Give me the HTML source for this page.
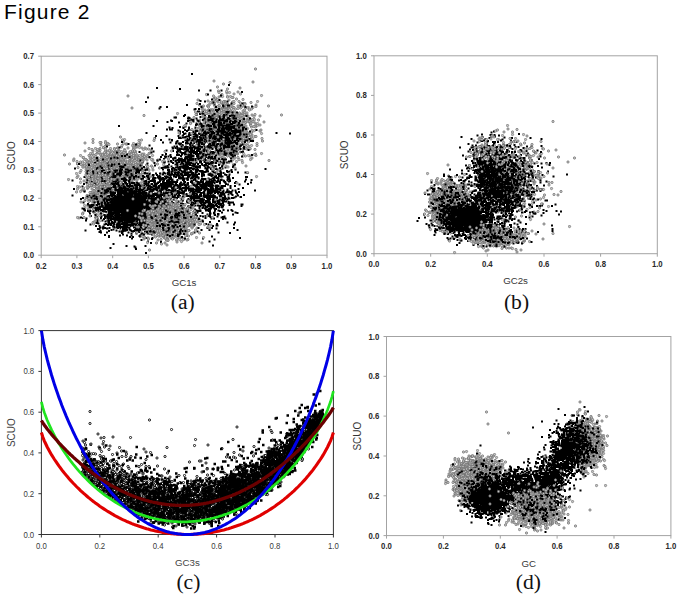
<!DOCTYPE html>
<html><head><meta charset="utf-8"><style>
html,body{margin:0;padding:0;background:#fff;width:685px;height:602px;overflow:hidden}
svg{display:block;font-family:"Liberation Sans",sans-serif}
</style></head><body>
<svg width="685" height="602" viewBox="0 0 685 602">
<defs><marker id="gc" markerWidth="8" markerHeight="8" refX="4" refY="4" markerUnits="userSpaceOnUse"><circle cx="4" cy="4" r="2.3" fill="#c4c4c4" stroke="#6e6e6e" stroke-width="1.4"/></marker><marker id="oc" markerWidth="8" markerHeight="8" refX="4" refY="4" markerUnits="userSpaceOnUse"><circle cx="4" cy="4" r="2.2" fill="#fff" stroke="#000" stroke-width="1.8"/></marker><clipPath id="clc"><rect x="39.4" y="330.6" width="296" height="205.9"/></clipPath></defs>
<text x="4" y="18.6" font-size="21" letter-spacing="1.2" fill="#000">Figure 2</text>
<rect x="41.2" y="56.2" width="285.8" height="199" fill="none" stroke="#a3a3a3" stroke-width="1"/>
<path d="M41.2 255.2v3M76.9 255.2v3M112.7 255.2v3M148.4 255.2v3M184.1 255.2v3M219.8 255.2v3M255.6 255.2v3M291.3 255.2v3M327 255.2v3M41.2 255.2h-3M41.2 226.8h-3M41.2 198.3h-3M41.2 169.9h-3M41.2 141.5h-3M41.2 113.1h-3M41.2 84.6h-3M41.2 56.2h-3" stroke="#a3a3a3" stroke-width="1" fill="none"/>
<text x="41.2" y="268.8" text-anchor="middle" font-size="8.3" font-weight="bold" fill="#2a2a2a" textLength="10.8" lengthAdjust="spacingAndGlyphs">0.2</text>
<text x="76.9" y="268.8" text-anchor="middle" font-size="8.3" font-weight="bold" fill="#2a2a2a" textLength="10.8" lengthAdjust="spacingAndGlyphs">0.3</text>
<text x="112.7" y="268.8" text-anchor="middle" font-size="8.3" font-weight="bold" fill="#2a2a2a" textLength="10.8" lengthAdjust="spacingAndGlyphs">0.4</text>
<text x="148.4" y="268.8" text-anchor="middle" font-size="8.3" font-weight="bold" fill="#2a2a2a" textLength="10.8" lengthAdjust="spacingAndGlyphs">0.5</text>
<text x="184.1" y="268.8" text-anchor="middle" font-size="8.3" font-weight="bold" fill="#2a2a2a" textLength="10.8" lengthAdjust="spacingAndGlyphs">0.6</text>
<text x="219.8" y="268.8" text-anchor="middle" font-size="8.3" font-weight="bold" fill="#2a2a2a" textLength="10.8" lengthAdjust="spacingAndGlyphs">0.7</text>
<text x="255.6" y="268.8" text-anchor="middle" font-size="8.3" font-weight="bold" fill="#2a2a2a" textLength="10.8" lengthAdjust="spacingAndGlyphs">0.8</text>
<text x="291.3" y="268.8" text-anchor="middle" font-size="8.3" font-weight="bold" fill="#2a2a2a" textLength="10.8" lengthAdjust="spacingAndGlyphs">0.9</text>
<text x="327" y="268.8" text-anchor="middle" font-size="8.3" font-weight="bold" fill="#2a2a2a" textLength="10.8" lengthAdjust="spacingAndGlyphs">1.0</text>
<text x="34" y="258.2" text-anchor="end" font-size="8.3" font-weight="bold" fill="#2a2a2a" textLength="10.8" lengthAdjust="spacingAndGlyphs">0.0</text>
<text x="34" y="229.8" text-anchor="end" font-size="8.3" font-weight="bold" fill="#2a2a2a" textLength="10.8" lengthAdjust="spacingAndGlyphs">0.1</text>
<text x="34" y="201.3" text-anchor="end" font-size="8.3" font-weight="bold" fill="#2a2a2a" textLength="10.8" lengthAdjust="spacingAndGlyphs">0.2</text>
<text x="34" y="172.9" text-anchor="end" font-size="8.3" font-weight="bold" fill="#2a2a2a" textLength="10.8" lengthAdjust="spacingAndGlyphs">0.3</text>
<text x="34" y="144.5" text-anchor="end" font-size="8.3" font-weight="bold" fill="#2a2a2a" textLength="10.8" lengthAdjust="spacingAndGlyphs">0.4</text>
<text x="34" y="116.1" text-anchor="end" font-size="8.3" font-weight="bold" fill="#2a2a2a" textLength="10.8" lengthAdjust="spacingAndGlyphs">0.5</text>
<text x="34" y="87.6" text-anchor="end" font-size="8.3" font-weight="bold" fill="#2a2a2a" textLength="10.8" lengthAdjust="spacingAndGlyphs">0.6</text>
<text x="34" y="59.2" text-anchor="end" font-size="8.3" font-weight="bold" fill="#2a2a2a" textLength="10.8" lengthAdjust="spacingAndGlyphs">0.7</text>
<text x="184.1" y="286.2" text-anchor="middle" font-size="9.7" fill="#363636">GC1s</text>
<text transform="translate(15.2 155.7) rotate(-90)" text-anchor="middle" font-size="10" fill="#363636">SCUO</text>
<rect x="374" y="55.8" width="283.3" height="197.9" fill="none" stroke="#a3a3a3" stroke-width="1"/>
<path d="M374 253.7v3M430.7 253.7v3M487.3 253.7v3M544 253.7v3M600.6 253.7v3M657.3 253.7v3M374 253.7h-3M374 214.1h-3M374 174.5h-3M374 135h-3M374 95.4h-3M374 55.8h-3" stroke="#a3a3a3" stroke-width="1" fill="none"/>
<text x="374" y="266.9" text-anchor="middle" font-size="8.3" font-weight="bold" fill="#2a2a2a" textLength="10.8" lengthAdjust="spacingAndGlyphs">0.0</text>
<text x="430.7" y="266.9" text-anchor="middle" font-size="8.3" font-weight="bold" fill="#2a2a2a" textLength="10.8" lengthAdjust="spacingAndGlyphs">0.2</text>
<text x="487.3" y="266.9" text-anchor="middle" font-size="8.3" font-weight="bold" fill="#2a2a2a" textLength="10.8" lengthAdjust="spacingAndGlyphs">0.4</text>
<text x="544" y="266.9" text-anchor="middle" font-size="8.3" font-weight="bold" fill="#2a2a2a" textLength="10.8" lengthAdjust="spacingAndGlyphs">0.6</text>
<text x="600.6" y="266.9" text-anchor="middle" font-size="8.3" font-weight="bold" fill="#2a2a2a" textLength="10.8" lengthAdjust="spacingAndGlyphs">0.8</text>
<text x="657.3" y="266.9" text-anchor="middle" font-size="8.3" font-weight="bold" fill="#2a2a2a" textLength="10.8" lengthAdjust="spacingAndGlyphs">1.0</text>
<text x="366.8" y="256.7" text-anchor="end" font-size="8.3" font-weight="bold" fill="#2a2a2a" textLength="10.8" lengthAdjust="spacingAndGlyphs">0.0</text>
<text x="366.8" y="217.1" text-anchor="end" font-size="8.3" font-weight="bold" fill="#2a2a2a" textLength="10.8" lengthAdjust="spacingAndGlyphs">0.2</text>
<text x="366.8" y="177.5" text-anchor="end" font-size="8.3" font-weight="bold" fill="#2a2a2a" textLength="10.8" lengthAdjust="spacingAndGlyphs">0.4</text>
<text x="366.8" y="138" text-anchor="end" font-size="8.3" font-weight="bold" fill="#2a2a2a" textLength="10.8" lengthAdjust="spacingAndGlyphs">0.6</text>
<text x="366.8" y="98.4" text-anchor="end" font-size="8.3" font-weight="bold" fill="#2a2a2a" textLength="10.8" lengthAdjust="spacingAndGlyphs">0.8</text>
<text x="366.8" y="58.8" text-anchor="end" font-size="8.3" font-weight="bold" fill="#2a2a2a" textLength="10.8" lengthAdjust="spacingAndGlyphs">1.0</text>
<text x="515.6" y="283.7" text-anchor="middle" font-size="9.7" fill="#363636">GC2s</text>
<text transform="translate(348 154.8) rotate(-90)" text-anchor="middle" font-size="10" fill="#363636">SCUO</text>
<rect x="41.4" y="330.6" width="292" height="203.9" fill="none" stroke="#333" stroke-width="1"/>
<path d="M41.4 534.5v3M99.8 534.5v3M158.2 534.5v3M216.6 534.5v3M275 534.5v3M333.4 534.5v3M41.4 534.5h-3M41.4 493.7h-3M41.4 452.9h-3M41.4 412.2h-3M41.4 371.4h-3M41.4 330.6h-3" stroke="#333" stroke-width="1" fill="none"/>
<text x="41.4" y="549.1" text-anchor="middle" font-size="8.3" font-weight="normal" fill="#3a3a3a" textLength="10.8" lengthAdjust="spacingAndGlyphs">0.0</text>
<text x="99.8" y="549.1" text-anchor="middle" font-size="8.3" font-weight="normal" fill="#3a3a3a" textLength="10.8" lengthAdjust="spacingAndGlyphs">0.2</text>
<text x="158.2" y="549.1" text-anchor="middle" font-size="8.3" font-weight="normal" fill="#3a3a3a" textLength="10.8" lengthAdjust="spacingAndGlyphs">0.4</text>
<text x="216.6" y="549.1" text-anchor="middle" font-size="8.3" font-weight="normal" fill="#3a3a3a" textLength="10.8" lengthAdjust="spacingAndGlyphs">0.6</text>
<text x="275" y="549.1" text-anchor="middle" font-size="8.3" font-weight="normal" fill="#3a3a3a" textLength="10.8" lengthAdjust="spacingAndGlyphs">0.8</text>
<text x="333.4" y="549.1" text-anchor="middle" font-size="8.3" font-weight="normal" fill="#3a3a3a" textLength="10.8" lengthAdjust="spacingAndGlyphs">1.0</text>
<text x="34.2" y="537.5" text-anchor="end" font-size="8.3" font-weight="normal" fill="#3a3a3a" textLength="10.8" lengthAdjust="spacingAndGlyphs">0.0</text>
<text x="34.2" y="496.7" text-anchor="end" font-size="8.3" font-weight="normal" fill="#3a3a3a" textLength="10.8" lengthAdjust="spacingAndGlyphs">0.2</text>
<text x="34.2" y="455.9" text-anchor="end" font-size="8.3" font-weight="normal" fill="#3a3a3a" textLength="10.8" lengthAdjust="spacingAndGlyphs">0.4</text>
<text x="34.2" y="415.2" text-anchor="end" font-size="8.3" font-weight="normal" fill="#3a3a3a" textLength="10.8" lengthAdjust="spacingAndGlyphs">0.6</text>
<text x="34.2" y="374.4" text-anchor="end" font-size="8.3" font-weight="normal" fill="#3a3a3a" textLength="10.8" lengthAdjust="spacingAndGlyphs">0.8</text>
<text x="34.2" y="333.6" text-anchor="end" font-size="8.3" font-weight="normal" fill="#3a3a3a" textLength="10.8" lengthAdjust="spacingAndGlyphs">1.0</text>
<text x="187.4" y="565.5" text-anchor="middle" font-size="9.7" fill="#444">GC3s</text>
<text transform="translate(15.4 432.6) rotate(-90)" text-anchor="middle" font-size="10" fill="#444">SCUO</text>
<rect x="386.5" y="336.5" width="284.4" height="199.1" fill="none" stroke="#a3a3a3" stroke-width="1"/>
<path d="M386.5 535.6v3M443.4 535.6v3M500.3 535.6v3M557.1 535.6v3M614 535.6v3M670.9 535.6v3M386.5 535.6h-3M386.5 495.8h-3M386.5 456h-3M386.5 416.1h-3M386.5 376.3h-3M386.5 336.5h-3" stroke="#a3a3a3" stroke-width="1" fill="none"/>
<text x="386.5" y="549.3" text-anchor="middle" font-size="8.3" font-weight="bold" fill="#2a2a2a" textLength="10.8" lengthAdjust="spacingAndGlyphs">0.0</text>
<text x="443.4" y="549.3" text-anchor="middle" font-size="8.3" font-weight="bold" fill="#2a2a2a" textLength="10.8" lengthAdjust="spacingAndGlyphs">0.2</text>
<text x="500.3" y="549.3" text-anchor="middle" font-size="8.3" font-weight="bold" fill="#2a2a2a" textLength="10.8" lengthAdjust="spacingAndGlyphs">0.4</text>
<text x="557.1" y="549.3" text-anchor="middle" font-size="8.3" font-weight="bold" fill="#2a2a2a" textLength="10.8" lengthAdjust="spacingAndGlyphs">0.6</text>
<text x="614" y="549.3" text-anchor="middle" font-size="8.3" font-weight="bold" fill="#2a2a2a" textLength="10.8" lengthAdjust="spacingAndGlyphs">0.8</text>
<text x="670.9" y="549.3" text-anchor="middle" font-size="8.3" font-weight="bold" fill="#2a2a2a" textLength="10.8" lengthAdjust="spacingAndGlyphs">1.0</text>
<text x="379.3" y="538.6" text-anchor="end" font-size="8.3" font-weight="bold" fill="#2a2a2a" textLength="10.8" lengthAdjust="spacingAndGlyphs">0.0</text>
<text x="379.3" y="498.8" text-anchor="end" font-size="8.3" font-weight="bold" fill="#2a2a2a" textLength="10.8" lengthAdjust="spacingAndGlyphs">0.2</text>
<text x="379.3" y="459" text-anchor="end" font-size="8.3" font-weight="bold" fill="#2a2a2a" textLength="10.8" lengthAdjust="spacingAndGlyphs">0.4</text>
<text x="379.3" y="419.1" text-anchor="end" font-size="8.3" font-weight="bold" fill="#2a2a2a" textLength="10.8" lengthAdjust="spacingAndGlyphs">0.6</text>
<text x="379.3" y="379.3" text-anchor="end" font-size="8.3" font-weight="bold" fill="#2a2a2a" textLength="10.8" lengthAdjust="spacingAndGlyphs">0.8</text>
<text x="379.3" y="339.5" text-anchor="end" font-size="8.3" font-weight="bold" fill="#2a2a2a" textLength="10.8" lengthAdjust="spacingAndGlyphs">1.0</text>
<text x="528.7" y="566.6" text-anchor="middle" font-size="9.7" fill="#363636">GC</text>
<text transform="translate(360.5 436.1) rotate(-90)" text-anchor="middle" font-size="10" fill="#363636">SCUO</text>
<path transform="scale(0.5)" d="M207 449h4M227 409h4M255 397h4M209 433h4M271 365h4M343 441h4M231 439h4M241 414h4M286 383h4M279 452h4M306 408h4M291 374h4M252 428h4M210 414h4M320 484h4M286 438h4M223 385h4M207 430h4M285 399h4M214 423h4M269 413h4M304 414h4M256 387h4M263 451h4M260 418h4M274 423h4M277 430h4M280 395h4M269 374h4M268 383h4M255 428h4M243 419h4M199 394h4M283 386h4M281 380h4M225 388h4M258 430h4M220 411h4M316 408h4M229 426h4M250 398h4M193 437h4M237 416h4M220 450h4M285 442h4M254 428h4M290 443h4M269 414h4M245 397h4M223 425h4M249 364h4M252 444h4M248 368h4M254 436h4M265 405h4M325 465h4M254 437h4M272 436h4M310 437h4M261 399h4M229 415h4M300 424h4M260 423h4M259 430h4M218 365h4M243 386h4M316 412h4M249 376h4M268 400h4M298 438h4M230 427h4M160 398h4M303 437h4M264 415h4M207 381h4M266 462h4M180 432h4M280 441h4M227 402h4M260 389h4M214 393h4M255 426h4M257 418h4M233 397h4M298 415h4M255 440h4M303 449h4M273 415h4M268 421h4M308 424h4M281 415h4M307 363h4M272 436h4M216 472h4M253 412h4M219 439h4M266 401h4M266 434h4M302 422h4M223 402h4M175 397h4M285 428h4M254 407h4M315 423h4M291 426h4M234 456h4M213 385h4M243 397h4M238 400h4M294 417h4M271 375h4M228 444h4M215 447h4M221 424h4M228 421h4M226 409h4M318 406h4M331 404h4M216 418h4M243 462h4M289 447h4M281 480h4M287 430h4M228 392h4M265 442h4M298 391h4M277 421h4M218 429h4M176 423h4M347 389h4M259 367h4M231 436h4M220 415h4M245 406h4M265 429h4M302 438h4M238 453h4M303 375h4M282 437h4M293 430h4M211 409h4M183 412h4M331 434h4M288 403h4M221 388h4M262 395h4M235 446h4M199 382h4M240 413h4M253 380h4M265 413h4M271 388h4M267 422h4M234 410h4M238 451h4M146 378h4M197 406h4M234 405h4M284 374h4M228 410h4M215 426h4M270 398h4M194 458h4M275 427h4M261 416h4M288 416h4M235 434h4M260 396h4M225 446h4M281 467h4M239 397h4M273 452h4M279 427h4M326 397h4M213 397h4M247 426h4M295 427h4M313 394h4M327 395h4M300 392h4M270 417h4M277 436h4M250 414h4M267 382h4M232 374h4M258 474h4M285 393h4M233 441h4M241 374h4M221 389h4M221 434h4M261 377h4M239 386h4M214 377h4M321 408h4M279 439h4M244 430h4M277 422h4M336 423h4M250 433h4M322 442h4M241 394h4M224 399h4M272 438h4M176 416h4M218 434h4M291 396h4M242 391h4M272 374h4M217 398h4M302 478h4M259 384h4M261 393h4M275 387h4M245 416h4M277 414h4M304 419h4M193 440h4M248 399h4M312 390h4M261 397h4M307 407h4M266 380h4M310 388h4M291 445h4M302 463h4M216 426h4M263 427h4M298 419h4M229 413h4M313 385h4M261 390h4M298 373h4M246 413h4M262 477h4M314 389h4M336 385h4M191 377h4M265 430h4M178 427h4M248 434h4M244 439h4M278 386h4M310 422h4M284 449h4M223 414h4M228 391h4M268 425h4M306 452h4M257 394h4M373 472h4M254 392h4M243 423h4M299 441h4M274 410h4M264 408h4M261 413h4M277 367h4M246 408h4M217 412h4M220 399h4M248 409h4M237 445h4M265 424h4M266 399h4M226 438h4M245 370h4M179 422h4M231 414h4M238 405h4M252 384h4M257 442h4M283 371h4M210 381h4M249 438h4M270 370h4M260 437h4M242 466h4M235 446h4M343 383h4M246 431h4M374 369h4M278 423h4M243 394h4M239 408h4M212 457h4M218 405h4M234 405h4M261 396h4M249 461h4M296 409h4M291 396h4M266 379h4M217 393h4M303 422h4M278 420h4M271 427h4M286 420h4M225 395h4M302 453h4M278 373h4M315 424h4M255 417h4M245 462h4M319 388h4M251 424h4M304 353h4M292 459h4M246 415h4M303 426h4M210 385h4M220 379h4M257 402h4M259 434h4M322 421h4M190 452h4M253 446h4M241 424h4M253 415h4M303 399h4M263 421h4M243 358h4M270 342h4M203 404h4M273 438h4M287 431h4M244 447h4M248 445h4M177 391h4M237 416h4M171 437h4M293 436h4M239 453h4M238 439h4M255 415h4M252 415h4M298 453h4M309 439h4M282 427h4M321 404h4M235 417h4M197 409h4M255 389h4M237 434h4M249 418h4M295 400h4M216 415h4M273 368h4M281 407h4M243 393h4M251 441h4M276 437h4M244 457h4M304 415h4M163 417h4M357 414h4M221 460h4M236 429h4M285 378h4M262 447h4M246 433h4M257 443h4M325 387h4M248 426h4M235 394h4M245 409h4M234 424h4M287 435h4M282 447h4M209 413h4M265 430h4M200 465h4M226 423h4M285 444h4M233 402h4M271 431h4M291 415h4M233 381h4M321 380h4M283 423h4M286 441h4M307 415h4M272 365h4M260 392h4M253 448h4M262 444h4M251 427h4M243 350h4M232 409h4M264 416h4M254 441h4M281 406h4M290 365h4M248 412h4M305 402h4M205 421h4M319 411h4M255 411h4M260 450h4M329 429h4M255 465h4M262 418h4M246 408h4M267 409h4M274 419h4M279 406h4M251 423h4M261 419h4M301 389h4M189 435h4M250 452h4M256 386h4M338 427h4M242 397h4M279 399h4M273 447h4M209 407h4M276 460h4M292 405h4M311 407h4M253 426h4M219 496h4M302 422h4M238 386h4M272 434h4M244 411h4M278 415h4M192 434h4M267 435h4M231 361h4M213 424h4M333 477h4M269 378h4M246 428h4M274 419h4M306 393h4M180 393h4M216 474h4M251 379h4M280 442h4M260 421h4M295 430h4M233 431h4M292 425h4M290 431h4M250 412h4M280 402h4M300 448h4M185 414h4M231 400h4M263 412h4M278 424h4M271 396h4M246 454h4M169 461h4M238 447h4M165 405h4M289 420h4M295 393h4M238 399h4M276 428h4M254 409h4M248 418h4M224 415h4M253 402h4M238 454h4M236 427h4M307 435h4M259 442h4M207 384h4M244 410h4M255 465h4M319 415h4M267 392h4M270 381h4M308 403h4M278 382h4M308 432h4M329 418h4M200 396h4M213 457h4M236 396h4M279 423h4M276 403h4M186 381h4M179 449h4M291 406h4M280 434h4M281 430h4M290 418h4M178 344h4M304 432h4M168 421h4M226 402h4M164 436h4M255 437h4M297 450h4M317 424h4M266 399h4M277 410h4M216 447h4M284 346h4M191 410h4M210 448h4M265 431h4M292 451h4M248 433h4M268 437h4M279 454h4M278 404h4M263 387h4M270 456h4M237 373h4M256 403h4M259 401h4M261 390h4M315 411h4M277 436h4M253 428h4M250 405h4M251 429h4M213 393h4M230 402h4M301 416h4M248 420h4M297 397h4M296 356h4M227 455h4M315 422h4M244 438h4M244 457h4M302 437h4M229 442h4M250 411h4M244 414h4M278 439h4M290 506h4M248 448h4M236 412h4M218 449h4M270 421h4M256 442h4M242 428h4M352 414h4M238 392h4M290 420h4M234 396h4M262 392h4M337 413h4M254 416h4M195 380h4M248 417h4M216 462h4M277 452h4M303 412h4M349 421h4M193 357h4M261 441h4M264 463h4M250 433h4M288 391h4M272 428h4M301 450h4M297 398h4M287 446h4M262 438h4M289 449h4M264 430h4M268 420h4M239 409h4M220 413h4M285 434h4M288 415h4M311 406h4M288 429h4M234 399h4M287 419h4M270 498h4M281 421h4M287 402h4M254 429h4M231 417h4M254 421h4M197 464h4M258 432h4M223 384h4M262 410h4M284 394h4M225 427h4M286 442h4M260 425h4M232 452h4M302 447h4M203 441h4M234 431h4M276 450h4M254 409h4M224 387h4M281 394h4M285 408h4M240 443h4M291 392h4M254 417h4M284 398h4M245 415h4M285 441h4M241 463h4M275 397h4M204 404h4M174 422h4M280 450h4M278 373h4M250 435h4M182 396h4M282 419h4M188 404h4M261 471h4M244 394h4M269 426h4M280 455h4M257 382h4M261 418h4M295 439h4M233 437h4M296 413h4M294 422h4M266 414h4M289 492h4M268 387h4M252 402h4M272 414h4M351 437h4M327 399h4M252 471h4M200 421h4M204 457h4M209 410h4M254 374h4M349 413h4M319 399h4M207 423h4M267 493h4M222 377h4M234 425h4M280 398h4M247 431h4M299 402h4M264 345h4M225 428h4M259 412h4M317 410h4M220 422h4M267 387h4M295 461h4M238 394h4M256 449h4M239 398h4M238 423h4M267 413h4M303 476h4M239 444h4M269 495h4M228 408h4M263 380h4M252 436h4M207 420h4M324 401h4M227 351h4M256 375h4M280 460h4M280 396h4M283 405h4M219 404h4M268 407h4M278 473h4M281 437h4M235 452h4M272 443h4M231 423h4M174 408h4M229 391h4M322 377h4M254 413h4M278 443h4M201 403h4M234 435h4M293 406h4M239 390h4M272 460h4M272 398h4M229 398h4M199 462h4M261 408h4M339 422h4M312 423h4M298 418h4M245 427h4M284 445h4M266 410h4M245 424h4M241 408h4M278 432h4M277 397h4M206 423h4M263 406h4M266 438h4M251 427h4M223 411h4M228 379h4M274 342h4M256 436h4M273 376h4M267 369h4M226 453h4M264 447h4M219 362h4M231 449h4M291 444h4M253 414h4M251 492h4M261 462h4M252 452h4M219 403h4M271 401h4M244 412h4M239 457h4M299 380h4M320 415h4M258 412h4M290 435h4M240 418h4M212 465h4M228 393h4M233 420h4M286 407h4M260 408h4M305 423h4M198 455h4M271 467h4M237 404h4M253 380h4M246 450h4M284 354h4M306 426h4M289 418h4M266 418h4M261 390h4M297 423h4M273 426h4M248 415h4M211 424h4M269 411h4M197 452h4M253 416h4M248 401h4M245 388h4M238 471h4M302 469h4M237 368h4M210 348h4M298 449h4M263 427h4M273 414h4M286 391h4M243 413h4M198 391h4M275 426h4M170 441h4M272 437h4M257 432h4M213 411h4M221 403h4M302 459h4M261 405h4M287 429h4M328 433h4M175 419h4M248 396h4M264 418h4M247 456h4M273 427h4M265 449h4M219 448h4M251 456h4M311 430h4M243 424h4M272 379h4M248 399h4M309 461h4M233 403h4M212 424h4M288 463h4M213 441h4M254 398h4M247 397h4M275 417h4M302 403h4M192 391h4M271 379h4M232 431h4" stroke="#000" stroke-width="4"/>
<polyline transform="scale(0.5)" points="188,352 246,322 233,324 221,328 236,333 210,314 305,311 230,360 268,319 303,371 224,309 256,331 225,318 215,338 265,291 154,355 206,349 238,361 266,329 229,341 260,321 183,337 233,331 201,347 176,324 279,311 249,344 249,299 269,338 252,341 237,360 284,296 209,331 161,365 209,346 242,330 201,327 238,351 228,326 227,362 245,321 192,326 204,326 281,349 243,343 294,311 250,330 240,336 224,346 162,341 258,315 202,375 205,327 209,322 212,291 316,320 248,333 281,349 273,359 263,335 266,301 265,349 245,307 280,321 256,296 229,321 209,321 295,334 246,379 187,367 222,321 221,297 183,311 216,349 272,327 247,344 227,339 215,346 227,335 243,338 211,306 232,323 217,332 211,344 248,316 247,314 259,347 234,353 269,344 173,337 241,351 201,349 246,343 193,316 273,352 232,357 243,326 181,355 230,339 174,323 244,329 209,311 241,326 223,328 212,327 213,335 188,311 235,330 239,376 259,357 248,331 207,295 186,285 196,301 201,333 220,352 264,355 263,339 217,343 225,330 248,311 179,341 294,357 361,305 212,286 205,373 288,313 223,317 189,329 223,336 243,348 280,332 227,334 249,331 201,323 259,313 261,305 255,346 227,333 226,369 219,319 247,357 245,331 268,318 208,308 275,288 191,339 248,370 248,324 280,356 273,356 251,304 199,375 235,296 236,354 247,334 156,335 229,369 234,333 219,331 243,323 204,308 238,327 223,302 207,295 266,358 247,331 249,303 189,358 199,333 211,283 211,351 278,281 181,322 267,359 287,369 219,313 265,328 235,326 220,353 200,297 210,336 223,331 166,315 270,330 210,357 214,349 240,342 268,380 276,316 195,326 227,348 234,337 175,332 250,369 259,335 193,333 233,330 238,344 248,380 199,300 246,307 225,331 205,349 254,336 253,351 222,345 237,333 216,369 243,303 249,279 241,349 280,337 208,373 267,360 223,346 172,343 161,311 182,357 263,320 274,334 165,324 173,334 244,317 259,355 201,344 228,327 289,318 220,331 251,349 200,361 294,375 238,322 196,340 229,332 211,286 222,329 220,303 223,330 194,346 231,336 246,328 230,344 258,352 226,349 271,304 219,332 232,371 273,330 229,304 199,361 174,346 209,327 229,372 244,344 267,287 297,298 209,348 191,297 273,327 265,344 227,369 225,376 203,313 210,339 195,319 283,338 273,342 214,318 240,336 216,322 283,356 244,327 220,376 214,383 212,303 303,332 286,343 226,354 224,343 229,297 247,323 229,343 186,345 254,374 262,341 212,333 186,342 227,326 234,343 242,309 278,334 245,334 202,339 220,316 237,349 254,338 213,327 229,304 260,335 190,365 298,307 227,316 259,305 250,341 270,294 207,329 265,335 258,343 203,331 220,327 202,349 243,294 258,322 183,358 232,341 228,332 172,349 208,333 230,313 190,330 276,319 212,335 213,360 248,385 240,380 213,338 197,325 223,346 279,328 185,334 228,324 263,358 211,319 147,321 263,315 265,348 255,348 232,356 271,342 234,362 286,322 264,336 315,328 214,316 266,313 257,324 281,368 274,294 186,279 325,323 222,336 256,328 238,335 191,373 294,336 231,374 319,336 256,327 247,282 160,345 230,344 239,348 245,332 251,322 284,315 223,355 224,356 286,352 222,376 253,316 306,340 258,355 220,355 195,315 224,382 258,361 223,347 166,331 252,324 170,302 259,365 225,370 193,349 248,358 186,357 241,318 221,331 246,318 207,337 235,346 267,296 233,340 237,312 260,371 229,318 262,335 239,339 219,334 210,293 270,341 232,363 229,358 263,328 192,344 242,356 182,332 242,342 239,341 155,328 211,302 238,326 195,305 245,280 231,310 239,375 269,333 286,374 268,374 242,348 232,326 236,318 231,381 259,330 294,365 198,320 294,337 241,323 197,359 207,346 299,346 228,348 254,325 244,309 175,323 174,321 230,338 299,315 219,324 200,377 207,329 228,386 223,318 277,320 161,358 266,303 191,333 200,301 192,372 271,311 228,336 221,333 294,320 206,332 209,324 217,312 274,319 278,315 200,338 223,351 256,383 129,310 230,328 230,389 153,347 224,333 270,331 260,361 274,292 209,305 204,328 305,319 221,329 284,320 247,350 252,288 185,347 169,327 178,340 229,298 221,308 210,359 240,339 284,334 276,340 239,324 201,309 197,343 244,313 273,318 216,302 201,350 245,318 273,330 233,354 246,324 193,359 148,318 169,319 260,324 215,331 298,361 238,318 216,339 222,329 194,303 192,337 199,386 250,346 265,310 191,327 252,344 289,363 269,357 242,352 224,325 267,299 283,374 218,351 242,314 249,347 271,329 241,323 271,334 266,321 241,317 211,359 230,334 262,318 303,319 223,382 178,373 250,347 201,339 193,357 228,322 220,332 270,343 210,317 200,352 252,311 180,334 216,346 231,343 263,357 228,350 215,309 242,360 283,333 176,341 227,347 271,325 210,326 211,313 241,318 224,327 213,347 218,332 261,331 184,324 217,347 290,338 229,364 210,340 249,332 227,337 285,345 213,339 266,371 260,337 280,352 238,320 236,353 197,300 250,301 189,329 225,334 238,344 229,316 137,359 259,346 231,314 248,331 186,354 184,324 291,316 238,355 232,303 215,331 181,362 242,347 240,340 219,301 254,333 284,308 236,377 185,307 238,367 190,333 224,320 222,357 235,304 209,334 183,317 216,287 293,298 232,328 209,357 232,314 269,343 195,299 260,328 180,343 181,317 202,290 253,405 252,340 221,330 239,345 213,332 223,344 263,355 216,322 255,327 224,342 245,361 191,356 216,347 188,330 211,370 200,357 205,310 243,356 231,346 241,332 280,334 263,309 227,353 218,289 259,346 224,336 222,342 271,341 231,324 229,323 267,312 214,341 246,339 220,338 186,302 191,342 281,325 216,328 296,339 238,323 252,362 242,318 280,334 296,313 230,340 176,337 256,332 250,339 207,350 210,328 210,348 219,325 162,329 269,291 247,334 176,326 267,334 246,358 224,352 192,316 284,363 266,303 227,316 300,306 192,322 246,323 225,341 236,296 193,369 237,373 285,358 238,367 221,382 256,348 223,324 228,325 208,314 244,361 304,352 234,349 296,339 272,345 243,325 263,320 205,344 271,356 267,330 234,360 308,281 279,341 237,321 217,312 247,316 232,305 278,350 198,346 224,318 240,354 288,342 277,350 260,356 192,328 288,308 209,375 203,338 246,330 268,354 213,372 209,326 231,339 199,340 161,324 205,320 232,339 209,334 183,326 265,319 223,333 260,341 227,313 241,274 247,318 254,332 278,320 166,334 216,331 272,314 255,351 268,292 237,319 225,316 221,352 290,347 191,359 191,325 270,321 256,328 194,337 215,369 294,365 199,372 243,344 239,322 237,351 285,345 233,323 222,367 256,338 178,297 255,346 270,337 211,298 202,285 243,343 279,295 185,346 244,291 209,335 219,341 234,321 245,331 271,303 224,319 224,341 254,288 271,344 250,334 264,342 172,319 224,325 217,346 194,317 199,332 247,314 245,321 280,286 232,357 220,310 203,344 214,355 234,321 218,343 267,316 192,309 249,371 215,347 219,353 183,346 189,316 244,328 231,344 240,365 259,316 231,322 219,371 207,360 285,391 234,339 244,326 294,375 155,327 274,312 210,334 233,330 229,372 154,323 194,339 218,344 233,382 188,323 263,325 238,301 257,331 252,314 214,315 290,296 247,339 276,339 197,344 173,355 229,317 215,345 175,369 208,365 238,374 191,352 230,319 261,328 207,328 205,328 231,356 229,316 258,325 199,307 293,330 288,312 195,369 223,329 224,311 267,307 258,310 322,348 270,296 244,319 202,315 260,334 215,320 210,321 222,308 200,285 231,345 215,362 205,333 272,338 204,340 218,356 258,328 250,370 271,351 226,320 206,355 195,341 287,299 244,312 228,344 198,305 218,337 219,313 256,309 183,335 306,322 229,311 211,309 242,318 205,353 182,353 226,313 231,327 243,328 297,355 271,307 220,358 253,334 230,355 167,315 185,358 185,327 279,327 243,334 256,380 193,332 290,384 226,363 256,347 184,299 238,331 230,308 283,330 327,329 246,350 221,312 214,334 216,376 216,350 262,338 197,345 266,337 235,288 196,330 240,350 223,338 198,347 259,331 267,327 217,328 302,300 241,326 238,303 259,348 225,325 236,354 182,364 223,352 206,376 244,372 214,321 274,350 247,361 250,328 170,286 258,347 204,346 228,336 269,302 248,346 229,339 197,338 257,352 212,352 246,349 234,348 243,387 225,359 235,303 252,361 261,352 208,341 188,373 289,313 222,309 210,325 195,325 257,329 260,331 239,308 267,311 223,307 252,312 255,376 247,287 269,339 256,344 275,357 234,309 233,351 172,338 174,359 300,354 221,352 282,371 285,359 202,333 252,336 169,332 212,340 248,305 210,339 200,334 207,320 266,332 217,368 225,334 236,399 257,353 223,353 274,310 251,370 298,340 315,321 272,347 200,357 192,321 233,310 277,326 194,341 236,312 218,354 265,302 270,356 276,325 210,334 214,330 216,330 220,336 242,330 218,370 269,346 207,349 231,348 245,389 237,314 274,360 283,280 204,318 180,338 259,358 267,336 289,340 139,328 209,342 220,327 282,318 187,339 256,331 233,321 188,317 197,360 224,364 228,314 240,338 279,290 218,342 207,336 223,364 277,289 180,316 231,330 215,346 263,336 223,334 205,351 262,314 284,333 262,334 227,349 200,328 192,344 226,327 215,347 243,329 218,372 285,310 275,345 244,343 187,386 305,335 234,337 211,345 233,311 217,320 212,326 255,324 177,364 213,364 241,345 204,335 220,332 249,325 261,303 196,343 251,356 289,343 259,339 239,332 237,322 228,351 251,358 218,326 248,316 203,347 223,352 236,324 197,359 230,314 181,307" fill="none" stroke="none" marker-start="url(#gc)" marker-mid="url(#gc)" marker-end="url(#gc)"/>
<path transform="scale(0.5)" d="M221 376h4M203 357h4M242 284h4M190 367h4M163 373h4M233 316h4M297 348h4M287 354h4M207 373h4M294 376h4M192 363h4M192 338h4M279 321h4M318 319h4M188 365h4M225 347h4M200 365h4M240 348h4M204 319h4M232 305h4M210 362h4M256 341h4M143 361h4M263 351h4M277 371h4M174 345h4M215 382h4M270 352h4M252 368h4M208 346h4M229 341h4M221 355h4M188 326h4M259 381h4M297 314h4M245 333h4M214 345h4M246 361h4M148 337h4M270 352h4M176 330h4M204 370h4M293 327h4M249 344h4M252 345h4M193 336h4M209 379h4M205 361h4M202 336h4M239 338h4M299 376h4M192 360h4M283 325h4M217 379h4M203 362h4M228 353h4M195 348h4M216 385h4M253 351h4M230 363h4M176 329h4M199 333h4M174 360h4M215 375h4M227 341h4M246 358h4M221 361h4M274 340h4M276 345h4M261 348h4M218 355h4M192 316h4M229 344h4M192 392h4M245 334h4M249 360h4M217 344h4M167 354h4M296 372h4M267 337h4M194 367h4M241 345h4M220 368h4M253 339h4M227 315h4M190 360h4M215 331h4M240 375h4M202 342h4M222 398h4M266 354h4M182 364h4M251 345h4M205 340h4M174 341h4M215 331h4M220 317h4M270 346h4M190 364h4M250 339h4M185 347h4M247 362h4M262 366h4M180 351h4M166 368h4M244 368h4M232 349h4M212 293h4M224 401h4M274 344h4M242 358h4M211 349h4M242 339h4M246 374h4M259 355h4M225 364h4M213 336h4M275 342h4M185 366h4M256 372h4M228 372h4M227 329h4M225 354h4M194 346h4M240 341h4M235 349h4M204 356h4M252 309h4M209 366h4M248 312h4M240 378h4M262 365h4M229 352h4M194 351h4M312 350h4M202 361h4M164 396h4M255 345h4M221 332h4M238 351h4M181 371h4M222 329h4M266 366h4M215 338h4M271 343h4M241 378h4M193 321h4M206 340h4M236 371h4M220 385h4M242 312h4M234 366h4M273 337h4M232 396h4M240 333h4M184 343h4M248 330h4M282 337h4M171 365h4M237 347h4M279 340h4M260 341h4M292 352h4M237 364h4M233 361h4M228 365h4M238 341h4M256 362h4M200 346h4M179 354h4M265 401h4M246 373h4M287 367h4M173 343h4M248 358h4M241 334h4M173 360h4M276 343h4M255 342h4M232 341h4M265 334h4M241 370h4M236 328h4M250 349h4M193 349h4M227 364h4M220 354h4M257 314h4M270 353h4M203 355h4M271 339h4M218 379h4M289 392h4M238 333h4M204 346h4M203 361h4M279 331h4M286 334h4M213 325h4M261 351h4M237 295h4M216 358h4M143 391h4M247 374h4M226 371h4M280 403h4M202 394h4M201 356h4M225 350h4M173 347h4M198 349h4M247 355h4M235 381h4M250 366h4M284 352h4M242 367h4M230 379h4M217 349h4M234 347h4M238 344h4" stroke="#000" stroke-width="4"/>
<path transform="scale(0.5)" d="M343 423h4M401 410h4M382 405h4M375 432h4M410 372h4M328 313h4M398 365h4M394 368h4M441 372h4M400 361h4M380 396h4M400 372h4M421 386h4M436 408h4M374 359h4M441 372h4M431 356h4M340 314h4M392 371h4M483 409h4M434 414h4M365 387h4M410 448h4M392 339h4M416 379h4M416 393h4M418 366h4M401 460h4M395 402h4M384 331h4M441 393h4M454 421h4M423 364h4M474 391h4M481 412h4M445 410h4M432 384h4M488 363h4M373 401h4M399 422h4M413 429h4M422 366h4M409 413h4M400 364h4M413 401h4M455 404h4M444 385h4M473 460h4M399 398h4M414 401h4M409 368h4M379 374h4M418 423h4M435 377h4M398 342h4M438 393h4M436 414h4M434 387h4M409 358h4M398 403h4M484 376h4M424 491h4M420 378h4M417 381h4M359 415h4M363 370h4M402 401h4M408 371h4M388 394h4M404 363h4M373 357h4M417 335h4M416 387h4M446 362h4M383 380h4M400 300h4M447 391h4M415 357h4M422 374h4M458 405h4M453 344h4M385 370h4M392 434h4M422 349h4M403 441h4M402 402h4M360 365h4M406 375h4M411 394h4M445 327h4M413 405h4M418 419h4M407 369h4M386 412h4M373 369h4M410 402h4M402 353h4M428 346h4M389 318h4M415 386h4M358 374h4M426 360h4M360 378h4M427 322h4M435 379h4M437 348h4M437 391h4M432 383h4M439 376h4M396 348h4M363 383h4M399 378h4M401 392h4M411 362h4M432 448h4M383 367h4M426 358h4M440 360h4M374 352h4M441 318h4M414 314h4M432 395h4M431 451h4M410 421h4M430 418h4M391 421h4M404 433h4M442 389h4M433 404h4M422 473h4M391 345h4M376 381h4M415 410h4M446 397h4M421 359h4M447 433h4M414 412h4M398 389h4M420 417h4M374 392h4M444 401h4M437 310h4M391 375h4M394 314h4M448 396h4M358 372h4M416 418h4M435 355h4M395 394h4M444 372h4M395 405h4M418 430h4M429 418h4M355 343h4M368 364h4M424 377h4M428 361h4M442 412h4M361 350h4M394 411h4M436 442h4M367 391h4M411 375h4M408 317h4M420 370h4M373 429h4M390 391h4M390 333h4M397 393h4M381 399h4M463 422h4M402 358h4M439 339h4M380 440h4M424 400h4M404 477h4M508 381h4M439 377h4M428 430h4M453 379h4M427 479h4M444 434h4M433 384h4M382 356h4M364 352h4M388 411h4M364 401h4M355 472h4M397 392h4M469 381h4M418 392h4M432 371h4M469 425h4M419 427h4M412 370h4M412 403h4M368 377h4M429 351h4M425 351h4M421 385h4M425 363h4M354 302h4M529 338h4M387 332h4M457 410h4M440 349h4M445 361h4M452 383h4M343 382h4M387 465h4M373 376h4M405 358h4M391 383h4M424 371h4M405 385h4M383 377h4M414 419h4M434 401h4M441 359h4M448 372h4M408 371h4M433 363h4M430 373h4M397 397h4M386 423h4M390 368h4M449 335h4M439 386h4M414 390h4M383 437h4M428 405h4M436 415h4M421 352h4M372 339h4M397 415h4M371 371h4M429 371h4M402 347h4M415 363h4M389 369h4M421 413h4M375 398h4M376 321h4M389 383h4M408 394h4M348 427h4M435 403h4M361 397h4M395 366h4M410 330h4M443 415h4M435 428h4M359 373h4M400 342h4M435 465h4M379 401h4M413 388h4M414 405h4M392 370h4M461 384h4M411 326h4M425 403h4M419 434h4M351 412h4M362 349h4M350 409h4M406 368h4M411 314h4M391 388h4M391 379h4M361 386h4M400 388h4M456 383h4M391 393h4M375 433h4M409 381h4M423 340h4M408 373h4M473 426h4M463 381h4M412 414h4M387 350h4M455 395h4M422 324h4M395 364h4M386 390h4M380 341h4M467 395h4M377 448h4M425 391h4M327 429h4M414 421h4M461 340h4M466 409h4M414 309h4M470 393h4M430 345h4M429 401h4M456 353h4M345 363h4M381 391h4M406 389h4M449 437h4M413 332h4M410 376h4M408 377h4M409 311h4M426 398h4M420 377h4M436 327h4M406 399h4M395 378h4M439 375h4M382 365h4M419 347h4M409 367h4M410 404h4M430 382h4M415 405h4M385 385h4M374 420h4M412 340h4M394 404h4M417 328h4M461 388h4M420 371h4M385 333h4M414 380h4M402 405h4M419 349h4M397 417h4M369 449h4M393 463h4M423 331h4M423 385h4M397 384h4M412 279h4M432 373h4M411 405h4M410 343h4M435 372h4M417 360h4M406 351h4M457 349h4M439 323h4M418 373h4M440 390h4M478 476h4M395 405h4M383 352h4M409 411h4M431 377h4M445 346h4M384 381h4M357 426h4M407 373h4M425 341h4M408 330h4M407 388h4M460 384h4M452 384h4M364 408h4M414 366h4M440 350h4M400 406h4M437 363h4M421 386h4M430 377h4M349 372h4M457 357h4M406 410h4M405 349h4M411 378h4M386 379h4M370 334h4M378 378h4M412 365h4M444 403h4M413 420h4M457 407h4M395 411h4M448 398h4M409 393h4M423 326h4M460 386h4M472 387h4M389 411h4M415 413h4M400 370h4M392 363h4M425 344h4M418 419h4M384 377h4M389 372h4M416 406h4M438 363h4M432 364h4M377 353h4M354 385h4M356 390h4M490 354h4M349 395h4M380 382h4M411 391h4M480 394h4M420 381h4M390 364h4M380 412h4M408 406h4M422 456h4M410 405h4M395 422h4M407 387h4M372 403h4M464 429h4M381 414h4M393 333h4M377 426h4M405 347h4M425 397h4M405 402h4M403 426h4M437 384h4M425 415h4M411 403h4M410 375h4M356 345h4M383 387h4M492 354h4M399 343h4M400 377h4M433 339h4M427 392h4M403 344h4M380 377h4M429 380h4M389 393h4M380 409h4M500 365h4M443 353h4M415 401h4M449 385h4M453 344h4M406 384h4M415 380h4M468 372h4M443 398h4M475 378h4M435 404h4M316 398h4M445 435h4M381 379h4M451 350h4M389 405h4M435 429h4M448 393h4M383 365h4M414 399h4M416 412h4M392 373h4M375 452h4M410 419h4M453 399h4M409 371h4M407 332h4M399 412h4M424 414h4M439 410h4M419 394h4M443 376h4M374 414h4M416 422h4M395 334h4M410 366h4M386 437h4M423 349h4M366 384h4M432 396h4M450 397h4M429 326h4M454 369h4M443 337h4M388 425h4M378 393h4M403 443h4M427 429h4M414 333h4M477 369h4M417 386h4M367 410h4M403 330h4M370 314h4M391 380h4M385 385h4M403 402h4M414 380h4M389 347h4M386 397h4M399 432h4M438 341h4M427 425h4M393 425h4M391 436h4M429 378h4M362 381h4M390 397h4M386 400h4M398 404h4M438 391h4M428 421h4M384 405h4M421 437h4M408 417h4M362 426h4M426 398h4M440 345h4M406 388h4M404 368h4M442 386h4M406 387h4M453 445h4M446 401h4M373 367h4M385 355h4M449 366h4M455 389h4M409 379h4M370 372h4M439 407h4M418 407h4M418 398h4M486 390h4M361 317h4M391 392h4M443 384h4M417 405h4M384 384h4M423 373h4M388 402h4M446 388h4M342 360h4M400 399h4M399 371h4M442 425h4M415 349h4M376 405h4M389 383h4M406 389h4M422 351h4M392 390h4M413 340h4M469 339h4M443 331h4M441 326h4M439 389h4M435 359h4M419 391h4M416 365h4M452 325h4M365 336h4M454 355h4M389 360h4M402 375h4M396 334h4M424 383h4M457 397h4M409 337h4M414 403h4M462 396h4M436 403h4M461 420h4M413 337h4M461 386h4M387 337h4M358 392h4M406 393h4M448 364h4M420 366h4M385 311h4M388 419h4M396 393h4M415 449h4M456 363h4M399 421h4M419 388h4M448 403h4M417 483h4M425 341h4M423 393h4M464 396h4M394 397h4M376 373h4M423 357h4M351 351h4M388 403h4M398 381h4M383 386h4M392 402h4M418 430h4M429 372h4M385 389h4M433 433h4M394 340h4M355 350h4M404 373h4M400 380h4M420 327h4M411 376h4M404 367h4M352 396h4M394 377h4M418 382h4M421 394h4M381 344h4M433 356h4M474 345h4M414 378h4M417 350h4M418 444h4M392 309h4M428 393h4M428 354h4M421 408h4M394 382h4M424 404h4M401 386h4M468 445h4M377 450h4M397 414h4M371 374h4M389 406h4M414 394h4M420 386h4M436 384h4M405 359h4M381 362h4M419 412h4M404 443h4M445 381h4M418 379h4M353 405h4M414 326h4M434 361h4M400 324h4M406 393h4M395 379h4M351 396h4M406 377h4M427 412h4M405 408h4M462 344h4M410 327h4M417 422h4M403 342h4M391 392h4M362 333h4M421 335h4M409 344h4M359 404h4M441 353h4M476 384h4M423 385h4M375 412h4M412 396h4M412 367h4M479 394h4M401 402h4M372 392h4M490 359h4M423 342h4M409 416h4M378 350h4M444 389h4M429 397h4M370 325h4M351 396h4M366 323h4M391 375h4M416 321h4M448 349h4M413 378h4M378 393h4M419 416h4M466 449h4M437 402h4M398 332h4M422 362h4M401 365h4M422 368h4M481 409h4M394 393h4M452 342h4M416 364h4M411 365h4M415 396h4M429 333h4M431 382h4M390 380h4M459 376h4M383 405h4M404 405h4M418 427h4M392 370h4M444 438h4M417 422h4M425 383h4M360 451h4M446 309h4M435 363h4M380 364h4M433 381h4M404 377h4M399 400h4M348 339h4M405 344h4M415 370h4M422 377h4M429 382h4M433 371h4M357 383h4M412 367h4M442 401h4M459 372h4M400 401h4M458 362h4M428 384h4M404 415h4M440 408h4M393 385h4M362 403h4M374 377h4M439 378h4M418 364h4M493 346h4M396 381h4M494 368h4M416 413h4M350 416h4M426 437h4M462 405h4M450 368h4M382 382h4M423 379h4M430 410h4M470 385h4M403 405h4M425 409h4M470 364h4M441 435h4M457 343h4M409 432h4M418 405h4M415 432h4M426 381h4M421 436h4M430 338h4M354 412h4M366 393h4M394 395h4M393 310h4M457 385h4M409 436h4M435 421h4M407 389h4M427 366h4M438 399h4M404 372h4M439 380h4M425 394h4M407 282h4M423 411h4M394 364h4M440 347h4M450 403h4M455 384h4M417 395h4M367 357h4M447 364h4M385 396h4M455 384h4M405 385h4M426 335h4M424 399h4M445 420h4M433 451h4M415 383h4M463 390h4M397 369h4M414 343h4M444 396h4M453 354h4M404 366h4M430 399h4M437 409h4M382 395h4M417 386h4M429 326h4M394 377h4M389 349h4M441 414h4M464 356h4M344 406h4M402 350h4M428 381h4M360 386h4M362 400h4M374 334h4M432 412h4M403 346h4M428 386h4M417 370h4M366 367h4M453 361h4M407 380h4M438 391h4M398 442h4M415 392h4M391 334h4M424 371h4M420 312h4M460 384h4M434 348h4M413 387h4M444 407h4M350 389h4M415 372h4M417 401h4M439 347h4M386 384h4M430 352h4M411 343h4M412 377h4M426 426h4M388 396h4M364 393h4M464 334h4M396 283h4M424 452h4M384 394h4M453 359h4M418 359h4M397 384h4M438 391h4M411 378h4M444 400h4M424 325h4M406 350h4M464 405h4M455 358h4M366 359h4M431 363h4M434 428h4M403 416h4M347 345h4M394 374h4M370 373h4M444 412h4M425 356h4M455 406h4M383 416h4M403 402h4M424 404h4M458 466h4M425 390h4M413 401h4M432 345h4M417 460h4M438 422h4M413 456h4M433 377h4M393 402h4M468 366h4M385 313h4M436 352h4M392 353h4M388 411h4M391 391h4M392 374h4M433 406h4M378 386h4M385 408h4M395 355h4M438 367h4M417 408h4M397 375h4M431 457h4M431 408h4M414 384h4M458 361h4M392 432h4M389 345h4M427 417h4M466 456h4M345 379h4M403 397h4M387 386h4M421 391h4M387 393h4M387 358h4M405 411h4" stroke="#000" stroke-width="4"/>
<path transform="scale(0.5)" d="M342 381h4M417 251h4M378 326h4M415 240h4M384 338h4M367 307h4M387 263h4M402 328h4M410 310h4M321 359h4M366 333h4M348 381h4M363 320h4M380 300h4M355 349h4M382 363h4M369 320h4M370 330h4M386 294h4M382 356h4M350 287h4M317 382h4M329 335h4M369 346h4M413 258h4M411 302h4M449 230h4M393 280h4M370 348h4M414 261h4M382 331h4M371 302h4M352 387h4M390 342h4M372 330h4M403 343h4M412 251h4M391 237h4M387 274h4M373 305h4M364 264h4M398 335h4M333 391h4M308 331h4M383 284h4M377 236h4M420 304h4M357 383h4M402 279h4M426 255h4M356 324h4M411 325h4M398 317h4M393 315h4M418 294h4M415 226h4M360 347h4M390 307h4M399 259h4M386 303h4M402 255h4M446 274h4M407 324h4M397 280h4M452 234h4M391 319h4M349 315h4M410 260h4M425 237h4M392 289h4M377 287h4M352 293h4M325 360h4M373 325h4M405 320h4M396 181h4M435 253h4M378 326h4M342 376h4M398 228h4M376 327h4M401 276h4M387 329h4M417 348h4M414 254h4M359 329h4M365 328h4M372 273h4M390 296h4M389 352h4M402 287h4M361 318h4M360 287h4M373 278h4M397 310h4M368 307h4M372 334h4M361 347h4M371 247h4M373 337h4M342 338h4M373 360h4M337 387h4M379 313h4M368 336h4M356 317h4M454 214h4M347 341h4M417 302h4M391 320h4M407 309h4M357 319h4M393 297h4M405 315h4M399 279h4M371 357h4M389 265h4M361 298h4M382 298h4M346 374h4M370 314h4M413 269h4M396 267h4M398 245h4M372 262h4M370 286h4M365 367h4M396 302h4M389 305h4M380 304h4M427 321h4M336 329h4M353 334h4M415 293h4M405 257h4M433 293h4M422 290h4M381 349h4M381 260h4M398 307h4M384 346h4M412 267h4M380 305h4M414 299h4M361 357h4M375 285h4M355 351h4M354 371h4M359 304h4M370 295h4M390 343h4M323 310h4M372 282h4M393 354h4M397 315h4M336 349h4M379 344h4M335 313h4M389 270h4M398 309h4M427 220h4M391 230h4M392 301h4M319 382h4M377 338h4M365 320h4M377 336h4M380 307h4M390 320h4M368 332h4M391 307h4M411 268h4M374 366h4M433 268h4M376 255h4M397 315h4M401 270h4M370 287h4M358 267h4M399 320h4M385 360h4M437 230h4M368 317h4M375 355h4M368 346h4M374 349h4M357 354h4M390 339h4M376 315h4M391 247h4M360 349h4M395 357h4M394 299h4M324 285h4M411 252h4M325 371h4M407 315h4M399 293h4M377 281h4M372 329h4M359 355h4M358 254h4M376 309h4M419 316h4M391 375h4M444 300h4M384 321h4M392 312h4M353 330h4M393 316h4M352 351h4M377 330h4M376 257h4M358 339h4M389 356h4M433 244h4M376 273h4M372 345h4M409 242h4M419 308h4M403 227h4M403 300h4M341 364h4M379 292h4M388 280h4M326 360h4M315 376h4M400 285h4M416 298h4M350 345h4M415 316h4M386 293h4M372 285h4M350 387h4M381 326h4M341 343h4M401 278h4M390 262h4M396 309h4M400 270h4M387 293h4M378 311h4M368 275h4M363 298h4M377 303h4M380 297h4M353 299h4M385 240h4M347 384h4M390 284h4M352 310h4M387 219h4M399 202h4M354 345h4M378 330h4M355 338h4M367 381h4M360 312h4M396 315h4M375 286h4M390 304h4M384 287h4M376 269h4M370 293h4M373 298h4M389 275h4M390 250h4M389 257h4M313 392h4M404 273h4M386 283h4M372 283h4M447 253h4M382 282h4M381 336h4M375 282h4M415 284h4M403 286h4M390 294h4M368 309h4M383 241h4M403 307h4M427 210h4M437 261h4M439 283h4M370 376h4M393 309h4M370 299h4M357 378h4M359 298h4M365 296h4M372 337h4M369 253h4M395 311h4M354 349h4M409 299h4M333 332h4M363 323h4M385 305h4M357 386h4M356 372h4M402 288h4M397 295h4M353 327h4M456 236h4M427 259h4M385 384h4M379 312h4M388 268h4M368 230h4M419 261h4M381 345h4M422 266h4M399 265h4M424 273h4M422 260h4M358 375h4M342 349h4M383 312h4M382 320h4M396 287h4M389 306h4M379 270h4M368 375h4M342 280h4M424 274h4M320 368h4M347 316h4M365 332h4M356 245h4M401 314h4M334 406h4M368 305h4M420 290h4M440 283h4M329 315h4M373 329h4M415 265h4M393 343h4M395 291h4M385 318h4M394 283h4M316 392h4M419 304h4M427 270h4M431 243h4M429 262h4M372 287h4M357 373h4M356 352h4M386 269h4M404 269h4M376 345h4M391 271h4M375 273h4M393 302h4M365 345h4M404 240h4M335 335h4M349 323h4M352 370h4M375 281h4M404 309h4M397 290h4M389 269h4M439 285h4M339 310h4M353 321h4M413 305h4M430 296h4M398 284h4M353 382h4M364 322h4M411 328h4M406 267h4M350 354h4M398 320h4M408 285h4M385 348h4M419 181h4M366 343h4M412 266h4M415 312h4M327 325h4M368 370h4M399 261h4M339 352h4M410 298h4M356 320h4M353 335h4M401 280h4M393 291h4M364 284h4M367 350h4M411 299h4M366 299h4M375 310h4M392 282h4M405 289h4M406 288h4M385 353h4M436 245h4M429 242h4M387 327h4M386 301h4M407 228h4M403 250h4M367 375h4M397 297h4M416 299h4M395 281h4M399 305h4M388 323h4M349 376h4M405 304h4M367 337h4M453 306h4M408 296h4M420 338h4M384 303h4M373 279h4M365 333h4M393 338h4M421 338h4M384 281h4M407 299h4M398 303h4M372 301h4M418 319h4M380 315h4M346 353h4M389 284h4M429 265h4M377 317h4M408 279h4M349 296h4M416 249h4M379 288h4M416 243h4M356 276h4M377 319h4M407 293h4M401 319h4M381 305h4M357 287h4M373 405h4M339 364h4M386 274h4M374 242h4M398 304h4M455 233h4M385 339h4M369 281h4M392 333h4M362 306h4M349 316h4M358 368h4M411 296h4M332 353h4M394 290h4M358 301h4M352 304h4M426 253h4M384 354h4M371 350h4M378 296h4M381 239h4M369 315h4M319 360h4M389 304h4M371 349h4M404 295h4M375 314h4M384 277h4M344 326h4M414 298h4M340 373h4M424 291h4M375 286h4M439 298h4M406 295h4M396 223h4M429 284h4M411 265h4M372 309h4M354 345h4M363 344h4M374 303h4M381 317h4M374 353h4M402 299h4M378 311h4M393 296h4M375 312h4M372 317h4M360 321h4M392 350h4M373 325h4M371 339h4M401 248h4M390 294h4M404 267h4M383 302h4M367 382h4M408 231h4M406 268h4M409 241h4M421 295h4M405 281h4M380 295h4M378 285h4M434 242h4M363 290h4M435 271h4M416 289h4M410 264h4M390 308h4M408 246h4M364 356h4M394 292h4M377 280h4M370 325h4M400 304h4M410 273h4M373 294h4M357 301h4M385 328h4M385 269h4M375 235h4M401 279h4M394 308h4M420 334h4M376 313h4M364 271h4M364 292h4M408 245h4M358 289h4M396 218h4M348 347h4M323 371h4M398 325h4M390 250h4M388 328h4M397 250h4M382 311h4M386 294h4M419 233h4M420 262h4M482 184h4M362 377h4M371 388h4M347 293h4M363 334h4M418 249h4M386 277h4M353 306h4M374 314h4M370 298h4M373 307h4M378 289h4M357 318h4M365 328h4M383 354h4M409 270h4M377 266h4M362 325h4M401 304h4M375 260h4M400 317h4M385 319h4M350 368h4M344 297h4M422 288h4M393 271h4M369 304h4M403 286h4M411 251h4M398 268h4M369 331h4M352 329h4M410 283h4M352 326h4M366 306h4M391 276h4M342 347h4M425 308h4M369 274h4M367 341h4M381 313h4M404 222h4M361 342h4M386 306h4M398 275h4M406 268h4M360 276h4M358 334h4M384 275h4M350 335h4M391 228h4M388 297h4M423 258h4M391 325h4M403 253h4M330 356h4M367 294h4M405 310h4M424 317h4M360 298h4M404 306h4M364 360h4M420 245h4M394 223h4M366 268h4M324 356h4M409 268h4M397 245h4M364 376h4M344 317h4M416 285h4M370 335h4M378 276h4M372 338h4M399 234h4M410 279h4M384 295h4M379 342h4M339 285h4M377 284h4M416 328h4M355 272h4M356 310h4M347 235h4M397 283h4M384 321h4M389 218h4M374 323h4M381 300h4M397 286h4M344 302h4M425 290h4M418 261h4M385 243h4M409 274h4M406 315h4M377 304h4M335 323h4M409 335h4M415 224h4M418 309h4M359 337h4M387 371h4M368 322h4M372 295h4M461 213h4M395 200h4M401 270h4M367 345h4M443 249h4M440 353h4M399 248h4M361 326h4M379 298h4M394 333h4M380 325h4M374 320h4M417 252h4M407 267h4M415 254h4M393 241h4M424 258h4M361 327h4M346 373h4M386 286h4M374 237h4M363 296h4M394 328h4M415 314h4M370 308h4M357 297h4M369 334h4M389 255h4M340 322h4M356 356h4M392 304h4M398 324h4M348 371h4M392 275h4M390 284h4M380 320h4M371 328h4M378 269h4M420 288h4M414 236h4M377 241h4M358 357h4M346 337h4M358 340h4M354 320h4M374 300h4M390 307h4" stroke="#000" stroke-width="4"/>
<path transform="scale(0.5)" d="M341 366h4M318 362h4M302 379h4M327 391h4M335 360h4M348 364h4M326 379h4M334 355h4M344 378h4M327 366h4M334 340h4M359 321h4M304 350h4M337 370h4M336 346h4M356 387h4M278 373h4M281 358h4M340 370h4M296 357h4M352 372h4M344 336h4M339 373h4M304 397h4M326 386h4M315 377h4M340 367h4M330 375h4M325 345h4M335 367h4M333 354h4M363 387h4M360 406h4M351 364h4M298 392h4M334 386h4M359 367h4M306 378h4M318 354h4M337 365h4M340 349h4M325 365h4M327 358h4M343 342h4M338 391h4M328 371h4M310 375h4M338 373h4M336 380h4M333 335h4M302 368h4M378 391h4M327 366h4M318 381h4M321 371h4M308 362h4M305 355h4M320 392h4M336 390h4M317 375h4M314 366h4M324 339h4M329 347h4M339 358h4M292 347h4M307 397h4M299 362h4M331 366h4M326 383h4M311 403h4M358 373h4M358 372h4M318 347h4M312 380h4M335 400h4M363 386h4M330 403h4M327 324h4M321 378h4M340 381h4M345 320h4M380 380h4M329 333h4M346 350h4M282 381h4M340 367h4M306 377h4M328 376h4M336 340h4M337 345h4M337 362h4M315 400h4M331 372h4M344 410h4M261 379h4M328 391h4M328 368h4M341 369h4M307 370h4M370 381h4M274 367h4M305 388h4M301 368h4M339 386h4M313 375h4M380 357h4M328 353h4M323 379h4M329 383h4M298 373h4M320 314h4M354 372h4M314 391h4M341 324h4M339 417h4M335 387h4M289 340h4M294 391h4M350 321h4M349 329h4M295 368h4M311 369h4M333 393h4M316 357h4M311 418h4M356 394h4M342 375h4M363 369h4M292 339h4M388 350h4M312 367h4M354 348h4M323 378h4M297 372h4M354 375h4M330 380h4M326 361h4M315 387h4M288 346h4M347 394h4M330 353h4M289 381h4M332 376h4M337 348h4M308 367h4M322 336h4M296 364h4M359 416h4M332 362h4M333 370h4M305 303h4M330 356h4M324 349h4M318 371h4M294 354h4M341 384h4M284 385h4M358 378h4M338 372h4M337 360h4M358 369h4M293 380h4M349 378h4M303 382h4M258 403h4M341 333h4M277 417h4M333 355h4M335 365h4M322 375h4M334 348h4M334 373h4M303 388h4M340 349h4M370 380h4M360 355h4M316 372h4M314 365h4M293 411h4M340 396h4M369 369h4M375 323h4M318 358h4M326 346h4M348 409h4M333 381h4M275 354h4M337 356h4M334 361h4M336 341h4M340 398h4M344 412h4M325 387h4M296 389h4M340 365h4M355 347h4M322 376h4M304 350h4M352 363h4M303 360h4M314 355h4M336 349h4M292 371h4M326 394h4M296 358h4M352 376h4M314 353h4M343 368h4M307 360h4M317 388h4M266 357h4M356 335h4M320 385h4M295 358h4M305 372h4M310 347h4M328 372h4M353 360h4M322 357h4M354 392h4M307 326h4M372 331h4M284 357h4M371 390h4M320 382h4M322 390h4M315 400h4M340 357h4M285 391h4M338 349h4M304 358h4M317 364h4M325 368h4M312 409h4M319 355h4M338 350h4M336 371h4M350 349h4M280 391h4M321 402h4M343 359h4M334 345h4M302 368h4M329 335h4M344 379h4M351 340h4M340 356h4M315 389h4M328 380h4M348 391h4M305 350h4M335 380h4M310 377h4M307 364h4M325 374h4M344 364h4M332 355h4M347 382h4M317 409h4M329 367h4M321 380h4M335 361h4M343 394h4M366 385h4M326 360h4M346 399h4M386 369h4M309 356h4M342 388h4M317 352h4M289 388h4M297 385h4M328 335h4M304 392h4M331 368h4M359 371h4M333 374h4M332 393h4M318 393h4M366 362h4M341 349h4M332 396h4M352 364h4M344 382h4M333 375h4M376 321h4M316 389h4M327 378h4M337 367h4M330 357h4M330 386h4M353 382h4M324 364h4M290 368h4M307 358h4M322 373h4M333 371h4M303 362h4M345 369h4M339 372h4" stroke="#000" stroke-width="4"/>
<path transform="scale(0.5)" d="M340 461h4M370 418h4M322 398h4M320 436h4M290 457h4M305 393h4M341 428h4M323 413h4M281 401h4M272 442h4M316 391h4M301 427h4M280 432h4M279 446h4M292 429h4M205 414h4M298 410h4M291 403h4M320 401h4M288 453h4M327 422h4M261 382h4M307 427h4M288 416h4M353 441h4M296 418h4M287 430h4M289 425h4M285 439h4M303 399h4M375 429h4M284 397h4M299 410h4M343 434h4M281 386h4M319 388h4M310 426h4M222 418h4M342 404h4M236 387h4M295 429h4M319 429h4M271 414h4M290 420h4M262 437h4M326 420h4M301 396h4M303 406h4M273 440h4M301 413h4M252 424h4M342 430h4M304 450h4M356 436h4M326 429h4M312 434h4M329 415h4M308 432h4M297 412h4M322 417h4M257 441h4M260 442h4M230 426h4M350 421h4M332 417h4M279 420h4M326 454h4M340 445h4M299 382h4M279 458h4M255 436h4M312 389h4M309 417h4M305 423h4M293 405h4M244 463h4M275 419h4M288 418h4M278 437h4M299 414h4M282 436h4M274 436h4M336 448h4M315 389h4M320 431h4M338 414h4M288 458h4M278 451h4M310 372h4M288 416h4M263 384h4M302 403h4M281 405h4M293 436h4M322 437h4M290 422h4M316 453h4M297 397h4M308 439h4M287 452h4M286 425h4M310 461h4M267 437h4M322 423h4M328 411h4M267 398h4M280 401h4M314 425h4M259 460h4M306 389h4M248 427h4M338 418h4M327 461h4M320 418h4M263 411h4M337 426h4M272 416h4M294 450h4M283 467h4M306 433h4M268 434h4M307 441h4M280 430h4M256 403h4M365 415h4M277 445h4M294 483h4M301 441h4M292 450h4M300 486h4M279 435h4M320 399h4M284 407h4M251 432h4M217 395h4M266 430h4M294 447h4M332 428h4M271 440h4M277 417h4M299 457h4M374 452h4M285 446h4M335 406h4M304 410h4M282 427h4M304 408h4M300 398h4M295 428h4M286 391h4M278 434h4M327 446h4M328 464h4M287 450h4M276 464h4M327 403h4M319 447h4M276 432h4M324 466h4M284 459h4M271 407h4M337 442h4M278 459h4M314 429h4M291 368h4M300 446h4M298 441h4M296 456h4M217 436h4M273 429h4M318 451h4M322 452h4M271 428h4M237 432h4M252 448h4M304 418h4M280 429h4M282 393h4M310 405h4M312 403h4M264 474h4M315 451h4M291 423h4M298 468h4M317 426h4M297 425h4M328 425h4M300 454h4M326 442h4M354 423h4M267 389h4M297 430h4M326 393h4M261 420h4M290 393h4M293 440h4M291 476h4M318 406h4M292 392h4M358 417h4M289 440h4M288 408h4M295 446h4M326 393h4M251 433h4M288 413h4M327 433h4M282 437h4M276 412h4M350 418h4M313 417h4M288 398h4M265 451h4M360 439h4M314 412h4M296 457h4M372 440h4M310 449h4M302 407h4M273 418h4M287 371h4M247 442h4M326 442h4M292 409h4M297 431h4M284 449h4M279 372h4M318 444h4M293 447h4M332 367h4M310 397h4M318 430h4M322 418h4M281 431h4M368 434h4M269 424h4M292 453h4M302 418h4M304 409h4M312 400h4M286 429h4M260 395h4M277 457h4M323 426h4M328 444h4M282 400h4M334 410h4M318 390h4M297 397h4M318 442h4M311 443h4M284 434h4M317 406h4M317 431h4M313 420h4M298 436h4M303 438h4M261 446h4M277 449h4M258 411h4M307 434h4M286 405h4M317 448h4M274 398h4M282 422h4M249 402h4M318 407h4M276 459h4M330 462h4M299 422h4M287 392h4M239 423h4M277 439h4M327 391h4M260 430h4M340 460h4M280 427h4M341 409h4M272 456h4M280 399h4M345 416h4M289 439h4M343 444h4M308 436h4M313 433h4M252 433h4M263 410h4M305 424h4M311 426h4M315 467h4M270 451h4M353 417h4M291 424h4M314 411h4M291 426h4M303 458h4M287 445h4M324 431h4M305 408h4M281 435h4M308 421h4M334 430h4M303 423h4M332 439h4M310 399h4M349 396h4M313 400h4M257 355h4M304 432h4M289 414h4M260 423h4M290 391h4M284 416h4M266 448h4M261 467h4M330 413h4M344 449h4M333 428h4M270 377h4M306 421h4M281 470h4M312 391h4M294 436h4M263 429h4M288 391h4M310 439h4M225 434h4M282 417h4M251 402h4M348 440h4M294 426h4M275 422h4M274 430h4M267 429h4M320 417h4M304 430h4M283 393h4M329 426h4M290 452h4M275 413h4M279 402h4M294 410h4M338 410h4M333 405h4M289 425h4M274 439h4M282 410h4M318 408h4M316 448h4M321 456h4M287 452h4M284 388h4M294 467h4M271 464h4M259 444h4M312 415h4M235 439h4M317 435h4M326 407h4M355 444h4M277 472h4M299 435h4M322 405h4M274 421h4M267 420h4M337 399h4M301 412h4M322 399h4M267 420h4M354 403h4M249 402h4M317 444h4M295 429h4M258 432h4M292 409h4M325 446h4M283 428h4M243 400h4M333 398h4M270 447h4M232 407h4M317 413h4M272 399h4M302 402h4M304 419h4M296 447h4M283 402h4M296 429h4M291 386h4M315 384h4M241 444h4M339 417h4M274 454h4M260 423h4M281 436h4M306 406h4M328 440h4M298 417h4M296 396h4M291 418h4M313 419h4M286 429h4M325 436h4M294 414h4M336 424h4M264 429h4M249 412h4M316 420h4M289 440h4M331 403h4M266 408h4M266 434h4M319 422h4M268 389h4M293 407h4M310 396h4M282 415h4M326 441h4M311 428h4M317 384h4M323 418h4M339 444h4M332 409h4M379 437h4M307 412h4M309 379h4M336 436h4M298 455h4M314 435h4M285 433h4M267 401h4M304 412h4M262 421h4M248 459h4M274 406h4M343 392h4M237 425h4M292 447h4M297 389h4M302 419h4M334 431h4M273 410h4M299 416h4M305 431h4M267 430h4M322 399h4M259 442h4M315 445h4M348 423h4M270 430h4M281 434h4M320 427h4M316 426h4M307 400h4M347 410h4M288 410h4M292 416h4M244 459h4M310 419h4M299 448h4M323 432h4M324 368h4M323 420h4M277 402h4M301 386h4M307 407h4M318 385h4M309 414h4M265 451h4M328 403h4M289 456h4M300 410h4M270 406h4M313 443h4M286 400h4M274 383h4M309 422h4M326 472h4M333 413h4M286 393h4M237 463h4M302 388h4M314 375h4M288 423h4M276 409h4M316 409h4M326 381h4M282 458h4M265 398h4M294 410h4M300 443h4M309 425h4M282 425h4M319 401h4M281 395h4M293 424h4M278 396h4M272 435h4M278 439h4M277 404h4" stroke="#000" stroke-width="4"/>
<polyline transform="scale(0.5)" points="208,360 214,323 194,366 186,387 158,436 186,445 209,387 166,426 206,413 166,334 187,395 209,413 178,345 208,354 193,435 186,391 199,381 201,395 195,422 212,355 221,385 191,361 209,381 180,360 215,373 187,448 201,399 197,381 177,401 200,361 193,429 200,384 183,367 205,405 199,406 180,372 201,413 186,407 175,411 218,374 201,402 183,372 187,397 212,359 182,400 184,378 210,384 214,386 193,364 155,373 162,404 209,395 216,438 164,380 210,377 193,412 205,347 222,362 200,398 165,428 208,393 210,377 208,400 156,352 213,356 205,379 209,337 198,384 201,389 197,393 204,369 221,384 184,401 169,411 189,384 196,395 183,370 201,366 194,378 188,363 179,370 172,352 242,382 211,389 207,385 212,387 200,351 212,377 194,393 199,382 217,360 159,374 155,378 217,422 176,393 174,391 219,367 222,390 242,368 180,417 212,399 182,388 187,424 208,368 182,348 186,385 204,413 188,418 161,383 209,373 202,407 187,391 217,355 217,383 172,396 210,382 204,399 199,390 213,407 198,340 175,377 218,400 230,399 206,379 220,352 204,384 189,412 210,398 193,350 174,322 174,395 223,358 220,436 218,431 198,375 203,412 207,393 213,365 213,337 224,424 241,365 189,361 173,328 213,382 196,341 201,441 202,410 178,416 198,391 205,382 211,385 191,360 178,411 218,386 196,373 202,425 204,374 218,408 167,376 222,399 198,400 178,359 197,392 229,386 205,429 189,382 200,396 203,407 178,355 198,346 228,368 189,404 205,403 198,354 196,371 168,380 216,363 185,367 212,334 206,390 196,362 193,437 202,376 213,354 218,384 243,445 209,398 191,402 211,351 170,401 187,390 200,390 193,402 223,428 191,389 199,347 169,382 205,406 185,402 195,374 215,341 155,435 196,405 195,367 176,338 200,358 195,392 195,387 223,392 201,381 223,418 186,395 194,373 180,432 207,330 216,431 199,384 200,409 187,396 170,416 176,375 204,411 184,367 224,368 182,371 209,403 215,396 189,397 210,355 185,384 226,377 198,386 203,402 178,311 211,330 202,396 209,358 203,403 209,418 179,371 192,384 215,407 199,431 208,355 220,351 174,374 188,382 197,364 183,402 202,379 182,385 179,351 215,403 190,427 195,402 206,388 199,425 214,337 208,328 178,397 178,418 191,401 203,407 221,348 196,391 216,400 192,350 168,362 201,390 223,394 211,350 202,373 187,418 197,384 197,351 168,435 198,386 201,374 192,363 203,382 216,426 178,403 190,442 201,411 188,419 184,353 153,384 190,390 180,385 196,357 232,443 202,400 209,405 183,393 230,382 193,362 190,329 197,414 204,391 199,388" fill="none" stroke="none" marker-start="url(#gc)" marker-mid="url(#gc)" marker-end="url(#gc)"/>
<path transform="scale(0.5)" d="M225 374h4M307 422h4M193 444h4M243 432h4M252 399h4M279 405h4M185 423h4M252 411h4M246 421h4M297 432h4M264 414h4M234 448h4M200 392h4M250 415h4M263 404h4M309 437h4M202 393h4M216 441h4M243 381h4M247 386h4M256 426h4M223 417h4M264 398h4M269 399h4M274 410h4M243 441h4M283 406h4M166 418h4M241 420h4M255 406h4M245 440h4M297 438h4M222 404h4M259 372h4M284 389h4M282 400h4M265 375h4M181 395h4M213 383h4M238 415h4M274 390h4M208 407h4M219 384h4M237 431h4M257 365h4M305 381h4M254 392h4M277 416h4M283 413h4M245 433h4M195 382h4M208 405h4M235 391h4M270 419h4M236 379h4M311 415h4M234 412h4M260 396h4M272 412h4M237 433h4M239 436h4M256 405h4M286 403h4M268 438h4M242 398h4M275 431h4M190 421h4M285 399h4M282 404h4M235 404h4M274 403h4M237 411h4M276 369h4M284 440h4M223 409h4M265 413h4M306 413h4M237 402h4M262 395h4M235 400h4M301 424h4M220 421h4M177 411h4M271 418h4M269 416h4M235 407h4M247 382h4M256 392h4M273 458h4M316 466h4M244 403h4M274 394h4M274 401h4M265 404h4M301 436h4M279 387h4M291 405h4M218 419h4M286 383h4M278 408h4M251 423h4M247 399h4M287 363h4M285 387h4M291 389h4M296 378h4M308 416h4M251 407h4M286 410h4M275 417h4M226 448h4M253 420h4M265 414h4M306 422h4M250 415h4M248 391h4M289 394h4M292 416h4M281 413h4M249 461h4M246 395h4M270 442h4M221 403h4M282 433h4M273 405h4M263 400h4M270 414h4M265 409h4M277 415h4M236 442h4M264 408h4M252 444h4M259 420h4M234 406h4M240 396h4M226 406h4M219 425h4M277 394h4M266 398h4M263 420h4M207 362h4M267 421h4M252 400h4M233 359h4M291 365h4M258 405h4M260 385h4M228 418h4M219 411h4M214 412h4M264 409h4M265 386h4M235 402h4M290 397h4M250 432h4M255 426h4M220 428h4M249 418h4M268 370h4M280 399h4M281 402h4M254 377h4M216 428h4M225 412h4M246 385h4M242 404h4M265 399h4M231 435h4M288 409h4M221 416h4M235 436h4M248 395h4M240 389h4M247 382h4M255 424h4M262 389h4M260 400h4M209 406h4M272 412h4M239 394h4M247 416h4M253 430h4M270 427h4M240 416h4M249 415h4M257 456h4M218 415h4M236 416h4M257 438h4M246 395h4M259 414h4M191 446h4M225 439h4M284 436h4M256 393h4M230 434h4M238 417h4M241 398h4M277 391h4M246 404h4M255 407h4M223 401h4M242 448h4M273 408h4M256 404h4M297 406h4M225 488h4M230 398h4M225 418h4M233 394h4M278 438h4M260 389h4M265 397h4M260 416h4M219 427h4M252 409h4M222 428h4M232 412h4M224 385h4M217 377h4M240 435h4M281 392h4M229 440h4M273 410h4M241 401h4M187 397h4M308 440h4M243 425h4M267 398h4M226 398h4M256 435h4M257 409h4M244 434h4M296 414h4M244 415h4M267 432h4M278 394h4M248 401h4M269 388h4M202 411h4M237 401h4M247 391h4M253 387h4M219 419h4M242 431h4M258 395h4M235 389h4M250 419h4M250 413h4M224 433h4M266 428h4M219 405h4M230 439h4M245 452h4M262 398h4M284 442h4M246 398h4M249 386h4M222 367h4M234 384h4M254 414h4M278 414h4M244 433h4M231 367h4M213 400h4M265 428h4M223 429h4M260 421h4M223 404h4M192 410h4M240 422h4M280 391h4M274 429h4M243 445h4M229 381h4M251 442h4M265 375h4M236 433h4M231 406h4M223 447h4M297 384h4M202 420h4M263 409h4M254 404h4M276 426h4M287 427h4M237 401h4M244 412h4M233 394h4M245 401h4M248 441h4M287 400h4M254 404h4M228 420h4M198 413h4M242 384h4M262 427h4M256 416h4M225 416h4M289 386h4M308 373h4M273 396h4M254 407h4M249 427h4M241 412h4M280 405h4M190 397h4M233 390h4M266 409h4M227 396h4M209 397h4M300 374h4M300 407h4M243 397h4M215 420h4M240 394h4M247 437h4M236 404h4M285 387h4M271 455h4M248 375h4M274 401h4M285 418h4M256 390h4M281 417h4M261 417h4M262 412h4M248 377h4M234 402h4M280 429h4M224 399h4M234 415h4M258 421h4M233 403h4M308 387h4M291 425h4M277 412h4M252 425h4M248 409h4M245 418h4M250 404h4M269 414h4M217 409h4M290 418h4M294 378h4M263 372h4M269 397h4M247 418h4M229 396h4M241 424h4M288 395h4M226 410h4M219 383h4M265 399h4M293 391h4M291 433h4M242 413h4M178 414h4M253 394h4M288 363h4M270 410h4M256 380h4M268 399h4M255 427h4M228 354h4M260 414h4M245 397h4M226 412h4M268 401h4M287 406h4M270 407h4M253 430h4M272 435h4M285 413h4M275 422h4M268 428h4M258 416h4M270 394h4M278 432h4M200 427h4M236 397h4M273 395h4M261 399h4M222 446h4M234 388h4M244 446h4M210 433h4M234 416h4M252 432h4M233 448h4M244 384h4M260 427h4M273 430h4M249 440h4M278 394h4M244 398h4M247 416h4M243 409h4M275 429h4M295 351h4M238 399h4M241 395h4M230 426h4M290 391h4M275 370h4M270 445h4M281 396h4M232 406h4M290 419h4M261 422h4M226 370h4M239 402h4M263 413h4M342 403h4M239 439h4M256 450h4M307 429h4M276 382h4M292 417h4M273 432h4M260 394h4M242 393h4M282 412h4M258 404h4M253 390h4M259 392h4M263 408h4M268 434h4M268 416h4M279 402h4M255 421h4M217 400h4M313 417h4M262 425h4M252 405h4M248 434h4M301 402h4M253 422h4M226 415h4M286 436h4M323 407h4M258 431h4M266 436h4M258 381h4M235 381h4M262 439h4M273 404h4M202 413h4M238 401h4M257 459h4M244 398h4M216 431h4M229 375h4M242 418h4M220 410h4M209 436h4M221 410h4M228 401h4M263 400h4M251 435h4M325 428h4M255 416h4M220 390h4M224 420h4M251 405h4M319 411h4M277 421h4M255 421h4M212 414h4M282 444h4M248 439h4M277 404h4M210 418h4M237 435h4M265 383h4M242 419h4M290 362h4M268 386h4M248 394h4M280 418h4M303 437h4M234 368h4M247 401h4M257 397h4M236 426h4M261 398h4M265 394h4M255 430h4M240 385h4M258 403h4M303 409h4M236 387h4M191 394h4M254 392h4M267 428h4M272 398h4M231 427h4M235 398h4M238 437h4M201 433h4M278 442h4M266 455h4M274 394h4M213 411h4M266 417h4M281 433h4M185 410h4M253 422h4M231 434h4M255 437h4M235 408h4M216 392h4M244 400h4M261 419h4M253 411h4M222 402h4M246 396h4M274 421h4M230 401h4M250 412h4M293 406h4M235 417h4M269 433h4M224 404h4M257 413h4M208 417h4M291 421h4M247 389h4M223 408h4M230 394h4M205 418h4M273 407h4M267 411h4M295 407h4M250 385h4M249 401h4M236 438h4M271 429h4M259 391h4M251 429h4M227 405h4M250 429h4M251 423h4M268 404h4M257 384h4M238 420h4M263 417h4M253 426h4M270 412h4M208 470h4M316 394h4M295 406h4M286 394h4M253 402h4M274 429h4M257 366h4M256 390h4M297 401h4M194 408h4M217 420h4M219 419h4M208 434h4M252 425h4M246 451h4M247 423h4M249 434h4M212 379h4M266 395h4M224 419h4M251 360h4M254 398h4M221 424h4M267 437h4M236 390h4M323 426h4M271 391h4M238 425h4M167 383h4M258 370h4M269 404h4M201 407h4M250 406h4M265 376h4M233 417h4M256 412h4M328 399h4M232 420h4M243 426h4M243 443h4M230 403h4M274 409h4M275 424h4M275 384h4M276 410h4M260 392h4M266 426h4M262 420h4M257 406h4M266 407h4M249 420h4M280 445h4M285 413h4M231 418h4M225 391h4M200 436h4M285 389h4M257 418h4M297 440h4M229 418h4M210 409h4M255 405h4M222 404h4M313 398h4M254 430h4M277 404h4M294 440h4M260 418h4M251 423h4M262 434h4M207 430h4M251 441h4M288 409h4M254 402h4M226 407h4M276 407h4M217 411h4M224 412h4M272 429h4M285 394h4M181 410h4M246 425h4M271 405h4M254 427h4M233 367h4M262 413h4M238 435h4M248 395h4M258 445h4M221 427h4M216 424h4M238 401h4M271 460h4M202 405h4M229 433h4M254 392h4M275 423h4M248 426h4M261 429h4M221 422h4M278 392h4M351 440h4M259 399h4M245 409h4M265 383h4M220 436h4M214 450h4M248 381h4M227 444h4M258 389h4M288 420h4M234 387h4M209 411h4M266 440h4M296 430h4M211 399h4M267 405h4M256 402h4M253 431h4M267 382h4M240 387h4M207 430h4M252 460h4M272 421h4M239 396h4M275 401h4M297 431h4M281 415h4M228 436h4M238 411h4M276 404h4M242 385h4M285 446h4M231 435h4M309 448h4M285 399h4M215 399h4M270 442h4M294 411h4M270 405h4M206 401h4M287 430h4M261 415h4M324 424h4M249 386h4M240 422h4M243 424h4M244 469h4M246 432h4M236 420h4M282 418h4M209 443h4M276 395h4M243 425h4M233 425h4M219 414h4M277 403h4M258 419h4M295 436h4M260 417h4M243 403h4M240 399h4M277 405h4M228 393h4M249 419h4M235 389h4M257 429h4M222 400h4M197 458h4M221 385h4M258 402h4M272 392h4M254 413h4M266 447h4M250 392h4M263 395h4M277 415h4M254 378h4M208 397h4M249 367h4M237 413h4M233 428h4M258 441h4M231 418h4M173 393h4M277 401h4M236 384h4M298 435h4M250 416h4M250 381h4M260 398h4M228 431h4M251 388h4M266 408h4M260 406h4M259 415h4M225 452h4M258 359h4M279 379h4M261 440h4M242 407h4M284 422h4M266 406h4M252 371h4M239 406h4M268 419h4M213 393h4M187 405h4M292 412h4M227 410h4M244 383h4M223 403h4M271 395h4M229 379h4M246 385h4M298 409h4M160 435h4M255 405h4M252 394h4M221 391h4M242 414h4M302 414h4M271 427h4M225 387h4M223 438h4M209 419h4M225 459h4M210 382h4M234 385h4M270 426h4M276 450h4M223 411h4M238 393h4M259 452h4M224 453h4M259 399h4M217 426h4M255 406h4M233 406h4M240 412h4M198 414h4M278 425h4M212 411h4M259 432h4M276 430h4M246 423h4M247 403h4M207 416h4M245 377h4M288 401h4M262 416h4M245 413h4M276 393h4M213 430h4M266 394h4M281 385h4M254 416h4M252 419h4M238 377h4M235 421h4M253 409h4M242 432h4M237 415h4M260 391h4M274 419h4M268 383h4M285 402h4M251 418h4M277 399h4M260 410h4M250 409h4M224 408h4M285 389h4M206 438h4M212 402h4M233 414h4M240 418h4M237 387h4M317 411h4M265 384h4M231 399h4M278 393h4M265 403h4M232 424h4M260 389h4M270 384h4M266 408h4M314 420h4M311 421h4M241 424h4M211 385h4M249 440h4M278 383h4M194 415h4M207 387h4M233 390h4M227 405h4M278 396h4M252 418h4M264 407h4M230 407h4M209 407h4M285 421h4M167 420h4M266 402h4M270 422h4M246 404h4M218 429h4M189 416h4M240 410h4M239 408h4M226 390h4M297 402h4M288 424h4M256 415h4M250 428h4M248 401h4M269 409h4M265 397h4M249 428h4M277 387h4M248 388h4M272 390h4M201 386h4M217 456h4M234 423h4M230 416h4M284 427h4M287 427h4M244 419h4M254 399h4M309 390h4M215 399h4M281 401h4M258 395h4M284 416h4M253 437h4M228 438h4M275 386h4M247 419h4M222 393h4M290 464h4M296 422h4M255 390h4M273 400h4M253 413h4M275 421h4M192 398h4M279 436h4M274 430h4M222 409h4M255 429h4M255 400h4M279 412h4M270 378h4M256 421h4M292 412h4M209 385h4M283 430h4M247 394h4M282 400h4M251 381h4M180 414h4M302 404h4M218 436h4M224 368h4M237 416h4M228 409h4M252 411h4M293 413h4M267 436h4M243 427h4M235 411h4M249 429h4M276 396h4M224 388h4M225 397h4M250 393h4M302 434h4M309 420h4M271 406h4M285 421h4M250 418h4M305 443h4M254 372h4M174 409h4M251 410h4M264 421h4M231 399h4M297 455h4M258 415h4M278 419h4M257 412h4M295 398h4M270 390h4M271 419h4M253 419h4M208 397h4M243 414h4M254 398h4M257 419h4M324 416h4M265 419h4M247 404h4M277 407h4M242 412h4M300 390h4M245 418h4M272 446h4M311 401h4M277 451h4M288 397h4M240 415h4M280 394h4M280 401h4M274 428h4M270 434h4M257 417h4M293 402h4M240 386h4M303 398h4M282 415h4M269 405h4M253 432h4M259 393h4M251 386h4M270 429h4M261 442h4M297 409h4M284 407h4M259 407h4M257 388h4M249 387h4M297 402h4M253 381h4M235 422h4M198 418h4M242 454h4M274 430h4M264 433h4M224 446h4M278 382h4M267 414h4M298 408h4M259 423h4M252 447h4M270 401h4M264 410h4M304 393h4M208 456h4M258 437h4M259 405h4M274 416h4M241 377h4M267 442h4M291 388h4M297 388h4M245 416h4M261 399h4M250 418h4M262 429h4M285 418h4M240 430h4M259 400h4M193 419h4M278 436h4M232 413h4M211 418h4M266 398h4M273 434h4M287 397h4M260 435h4M254 408h4M252 433h4M253 378h4M278 471h4M272 443h4M269 411h4M232 426h4M260 434h4M264 429h4M204 422h4M277 422h4M297 414h4M278 377h4M280 430h4M235 371h4M231 413h4M302 391h4M269 426h4M272 400h4M275 386h4M203 411h4M232 368h4M293 428h4M273 395h4M237 382h4M256 408h4M255 442h4M242 409h4M215 444h4M291 367h4M195 447h4M311 428h4M297 387h4M259 431h4M252 394h4M253 396h4M311 406h4M237 375h4M298 410h4M273 411h4M264 414h4M240 423h4M234 419h4M267 429h4M231 461h4M262 389h4M209 414h4M253 425h4M211 411h4M267 432h4M205 399h4M232 409h4M246 413h4M228 420h4M210 410h4M314 391h4M304 438h4M240 421h4M271 391h4M194 406h4M216 422h4M205 453h4M321 396h4M195 418h4M238 409h4M208 381h4M268 384h4M195 421h4M270 404h4M222 444h4M242 424h4M214 382h4M259 442h4M223 399h4M241 439h4M252 419h4M279 425h4M301 384h4M262 418h4M218 414h4M261 403h4M234 437h4M261 410h4M261 401h4M260 421h4M229 409h4M252 415h4M242 411h4M240 393h4M239 378h4M271 418h4M228 392h4M228 386h4M221 421h4M244 429h4M268 419h4M216 447h4M248 364h4M246 403h4M269 390h4M257 403h4M288 405h4M267 431h4M230 417h4M254 444h4M271 396h4M307 400h4M252 414h4M270 397h4M247 403h4M259 395h4M241 382h4M303 422h4M290 396h4M203 378h4M217 422h4M242 400h4M217 445h4M214 406h4M245 408h4M249 419h4M330 434h4M263 390h4M298 444h4M238 423h4M187 391h4M287 376h4M273 435h4M213 409h4M298 462h4M257 444h4M232 399h4M269 428h4M262 437h4M281 442h4M281 416h4M264 413h4M264 439h4M290 444h4M287 435h4M237 409h4M247 400h4M189 430h4M228 399h4M237 447h4M271 445h4M257 431h4M281 411h4M262 379h4M227 416h4M190 418h4M262 399h4M279 423h4M289 417h4M274 420h4M217 412h4M252 415h4M257 429h4M254 398h4M271 369h4M214 437h4M213 417h4M224 425h4M264 433h4M270 436h4M228 443h4M242 429h4M249 435h4M267 416h4M272 412h4M255 441h4M272 415h4M244 437h4M233 411h4M222 400h4M251 420h4M254 431h4M203 455h4M272 423h4M232 432h4M235 412h4M262 424h4M271 396h4M220 440h4M279 425h4M270 424h4M205 415h4M285 416h4M279 423h4M246 399h4M255 435h4M214 433h4M205 454h4M254 418h4M246 434h4M239 443h4M320 416h4M236 431h4M239 409h4M265 437h4M229 429h4M274 413h4M279 417h4M249 376h4M191 416h4M278 395h4M250 446h4M282 380h4M277 409h4M272 416h4M231 455h4M185 392h4M288 410h4M263 392h4M276 396h4M220 387h4M284 409h4M272 418h4M247 386h4M260 423h4M220 398h4M227 368h4M260 422h4M250 415h4M257 434h4M275 429h4M231 420h4M252 388h4M265 377h4M221 432h4M271 373h4M263 413h4M244 387h4M244 425h4M303 427h4M228 424h4M311 406h4M217 432h4M236 412h4M262 407h4M252 424h4M274 417h4M275 417h4M235 447h4M263 421h4M283 409h4M215 377h4M242 432h4M264 423h4M240 382h4M245 373h4M227 420h4M233 380h4M264 418h4M254 372h4M269 402h4M264 429h4M262 434h4M270 399h4M234 447h4M313 404h4M260 419h4M275 380h4M276 415h4M261 405h4M295 406h4M307 445h4M242 433h4M285 408h4M196 408h4M268 460h4M295 434h4M267 434h4M235 398h4M222 392h4M254 455h4M219 420h4M259 377h4M253 371h4" stroke="#000" stroke-width="4"/>
<polyline transform="scale(0.5)" points="376,461 326,438 332,433 365,424 336,423 375,447 373,429 277,454 354,460 343,456 367,434 287,455 348,435 311,474 347,445 319,429 349,419 375,434 376,445 322,479 341,433 367,450 343,407 298,459 329,451 320,447 296,438 380,446 333,440 342,476 347,450 330,452 354,429 299,438 373,431 332,463 339,407 385,443 328,437 355,433 388,450 358,447 328,446 388,433 338,449 323,458 310,449 316,436 334,490 327,460 353,429 366,441 300,411 346,445 301,443 333,450 323,443 338,452 368,478 302,446 317,421 295,430 341,436 345,443 351,441 347,443 326,416 300,447 312,452 325,425 330,441 381,431 323,445 362,436 323,448 345,447 303,451 340,458 332,447 332,477 301,422 318,386 324,468 357,458 335,428 334,417 294,459 338,464 303,441 300,467 341,422 313,462 311,436 339,422 377,472 325,443 357,451 358,420 340,415 337,449 361,403 346,416 352,448 345,458 347,427 332,447 298,436 350,422 371,460 354,439 332,451 352,458 323,452 369,424 344,441 335,458 336,453 351,454 334,429 356,441 361,432 326,453 344,438 357,438 345,450 313,458 340,436 339,430 295,442 330,469 378,433 349,460 351,439 333,424 363,452 346,442 384,449 375,421 320,428 360,436 374,444 366,436 364,437 341,425 298,423 349,447 303,422 308,452 320,425 353,432 355,455 328,413 335,479 315,465 326,425 378,435 289,419 321,432 372,458 341,449 330,413 342,438 364,447 370,435 333,434 321,460 346,421 327,474 399,466 345,469 340,422 344,423 336,480 355,445 362,434 348,425 308,433 312,403 328,423 318,466 356,458 336,424 319,472 271,432 346,415 367,427 341,468 363,438 338,467 388,451 296,434 368,429 335,425 332,459 359,424 374,418 366,458 310,411 368,454 349,429 353,417 363,483 338,461 322,448 338,450 336,413 369,423 370,422 363,449 330,459 349,470 360,464 292,466 337,438 310,430 335,444 344,436 346,457 330,431 369,450 319,454 353,480 365,456 341,426 340,438 335,462 317,472 317,418 366,438 325,449 330,444 333,445 321,454 331,443 287,450 327,438 332,431 316,457 328,437 331,428 367,429 348,426 303,414 351,406 296,429 353,427 365,436 332,466 350,432 324,453 372,434 334,458 321,447 345,437 316,399 334,418 345,430 328,464 355,423 359,433 306,442 338,456 364,458 321,438 294,445 333,402 354,447 299,401 329,443 335,464 396,441 333,431 389,440 355,455 364,447 385,450 344,421 330,439 365,430 345,437 272,444 382,415 368,419 328,438 363,440 341,456 364,438 352,465 353,423 342,414 396,444 298,433 351,453 336,433 316,456 372,446 345,443 326,434 354,445 351,427 359,422 371,437 348,428 337,427 343,409 369,444 357,438 353,428 317,433 302,454 331,436 318,450 367,435 367,446 345,411 317,462 367,479 325,455 302,426 313,426 349,467 346,420 376,448 302,466 343,456 326,433 353,414 344,458 353,441 332,435 380,447 347,426 352,456 284,472 363,439 295,485 360,433 305,461 294,441 334,420 322,429 364,449 371,424 375,448 374,436 354,425 371,443 326,439 343,408 343,421 337,443 401,448 305,450 310,422 320,457 383,453 306,443 361,395 330,486 303,422 309,466 365,455 372,429 291,451 298,453 355,445 376,449 310,428 360,431 359,437 350,425 338,413 324,452 326,425 365,456 312,447 355,426 323,439 381,442 341,394 352,459 313,456 352,456 342,443 407,475 318,412 352,450 345,440 380,388 316,453 355,451 322,472 367,457 353,416 326,418 340,414 339,428 338,400 309,441 356,416 354,484 333,425 289,409 322,433 351,471 314,443 377,450 345,443 306,415 360,465 368,460 383,468 332,446 282,460 346,443 367,418 345,426 382,419 326,449 385,441 304,429 350,451 309,462 318,424 336,420 309,437 278,434 309,446 316,457 349,450 346,425 350,452 343,447 349,437 327,443 344,452 372,436 329,476 340,441 320,448 284,428 334,428 346,461 350,434 279,427 372,467 355,456 360,414 329,431 355,460 340,473 335,430 325,403 357,430 355,448 353,410 329,435 347,422 311,460 302,443 310,453 326,433 314,404 383,438 376,451 313,430 353,441 321,447 361,461 382,442 330,434 274,465 382,373 343,431 333,408 335,402 355,456 370,409 307,428 373,435 378,443 355,413 294,425 306,412 352,467 318,437 373,441 358,453 370,461 347,422 368,420 344,449 416,454 353,435 337,414 283,438 345,433 334,436 387,430 391,428 335,440 357,468 368,462 350,442 339,421 400,441 323,420 334,422 368,463 324,465 363,448 349,437 366,411 361,441 281,436 346,453 344,424 348,444 255,421 331,429 345,478 341,432 338,424 324,427 355,431 343,447 313,451 382,436 347,461 375,446 335,451 312,426 326,449 311,445 296,423 317,451 387,412 347,438 351,430 362,403 365,467 318,444 311,435 333,392 363,453 389,439 343,462 292,451 331,476 336,460 329,382 378,461 368,436 373,424 320,459 363,475 323,450 356,462 314,444 331,452 420,456 385,454 334,448 343,441 365,453 321,405 329,451 380,446 358,462 374,430 338,455 330,427 337,444 372,435 323,437 367,412 354,463 335,434 315,428 342,467 360,437 307,423 374,419 371,447 372,451 330,444 334,421 339,442 315,438 363,443 314,471 325,464 353,464 351,423 376,431 306,417 355,434 332,417 394,456 372,448 376,435 381,444 334,459 357,451 305,428 312,431 349,427 346,426 337,455 376,479 352,451 386,416 319,462 374,480 393,475 369,447 379,413 343,418 341,394 358,444 375,416 337,461 300,441 288,478 320,444 352,410 328,413 358,469 283,442 305,449 358,459 359,413 308,441 360,428 332,451 346,462 314,452 346,445 339,433 378,432 354,445 326,448 352,472 323,454 358,460 326,448 311,449 373,470 286,436 354,411 409,449 299,500 356,408 321,430 342,474 327,434 345,454 352,420 367,428 323,488 298,443 317,456 355,427 332,434 358,413 353,449 345,436 363,454 351,445 363,456 316,422 334,431 330,440 381,445 350,459 328,438 296,428 361,437 335,472 389,447 322,421 344,423 343,434 340,436 375,440 386,435 386,425 351,437 316,480 347,426 303,453 361,445 326,434 309,432 332,454 362,422 289,474 344,427 347,426 328,396 329,469 360,435 341,452 366,425 332,443 362,434 351,454 340,450 371,419 345,446 396,406 320,414 314,446 314,438 340,437 362,447 319,433 348,430 353,441 327,435 312,447 326,428 333,480 371,430 315,454 315,462 323,461 395,436 359,456 404,486 321,466 371,449 357,424 321,442 310,450 349,471 317,469 355,450 346,445 328,428 379,404 372,452 353,465 348,450 365,444 373,462 345,454 324,451 351,420 347,455 322,422 346,435 321,446 322,447 374,451 351,427 380,440 391,435 347,422 355,420 348,475 365,421 369,423 337,434 335,443 282,462 341,425 352,469 317,455 342,445 330,444 360,415 323,434 328,412 328,421 352,442 346,449 330,424 360,435 326,471 304,457 377,436 327,449 321,407 371,471 308,455 348,442 362,435 335,445 351,399 374,454 372,440 317,453 357,461 362,428 315,439 354,442 330,446 295,441 286,473 296,476 367,462 365,436 346,472 316,439 369,431 389,422 324,445 324,438 343,440 352,450 352,447 346,450 354,458 387,432 391,460 371,435 352,450 338,457 315,429 367,451 303,451 348,459 342,443 317,440 332,452 289,441 370,392 359,449 344,447 323,457 348,409 358,420 314,447 329,443 346,438 350,412 384,456 323,437 378,424 297,478 375,448 384,450 360,452 361,424 343,448 314,419 340,470 338,461 374,466 358,411 286,422 334,440 329,436 357,420 357,452 296,445 341,451 354,402 391,444 367,458 316,441 336,481 307,470 365,440 315,438 360,425 348,453 360,436 359,455 289,421 305,428 362,451 352,432 368,413 305,454 334,461 364,459 321,432 298,442 341,431 334,445 365,431 325,440 356,475 366,398 297,427 274,454 317,417 335,446 331,440 365,422 340,406 308,459 320,422 361,432 364,475 398,437 349,430 385,451 414,432 339,388 321,429 352,458 319,438 355,439 357,469 324,446 370,442 381,435 369,445 356,429 369,420 369,442 348,465 305,455 351,432 363,441 391,433 383,467 351,430 341,419 324,431 351,417 353,434 367,452 326,446 347,432 335,439 316,420 347,410 354,456 330,449 322,453 422,450 340,441 305,428 334,430 343,464 305,430 344,420 317,450 355,447 314,450 361,433 341,436 334,431 351,426 384,452 334,480 344,400 369,453 340,442 325,420 313,486 325,444 387,429 339,433 302,450 356,437 335,452 359,476 359,456 325,417 374,427 359,443 320,446 386,466 330,437 289,420 327,442 353,434 373,426 360,424 333,445 362,430 332,438 349,468 360,437 335,465 377,461 343,427 324,445 316,439 398,449 364,425 379,436 345,447 345,434 359,479 335,458 316,449 328,468 333,455 346,422 346,443 364,440 299,426 331,455 335,459" fill="none" stroke="none" marker-start="url(#gc)" marker-mid="url(#gc)" marker-end="url(#gc)"/>
<path transform="scale(0.5)" d="M335 450h4M367 446h4M299 463h4M336 457h4M271 443h4M340 435h4M338 425h4M317 451h4M335 456h4M351 430h4M341 437h4M354 472h4M342 434h4M396 438h4M323 436h4M286 469h4M369 462h4M355 439h4M328 429h4M360 459h4M361 424h4M390 429h4M341 442h4M329 403h4M309 432h4M366 435h4M349 421h4M331 463h4M387 449h4M355 445h4M337 444h4M366 430h4M312 452h4M325 449h4M313 446h4M329 432h4M357 431h4M278 420h4M333 470h4M330 421h4M325 460h4M349 450h4M354 469h4M307 465h4M356 426h4M359 467h4M335 461h4M287 416h4M354 444h4M358 452h4M363 417h4M305 463h4M351 444h4M338 472h4M324 451h4M380 434h4M328 438h4M292 464h4M368 477h4M343 452h4M362 474h4M353 454h4M328 451h4M345 464h4M364 425h4M318 452h4M334 450h4M373 423h4M354 428h4M343 443h4M316 404h4M333 423h4M347 445h4M366 453h4M293 413h4M319 441h4M348 431h4M350 427h4M369 436h4M329 435h4M343 470h4M348 461h4M324 456h4M363 462h4M320 429h4M345 455h4M322 448h4M383 410h4M311 441h4M355 444h4M357 469h4M332 430h4M379 415h4M366 468h4M352 435h4M349 435h4M395 456h4M346 453h4M358 463h4M353 431h4" stroke="#000" stroke-width="4"/>
<polyline transform="scale(0.5)" points="447,233 424,279 444,262 482,290 460,248 473,237 498,244 485,228 484,275 462,298 475,265 460,280 460,240 440,263 418,210 479,243 522,260 485,284 459,253 411,238 415,226 419,277 414,322 439,280 469,275 455,258 466,290 478,266 414,243 467,299 494,238 464,244 433,270 475,268 401,310 407,305 513,353 416,254 463,276 451,300 446,266 461,286 462,212 474,228 429,245 455,283 466,215 462,297 484,265 442,285 444,222 393,291 501,319 497,271 456,270 470,224 460,251 480,279 391,224 459,279 434,269 453,245 441,275 484,238 472,266 438,247 431,271 470,249 407,272 449,249 480,230 447,266 489,220 450,203 434,255 422,283 457,235 453,237 445,254 486,226 475,293 460,279 503,218 428,284 464,308 441,267 461,193 495,257 429,247 450,305 440,307 443,278 446,263 482,254 446,295 510,246 446,246 416,245 463,241 465,265 481,304 446,219 464,277 503,254 432,236 469,251 489,297 458,278 459,279 413,240 490,207 429,282 426,251 438,310 460,310 452,209 448,203 468,188 486,272 497,267 460,247 433,241 444,255 520,262 437,306 453,238 453,239 467,248 476,217 453,218 497,215 506,243 477,230 453,305 421,284 422,333 473,198 450,295 515,247 410,308 432,263 432,217 399,318 456,258 437,273 415,227 404,218 450,208 501,244 435,251 480,176 460,312 481,262 452,332 449,319 415,212 448,243 383,267 517,240 462,254 451,265 454,256 463,269 446,209 420,224 451,306 455,242 510,273 434,276 484,283 436,268 425,219 455,193 453,291 468,254 463,262 492,269 469,234 446,244 487,282 462,287 456,255 473,267 512,210 478,228 473,227 418,319 461,314 433,240 487,237 453,234 438,194 445,259 487,288 454,265 467,329 442,292 453,222 479,296 459,225 477,280 451,293 406,232 448,264 487,288 442,298 505,281 453,255 424,206 428,221 463,265 469,271 467,243 449,277 486,199 424,258 424,248 451,236 481,279 478,272 460,165 472,228 510,229 457,214 425,274 475,308 486,297 502,205 493,230 465,258 486,285 470,246 407,274 457,264 484,321 490,271 436,227 503,277 451,215 452,285 467,247 462,255 455,308 480,270 453,308 422,277 416,202 433,199 440,219 452,245 410,254 441,310 497,278 492,332 464,266 503,274 440,316 470,306 498,243 461,280 417,238 461,261 431,264 463,238 433,260 421,239 433,201 439,270 432,301 470,300 456,281 447,227 467,235 464,227 454,252 487,245 489,272 495,241 487,286 476,267 488,212 474,241 476,287 465,252 422,220 439,279 429,349 450,237 490,291 463,236 464,297 466,195 487,312 426,205 435,268 449,256 367,254 434,261 481,229 492,297 478,238 488,240 439,213 421,236 493,264 459,247 436,230 451,304 458,325 467,245 489,252 478,239 496,266 465,289 428,197 436,293 489,210 471,276 407,212 504,264 447,278 410,279 448,249 483,253 450,243 429,258 481,188 417,243 464,232 454,186 424,284 384,276 490,272 465,225 439,291 468,310 462,260 459,303 475,237 462,227 475,245 500,298 465,204 438,271 462,269 477,232 410,220 488,281 438,259 486,241 475,280 463,283 481,240 403,261 399,210 465,221 438,264 428,281 499,220 435,174 435,316 445,242 462,245 491,245 430,251 379,284 455,194 370,251 464,305 420,235 455,298 421,248 433,290 504,316 502,278 437,276 491,278 425,253 445,292 457,244 474,268 440,296 454,254 425,267 453,183 429,251 458,214 505,239 424,256 474,252 431,268 459,260 425,272 563,230 444,189 452,267 436,254 426,288 443,218 441,267 470,336 447,260 428,279 428,276 426,233 438,326 423,296 445,216 438,234 467,293 504,230 431,239 447,233 501,247 428,162 451,225 523,267 445,278 509,261 464,195 423,222 455,208 400,252 449,277 503,291 456,264 405,305 425,248 443,225 448,289 500,312 473,236 458,221 385,285 433,243 430,323 459,298 455,265 464,304 394,257 433,273 433,260 426,230 466,287 449,209 430,284 442,283 458,303 421,267 476,268 407,235 429,220 431,240 435,244 430,285 477,246 493,289 449,316 498,279 443,271 440,285 437,222 415,244 426,278 473,258 438,251 430,232 460,235 460,221 416,273 528,244 435,308 449,245 420,286 432,231 447,293 466,215 401,317 463,323 463,271 449,258 457,257 494,242 446,296 422,252 442,206 460,250 474,260 405,215 423,250 441,247 456,212 439,306 447,256 462,211 459,251 430,267 493,259 455,310 478,319 489,257 433,251 476,212 506,164 470,291 413,189 431,244 473,250 454,249 488,233 445,265 511,138 381,246 420,257 474,273 437,234 439,232 514,287 451,281 436,259 449,219 449,237 460,221 437,279 499,269 454,210 437,267 451,262 493,298 433,235 407,270 478,298 430,248 442,337 499,237 457,234 456,334 445,255 446,215 396,200 479,229 441,293 419,250 433,277 436,204 490,297 461,248 443,221 449,296 453,212 411,256 492,267 457,288 433,275 437,223 461,214 457,293 424,308 498,279 445,253 447,262 429,275 488,207 495,216 426,250 453,266 504,270 487,238 458,200 434,344 454,281 482,278 415,272 525,282 442,262 440,268 456,259 421,205 468,264 475,294 454,300 455,294 469,231 486,272 458,257 453,236 419,266 478,252 468,207 504,261 448,264 466,262 458,217 471,252 428,294 465,312 446,308 467,233 485,275 480,238 384,259 464,291 497,297 474,264 446,280 445,272 450,287 442,243 444,283 448,305 429,276 440,224 456,276 472,249 420,243 450,324 419,263 512,213 510,299 482,274 405,266 455,302 481,216 381,247 511,254 460,284 449,273 427,240 471,265 476,260 485,270 472,295 452,223 430,257 482,237 455,304 490,209 422,262 455,242 426,339 474,307 483,277 409,282 463,266 428,226 462,283 487,263 405,259 438,241 425,287 436,268 467,232 443,241 484,231 417,299 395,320 472,273 469,263 455,178 439,224 392,229 444,268 424,232 497,272 422,235 460,284 435,256 468,203 453,249 422,269 471,242 442,302 450,228 462,279 435,199 428,224 490,225 501,250 455,266 491,216 438,250 458,237 460,285 448,301 450,253 468,245 461,237 420,274 472,252 473,240 509,239 466,254 443,231 490,246 441,298 478,232 478,292 452,219 448,237 421,273 459,185 438,234 461,239 423,311 456,303 454,230 406,220 446,265 483,214 459,283 497,284 474,278 418,269 431,334 481,250 444,252 469,248 446,233 474,279 430,286 455,289 480,240 478,293 422,268 429,285 413,297 449,283 512,250 422,229 468,215 416,279 493,264 514,291 479,272 468,273 485,261 404,213 425,266 410,260 467,295 423,234 411,227 450,308 363,274 467,301 489,262 400,240 437,234 469,238 419,261 470,236 417,237 455,267 429,237 485,325 538,321 436,268 449,245 438,262 475,300 490,245 452,292 471,242 447,204 457,222 447,168 448,222 440,266 445,315 479,243 502,251 470,316 508,253 476,254 482,248 478,203 472,297 451,207 455,225 442,265 502,246 431,321 442,240 444,251 476,184 431,286 454,252 401,294 442,303 388,278 474,305 449,235 454,244 442,192 450,261 455,256 512,311 482,256 492,257 440,244 459,307 497,292 461,240 463,258 443,297 403,225 418,248 455,285 477,242 440,267 487,270 479,288 468,262 398,256 418,244 452,285 481,231 476,280 408,284 448,208 467,286 479,247 488,296 471,218 483,245 454,309 511,308 389,324 406,295 429,281 495,291 437,182 439,250 465,294 442,293 432,249 475,288 483,242 473,227 524,277 459,238 446,274 442,272 431,247 484,231 444,238 471,232 452,269 455,285 469,269 444,260 433,246 441,317 479,226 463,293 466,319 428,275 408,315 443,275 488,257 444,246 509,309 455,312 431,196 436,242 469,274 432,242 438,185 478,290 449,216 446,235 446,316 444,240 464,212 503,264 463,270 417,285 468,259 430,261 489,229 470,286 418,251 470,299 459,239 443,204 467,255 447,263 453,226 506,215 457,260 406,258 417,220 401,264 482,278 450,270 391,278 438,280 471,255 442,250 498,237 465,283 481,206 448,219 445,282 403,271 452,284 452,264 449,294 472,263 366,294 436,281 464,274 442,266 438,211 457,231 458,288 489,267 458,256 431,277 457,238 459,219 458,235 424,236 432,230 454,262 523,191 446,285 492,252 475,242 470,238 417,269 445,259 430,213 436,241 413,236 447,257 419,226 426,235 451,308 428,199 488,247 439,272 444,309 446,254 439,269 439,244 439,229 477,292 418,247 453,213 430,274 452,264 402,300 451,251 505,277 418,322 432,254 425,309 453,274 479,255 405,319 435,213 441,250 440,258 476,315 479,260 515,251 520,250 416,313 448,252 451,264 471,254 421,279 467,247 467,279 394,207 437,292 417,304 441,277 436,244 439,236 420,239 439,248 410,250 448,280 470,260 452,220 443,286 472,305 523,307 433,243 451,303 461,249 421,262 453,301 515,203 415,294 470,237 465,270 427,288 440,270 486,222 483,281 494,226 456,210 462,305 512,273 417,214 462,238 467,260 465,313 414,262 487,307 418,225 429,206 428,311 421,220 441,265 430,263 482,278 452,299 501,269 403,299 449,291 431,239 431,245 496,232 439,265 416,246 428,293 409,261 464,296 476,263 438,340 494,266 408,249 412,225 418,210 408,244 427,192 448,307 437,237 443,328 475,277 464,253 501,239 391,283 476,260 470,269 473,323 497,271 455,244 413,223 417,256 448,282 445,193 399,245 520,232 469,264 442,284 388,235 409,278 508,233 412,227 449,251 457,234 437,297 491,273 433,303 537,212 475,249 466,266 467,236 455,239 462,260 432,260 440,271 460,267 388,263 429,243 482,278 462,305 490,264 491,312 417,225 424,252 459,300 444,311 500,297 451,235 493,270 454,291 461,235 470,264 452,276 433,267 444,287 457,253 476,237 439,299" fill="none" stroke="none" marker-start="url(#gc)" marker-mid="url(#gc)" marker-end="url(#gc)"/>
<path transform="scale(0.5)" d="M428 317h4M465 256h4M438 336h4M443 261h4M426 246h4M500 282h4M445 257h4M441 302h4M390 262h4M418 234h4M463 253h4M481 304h4M430 311h4M454 268h4M479 278h4M445 233h4M470 265h4M477 264h4M473 276h4M454 211h4M447 269h4M436 242h4M406 302h4M447 279h4M467 252h4M483 289h4M454 276h4M492 281h4M459 242h4M452 241h4M432 289h4M430 220h4M417 260h4M456 254h4M471 272h4M430 326h4M441 260h4M430 274h4M437 282h4M465 274h4M435 307h4M442 287h4M399 316h4M435 302h4M417 273h4M484 303h4M457 294h4M393 262h4M430 214h4M433 281h4M466 262h4M489 345h4M446 293h4M468 311h4M397 293h4M425 237h4M413 265h4M451 252h4M406 271h4M470 237h4M465 305h4M437 250h4M428 314h4M459 267h4M445 251h4M448 319h4M460 284h4M457 252h4M445 236h4M386 277h4M428 254h4M406 266h4M430 243h4M416 234h4M429 293h4M420 295h4M405 252h4M502 213h4M457 238h4M449 282h4M461 262h4M439 343h4M459 285h4M415 239h4M462 310h4M421 237h4M460 248h4M446 235h4M436 245h4M427 247h4M445 258h4M444 253h4M464 244h4M438 301h4M440 247h4M424 248h4M465 265h4M432 223h4M466 292h4M464 231h4M466 246h4M451 272h4M454 225h4M446 291h4M484 255h4M460 309h4M431 263h4M449 310h4M436 279h4M434 277h4M488 284h4M454 257h4M433 301h4M468 244h4M434 259h4M440 297h4M423 307h4M472 225h4M444 264h4M429 332h4M475 249h4M433 279h4M479 298h4M444 238h4M405 276h4M463 295h4M479 265h4M448 307h4M446 297h4M395 318h4M454 282h4M467 271h4M407 265h4M483 261h4M441 257h4M437 254h4M418 276h4M422 241h4M469 261h4M460 317h4M482 250h4M454 270h4M429 283h4M428 253h4M445 280h4M458 266h4M465 256h4M438 295h4M427 291h4M459 253h4M430 276h4M454 256h4M427 228h4M454 292h4M464 265h4M464 313h4M463 274h4M449 287h4M452 265h4M468 268h4M460 259h4M475 273h4M430 255h4M489 281h4M467 257h4M440 263h4M455 267h4M448 242h4M491 232h4M551 266h4M478 269h4M475 282h4M416 252h4M424 304h4M442 274h4M450 271h4M442 251h4M425 290h4M453 273h4M464 285h4M463 310h4M401 294h4M398 307h4M463 267h4M449 294h4M436 271h4M453 203h4M456 285h4M467 284h4M415 316h4M408 203h4M450 273h4M456 290h4M486 294h4M415 292h4M455 267h4M445 269h4M458 244h4M389 278h4M422 267h4M455 236h4M440 239h4M417 257h4M425 288h4M418 272h4M438 263h4M467 301h4M465 305h4M451 307h4M465 271h4M468 242h4M415 241h4M446 234h4M458 232h4M435 272h4M452 249h4M462 293h4M434 220h4M466 256h4M428 278h4M401 305h4M418 288h4M441 248h4M453 280h4M440 275h4M447 251h4M420 273h4M399 247h4M461 286h4M442 288h4M435 250h4M455 267h4M442 266h4M497 278h4M463 262h4M452 250h4M434 267h4M450 319h4M431 300h4M450 274h4M490 258h4M410 310h4M451 224h4M452 240h4M447 308h4M420 269h4M473 264h4M438 297h4M471 297h4M489 214h4M403 261h4M401 252h4M415 294h4M462 248h4M502 310h4M424 264h4M441 288h4M457 271h4M450 276h4M454 249h4M440 245h4M442 262h4M436 218h4M419 325h4M446 246h4M465 331h4M465 236h4M417 221h4M424 304h4M479 268h4M398 208h4M447 269h4M440 271h4M486 255h4M453 288h4M478 261h4M442 289h4M437 241h4M441 266h4M416 232h4M421 258h4M466 301h4M380 286h4M439 274h4M452 243h4M383 291h4M442 289h4M451 259h4M456 260h4M447 245h4M450 278h4M427 274h4M479 251h4M422 317h4M491 269h4M457 289h4M440 297h4M425 205h4M435 280h4M484 259h4M427 275h4M436 254h4M472 277h4M424 277h4M455 224h4M403 269h4M424 243h4M423 231h4M486 269h4M453 249h4M440 191h4M426 283h4M427 271h4M391 270h4M452 285h4M436 249h4M466 237h4M426 266h4M449 283h4M426 289h4M446 230h4M448 241h4M482 313h4M401 214h4M419 263h4M436 258h4M474 272h4M445 213h4M449 256h4M443 267h4M463 225h4M444 211h4M451 267h4M474 261h4M447 245h4M447 270h4M436 262h4M441 240h4M447 303h4M463 280h4M395 242h4M404 259h4M439 289h4M427 255h4M462 255h4M402 285h4M418 275h4M468 282h4M424 265h4M427 305h4M459 270h4M462 299h4M434 288h4M476 255h4M472 280h4M418 270h4M413 293h4M421 270h4M446 325h4M458 271h4M478 242h4M463 280h4M453 294h4M433 322h4M458 286h4M454 277h4M511 260h4M421 263h4M380 297h4M432 269h4M431 293h4M486 238h4M470 286h4M461 275h4M471 303h4M422 199h4M452 254h4M473 251h4M437 200h4M453 275h4M477 278h4M458 281h4M405 308h4M451 278h4M453 255h4M440 274h4M460 306h4M455 287h4M436 330h4M480 291h4M420 295h4M415 266h4M423 241h4M460 322h4M434 303h4M443 265h4M453 285h4M420 238h4M414 189h4M368 260h4M445 262h4M426 249h4M421 269h4M439 262h4M449 292h4M403 227h4M467 232h4M427 286h4M441 302h4M446 292h4M450 285h4M429 255h4M443 240h4M472 263h4M443 318h4M426 252h4M455 262h4M444 276h4M458 258h4M468 245h4M446 260h4M471 243h4M498 237h4M456 279h4M461 285h4M407 237h4M442 278h4M423 285h4M477 271h4M456 249h4M498 263h4M449 277h4M438 275h4M445 241h4M464 285h4M431 239h4M431 244h4M495 300h4M448 264h4M472 288h4M479 211h4M451 229h4M483 207h4M415 250h4M435 264h4M467 264h4M449 281h4M416 314h4M419 295h4M454 237h4M472 285h4M456 277h4M454 290h4M461 207h4M491 274h4M454 256h4M439 291h4M418 240h4M463 277h4M445 327h4M454 285h4M445 276h4M436 318h4M408 263h4M400 271h4M451 274h4M458 254h4M453 250h4M425 274h4M456 211h4M420 252h4M452 258h4M458 307h4M453 273h4M419 234h4M445 320h4M419 275h4M424 289h4M462 231h4M444 265h4M428 244h4M453 280h4M476 246h4M441 250h4M442 333h4M470 259h4M440 277h4M486 297h4M438 237h4M445 322h4M422 267h4M402 294h4M456 323h4M392 249h4M423 298h4M437 233h4M441 181h4M478 293h4M402 252h4M407 283h4" stroke="#000" stroke-width="4"/>
<path transform="scale(0.5)" d="M365 256h4M404 271h4M373 294h4M361 293h4M342 259h4M310 272h4M374 328h4M359 276h4M342 281h4M305 252h4M362 309h4M398 298h4M330 313h4M364 275h4M417 281h4M397 274h4M351 284h4M353 282h4M361 319h4M355 261h4M277 304h4M413 251h4M364 335h4M331 272h4M385 264h4M308 276h4M236 252h4M376 270h4M337 279h4M332 259h4M340 241h4M359 276h4M369 267h4M408 279h4M330 308h4M313 321h4M426 249h4M297 291h4M374 299h4M312 242h4M270 289h4M317 217h4M357 300h4M358 263h4M372 210h4M353 296h4M337 255h4M326 318h4M319 214h4M350 235h4M338 259h4M342 242h4M368 296h4M355 287h4M358 266h4M343 295h4M333 244h4M255 288h4M391 283h4M343 256h4" stroke="#000" stroke-width="4"/>
<path transform="scale(0.5)" d="M324 366h4M501 360h4M360 411h4M456 170h4M294 195h4M156 328h4M331 301h4M400 316h4M368 342h4M278 460h4M422 314h4M383 279h4M373 345h4M291 266h4M578 267h4M454 271h4M307 365h4M240 442h4M409 320h4M504 282h4M468 329h4M403 313h4M302 297h4M431 321h4M320 280h4M194 403h4M366 232h4M325 335h4M301 305h4M336 345h4" stroke="#000" stroke-width="4"/>
<polyline transform="scale(0.5)" points="352,375 425,337 375,306 425,435 391,366 447,279 350,386 377,402 367,445 419,301 266,398 330,303 288,231 438,295 358,266 284,323 334,394 415,359 495,345 302,387 497,311 474,366 355,227 309,277 436,274 431,399 343,302 296,333 337,318 328,321" fill="none" stroke="none" marker-start="url(#gc)" marker-mid="url(#gc)" marker-end="url(#gc)"/>
<path transform="scale(0.5)" d="M382 148h4" stroke="#000" stroke-width="4"/>
<path transform="scale(0.5)" d="M312 176h4" stroke="#000" stroke-width="4"/>
<path transform="scale(0.5)" d="M358 178h4" stroke="#000" stroke-width="4"/>
<path transform="scale(0.5)" d="M290 204h4" stroke="#000" stroke-width="4"/>
<path transform="scale(0.5)" d="M332 214h4" stroke="#000" stroke-width="4"/>
<polyline transform="scale(0.5)" points="256,192" fill="none" stroke="none" marker-start="url(#gc)" marker-mid="url(#gc)" marker-end="url(#gc)"/>
<polyline transform="scale(0.5)" points="264,216" fill="none" stroke="none" marker-start="url(#gc)" marker-mid="url(#gc)" marker-end="url(#gc)"/>
<path transform="scale(0.5)" d="M914 426h4M899 452h4M905 433h4M943 462h4M961 463h4M958 389h4M947 423h4M938 433h4M971 393h4M945 427h4M887 424h4M941 429h4M930 418h4M940 428h4M894 468h4M883 456h4M906 412h4M949 411h4M885 414h4M964 396h4M988 452h4M963 441h4M901 422h4M948 449h4M957 431h4M917 486h4M893 432h4M892 458h4M915 445h4M984 374h4M894 384h4M881 398h4M899 458h4M926 439h4M982 434h4M924 457h4M941 407h4M856 413h4M930 412h4M950 468h4M960 374h4M915 408h4M961 443h4M930 428h4M917 404h4M930 410h4M919 456h4M923 448h4M941 414h4M956 423h4M948 430h4M971 444h4M931 416h4M1005 429h4M940 434h4M923 404h4M918 411h4M968 481h4M912 434h4M960 412h4M911 416h4M982 445h4M903 433h4M934 432h4M867 430h4M940 444h4M937 419h4M919 450h4M1029 414h4M969 457h4M927 363h4M950 420h4M910 442h4M901 409h4M964 453h4M970 443h4M937 446h4M974 468h4M957 453h4M924 459h4M1001 474h4M941 395h4M907 441h4M899 418h4M998 402h4M887 434h4M934 482h4M949 446h4M948 401h4M872 400h4M928 396h4M961 432h4M952 446h4M936 395h4M903 435h4M880 424h4M888 443h4M945 432h4M947 452h4M931 436h4M962 436h4M934 427h4M916 415h4M949 436h4M918 454h4M972 434h4M903 439h4M933 444h4M934 454h4M894 431h4M922 439h4M909 415h4M885 431h4M991 468h4M917 430h4M944 395h4M954 461h4M927 391h4M881 443h4M919 428h4M953 431h4M920 423h4M869 458h4M975 421h4M944 412h4M953 431h4M915 418h4M968 431h4M949 414h4M1022 440h4M889 461h4M894 457h4M967 473h4M924 399h4M950 450h4M943 434h4M991 456h4M904 440h4M892 426h4M873 412h4M894 391h4M929 436h4M912 398h4M983 428h4M916 419h4M964 406h4M932 402h4M965 411h4M896 442h4M945 449h4M952 472h4M901 440h4M955 438h4M978 452h4M945 459h4M913 436h4M912 458h4M905 413h4M945 432h4M892 431h4M972 431h4M887 425h4M892 410h4M958 440h4M975 412h4M922 406h4M960 409h4M896 404h4M949 437h4M934 458h4M934 414h4M1002 417h4M912 459h4M933 437h4M880 415h4M902 440h4M922 441h4M906 425h4M944 405h4M899 455h4M913 480h4M958 446h4M927 439h4M935 401h4M915 423h4M959 426h4M848 435h4M922 442h4M939 402h4M879 415h4M898 428h4M910 426h4M948 424h4M913 442h4M962 443h4M878 433h4M922 451h4M846 429h4M931 440h4M918 422h4M933 398h4M934 395h4M901 448h4M944 439h4M969 440h4M942 414h4M909 461h4M906 452h4M945 466h4M907 455h4M912 423h4M991 467h4M939 463h4M951 430h4M966 404h4M890 371h4M941 413h4M918 432h4M931 445h4M931 458h4M873 452h4M967 424h4M983 427h4M1007 462h4M948 433h4M951 438h4M934 440h4M977 428h4M905 477h4M940 446h4M929 419h4M966 459h4M918 417h4M939 440h4M918 453h4M941 412h4M928 434h4M938 421h4M955 411h4M948 430h4M900 416h4M879 396h4M878 436h4M926 404h4M908 405h4M958 411h4M932 439h4M950 454h4M921 394h4M948 443h4M870 427h4M940 421h4M928 399h4M898 404h4M982 430h4M917 410h4M933 433h4M922 405h4M898 398h4M871 438h4M910 440h4M925 424h4M919 430h4M993 443h4M906 456h4M916 401h4M864 391h4M950 446h4M896 426h4M884 427h4M961 438h4M917 410h4M935 439h4M915 427h4M959 432h4M887 456h4M926 389h4M968 462h4M943 417h4M893 420h4M862 441h4M948 407h4M988 449h4M982 443h4M973 439h4M896 433h4M887 410h4M927 405h4M883 444h4M924 426h4M936 400h4M934 410h4M943 437h4M931 463h4M935 441h4M935 437h4M972 475h4M939 425h4M922 428h4M973 418h4M886 372h4M921 429h4M918 425h4M929 412h4M929 407h4M919 481h4M945 433h4M925 430h4M973 412h4M930 424h4M967 441h4M907 388h4M953 457h4M910 460h4M880 399h4M868 442h4M914 444h4M833 442h4M931 464h4M946 398h4M983 431h4M971 409h4M942 450h4M964 447h4M888 422h4M894 436h4M869 465h4M901 446h4M895 479h4M990 392h4M872 437h4M874 425h4M962 408h4M911 419h4M932 449h4M950 400h4M889 434h4M972 417h4M900 423h4M920 433h4M922 434h4M906 450h4M955 438h4M932 416h4M890 436h4M922 423h4M980 424h4M977 474h4M971 425h4M946 425h4M938 437h4M887 429h4M940 445h4M942 433h4M922 456h4M914 418h4M933 426h4M888 446h4M968 435h4M933 436h4M963 410h4M936 457h4M905 447h4M867 452h4M990 450h4M950 411h4M902 410h4M950 428h4M970 426h4M957 441h4M931 421h4M958 380h4M1013 421h4M949 475h4M888 411h4M968 403h4M928 427h4M942 427h4M955 415h4M930 401h4M950 392h4M946 417h4M982 438h4M945 418h4M944 451h4M950 470h4M933 475h4M885 421h4M928 427h4M950 424h4M890 423h4M889 430h4M938 351h4M960 412h4M926 435h4M927 451h4M973 369h4M1012 423h4M935 426h4M898 425h4M930 433h4M963 442h4M905 460h4M952 416h4M949 450h4M926 429h4M848 388h4M915 425h4M958 399h4M901 426h4M891 404h4M965 430h4M976 406h4M958 449h4M996 433h4M974 453h4M930 401h4M903 414h4M918 443h4M962 405h4M943 440h4M953 404h4M884 443h4M921 425h4M978 413h4M877 413h4M977 423h4M947 440h4M998 413h4M942 435h4M921 434h4M871 439h4M884 451h4M925 393h4M912 444h4M899 382h4M919 428h4M924 433h4M969 450h4M966 424h4M988 395h4M880 404h4M919 432h4M893 428h4M957 437h4M939 451h4M973 410h4M920 393h4M897 408h4M910 389h4M917 427h4M885 415h4M950 441h4M894 415h4M918 439h4M955 416h4M911 432h4M906 434h4M877 410h4M981 429h4M890 448h4M928 426h4M930 472h4M911 406h4M946 443h4M894 419h4M981 443h4M976 421h4M928 403h4M851 448h4M887 426h4M896 425h4M904 466h4M926 413h4M923 370h4M943 409h4M961 400h4M970 372h4M898 449h4M944 414h4M954 406h4M957 460h4M980 404h4M975 457h4M934 433h4M941 417h4M916 439h4M957 428h4M866 440h4M857 455h4M951 406h4M957 446h4M910 394h4M963 432h4M910 446h4M902 452h4M983 413h4M907 444h4M929 387h4M965 417h4M967 398h4M939 438h4M945 408h4M875 443h4M963 432h4M945 413h4M892 456h4M981 471h4M942 409h4M836 436h4M968 444h4M953 405h4M971 462h4M1020 460h4M987 389h4M881 400h4M961 431h4M896 410h4M951 393h4M946 441h4M1004 432h4M868 462h4M938 429h4M909 436h4M907 421h4M914 457h4M957 403h4M933 419h4M939 443h4M923 459h4M974 409h4M932 407h4M877 399h4M890 406h4M946 437h4M905 408h4M937 441h4M976 435h4M946 395h4M917 440h4M905 411h4M1007 452h4M929 451h4M939 415h4M924 424h4M962 424h4M926 402h4M888 424h4M923 441h4M946 434h4M892 440h4M877 433h4M947 461h4M913 432h4M928 395h4M959 418h4M952 401h4M945 444h4M929 477h4M938 448h4M861 447h4M873 404h4M898 418h4M989 424h4M931 415h4M923 389h4M937 435h4M875 381h4M899 430h4M891 388h4M939 390h4M951 454h4M859 441h4M947 441h4M977 466h4M941 437h4M930 425h4M974 451h4M939 469h4M987 461h4M942 441h4M1002 465h4M962 423h4M928 438h4M936 459h4M966 394h4M945 448h4M900 401h4M933 430h4M986 435h4M970 466h4M978 422h4M940 423h4M904 456h4M889 406h4M895 432h4M928 442h4M951 360h4M894 427h4M952 446h4" stroke="#000" stroke-width="4"/>
<path transform="scale(0.5)" d="M962 344h4M947 389h4M997 380h4M998 328h4M947 424h4M945 312h4M1040 322h4M1017 412h4M1043 389h4M1012 408h4M1014 388h4M996 352h4M959 419h4M1010 434h4M951 308h4M989 330h4M994 340h4M986 365h4M1050 387h4M974 360h4M994 424h4M934 335h4M1014 339h4M1036 336h4M1001 396h4M1061 411h4M990 406h4M974 354h4M1040 316h4M1044 324h4M1027 369h4M1021 378h4M959 365h4M1026 357h4M1028 315h4M980 414h4M1009 369h4M1013 410h4M981 394h4M1003 363h4M971 418h4M1015 348h4M996 340h4M1033 313h4M985 358h4M1006 334h4M974 394h4M1054 332h4M990 347h4M977 390h4M924 311h4M987 370h4M1012 384h4M1020 353h4M995 379h4M1037 402h4M993 347h4M1045 390h4M1051 366h4M994 386h4M953 394h4M987 345h4M1003 321h4M984 416h4M964 369h4M971 406h4M1061 293h4M1015 375h4M1029 403h4M1018 392h4M983 433h4M1026 330h4M997 363h4M966 343h4M975 400h4M1060 377h4M1050 328h4M1007 353h4M1029 340h4M999 361h4M989 326h4M1026 329h4M1008 314h4M954 325h4M972 397h4M975 344h4M981 377h4M1031 341h4M992 406h4M1045 369h4M1000 281h4M982 408h4M988 296h4M993 343h4M1023 362h4M1009 421h4M991 336h4M1006 376h4M966 387h4M951 330h4M1019 414h4M994 397h4M997 331h4M991 387h4M1021 421h4M1016 413h4M1050 329h4M968 358h4M1038 412h4M983 351h4M972 344h4M1079 365h4M968 333h4M949 397h4M1002 446h4M1060 332h4M961 319h4M1036 468h4M994 348h4M997 336h4M948 343h4M961 361h4M992 349h4M1017 316h4M1036 391h4M1030 340h4M1003 406h4M1014 310h4M1016 350h4M994 360h4M954 336h4M966 333h4M1016 395h4M1016 391h4M998 353h4M976 392h4M1001 379h4M1009 425h4M976 353h4M967 341h4M1023 356h4M930 331h4M1008 365h4M986 383h4M996 364h4M1024 385h4M949 353h4M1041 370h4M1038 349h4M1025 362h4M996 370h4M1034 341h4M999 343h4M992 361h4M995 365h4M1039 332h4M935 420h4M1061 320h4M987 394h4M997 345h4M973 302h4M1040 359h4M947 381h4M1032 369h4M1014 314h4M1018 354h4M986 335h4M1008 462h4M995 365h4M999 362h4M1055 397h4M1068 427h4M953 407h4M1003 313h4M963 360h4M1045 397h4M1011 339h4M1001 379h4M1022 353h4M946 334h4M1021 364h4M1026 389h4M980 380h4M1037 336h4M980 402h4M991 369h4M998 364h4M999 407h4M1012 368h4M1018 357h4M977 324h4M1063 346h4M975 394h4M1030 393h4M1029 332h4M1072 412h4M1000 359h4M932 337h4M1035 405h4M994 337h4M1006 358h4M1003 394h4M925 367h4M954 388h4M976 307h4M1020 392h4M982 420h4M989 348h4M1006 360h4M983 423h4M995 387h4M987 341h4M985 323h4M1037 317h4M1004 378h4M943 383h4M972 345h4M967 389h4M954 324h4M1009 440h4M1035 407h4M970 409h4M995 355h4M1091 422h4M1014 331h4M1013 403h4M1015 418h4M993 392h4M1041 367h4M992 422h4M1014 388h4M984 383h4M1021 386h4M1012 381h4M1002 381h4M997 355h4M1059 276h4M954 369h4M992 458h4M1036 421h4M985 354h4M960 348h4M1030 340h4M1034 379h4M963 332h4M994 392h4M980 338h4M998 368h4M1009 392h4M949 356h4M1022 425h4M1026 364h4M1013 338h4M1026 327h4M974 342h4M1009 404h4M1002 422h4M1041 417h4M1029 383h4M1007 403h4M1012 351h4M1031 405h4M1001 342h4M1004 304h4M1040 358h4M1038 393h4M998 371h4M941 365h4M968 398h4M998 386h4M991 333h4M977 414h4M1020 365h4M1012 339h4M1010 351h4M1074 332h4M1008 323h4M962 309h4M1052 391h4M1044 398h4M997 328h4M978 316h4M994 348h4M987 422h4M960 369h4M977 352h4M993 409h4M983 371h4M1063 433h4M1023 390h4M1066 397h4M999 347h4M984 378h4M1004 423h4M991 410h4M1019 378h4M1040 373h4M1006 310h4M999 324h4M1009 365h4M998 331h4M986 412h4M1032 355h4M1045 358h4M951 355h4M997 333h4M983 375h4M976 361h4M1015 329h4M987 327h4M1019 418h4M1023 298h4M1031 331h4M1006 321h4M1062 375h4M986 371h4M1051 302h4M1030 364h4M941 371h4M1020 349h4M963 333h4M1002 393h4M1007 391h4M965 315h4M1043 425h4M988 366h4M1001 389h4M1018 373h4M998 291h4M1047 316h4M969 296h4M977 320h4M980 323h4M1011 368h4M952 396h4M968 435h4M999 368h4M993 380h4M1086 371h4M1006 347h4M978 393h4M1035 332h4M992 346h4M977 360h4M973 326h4M1081 278h4M986 375h4M972 313h4M1005 376h4M1029 294h4M993 385h4M1057 392h4M963 365h4M994 375h4M1023 417h4M977 392h4M989 336h4M977 339h4M1020 378h4M916 361h4M1021 381h4M1025 352h4M1016 292h4M993 325h4M944 300h4M984 371h4M931 348h4M1013 334h4M1025 340h4M1016 370h4M1042 413h4M961 405h4M1052 293h4M1048 382h4M971 412h4M1016 343h4M989 355h4M1002 362h4M994 331h4M1002 383h4M1034 346h4M977 312h4M1047 402h4M959 292h4M999 329h4M1018 437h4M997 319h4M1030 398h4M1020 369h4M995 377h4M947 371h4M1001 381h4M927 371h4M1012 335h4M1009 331h4M1006 297h4M981 364h4M987 386h4M1011 305h4M981 392h4M1011 400h4M988 368h4M1020 311h4M1002 303h4M1000 401h4M1011 366h4M996 390h4M973 438h4M1021 386h4M1026 344h4M1035 386h4M989 357h4M993 331h4M936 356h4M1012 411h4M1016 426h4M1000 365h4M1006 353h4M1038 334h4M1008 373h4M998 457h4M1020 354h4M1044 370h4M1021 344h4M947 439h4M1018 353h4M970 344h4M990 358h4M935 342h4M1047 391h4M1056 382h4M985 413h4M989 373h4M1013 372h4M951 409h4M978 381h4M981 367h4M1028 303h4M953 397h4M975 336h4M1042 389h4M1007 401h4M990 394h4M1028 392h4M1000 407h4M1050 434h4M993 353h4M1039 369h4M1072 381h4M1008 327h4M1025 353h4M1049 392h4M1028 377h4M975 373h4M989 376h4M995 414h4M1044 366h4M1016 364h4M1021 468h4M1007 275h4M1039 371h4M987 337h4M1029 342h4M1041 379h4M976 372h4M1032 349h4M960 372h4M1083 350h4M990 335h4M1051 364h4M1009 387h4M1020 311h4M1030 329h4M957 354h4M1015 361h4M979 337h4M1012 354h4M963 309h4M990 350h4M932 357h4M1021 408h4M1029 342h4M976 380h4M968 330h4M1073 301h4M1000 307h4M1016 324h4M1010 385h4M1017 411h4M1057 316h4M975 407h4M1008 381h4M1006 392h4M991 409h4M1018 432h4M967 326h4M995 311h4M959 342h4M975 432h4M970 369h4M983 322h4M1008 400h4M1041 353h4M1039 380h4M993 394h4M982 413h4M960 321h4M927 373h4M973 338h4M1014 413h4M999 308h4M1053 324h4M1008 383h4M1036 367h4M1037 390h4M1013 362h4M1011 335h4M976 378h4M1068 305h4M1004 390h4M976 351h4M1030 310h4M1022 386h4M1007 401h4M1021 363h4M1008 311h4M966 401h4M1011 394h4M1042 341h4M1098 326h4M1046 317h4M1026 363h4M967 354h4M995 346h4M1003 349h4M1014 410h4M985 326h4M1081 327h4M954 411h4M971 381h4M994 332h4M1022 321h4M1027 290h4M1014 364h4M974 282h4M982 364h4M1003 409h4M1035 330h4M978 315h4M994 366h4M1011 340h4M1024 333h4M1005 419h4M980 355h4M929 397h4M1034 375h4M1022 308h4M1031 393h4M1060 345h4M999 314h4M949 381h4M1002 331h4M1019 410h4M981 383h4M1006 373h4M1038 350h4M1019 295h4M1013 441h4M1059 396h4M970 386h4M1001 348h4M1008 373h4M1039 361h4M937 352h4M1047 364h4M1029 386h4M1000 399h4M1041 411h4M972 370h4M1009 379h4M960 340h4M1023 407h4M1004 330h4M1061 389h4M1040 358h4M1003 373h4M1018 321h4M996 271h4M1014 319h4M1059 398h4M1038 407h4M1029 356h4M1000 374h4M982 336h4M1027 447h4M1012 328h4M935 288h4M970 385h4M993 320h4M1000 357h4M1025 383h4M1002 320h4M962 356h4M981 408h4M1040 310h4M1047 321h4M1002 390h4M963 365h4M992 397h4M990 335h4M1027 379h4M1030 355h4M962 407h4M1016 458h4M1004 298h4M990 380h4M945 325h4M1002 348h4M1018 343h4M1075 342h4M1006 328h4M1003 369h4M978 319h4M1070 352h4M995 316h4M1067 327h4M1003 367h4M1043 328h4M1017 377h4M991 326h4M960 356h4M983 375h4M1039 376h4M1024 326h4M936 363h4M1024 344h4M958 345h4M997 388h4M985 369h4M986 263h4M1031 336h4M1058 425h4M986 353h4M1022 368h4M1051 422h4M953 285h4M1032 423h4M995 342h4M1009 341h4M918 295h4M975 394h4M979 356h4M950 393h4M931 381h4M1003 361h4M997 358h4M983 372h4M1072 372h4M937 337h4M1020 375h4M1009 350h4M983 329h4M947 382h4M1020 450h4M1024 354h4M1034 395h4M952 371h4M1022 325h4M982 345h4M1031 338h4M1016 303h4M1034 397h4M1051 363h4M987 300h4M1029 412h4M1002 360h4M971 417h4M985 389h4M934 369h4M1007 396h4M1047 335h4M974 383h4M1035 294h4M970 424h4M981 351h4M990 380h4M1013 346h4M1062 414h4M1008 357h4M971 380h4M955 343h4M994 362h4M986 419h4M993 389h4M1013 350h4M1014 352h4M970 323h4M1010 332h4M1007 363h4M1013 372h4M987 383h4M1001 377h4M1000 343h4M982 340h4M994 328h4M1008 361h4M995 339h4M1038 409h4M1032 353h4M1004 398h4M1031 389h4M1028 412h4M1005 319h4M1015 372h4M1060 362h4M1004 379h4M973 333h4M960 318h4M1027 403h4M936 369h4M1012 377h4M1036 268h4M1045 326h4M916 399h4M1012 300h4M923 355h4M1043 401h4M977 342h4M1028 352h4M980 360h4M973 283h4M996 325h4M1032 367h4M974 301h4M979 357h4M974 406h4M1056 385h4M953 322h4M922 347h4M980 364h4M971 301h4M1013 341h4M1012 419h4M980 411h4M986 355h4M1022 276h4M1009 372h4M1020 404h4M1009 363h4M1026 382h4M1057 348h4M1031 400h4M1041 363h4M999 302h4M999 297h4M988 341h4M986 347h4M1008 406h4M1020 339h4M978 361h4M1022 327h4M1019 436h4M1003 326h4M1049 390h4M999 358h4M1016 388h4M979 380h4M951 355h4M975 371h4M1024 422h4M1033 320h4M1007 416h4M966 362h4M1051 366h4M969 378h4M985 381h4M976 364h4M985 317h4M991 482h4M1034 478h4M971 376h4M1017 332h4M993 379h4M1066 363h4M957 395h4M1078 356h4M1001 367h4M961 323h4M1003 397h4M1021 343h4M999 414h4M1014 352h4M1043 485h4M986 325h4M989 307h4M967 348h4M986 343h4M985 305h4M1017 352h4M987 379h4M986 376h4M1091 326h4M964 342h4M1013 291h4M1007 370h4M1007 337h4M999 366h4M1004 317h4M1014 321h4M1026 283h4M996 337h4M1013 333h4M1067 343h4M1038 367h4M1002 422h4M1016 327h4M1001 335h4M1016 356h4M930 318h4M990 383h4M1021 284h4M1003 340h4M985 356h4M980 328h4M920 422h4M987 365h4M1077 412h4M1029 377h4M973 348h4M1003 409h4M1023 391h4M1022 375h4M1020 281h4M938 299h4M996 388h4M1012 392h4M1003 384h4M956 395h4M972 352h4M989 370h4M962 316h4M1051 311h4M1043 366h4M992 363h4M1047 360h4M1003 399h4M969 373h4M1013 342h4M1050 347h4M1001 392h4M1002 374h4M969 416h4M1078 412h4M1014 419h4M1034 353h4M1000 393h4M1011 342h4M1005 409h4M1002 356h4M1014 290h4M1019 432h4M1001 299h4M1013 362h4M949 331h4M1024 403h4M1006 364h4M1025 335h4M991 361h4M1000 357h4M1006 390h4M983 364h4M998 363h4M1045 363h4M1060 370h4M959 364h4M983 405h4M958 358h4M920 360h4M949 400h4M1020 363h4M1023 328h4M993 337h4M1011 305h4M1047 349h4M971 433h4M1074 399h4M906 374h4M981 340h4M958 361h4M981 392h4M967 388h4M1014 406h4M955 350h4M992 375h4M1001 339h4M992 379h4M989 365h4M949 359h4M1038 404h4M991 341h4M1007 351h4M958 385h4M1006 382h4M1076 347h4M1037 395h4M1057 435h4M1015 335h4M988 352h4M1076 318h4M1024 332h4M959 377h4M986 378h4M979 399h4M1051 339h4M1014 342h4M951 297h4M1070 355h4M956 372h4M1003 347h4M1003 347h4M978 378h4M1064 399h4M1021 386h4M1021 416h4M1056 330h4M957 350h4M1048 424h4M1010 396h4M987 376h4M976 385h4M950 291h4M956 355h4M1007 395h4M996 394h4M990 354h4M1022 310h4M979 351h4M974 339h4M985 364h4M955 376h4M993 377h4M996 368h4M974 357h4M959 368h4M1037 337h4M1003 294h4M969 373h4M972 360h4M1020 339h4M1039 300h4M979 348h4M1003 279h4M1044 362h4M997 380h4M992 385h4M1000 348h4M971 428h4M943 291h4M995 333h4M1081 431h4M1009 332h4M1021 337h4M1055 371h4M1042 425h4M1001 420h4M970 379h4M1007 374h4M997 418h4M990 380h4M982 422h4M1029 375h4M999 369h4M990 313h4M953 414h4M962 417h4M977 373h4M1031 284h4M947 368h4M1081 292h4M1005 346h4M1001 360h4M983 388h4M1043 401h4M913 399h4M986 336h4M1033 373h4M1054 307h4M1035 350h4M1017 357h4M993 322h4M958 440h4M1000 419h4M988 412h4M1008 363h4M984 400h4M968 332h4M1056 369h4M1002 301h4M976 405h4M981 293h4" stroke="#000" stroke-width="4"/>
<polyline transform="scale(0.5)" points="910,371 904,465 921,407 882,386 900,408 922,410 918,422 929,349 901,389 887,361 900,379 915,455 921,370 893,434 872,435 916,383 905,414 899,437 894,427 893,397 875,429 885,448 895,387 883,421 910,400 877,412 896,433 874,443 876,391 912,438 892,407 899,394 894,442 924,413 900,415 923,375 902,413 893,408 876,411 900,399 910,444 912,410 892,408 872,411 914,405 902,392 898,420 898,362 885,403 888,420 892,363 887,387 912,423 901,441 899,406 878,433 893,426 858,451 904,427 891,380 898,401 883,395 905,405 873,419 903,419 884,390 894,442 878,384 888,378 925,390 908,392 932,434 905,436 912,383 905,416 924,421 882,455 900,396 877,426 874,410 902,365 873,360 900,408 895,405 909,505 911,415 899,457 871,411 921,390 920,388 895,395 897,352 891,408 889,436 907,399 910,391 894,422 898,440 895,399 914,420 910,475 914,413 898,389 899,391 914,408 874,419 919,429 906,449 885,419 895,425 877,437 890,431 919,418 935,391 886,393 892,430 921,415 889,401 867,414 869,436 877,458 856,431 865,402 887,422 924,439 869,439 867,393 923,380 884,410 872,422 865,437 901,408 918,382 905,419 894,414 887,375 860,425 912,409 891,376 926,400 910,427 881,413 909,404 899,423 851,420 892,408 868,393 890,394 896,391 890,402 928,405 863,373 904,425 886,391 904,364 904,415 901,362 901,430 890,391 875,404 907,414 903,439 885,371 870,404 895,411 922,387 892,368 867,376 886,462 897,416 869,396 877,429 891,431 875,407 904,446 928,385 917,404 893,402 898,362 903,395 898,361 892,398 890,409 911,409 904,393 877,395 883,423 905,427 902,399 877,435 914,371 938,394 918,386 903,414 913,415 883,447 866,399 865,432 899,401 924,427 890,408 899,408 914,423 900,424 890,432 921,423 891,412 887,441 919,402 902,398 899,399 922,394 918,400 906,410 887,395 902,428 907,426 894,439 893,409 895,419 869,425 903,426 960,417 876,389 909,404 907,421 892,363 879,394 901,393 900,456 882,365 862,414 890,464 874,366 892,426 925,455 916,411 890,394 906,413 875,403 877,420 905,427 880,396 892,371 887,405 899,395 925,428 887,394 892,424 911,430 906,422 879,401 899,423 876,431 918,372 865,383 880,418 917,440 891,396 925,429 904,401 886,426 897,408 893,425 914,425 899,369 905,410 860,398 878,410 897,426 930,374 915,382 914,414 896,330 901,425 898,427 925,415 903,410 876,443 914,398 889,428 899,389 884,445 888,405 906,428 912,402 892,413 882,459 894,438 884,396 886,397 871,396 906,442 916,438 929,418 917,442 892,415 915,452 880,450 890,387 882,368 893,412 922,428 923,469 929,402 885,415 896,427 891,398 918,425 921,445 887,436 909,430 911,398 890,386 873,391 869,432 904,412 911,370 935,388 901,413 887,425 893,432 914,408 931,431 889,398 911,353 879,416 908,414 899,391 879,450 891,417 895,444 862,409 883,406 904,388 920,399 911,410 899,431 897,424 897,423 876,383 902,409 894,400 867,422 908,402 868,375 908,402 897,397 909,413 876,368 883,383 875,435 914,421 897,463 882,411 887,387 915,407 882,389 892,396 873,390 901,374 885,463 903,398 899,403 891,436 900,426 889,403 908,445 904,399 912,421 891,400 898,380 891,375 918,419 908,388 911,424 884,440 895,416 904,393 892,409 898,403 908,396 874,416 891,417 928,436 917,414 900,407 899,426 911,415 885,433 866,398 901,454 912,451 905,381 893,394 898,402 891,428 910,457 895,416 912,417 890,408 869,394 902,414 885,407 944,442 902,389 916,391 858,425 931,374 864,396 908,404 890,397 907,437 894,445 894,423 898,403 895,360 900,456 924,431 906,383 908,382 906,437 868,403 913,419 897,444 924,401 867,401 901,466 918,399 919,399 885,395 897,428 906,392 898,358 884,359 892,456 910,387 907,423 886,407 874,445 895,380 866,443 868,402 881,396 899,425 886,399 906,416 913,376 915,439 875,410 904,416 914,444 919,386 924,435 883,389 908,398 887,387 917,402 917,382 884,417 912,460 900,404 877,446 901,420 902,420 897,418 903,418 914,423 873,383 884,415 910,434 907,412 878,420 906,391 907,422 885,421 904,399 896,415 893,371 902,378 911,420 916,416 890,411 878,431 906,412 920,380 901,388 867,403 882,447 888,375 927,427 914,422 906,442 920,403 919,354 893,405 895,421 900,448 863,395 906,421 878,405 889,411 895,381 883,381 896,437 922,433 901,369 900,374 877,393 898,411 872,365 901,408 868,420 876,426 913,453 900,380 932,370 893,391 898,430 915,381 849,428 914,418 915,397 889,369 903,390 905,390 875,357 889,394 900,378 897,391 888,383 884,414 915,393 895,430 888,442 888,408 907,413 910,434 908,413 873,406 902,393 906,412 897,400 896,416 890,418 873,409 903,371 890,408 883,423 925,439 900,427 928,406 900,423 913,397 906,365 904,399 893,466 893,369 901,425 890,407 903,416 874,391 901,417 896,437 910,398 906,431 873,399 895,368 917,439 850,386 917,452 904,449 904,414 924,394 886,406 890,381 877,451 895,395 871,386 890,377 913,396 904,391 893,367 879,392 905,383 915,385 893,413 889,387 878,411 878,446 904,398 870,428 928,386 864,423 925,420 875,395 905,384 899,420 912,384 896,423 891,424 889,384 869,398 891,429 897,382 902,448 880,413 861,459 908,437 896,415 891,393 926,433 885,399 897,417 924,370 882,362 883,409 924,431 910,400 930,438 890,397 908,384 882,424 897,400 895,406 892,416 867,429 892,406 897,423 938,393 882,406 888,372 889,398 922,430 863,361 927,404 863,397 919,420 932,448 891,434 873,424 905,418 905,460 882,398 899,406 912,415 874,421 890,382 912,393 890,428 885,393 888,416 896,437 883,440 907,428 897,380 892,427 917,400 896,422 912,417 877,388 900,400 940,384 900,396 906,455 862,406 889,423 887,415 880,436 915,400 859,404 895,387 922,374 932,418 910,388 875,421 931,407 922,421 884,424 913,410 910,422 923,405 892,431 870,411 890,402 915,419 897,434 876,430 887,423 927,415 883,378 886,395 879,386 886,394 893,403 921,403 891,416 901,395 881,400 886,436 879,400 898,422 922,403 893,444 919,408 878,422 873,443 910,383 913,390 890,439 876,366 876,418 899,392 862,401 878,426 863,426 892,415 903,421 877,427 874,427 897,399 896,416 899,432 901,407 938,395 878,424 917,438 917,444 886,434 879,421 883,420 907,424 894,399 918,447 893,370 899,435 894,404 912,443 883,388 892,381 906,382 921,403 893,432 909,421 909,398 932,381 889,390 881,438 921,443 904,374 871,388 883,421 904,409 870,427 897,371 904,393 931,380 908,403 860,378 872,403 917,421 924,428 919,415 908,427 891,415 885,406 881,404 890,434 885,392 901,399 888,414 902,413 916,451 916,405 875,384 898,376 902,398 895,423 899,363 867,442 892,442 892,416 885,421 910,415 911,415 860,424 911,391 912,382 892,419 853,422 896,430 887,408 895,410 879,439 872,401 901,391 912,398 884,420 928,406 915,396 895,411 908,421 882,396 893,422 940,410 927,458 889,389 915,377 921,408 910,419 866,434 903,355 864,415 898,408 897,386 887,439 855,347 918,422 925,429 915,417 872,388 912,415 910,447 895,460 887,410 909,430 892,432 868,420 914,414 897,415 881,457 901,407 898,422 888,382 915,398 890,368 905,432 908,421 865,451 908,402 911,418 904,399 899,404 907,407 904,412 909,432 901,438 899,482 919,442 874,404 900,425 905,425 880,461 904,428 900,416 898,452 891,426 920,382 883,388 906,374 892,411 890,370 927,392 885,436 887,398 880,401 900,438 894,414 862,415 910,434 865,387 866,406 917,372 902,393 914,394 862,394 890,395 879,420 902,399 905,414 918,451 928,399 907,405 904,424 894,406 911,400 884,384 873,427 914,404 883,443 891,394 888,426 897,445 911,415 865,388 922,439 908,427 899,410 879,427 905,384" fill="none" stroke="none" marker-start="url(#gc)" marker-mid="url(#gc)" marker-end="url(#gc)"/>
<polyline transform="scale(0.5)" points="985,366 1002,410 1027,315 1008,327 1000,377 999,314 950,373 1031,277 1059,338 1079,358 1004,376 1058,310 1032,374 1014,315 1004,389 1053,364 1082,379 1056,382 1034,354 1047,341 1025,264 987,306 1082,283 1031,387 1013,346 1031,283 1020,399 1049,354 1023,390 997,364 1059,312 1018,382 1089,316 1054,419 1045,356 1024,310 1068,303 1020,338 1036,337 1064,289 959,350 978,376 1043,380 988,325 1007,358 1022,378 1006,422 1032,369 948,320 1053,332 1004,311 1016,379 1024,394 994,374 1028,359 977,352 1031,297 1078,352 982,394 988,365 971,393 1034,350 996,312 1068,343 1060,317 1023,313 1036,282 1047,306 1035,356 1019,350 1076,314 999,391 1043,400 1033,336 1020,369 1046,361 998,345 1074,325 1067,302 993,298 1053,337 1017,399 1037,303 989,292 1047,348 993,350 1041,385 1094,328 1051,388 1034,259 979,421 997,361 996,424 1053,324 987,379 1060,343 1050,360 1030,363 980,328 1035,355 1072,306 1038,442 1043,385 1012,343 1040,325 987,305 983,392 1050,392 1031,366 987,349 1047,330 969,373 987,379 1013,329 1003,336 1042,375 1052,363 1024,372 1010,325 1015,335 968,309 1037,350 1010,361 1034,393 1044,354 1034,362 964,414 989,377 1008,324 1061,322 1008,264 1040,334 994,384 1016,258 1040,312 995,319 967,327 1016,381 1061,328 1077,344 1065,362 1025,269 1060,297 1042,290 959,294 977,311 1030,369 1037,391 1043,369 1025,399 1022,284 995,398 1014,333 1059,357 1026,353 1070,364 1028,362 1006,347 1082,356 1064,333 1013,327 1026,392 1011,343 979,384 1049,360 1060,377 1018,295 1019,320 1034,386 1011,292 1059,382 1052,308 1011,383 1056,384 959,412 1002,330 1048,337 1007,357 1019,353 1010,317 1007,342 1012,371 1080,309 1027,366 990,336 1011,347 1012,339 1048,304 1040,381 1040,304 977,339 1000,322 1061,320 1048,400 1068,424 1057,361 980,347 1011,414 1048,355 983,313 1013,363 1054,370 1027,385 990,332 1003,359 1040,341 970,356 987,370 953,420 991,413 1044,402 1056,328 1004,325 990,394 992,336 962,361 974,435 1018,344 1034,322 1006,351 1027,372 1020,277 1009,321 1010,356 1017,423 1009,319 1020,354 1065,325 1039,364 1026,355 1027,306 1002,358 1068,382 1030,360 1031,369 1049,297 1011,429 1048,344 1004,354 980,327 1047,382 1032,358 1014,309 994,333 1019,315 992,398 1015,384 1022,324 1012,306 1050,381 1047,361 1010,325 1046,347 1009,338 1024,332 1023,380 1052,331 1034,345 990,298 1040,420 1042,402 1085,408 997,364 1011,293 1053,334 1064,342 1023,337 1021,385 1031,363 1018,374 992,361 1039,334 1064,358 980,344 1041,356 969,370 1002,354 954,412 1075,352 972,365 1087,395 1097,302 1065,340 1011,379 1028,314 957,339 998,438 996,403 1005,404 1049,407 1038,386 1017,316 1076,423 1043,432 994,353 1005,376 988,364 1047,409 1031,434 993,374 1083,307 1020,362 1066,385 991,335 1015,391 1075,355 993,308 1045,398 1010,313 991,359 966,328 1021,288 1033,320 1051,279 1055,298 1026,378 1010,361 1022,346 1062,313 1047,414 1049,322 1036,378 1049,286 958,406 1045,364 1017,383 1070,381 1002,363 1088,353 997,393 1009,359 1081,398 995,388 1063,409 1027,362 1085,297 996,325 1052,385 1031,394 1008,329 1018,289 984,364 1019,330 1060,375 1028,357 1061,439 999,350 1009,370 988,350 1076,347 992,373 1049,334 1067,360 1067,383 1026,343 1050,325 982,417 986,339 1011,353 984,320 1046,365 966,385 1045,349 983,410 1106,336 964,434 1032,375 1040,326 1014,338 1034,340 1069,350 1067,311 1028,363 999,371 1021,414 1066,361 1010,357 1068,368 1019,339 965,391 1005,359 1037,329 1015,366 1072,351 1019,353 1012,387 988,350 1024,384 1041,330 1012,311 1020,349 977,361 1098,365 1009,333 1065,352 1003,299 1054,272 1033,325 1059,349 1006,396 980,383 1047,269 991,318 1007,356 1016,375 1007,298 946,311 998,321 1039,348 968,321 1006,438 1043,340 1036,389 986,415 994,381 1077,357 1045,317 1067,387 1089,390 1005,323 995,326 1064,295 979,318 971,313 1051,334 1025,339 1036,389 1038,357 997,305 1029,369 1049,358 996,322 1039,333 989,297 992,375 1037,405 1037,362 1057,395 1015,251 1014,321 1061,357 996,298 1035,388 970,360 996,357 1087,298 1035,413 1015,303 933,314 1028,310" fill="none" stroke="none" marker-start="url(#gc)" marker-mid="url(#gc)" marker-end="url(#gc)"/>
<path transform="scale(0.5)" d="M1019 433h4M946 467h4M983 469h4M992 452h4M969 478h4M988 475h4M991 476h4M996 457h4M951 474h4M970 441h4M1017 465h4M988 446h4M1002 460h4M949 454h4M952 480h4M971 467h4M1015 486h4M969 449h4M1008 472h4M1049 458h4M1028 476h4M990 425h4M988 459h4M930 472h4M965 450h4M978 476h4M1036 475h4M998 466h4M943 450h4M981 462h4M967 483h4M1020 454h4M1013 465h4M1052 477h4M1010 471h4M1014 465h4M1037 463h4M945 463h4M1007 446h4M943 460h4M1020 472h4M914 471h4M976 453h4M988 492h4M951 460h4M928 470h4M996 467h4M998 448h4M983 460h4M961 472h4M1002 451h4M988 468h4M992 470h4M987 460h4M950 453h4M987 464h4M952 460h4M999 479h4M1000 462h4M1007 443h4M992 453h4M1033 449h4M1003 487h4M973 455h4M984 459h4M959 454h4M1005 470h4M959 449h4M989 467h4M987 464h4M1037 477h4M1004 456h4M1031 461h4M993 433h4M1010 443h4M970 476h4M980 454h4M1006 476h4M993 472h4M959 465h4M974 439h4M994 457h4M976 464h4M980 473h4M971 470h4M971 469h4M985 473h4M1049 464h4M1005 452h4M974 467h4M1018 450h4M981 479h4M941 469h4M980 486h4M981 451h4M1025 482h4M1000 487h4M978 465h4M969 453h4M996 460h4M1034 455h4M992 437h4M991 457h4M972 466h4M980 450h4M1004 464h4M970 481h4M985 474h4M1009 459h4M995 461h4M964 459h4M1032 464h4M1030 473h4M948 461h4M1006 464h4M997 467h4M968 475h4M1037 458h4M979 466h4M1010 460h4M1014 460h4M971 441h4M999 475h4M967 465h4M968 454h4M1029 476h4M936 474h4M995 485h4M996 466h4M965 461h4M978 445h4M1007 457h4M991 471h4M937 458h4M964 455h4M951 463h4M947 454h4M967 454h4M976 461h4M989 486h4M965 459h4M964 483h4M936 448h4M1005 466h4M945 475h4M956 450h4M1018 478h4M1008 465h4M1004 452h4M1035 441h4M1000 479h4M959 459h4M994 484h4M1012 477h4M984 469h4M1001 481h4M950 465h4M984 458h4M1035 454h4M1001 465h4M1003 454h4M954 489h4M1015 461h4M967 465h4M985 458h4M1006 467h4M982 466h4M970 470h4M995 439h4M1004 458h4M982 471h4M986 468h4M951 477h4M980 477h4M991 466h4M1018 473h4M989 470h4M1041 465h4M980 472h4M955 469h4M983 468h4M928 476h4M994 455h4M1013 458h4M952 449h4M981 458h4M984 457h4M998 472h4M962 478h4M963 472h4M1010 463h4M974 451h4M1039 445h4M984 463h4M1017 473h4M982 455h4M1042 461h4M966 483h4M980 450h4M1001 459h4M929 459h4M995 444h4M982 478h4M976 450h4M964 473h4M972 469h4M983 453h4M1010 485h4M958 467h4M996 467h4M991 484h4M1055 467h4M987 475h4M971 456h4M1005 477h4M997 471h4M931 453h4M985 473h4M960 470h4M987 470h4M981 477h4M971 482h4M977 471h4M959 456h4M998 437h4M990 465h4M1074 464h4M1035 464h4M975 480h4M1003 485h4M959 447h4M1020 481h4M1022 464h4M1022 466h4M977 465h4M946 476h4M1014 456h4M951 470h4M1023 438h4M984 459h4M1031 485h4M956 457h4M942 465h4M998 480h4M939 443h4M997 468h4M970 464h4M1002 462h4M1034 486h4M1002 462h4" stroke="#000" stroke-width="4"/>
<path transform="scale(0.5)" d="M964 360h4M987 270h4M994 381h4M997 318h4M955 385h4M1022 340h4M954 347h4M999 433h4M1022 383h4M982 368h4M968 399h4M1002 340h4M1001 426h4M979 335h4M990 369h4M1009 369h4M1022 372h4M1010 428h4M964 338h4M1004 339h4M981 451h4M971 343h4M1014 373h4M950 381h4M1039 366h4M1013 368h4M971 342h4M1017 385h4M950 401h4M1008 390h4M1027 315h4M987 347h4M975 366h4M1011 363h4M1057 334h4M1079 378h4M1052 386h4M975 365h4M983 395h4M1007 331h4M1066 405h4M951 342h4M987 374h4M1003 357h4M1047 321h4M1013 375h4M1035 357h4M995 435h4M1006 369h4M993 357h4M959 326h4M983 370h4M1022 357h4M985 370h4M980 368h4M1030 342h4M961 351h4M997 335h4M1017 437h4M1027 416h4M1043 398h4M1003 378h4M955 328h4M980 334h4M977 385h4M995 361h4M1055 354h4M994 403h4M991 408h4M976 418h4M1010 314h4M994 388h4M987 384h4M986 389h4M992 407h4M1014 405h4M1026 358h4M993 385h4M1034 390h4M964 413h4M1012 415h4M974 357h4M982 334h4M1041 366h4M977 328h4M981 397h4M1036 393h4M990 377h4M949 326h4M994 381h4M995 378h4M983 360h4M1002 358h4M984 362h4M1045 339h4M1060 342h4M1024 410h4M1039 360h4M922 341h4M1007 448h4M990 386h4M1013 431h4M1020 428h4M982 322h4M998 343h4M1022 371h4M1028 339h4M984 358h4M1032 364h4M997 421h4M983 357h4M1045 296h4M1033 361h4M995 373h4M1006 369h4M1041 302h4M935 377h4M957 360h4M985 364h4M1012 291h4M970 420h4M982 349h4M1072 379h4M969 386h4M1014 330h4M1019 359h4M941 394h4M1018 385h4M1010 348h4M984 336h4M1025 387h4M1049 383h4M983 347h4M969 338h4M1080 304h4M964 315h4M1024 375h4M991 399h4M985 383h4M1046 367h4M993 387h4M1020 397h4M990 382h4M1001 403h4M990 361h4M969 355h4M978 381h4M1034 355h4M1055 363h4M1034 391h4M982 368h4M954 387h4M1052 381h4M1051 371h4M993 375h4M988 383h4M1053 375h4M985 372h4M1026 367h4M948 341h4M1045 368h4M1035 371h4M979 379h4M1028 363h4M961 360h4M979 408h4M972 336h4M957 370h4M984 359h4M1010 365h4M1069 427h4M980 433h4M1002 385h4M971 389h4M1031 393h4M1011 406h4M1020 323h4M996 388h4M982 442h4M1017 373h4M1008 390h4M990 352h4M952 405h4M1008 331h4M1030 376h4M987 344h4M1056 409h4M1017 392h4M1000 373h4M1048 358h4M984 407h4M950 358h4M981 372h4M962 360h4M988 379h4M1023 418h4M1009 359h4M983 361h4M1063 424h4M1036 398h4M974 414h4M999 344h4M975 385h4M984 430h4M1041 402h4M1018 404h4M946 332h4M1006 364h4M942 386h4M989 343h4M1027 413h4M982 373h4M1011 365h4M1008 335h4M978 387h4M1002 437h4M987 366h4M1010 393h4M1011 418h4M1012 406h4M988 409h4M1015 327h4M1034 404h4M978 384h4M1041 368h4M1042 367h4M1038 384h4M924 374h4M992 385h4M984 409h4M1010 374h4M997 370h4M978 383h4M974 353h4M967 410h4M1037 349h4M988 323h4M956 388h4M1063 351h4M1022 325h4M1050 448h4M1003 388h4M1057 389h4M967 387h4M961 403h4M1015 414h4M1015 396h4M995 394h4M999 362h4M1079 313h4M1008 354h4M988 378h4M1006 410h4M952 391h4M998 410h4M972 297h4M999 360h4M979 356h4M1028 360h4M1035 394h4M975 296h4M1019 333h4M965 391h4M1033 411h4M989 365h4M967 371h4M1007 432h4M995 339h4M1027 345h4M965 373h4M1002 370h4M965 363h4M962 317h4M1012 412h4M1008 414h4M1015 443h4M981 365h4M994 390h4M1024 351h4M964 312h4M942 395h4M966 404h4M990 396h4M1023 396h4M1029 360h4M1018 360h4M974 367h4M1011 350h4M1035 336h4M962 343h4M1026 362h4M1009 386h4M958 364h4M1023 395h4M997 386h4M1004 394h4M951 333h4M1032 368h4M964 380h4M1003 337h4M999 361h4M1018 367h4M1003 395h4M1005 350h4M965 342h4M976 364h4M989 357h4M976 410h4M993 325h4M999 399h4M997 382h4M971 396h4M1016 406h4M1009 439h4M1029 409h4M1036 338h4M1019 402h4M1026 360h4M972 351h4M962 381h4M977 372h4M999 363h4M976 346h4M1032 321h4M1004 339h4M978 362h4M1055 383h4M1017 394h4M1027 383h4M1040 380h4M985 370h4M998 421h4M955 347h4M997 371h4M991 339h4M995 377h4M961 362h4M997 368h4M1043 328h4M1009 382h4M959 397h4M967 376h4M975 356h4M1015 404h4M1001 377h4M994 401h4M1013 300h4M1047 344h4M950 340h4M991 355h4M957 386h4M981 371h4M1045 377h4M937 331h4M981 380h4M1026 345h4M987 376h4M1013 401h4M1026 336h4M1014 339h4M998 391h4M1014 367h4M974 396h4M1012 303h4M1032 400h4M947 412h4M1017 385h4M967 345h4M1003 394h4M1010 422h4M986 324h4M971 391h4M1018 405h4M1016 400h4M1006 392h4M1027 395h4M983 337h4M996 450h4M1007 342h4M976 348h4M1023 406h4M962 348h4M980 294h4M993 363h4M1004 341h4M984 378h4M990 404h4M1028 369h4M1003 366h4M1061 349h4M961 311h4M954 373h4M991 360h4M914 413h4M1011 305h4M1004 337h4M1065 377h4M975 323h4M1031 343h4M978 370h4M990 323h4M1018 356h4M1033 368h4M1016 417h4M1014 360h4M959 363h4M957 353h4M983 367h4M1024 392h4M1017 368h4M999 334h4M1035 358h4M1011 379h4M957 393h4M986 392h4M1042 358h4M1009 352h4M1005 374h4M987 372h4M1015 382h4M1018 381h4M988 328h4M1010 375h4M1026 364h4M1009 366h4M976 351h4M905 374h4M970 385h4M1022 348h4M982 373h4M1002 397h4M969 364h4M1046 371h4M1045 382h4M978 392h4M1020 343h4M1058 410h4M1030 320h4M972 338h4M990 390h4M1028 400h4M980 429h4M982 348h4M993 419h4M925 409h4M984 346h4M925 362h4M979 359h4M967 362h4M962 370h4M1027 438h4M983 418h4M1015 418h4M962 318h4M981 383h4M1018 292h4M1005 422h4M987 402h4M972 382h4M974 357h4M951 403h4M1056 350h4M1004 352h4M990 376h4M1001 369h4M1004 393h4M1061 393h4M1014 348h4M979 372h4M997 376h4M980 368h4M989 374h4M996 389h4M1016 358h4M1026 384h4M1041 301h4M983 352h4M1043 385h4M1016 377h4M989 362h4M1001 309h4M985 346h4M996 357h4M964 347h4M958 350h4M1024 349h4M1040 321h4M1023 353h4M1024 340h4M1014 422h4M978 395h4M1029 327h4M1003 365h4M967 389h4M1013 380h4M978 368h4M994 378h4M1023 355h4M979 415h4M1014 330h4M1029 415h4M1038 396h4M980 356h4M1011 390h4M984 385h4M1009 328h4M987 439h4M972 375h4M971 361h4M999 343h4M1017 413h4M1016 310h4M995 358h4M998 405h4M966 392h4M982 387h4M1001 374h4M1022 415h4M961 374h4M933 355h4M1033 334h4M983 346h4M984 386h4M1012 345h4M966 366h4M1018 381h4M1030 389h4M993 384h4M970 411h4M986 352h4M987 388h4M987 314h4M1046 356h4M949 308h4M992 315h4M978 318h4M985 372h4M950 417h4M971 374h4M1042 389h4M1018 320h4M951 369h4M1003 395h4M1009 369h4M989 357h4M994 326h4M981 372h4M1010 361h4M1017 393h4M1017 377h4M985 401h4M1015 357h4M1017 400h4M998 371h4M961 353h4M1006 382h4M969 419h4M996 365h4M968 382h4M966 387h4M981 384h4M952 372h4M1020 368h4M1015 360h4M1042 365h4M967 306h4M1039 344h4M1023 333h4M972 413h4M969 384h4M964 327h4M991 348h4M968 379h4M956 391h4M1000 318h4M1009 374h4M1054 391h4M1014 416h4M944 326h4M967 327h4M1012 378h4M1062 334h4M971 387h4M1003 377h4M979 389h4M1004 355h4M1019 314h4M1017 422h4M979 436h4M1021 354h4M1028 329h4M965 353h4M1008 342h4M972 338h4M1043 389h4M956 327h4M1003 409h4M989 416h4M1017 338h4M974 388h4M1015 353h4M994 332h4M1015 400h4M997 393h4M1030 349h4M1035 352h4M1020 377h4M999 382h4M1048 363h4M1015 413h4M1032 381h4M989 393h4M999 359h4M1024 416h4M1015 365h4M984 402h4M1015 385h4M993 358h4M959 391h4M983 322h4M974 325h4M959 399h4M993 345h4M981 330h4M966 380h4M985 359h4M944 336h4M1025 359h4M1011 349h4M1024 392h4M1023 378h4M977 358h4M994 365h4M980 344h4M989 357h4M1021 375h4M1055 390h4M974 363h4M1019 430h4M981 365h4M1004 375h4M963 387h4M1005 417h4M992 422h4M1015 388h4M998 336h4M941 354h4M941 372h4M964 318h4M1036 411h4M1041 354h4M980 370h4M1004 405h4M995 355h4M994 324h4M1012 357h4M1049 353h4M1003 348h4M1023 430h4M1064 355h4M1037 400h4M1033 377h4M1009 378h4M974 375h4M1044 332h4M1024 343h4M1002 420h4M968 415h4M950 422h4M983 480h4M990 337h4M970 369h4M979 374h4M977 406h4M1054 347h4M1023 372h4M1020 402h4M1002 362h4M936 443h4M960 408h4M989 387h4M965 392h4M981 349h4M984 372h4M972 366h4M967 403h4M972 391h4M981 340h4M979 374h4M1010 403h4M998 394h4M975 302h4M1029 371h4M1010 315h4M1001 374h4M1030 340h4M1008 366h4M1004 408h4M1002 390h4M1007 372h4M996 363h4M1000 372h4M1000 345h4M958 350h4M952 417h4M965 349h4M1013 351h4M996 400h4M973 420h4M971 390h4M972 346h4M949 399h4M1007 316h4M1038 338h4M985 341h4M945 442h4M969 336h4M1026 358h4M963 397h4M1066 384h4M969 339h4M973 327h4M969 352h4M988 369h4M1045 316h4M1000 369h4M954 422h4M1022 304h4M1045 326h4M1009 415h4M986 395h4M958 339h4M972 361h4M1042 419h4M960 315h4M996 332h4M957 357h4M1005 353h4M983 348h4M1011 399h4M1000 342h4M999 353h4M956 363h4M999 389h4M1014 354h4M973 377h4M1030 371h4M1003 332h4M954 363h4M972 286h4M999 395h4M1045 342h4M970 353h4M970 403h4M1006 330h4M1011 363h4M998 315h4M925 378h4M976 363h4M998 356h4M1038 383h4M929 360h4M1008 375h4M998 341h4M990 363h4M1015 366h4M989 372h4M980 396h4M984 422h4M982 378h4M991 399h4M1015 339h4M1047 413h4M1015 364h4M960 395h4M985 380h4M939 354h4M1031 405h4M1005 399h4M976 428h4M987 341h4M983 386h4M1021 330h4M1013 400h4M1030 371h4M1010 325h4M959 432h4M1004 364h4M1038 368h4M991 394h4M1028 304h4M943 396h4M1023 325h4M999 408h4M1021 379h4M1043 349h4M1002 376h4M981 353h4M1018 385h4M1008 315h4" stroke="#000" stroke-width="4"/>
<path transform="scale(0.5)" d="M995 328h4M976 321h4M990 309h4M970 308h4M992 350h4M966 369h4M960 316h4M976 301h4M969 297h4M961 324h4M989 299h4M941 295h4M947 313h4M980 337h4M949 361h4M952 317h4M973 298h4M982 299h4M968 297h4M958 317h4M963 310h4M976 292h4M966 281h4M981 313h4M983 309h4M969 312h4M962 300h4M990 324h4M968 323h4M969 361h4M991 317h4M957 354h4M946 317h4M980 336h4M949 316h4M958 317h4M955 321h4M960 321h4M954 303h4M953 340h4M966 326h4M954 325h4M962 327h4M962 269h4M981 273h4M978 319h4M998 301h4M1000 345h4M978 354h4M961 304h4M955 322h4M956 364h4M990 348h4M963 295h4M947 294h4M986 310h4M976 311h4M947 346h4M960 319h4M970 307h4M977 294h4M988 325h4M968 314h4M962 328h4M994 343h4M969 312h4M993 334h4M985 344h4M974 333h4M959 305h4M974 295h4M957 326h4M961 308h4M999 294h4M980 334h4M985 350h4M988 336h4M951 301h4M981 270h4M985 338h4M996 310h4M988 284h4M957 316h4M995 309h4M977 335h4M954 307h4M941 371h4M989 314h4M962 323h4M1001 293h4M959 282h4M983 337h4M961 297h4M980 350h4M986 326h4M972 349h4M958 324h4M981 332h4M968 309h4M980 330h4M965 314h4M974 330h4M973 327h4M957 321h4M961 338h4M1000 312h4M1007 308h4M972 312h4M969 328h4M985 329h4M971 347h4M979 328h4M978 355h4M974 316h4M971 335h4M995 353h4M942 336h4M972 330h4M984 284h4M976 304h4M1005 315h4M965 304h4M970 350h4M976 340h4M972 345h4M956 339h4M971 368h4M965 340h4M952 319h4M968 300h4M953 309h4M958 294h4M991 301h4M947 305h4M987 287h4M981 265h4M968 308h4M974 337h4M977 276h4M975 306h4M968 302h4M962 340h4M983 314h4M949 301h4M970 308h4M987 308h4M957 330h4M969 278h4M965 325h4M988 273h4M971 309h4M966 294h4M978 321h4M951 305h4M1005 289h4M945 309h4M986 324h4M961 329h4M966 326h4M992 294h4M972 290h4M944 295h4M984 366h4M1001 310h4M986 325h4M997 326h4M970 331h4M991 305h4M980 299h4M999 301h4M970 339h4M986 312h4M972 295h4M921 274h4M970 329h4M935 303h4M963 274h4M967 322h4M980 319h4M963 346h4M963 294h4M967 305h4M978 314h4M1000 340h4M966 312h4M961 329h4M971 333h4M965 323h4M974 296h4M1003 314h4M971 323h4M952 346h4M965 336h4M990 317h4M988 333h4M960 338h4M964 336h4M959 321h4M957 333h4M980 317h4M953 271h4M991 312h4M949 317h4M969 326h4M937 313h4M981 343h4M977 317h4M982 320h4M942 322h4M952 361h4M976 344h4M993 305h4M962 340h4M976 303h4M959 336h4M999 324h4M967 316h4M945 327h4M984 291h4M976 330h4M982 321h4M965 340h4M958 342h4M970 328h4M981 313h4M990 296h4M979 297h4M991 310h4M986 287h4M994 284h4M941 278h4M979 321h4M963 297h4M972 342h4M970 288h4M994 330h4M981 301h4M956 325h4M955 343h4M966 357h4M985 314h4M986 348h4M944 340h4M979 270h4M962 317h4M991 318h4M962 282h4M962 320h4M957 303h4M980 326h4" stroke="#000" stroke-width="4"/>
<polyline transform="scale(0.5)" points="987,299 997,279 945,338 995,279 939,331 970,303 1041,288 940,313 964,343 965,293 972,298 971,287 982,278 950,295 969,316 1004,328 1027,284 972,313 998,329 973,287 1002,313 961,300 963,312 985,298 959,283 988,274 954,311 999,306 964,279 983,294 965,309 991,262 1040,304 976,298 1006,310 977,295 993,334 995,318 989,315 994,323 1007,285 958,304 952,307 971,285 948,282 956,335 994,322 983,304 977,314 984,296 964,275 951,314 965,319 942,305 1005,271 950,302 987,307 967,309 995,260 957,294 964,290 984,272 975,326 990,298 976,318 995,313 960,293 972,292 982,305 998,291 955,308 971,290 960,276 973,279 968,301 1009,296 969,306 1006,291 985,313 958,278" fill="none" stroke="none" marker-start="url(#gc)" marker-mid="url(#gc)" marker-end="url(#gc)"/>
<path transform="scale(0.5)" d="M901 380h4M857 389h4M903 418h4M872 434h4M884 419h4M873 426h4M931 393h4M871 401h4M898 433h4M891 415h4M892 382h4M916 407h4M926 389h4M883 422h4M908 441h4M919 433h4M867 470h4M901 391h4M899 384h4M918 420h4M903 404h4M912 424h4M882 409h4M902 380h4M917 398h4M901 420h4M870 416h4M867 417h4M881 420h4M879 378h4M902 360h4M881 403h4M906 426h4M894 391h4M875 376h4M896 353h4M878 428h4M905 443h4M910 394h4M898 339h4M886 417h4M877 410h4M910 395h4M909 389h4M914 420h4M867 399h4M900 374h4M887 468h4M895 453h4M867 370h4M892 395h4M912 350h4M887 415h4M905 418h4M880 412h4M886 397h4M898 400h4M876 396h4M898 436h4M901 374h4M878 457h4M892 425h4M896 375h4M887 388h4M902 415h4M864 408h4M893 409h4M908 424h4M921 366h4M908 452h4M884 421h4M889 369h4M915 389h4M894 402h4M887 387h4M863 421h4M893 440h4M884 436h4M886 349h4M891 421h4M895 444h4M899 394h4M861 376h4M900 376h4M887 426h4M913 437h4M882 420h4M912 400h4M882 394h4M889 391h4M938 403h4M903 399h4M906 478h4M902 462h4M900 423h4M907 446h4M884 393h4M900 433h4M887 414h4M902 430h4M899 359h4M901 433h4M877 435h4M891 411h4M872 460h4M944 415h4M866 382h4M885 406h4M887 431h4M884 412h4M901 425h4M878 435h4M868 419h4M873 401h4M903 404h4M923 384h4M864 378h4M914 386h4M923 399h4M864 383h4M897 394h4M869 418h4M909 391h4M884 432h4M899 402h4M896 447h4M912 420h4M861 406h4M878 399h4M919 414h4M878 431h4M856 451h4M893 426h4M896 444h4M882 398h4M861 365h4M901 385h4M910 377h4M886 352h4M900 383h4M891 435h4M905 441h4M906 415h4M872 399h4M906 395h4M894 392h4M921 413h4M881 446h4M886 425h4M938 443h4M882 381h4M894 411h4M887 426h4M899 413h4M867 378h4M910 386h4M943 395h4M898 431h4M924 429h4M907 367h4M876 415h4M880 435h4M886 406h4M904 436h4M880 398h4M854 389h4M901 418h4M914 394h4M899 354h4M881 442h4M853 381h4M887 383h4M865 416h4M885 439h4M896 410h4M885 424h4M883 403h4M904 400h4M925 374h4M890 452h4" stroke="#000" stroke-width="4"/>
<path transform="scale(0.5)" d="M962 445h4M959 425h4M924 407h4M922 441h4M947 420h4M958 444h4M933 421h4M931 424h4M936 456h4M927 420h4M930 435h4M948 443h4M963 404h4M923 429h4M926 407h4M948 433h4M903 439h4M948 439h4M934 430h4M975 422h4M935 427h4M920 454h4M927 448h4M917 438h4M954 422h4M886 439h4M925 455h4M932 412h4M923 410h4M922 424h4M928 421h4M947 444h4M917 437h4M946 420h4M898 464h4M902 421h4M901 424h4M951 460h4M954 449h4M921 451h4M925 444h4M916 430h4M952 437h4M940 437h4M913 460h4M933 432h4M950 459h4M942 416h4M938 436h4M915 431h4M935 443h4M917 440h4M891 416h4M947 457h4M916 432h4M930 435h4M922 428h4M927 447h4M917 436h4M934 439h4M914 452h4M904 429h4M938 440h4M927 429h4M941 450h4M989 419h4M917 456h4M938 442h4M952 456h4M931 438h4M900 448h4M949 448h4M909 413h4M946 427h4M915 463h4M930 432h4M952 437h4M954 468h4M927 420h4M935 461h4M972 461h4M950 453h4M914 407h4M935 430h4M924 424h4M950 415h4M913 456h4M921 434h4M940 434h4M947 455h4M939 448h4M931 434h4M907 461h4M947 414h4M942 441h4M957 448h4M937 436h4M917 455h4M942 449h4M939 447h4M921 429h4M927 441h4M936 434h4M930 462h4M883 420h4M951 416h4M962 460h4M914 434h4M936 428h4M951 445h4M890 417h4M954 423h4M932 435h4M932 430h4M940 462h4M931 442h4M932 441h4M932 451h4M916 416h4M965 438h4M941 448h4M954 416h4M914 441h4M937 431h4M947 419h4M900 425h4M936 477h4M924 434h4M903 461h4M918 442h4M963 422h4M907 446h4M936 432h4M948 430h4M915 420h4M903 426h4M949 440h4M922 430h4M900 438h4M935 454h4M904 459h4M932 440h4M930 413h4M944 444h4M910 419h4M936 432h4M896 431h4M926 416h4M934 453h4M919 438h4M913 424h4M953 423h4M965 430h4M919 413h4M914 447h4M929 443h4M953 431h4M935 473h4M914 454h4M899 440h4M952 417h4M921 412h4M933 424h4M938 455h4M920 424h4M942 406h4M920 424h4M887 449h4M920 426h4M923 424h4M900 434h4M926 439h4M929 427h4M963 444h4M946 413h4M917 429h4M949 429h4M910 430h4M899 426h4M929 451h4M893 476h4M928 446h4M909 437h4M932 445h4M918 425h4M921 444h4M982 422h4M909 419h4M905 453h4M923 439h4M967 449h4M946 439h4M938 440h4M949 459h4M932 439h4M941 446h4M959 459h4M932 438h4M915 432h4M950 451h4M876 439h4M919 442h4M953 426h4M901 440h4M928 454h4M920 425h4M920 421h4M924 446h4M919 410h4M909 451h4M957 456h4M929 423h4M932 451h4M938 426h4M942 449h4M880 422h4M950 446h4M936 449h4M927 433h4M947 417h4M913 470h4M926 456h4M953 452h4M940 401h4M955 445h4M951 455h4M990 424h4M939 479h4M918 455h4M947 442h4M895 438h4M916 426h4M914 430h4M938 416h4M926 434h4M904 431h4M926 428h4M891 439h4M922 439h4M891 453h4M904 442h4M921 416h4M917 462h4M952 455h4M935 444h4M895 458h4M956 434h4M930 430h4M943 450h4M970 444h4M935 449h4M926 438h4M937 461h4M962 444h4M957 444h4M922 422h4M942 441h4M932 433h4M938 424h4M943 435h4M930 440h4M880 440h4M982 419h4M953 428h4M954 429h4M918 421h4M954 444h4M878 435h4M920 427h4M945 433h4M933 441h4M939 437h4M973 410h4M895 420h4M925 460h4M941 444h4M950 453h4M916 439h4M926 442h4M936 439h4M945 408h4M989 455h4M908 416h4M963 449h4M931 434h4M929 421h4M898 415h4M911 418h4M945 431h4M944 426h4M885 429h4M934 418h4M901 441h4M940 426h4M929 439h4M946 417h4M943 447h4M950 455h4M913 446h4M927 460h4M922 422h4M922 421h4M938 423h4M924 447h4M917 429h4M914 441h4M893 458h4M920 424h4M967 434h4M950 451h4M927 425h4M925 428h4M946 426h4M918 434h4M907 465h4M907 428h4M944 463h4M903 445h4M920 445h4M952 439h4M943 423h4M922 454h4M948 458h4M948 442h4M941 418h4M928 430h4M967 416h4M915 428h4M908 424h4M913 437h4M943 440h4M917 428h4M916 455h4M964 420h4M911 422h4M921 429h4M971 476h4M945 424h4M976 416h4M950 432h4M936 433h4M940 462h4M906 423h4M915 427h4M983 449h4M934 453h4M894 445h4M879 440h4M916 432h4M898 460h4M925 470h4M904 426h4M972 434h4M938 423h4M916 439h4M912 441h4M955 431h4M928 449h4M944 432h4M952 451h4M896 431h4M943 420h4M914 435h4M918 438h4M975 440h4M924 424h4M959 453h4M909 439h4M899 477h4M924 445h4M912 439h4M924 458h4M954 443h4M942 457h4M899 447h4M932 432h4M928 429h4M926 448h4M925 418h4M928 446h4M928 406h4M897 453h4M929 435h4M909 445h4M955 436h4M932 447h4M940 442h4M956 413h4M914 426h4M894 437h4M954 421h4M934 448h4M897 432h4M910 455h4M925 443h4M951 464h4M925 435h4M919 428h4M918 410h4M896 427h4M950 427h4M894 436h4M941 434h4M893 424h4M934 449h4M913 425h4M931 438h4M923 446h4M934 420h4M911 437h4M891 443h4M913 474h4M923 428h4M931 453h4M935 420h4M928 426h4M926 435h4M919 453h4M910 429h4M942 457h4M921 439h4M974 432h4M964 434h4M936 428h4M918 453h4M913 439h4M946 438h4M898 453h4M934 451h4M893 413h4M924 427h4M952 462h4M922 446h4M938 441h4M955 424h4M945 428h4M909 444h4M929 436h4M942 452h4M947 410h4M918 428h4M924 447h4M922 451h4M921 472h4M908 442h4M939 436h4M950 447h4M917 449h4M898 435h4M939 475h4M953 449h4M952 445h4M925 437h4M925 467h4M941 442h4M937 438h4M922 462h4M929 439h4M935 414h4M902 432h4M907 417h4M956 416h4M944 418h4M925 422h4M911 439h4M896 444h4M959 452h4M954 442h4M962 450h4M987 416h4M947 438h4M932 417h4M935 449h4M951 453h4M888 442h4M946 458h4M943 462h4M937 449h4M897 434h4M921 440h4M958 433h4M942 423h4M940 433h4M915 437h4M925 431h4M915 452h4M941 465h4M916 437h4M951 434h4M900 446h4M979 428h4M909 447h4M923 426h4M928 441h4M949 454h4M913 446h4M960 480h4M939 442h4M950 450h4M932 432h4M921 481h4M901 435h4M927 436h4M926 449h4M936 399h4M935 458h4M953 408h4M961 447h4M907 451h4M928 438h4M939 414h4M930 421h4M959 391h4M922 429h4M934 446h4M954 433h4M937 426h4M946 461h4M907 422h4M928 453h4M938 416h4M902 442h4M973 425h4M919 423h4M924 458h4M922 404h4M915 419h4M940 449h4M916 433h4M963 453h4M932 414h4M935 442h4M937 415h4M876 455h4M991 414h4M934 445h4M936 450h4M934 458h4M899 433h4M963 418h4M938 421h4M948 435h4M902 455h4M890 440h4M938 435h4M923 432h4M927 423h4M912 448h4M920 460h4M936 430h4M933 418h4M930 421h4M950 466h4M933 432h4M929 434h4M939 448h4M952 447h4M947 440h4M895 434h4M929 432h4M886 421h4M951 428h4M949 442h4M940 447h4M953 430h4M929 440h4M954 420h4M956 452h4M954 428h4M965 461h4M910 457h4M939 430h4M943 438h4M933 416h4M894 418h4M920 439h4M904 428h4M961 449h4M940 418h4M925 431h4M933 439h4M948 450h4M919 433h4M947 424h4M953 470h4M922 456h4M881 455h4M913 419h4M896 422h4M909 451h4M947 424h4M907 413h4M934 448h4M950 433h4M884 431h4M949 425h4M935 464h4M939 448h4M944 446h4M917 470h4M916 454h4M936 444h4M928 449h4M926 433h4M918 441h4M914 432h4M916 447h4M974 415h4M928 442h4M936 409h4M946 453h4M909 430h4M977 468h4M953 429h4M918 446h4M936 418h4M940 453h4M917 449h4M951 441h4M957 442h4M935 459h4M939 442h4M929 433h4M894 448h4M940 419h4M900 438h4M953 426h4M965 436h4M965 446h4M952 431h4M941 433h4M934 454h4M963 422h4M938 442h4M954 455h4M926 425h4M936 464h4M942 452h4M924 468h4M916 444h4M928 426h4M946 450h4M927 449h4M929 458h4M936 419h4M956 428h4M915 431h4M920 444h4M903 449h4M904 456h4M880 429h4M930 434h4M901 427h4M923 442h4M937 446h4M947 446h4M930 462h4M957 431h4M908 444h4M950 403h4M944 437h4M933 452h4M915 437h4M910 438h4M902 436h4M928 452h4M934 455h4M918 471h4M937 423h4M912 460h4M965 441h4M915 427h4M932 464h4M913 457h4M948 424h4M936 454h4M937 441h4M912 490h4M966 466h4M930 454h4M936 426h4M927 427h4M906 435h4M945 450h4M936 438h4M906 457h4M931 443h4M926 441h4M913 448h4M910 421h4M904 438h4M934 436h4M925 434h4M933 431h4M938 435h4M896 455h4M914 444h4M888 428h4M945 490h4M942 425h4M937 439h4M905 458h4M930 439h4M903 422h4M919 419h4M913 419h4M936 433h4M908 470h4M878 434h4M925 436h4M907 437h4M950 430h4M935 442h4M903 430h4M937 456h4M930 456h4M910 416h4M936 439h4M925 463h4M945 437h4M925 439h4M937 459h4M896 446h4M927 452h4M946 445h4M919 416h4M952 436h4M937 450h4M934 430h4M926 435h4M907 448h4M935 426h4M931 445h4M917 431h4M925 455h4M955 441h4M943 445h4M944 422h4M933 448h4M877 419h4M963 439h4M945 427h4M948 443h4M919 441h4M910 418h4M900 406h4M923 426h4M945 446h4M920 436h4M923 404h4M934 434h4M945 457h4M963 451h4M887 449h4M936 427h4M951 431h4M951 470h4M918 450h4M951 452h4M916 406h4M969 432h4M926 429h4M910 448h4M957 452h4M930 446h4M900 456h4M917 417h4M937 430h4M977 445h4M950 468h4M908 429h4M967 440h4M938 451h4M937 440h4M929 439h4M948 452h4M896 427h4M899 441h4M934 460h4M903 430h4M917 442h4M943 449h4M947 451h4M941 440h4M945 436h4M943 447h4M950 435h4M891 436h4M943 443h4M937 431h4M949 438h4M912 441h4M916 460h4M973 433h4M962 454h4M942 447h4M917 408h4M935 462h4M920 435h4M938 438h4M960 426h4M950 412h4M906 448h4M930 451h4M903 436h4M949 426h4M955 442h4M948 408h4M936 422h4M919 442h4M907 407h4M924 470h4M965 454h4M925 425h4M939 439h4M904 453h4M928 440h4M929 436h4M941 423h4M963 450h4M936 422h4M949 414h4M951 425h4M949 438h4M962 424h4M863 450h4M907 433h4M934 443h4M944 422h4M904 442h4M940 448h4M909 429h4M909 437h4M976 408h4M902 459h4M948 427h4M940 471h4M915 442h4M947 446h4M927 421h4M951 453h4M931 414h4M946 422h4M891 457h4M943 447h4M940 445h4M977 457h4M915 424h4M949 444h4M940 419h4M886 412h4M913 413h4M897 416h4M923 439h4M922 418h4M907 426h4M942 464h4M959 423h4M932 450h4M941 457h4M917 439h4M940 461h4M951 451h4M895 459h4M936 419h4M932 449h4M928 447h4M903 473h4M915 439h4M898 417h4M943 429h4M912 446h4M937 436h4M936 441h4M910 438h4M918 436h4M894 455h4M916 453h4M962 433h4M974 426h4M927 431h4M915 435h4M924 429h4M927 441h4M940 441h4M933 439h4M972 430h4M901 442h4M944 442h4M950 420h4M947 459h4M941 451h4M962 439h4M898 449h4M951 425h4M978 441h4M949 431h4M912 440h4M916 454h4M955 400h4M952 421h4M981 435h4M938 432h4M944 433h4M931 437h4M946 430h4M915 441h4M934 439h4M903 441h4M914 430h4M956 423h4M903 432h4M941 440h4M924 459h4M963 407h4M920 413h4M933 436h4M952 404h4M909 431h4M951 446h4M955 446h4M944 431h4M909 459h4M917 431h4M960 455h4M917 454h4M959 435h4M946 458h4M911 445h4M916 435h4M901 429h4M951 429h4M946 454h4M921 444h4M922 431h4M892 447h4M959 431h4M916 445h4M930 436h4M979 438h4M917 428h4M921 462h4M947 460h4M911 473h4M926 450h4M906 435h4M902 441h4M949 414h4M920 431h4M926 437h4M948 442h4M913 449h4M930 418h4M963 436h4M905 438h4M913 421h4M943 420h4M910 417h4M921 436h4M941 464h4M928 427h4M919 443h4M926 449h4M952 428h4M933 443h4M913 425h4M928 426h4M936 460h4M943 439h4M916 466h4M915 443h4M924 443h4M956 443h4M940 454h4M887 431h4M917 392h4M909 452h4M962 411h4M914 445h4M927 456h4M931 440h4M926 427h4M953 464h4M965 438h4M934 437h4M946 443h4M940 436h4M896 418h4M940 441h4M925 423h4M936 454h4M938 454h4M935 416h4M929 423h4M955 451h4M967 443h4M904 414h4M907 437h4M946 445h4M952 425h4M938 442h4M922 422h4M931 444h4M910 422h4M952 447h4M888 442h4M940 428h4M913 436h4M949 441h4M932 420h4M953 443h4M906 422h4M910 438h4M924 449h4M899 457h4M889 424h4M955 458h4M902 426h4M940 475h4M912 425h4M954 437h4M915 448h4M946 457h4M899 431h4M894 438h4M931 435h4M954 432h4M958 423h4M912 429h4M966 449h4M929 443h4M909 425h4M939 445h4M916 456h4M916 411h4M920 431h4M953 419h4M948 432h4M938 432h4M930 413h4M937 431h4M934 426h4M926 405h4M931 437h4M927 430h4M887 467h4M925 459h4M925 420h4M920 434h4M924 425h4M928 445h4M923 436h4M943 444h4M908 459h4M931 448h4M912 430h4M927 450h4M947 465h4M930 435h4M918 441h4M911 451h4M953 417h4M929 460h4M909 421h4M946 421h4M913 458h4M933 423h4M930 432h4M943 413h4M918 438h4M908 420h4M923 437h4M932 444h4M955 470h4M912 444h4M914 434h4M946 469h4M905 455h4M910 471h4M941 424h4M928 436h4M935 443h4M886 447h4M943 453h4M943 421h4M909 439h4M946 427h4M899 405h4M885 444h4M909 431h4M925 439h4M916 434h4M924 431h4M947 459h4M903 439h4M940 437h4M969 436h4M922 433h4M939 435h4M992 449h4" stroke="#000" stroke-width="4"/>
<polyline transform="scale(0.5)" points="997,478 986,486 953,467 1002,470 1017,459 975,480 983,468 1003,487 953,471 1023,484 989,470 1003,479 1005,481 988,487 959,485 1001,485 974,462 1014,483 951,485 1014,462 1033,475 1032,499 1021,472 1037,477 1021,475 989,471 1007,476 1034,504 967,455 945,472 1056,467 998,470 1018,475 987,474 954,470 995,487 985,462 1012,477 992,455 966,485 981,483 981,483 1032,472 991,481 977,466 1021,465 980,492 1005,467 1010,468 998,478 1006,464 984,482 1049,468 1001,461 1003,481 1021,471 989,451 967,481 980,474 981,474 958,473 995,473 1046,467 992,473 1027,478 959,480 994,489 952,485 972,474 990,477 1008,480 991,470 989,473 980,480 953,480 970,478 1023,482 1026,470 1012,479 980,463 970,486 985,483 997,480 971,466 964,469 1016,468 979,473 990,476 974,473 938,481 1021,467 1004,472 970,474 979,467 970,467 1035,480 997,472 990,464 953,456 961,467 970,462 1012,467 1018,463 1021,480 1014,489 995,468 1013,496 988,471 1032,476 964,470 1012,470 977,483 1018,489 957,468 996,491 1012,471 987,481 968,479 1002,486 995,468 950,472 1059,483 981,465 984,471 992,484 1041,471 962,476 976,472 946,482 993,493 1008,461 968,464 984,484 972,468 1040,465 1018,476 991,463 1003,458 954,484 995,476 1049,482 990,466 1014,481 1035,474 1004,480 995,467 1007,479 1021,483 1026,476 1014,487 981,479 1006,464 995,477 991,461 990,462 966,472 993,468 960,477 1001,469 1025,479 979,487 1012,472 966,468 1007,472 986,464 993,468 1005,486 1031,480 1014,472 998,461 991,463 995,477 1007,480 992,465 980,475 968,478 998,482 1003,466 980,461 986,462 989,481 990,474 1049,461 1023,477 1050,473 920,478 1010,471 1004,497 1011,466 980,474 985,474 986,478 977,489 990,469 974,472 1041,478 1023,469 1004,461 1031,474 1041,472 1004,474 1036,479 1004,477 999,477 1016,455 1014,469 999,478 972,473 965,492 976,480 1009,484 1001,467 1010,468 961,469 996,483 959,466 997,473 1033,476 964,486 990,469 951,465 982,476 999,491 1021,477 1012,475 979,478 974,480 987,473 1015,473 966,464 1030,476 998,473 964,473 1012,471 999,470 994,490 1005,494 967,450 1005,467 980,474 1003,470 994,489 1046,473 940,454 977,475 966,474 1021,476 1037,472 995,464 1001,481 983,470 1005,472 962,492 983,470 979,471 960,460 960,485 1002,476 1008,471 1020,476 963,444 988,473 988,482 975,475 989,479 1000,466 977,481 985,459 1002,464 961,473 990,483 961,466 1018,496 995,473 992,468 976,482 1006,461 1022,472 962,472 1042,473 1005,486 993,462 1006,479 990,475 963,468 997,452 1086,478 978,464 975,468 1008,478 1016,477 984,472 947,487 998,464 1008,493 990,482 1023,496 1018,487 998,486 992,478 958,478 983,472 991,469 1017,466 1046,485 962,450 1015,467 983,491 1014,461 1004,462 1028,456 949,475 1009,460 1007,482 998,471 1005,465 1008,489 1008,463 976,466 976,500 1008,472 980,464 968,481 963,479 1005,461 982,486 987,473 1027,481 1007,469 942,466 991,458 1030,467 965,460 1027,480 969,481 990,477 993,474 972,477 1004,462 1028,478 1023,479 976,467 1007,475 1010,477 999,480 1005,440 1064,462 981,474 986,457 995,480 1021,472 1016,483 997,469 1072,468 1025,497 986,468 1004,485 979,480 988,469 998,460 1030,462 1022,474 996,482 948,471 981,476 986,490 982,466 992,458 976,479 1033,478 970,458 997,491 979,469 1033,471 1029,481 996,485 1041,462 957,493 1035,469 1003,465 995,474 969,483 966,481 1043,472 1036,484 992,486 1025,473 994,471 979,481 972,482 1035,476 969,476 1042,500 997,476 1000,479 975,473 967,474 992,471 964,463 965,494 983,483 985,460 992,468 1010,478 991,485 978,464 972,502 972,462 1013,481 978,459 936,471 962,470 1037,464 944,460 1024,474 1019,481 1038,471 987,451 1010,474 960,471 999,476 991,474 975,490 1035,458 1002,472 964,465 1023,484 992,476 994,474 943,483 967,496 958,466 1001,483 969,477 987,492 1005,476 998,482 985,489 996,457 970,482 961,469 1050,470 1048,481 1010,477 979,467 1006,465 1004,476 1048,479 996,488 1017,475" fill="none" stroke="none" marker-start="url(#gc)" marker-mid="url(#gc)" marker-end="url(#gc)"/>
<path transform="scale(0.5)" d="M1007 493h4M1002 480h4M965 492h4M1020 463h4M1019 469h4M975 469h4M967 464h4M974 482h4M981 479h4M1001 474h4M1009 470h4M1001 474h4M949 479h4M965 473h4M998 461h4M991 489h4M986 471h4M1027 474h4M997 475h4M980 474h4M1017 462h4M1044 476h4M985 483h4M968 474h4M1000 475h4M1019 461h4M988 483h4M971 472h4M980 474h4M979 465h4M993 475h4M982 469h4M984 483h4M978 481h4M1008 485h4M1000 476h4M1004 484h4M975 473h4M958 476h4M986 483h4M971 493h4M1044 458h4M1012 466h4M1006 458h4M985 484h4M1012 470h4M995 484h4M1042 487h4M975 469h4M990 477h4M949 467h4M988 467h4M939 468h4M1014 486h4M961 477h4M986 476h4M1032 473h4M975 471h4M978 457h4M1005 465h4M1016 485h4M985 471h4M984 471h4M966 466h4M930 478h4M1019 469h4M987 476h4M985 475h4M959 477h4M991 476h4M959 465h4M1014 465h4M970 480h4M996 466h4M999 478h4M1035 485h4M980 475h4M965 472h4M1010 470h4M989 483h4M1061 484h4M1018 474h4M1019 466h4M979 461h4M1028 476h4M997 476h4M994 473h4M997 463h4M946 465h4M979 484h4M1023 474h4M1040 478h4M985 461h4M1001 481h4M984 471h4M978 491h4M990 475h4M989 472h4M991 492h4M1025 487h4" stroke="#000" stroke-width="4"/>
<path transform="scale(0.5)" d="M1082 411h4M1065 427h4M1103 462h4M1102 451h4M1089 401h4M1062 384h4M1091 363h4M1103 458h4M1084 379h4M1120 423h4M1085 420h4M1082 335h4M1085 426h4M1102 412h4M1079 361h4M1109 409h4M1132 349h4M1116 429h4M1097 330h4M1050 422h4M1111 422h4M1079 382h4M1094 343h4M1092 401h4M1105 353h4" stroke="#000" stroke-width="4"/>
<polyline transform="scale(0.5)" points="1122,383 1095,346 1072,400 1069,389 1098,370 1060,431 1139,453 1075,375 1075,378 1087,379 1103,377 1106,243 1112,300 1149,316 1081,379 1136,324 1065,403 1049,463 1117,314 1108,389 1060,415 1079,416 1088,448 1116,390 1081,345 1097,413 1104,365 1083,408 1106,467 1044,367" fill="none" stroke="none" marker-start="url(#gc)" marker-mid="url(#gc)" marker-end="url(#gc)"/>
<polyline transform="scale(0.5)" points="936,950 991,923 946,958 943,955 924,969 974,937 1000,978 966,952 953,931 981,944 967,941 953,952 978,954 947,968 970,957 979,958 942,944 930,962 924,951 950,943 947,959 961,942 952,941 1002,942 970,947 975,950 939,952 992,967 931,965 980,948 979,938 974,930 972,962 939,932 959,924 970,951 1018,946 926,953 956,964 944,947 953,947 947,961 968,938 974,959 946,936 953,956 960,946 920,941 956,956 957,937 944,954 955,901 930,933 969,948 962,946 935,931 961,953 1001,939 955,945 1011,954 978,944 952,960 905,939 971,947 915,942 957,939 982,940 963,928 960,962 978,924 956,938 947,936 940,949 995,946 1001,937 920,939 960,935 928,970 988,962 966,949 942,942 960,932 955,948 948,944 952,964 933,929 942,957 961,923 933,964 909,950 1003,921 965,927 947,936 901,938 962,942 997,923 936,917 918,959 985,960 956,946 997,967 947,961 954,971 971,945 929,941 958,946 950,931 951,944 984,947 970,934 936,930 939,953 994,938 1009,948 976,921 961,953 987,938 953,943 928,966 964,981 959,958 925,937 941,976 955,927 957,927 996,940 936,939 990,940 985,944 956,961 942,954 943,922 951,939 937,944 948,960 956,927 946,944 972,954 934,967 972,948 944,912 999,965 982,932 929,939 950,925 948,964 905,952 968,938 952,941 954,961 927,987 989,951 971,948 991,970 933,956 986,939 970,951 956,944 982,932 976,961 964,934 925,931 949,954 896,965 934,953 933,935 965,928 999,932 927,956 978,928 966,920 986,938 923,956 955,951 930,963 959,926 948,926 919,962 986,967 910,936 959,913 906,965 949,938 917,972 935,925 995,939 903,951 959,927 951,962 986,956 931,957 962,918 948,930 957,928 983,933 941,933 984,933 906,929 969,951 1015,945 956,937 957,945 961,916 985,942 940,933 955,954 977,948 993,915 953,955 968,946 929,936 964,934 970,929 946,921 936,952 948,929 1006,936 963,964 928,940 947,954 961,934 926,925 965,959 949,939 975,930 936,974 967,944 898,952 934,957 969,944 968,966 983,942 964,940 953,928 986,945 968,930 906,931 963,953 995,949 954,961 961,955 990,921 981,914 946,937 956,969 950,946 966,930 918,953 967,950 953,931 977,937 987,935 949,940 999,946 987,940 1004,954 985,957 937,969 971,977 923,933 982,958 907,938 939,953 983,959 952,948 959,930 974,948 901,947 974,971 962,958 953,955 971,951 948,941 1005,965 993,952 974,920 951,956 950,951 924,936 987,912 969,953 971,971 993,946 961,939 939,926 939,966 988,959 968,941 955,926 966,948 962,938 944,938 984,957 952,963 983,968 935,959 966,945 930,943 944,962 1011,924 951,953 924,939 975,922 988,958 953,945 950,934 958,957 974,951 923,935 984,952 969,973 928,960 980,931 909,928 953,918 915,941 934,949 933,941 960,933 954,949 966,940 932,936 962,931 953,942 962,956 976,933 952,950 947,948 907,973 954,965 951,957 970,965 935,953 922,933 926,946 996,925 987,948 944,934 978,951 977,942 910,917 966,932 960,938 943,913 984,914 939,954 898,948 978,975 946,954 934,964 956,927 946,953 954,970 950,939 982,943 933,968 946,958 958,1005 953,949 960,937 999,947 953,959 911,946 965,970 966,934 962,956 948,922 948,944 971,931 917,940 935,961 1005,931 987,928 903,938 965,951 963,946 952,946 926,955 994,953 965,963 971,958 938,940 930,939 925,948 948,941 988,954 965,944 967,948 1017,952 940,929 982,952 993,948 954,929 952,953 928,953 946,930 972,931 954,957 989,967 950,961 947,948 992,952 932,937 922,933 1011,953 955,943 992,957 965,936 956,964 957,937 974,955 943,941 980,967 934,957 929,963 976,947 948,934 927,951 951,951 986,942 959,927 995,955 963,955 921,939 953,953 941,951 961,931 967,943 954,947 936,953 968,934 944,934 1013,951 939,926 952,953 935,949 939,927 965,912 985,924 953,952 967,948 935,967 911,958 961,968 967,964 915,969 983,932 941,968 953,949 962,967 930,957 936,936 930,924 984,969 964,982 925,927 972,964 918,937 955,933 955,909 924,958 968,964 979,920 956,953 928,944 936,918 975,948 980,971 965,957 974,925 998,935 941,920 977,945 994,940 946,923 983,946 972,923 921,952 938,939 929,944 944,947 928,979 948,966 979,933 972,919 903,931 953,967 947,961 971,930 974,964 982,937 955,944 925,916 939,954 921,957 928,956 933,951 935,948 955,938 943,947 968,941 966,946 984,916 939,939 936,930 936,944 952,942 960,940 932,957 997,959 939,939 1004,921 981,950 938,928 986,954 963,941 940,946 941,943 937,937 982,941 910,920 952,941 907,954 1018,940 924,966 977,929 933,946 945,955 943,951 988,954 975,948 992,963 925,964 936,968 937,942 948,942 944,913 954,974 976,937 979,978 934,930 974,942 966,934 976,929 940,942 953,935 950,937 967,935 961,969 975,955 941,921 945,934 946,955 924,930 947,953 946,912 942,955 941,966 958,948 938,980 936,941 958,931 970,954 953,940 977,975 981,943 925,948 916,975 945,955 943,934 1007,960 935,946 969,928 975,955 929,956 941,940 950,950 990,970 954,940 955,940 1011,965 902,940 950,965 952,964 994,959 958,943 988,939 945,957 955,957 963,935 956,934 1001,933 968,930 983,955 928,957 1018,959 930,969 927,936 926,930 913,935 962,985 963,951 967,959 900,942 989,909 951,951 984,932 916,953 955,936 983,921 966,965 1013,950 974,955 996,926 954,931 941,948 972,955 918,922 953,950 930,947 947,944 966,933 966,938 927,930 954,943 944,955 951,914 932,949 964,930 973,967 965,929 943,937 951,960 970,970 954,951 964,959 956,937 938,976 927,922 994,955 971,962 942,931 967,942 962,954 953,957 918,950 975,949 953,953 948,946 950,977 923,941 945,952 918,938 912,945 918,937 990,925 959,972 981,925 978,953 967,923 991,943 922,941 957,965 962,939 960,957 955,948 939,930 952,958 961,956 990,950 977,952 942,970 987,929 956,952 927,937 964,946 927,942 960,952 964,946 954,971 949,940 942,941 943,957 957,922 952,936 958,943 959,933 965,969 1014,948 956,938 962,925 928,975 1029,950 955,947 1001,928 941,943 998,968 956,944 949,940 959,927 942,931 970,936 960,962 949,923 938,912 1010,957 977,921 938,932 916,963 1001,950 987,959 925,943 929,939 981,939 972,942 990,958 979,952 953,958 927,904 969,942 943,932 972,944 927,975 983,911 924,947 963,932 1006,964 961,951 952,938 987,925 976,954 966,952 936,939 931,943 932,937 937,916 926,933 962,938 959,936 951,946 932,925 944,939 968,950 916,932 966,937 939,950 944,947 921,943 912,938 951,940 941,936 920,946 953,914 955,919 950,963 906,979 972,943 989,939 982,933 922,927 944,929 920,945 943,964 950,961 971,938 929,943 955,957 1010,947 939,939 991,943 934,938 956,944 961,960 919,955 959,936 982,971 970,924 974,951 960,938 961,942 1002,973 912,959 947,945 943,940 986,930 961,980 910,935 949,955 987,958 950,946 972,945 960,927 950,979 986,954 992,946 917,950 960,917 962,953 1019,951 995,975 988,945 980,957 928,949 918,922 950,939 949,947 967,928 946,962 985,970 1006,928 948,942 937,942 956,916 949,930 917,918 998,935 954,953 936,947 949,935 945,939 968,945 953,967 989,949 937,965 965,948 929,946 938,959 940,954 994,931 907,955 942,933 919,928 929,942 915,924 962,947 938,964 967,938 933,940 939,924 991,961 976,951 955,938 953,938 944,952 951,936 927,945 906,947 976,983 940,944 946,945 921,945 964,948 933,953 946,943 950,970 958,948 974,938 962,933 934,945 950,931 954,946 914,951 963,964 917,949 969,924 939,937 926,962 984,953 907,932 978,951 891,967 964,935 946,933 953,951 975,952 982,934 1009,955 954,943 976,930 967,922 990,963 934,964 951,932 988,933 981,965 937,925 943,921 944,947 952,942 934,941 973,954 964,922 970,921 971,946 940,929 972,930 944,951 943,955 947,954 967,946 955,970 939,926 979,936 926,948 979,961 967,955 936,952 962,946 971,918 929,918 993,954 956,954 943,941 925,942 938,955 940,945 946,945 941,922 975,951 979,955 981,959 957,969 955,924 927,949 972,937 930,942 972,939 934,953 969,962 933,963 982,961 952,949 926,958 990,941 921,967 961,955 970,933 958,936 944,966 930,958 953,944 971,937 939,933 963,952 940,942 979,931 953,931 939,937 955,948 942,960 952,937 955,923 932,948 991,979 968,942 961,951 969,971 914,938 956,928 966,931 969,934 897,953 949,943 940,957 964,951 976,914 981,915 963,953 979,964 958,932 986,961 974,929 982,948 964,943 948,954 961,936 957,951 966,943 933,951 940,944 966,949 957,940 988,947 975,938 967,939 970,937 963,944 1000,973 967,961 945,912 946,940 963,944 961,942 998,964 976,944 927,943 954,952 968,973 970,946 944,939" fill="none" stroke="none" marker-start="url(#gc)" marker-mid="url(#gc)" marker-end="url(#gc)"/>
<path transform="scale(0.5)" d="M948 941h4M961 928h4M982 922h4M987 940h4M949 954h4M997 922h4M924 943h4M975 951h4M931 966h4M987 948h4M917 946h4M975 968h4M991 935h4M947 936h4M978 954h4M972 955h4M965 928h4M955 938h4M962 955h4M951 923h4M967 973h4M949 936h4M967 954h4M979 981h4M966 956h4M985 953h4M991 938h4M922 943h4M936 955h4M1014 974h4M970 948h4M1017 939h4M954 960h4M952 953h4M949 960h4M998 944h4M938 942h4M971 975h4M951 931h4M946 963h4M969 953h4M914 949h4M924 975h4M987 965h4M990 950h4M955 954h4M964 932h4M918 945h4M969 969h4M980 978h4M971 935h4M983 948h4M996 955h4M961 927h4M1013 971h4M941 940h4M948 973h4M904 929h4M949 925h4M958 950h4M953 950h4M960 945h4M981 933h4M918 965h4M986 980h4M947 936h4M971 954h4M992 960h4M952 907h4M951 971h4M953 948h4M944 955h4M978 940h4M966 921h4M975 952h4M959 891h4M990 936h4M965 963h4M1006 952h4M933 955h4M984 973h4M970 962h4M946 963h4M1007 948h4M978 946h4M929 942h4M926 950h4M960 967h4M997 952h4M970 932h4M999 934h4M946 945h4M965 965h4M948 969h4M963 946h4M945 962h4M969 950h4M954 953h4M1008 957h4M979 957h4" stroke="#000" stroke-width="4"/>
<path transform="scale(0.5)" d="M982 997h4M1000 992h4M977 998h4M992 972h4M986 1020h4M997 995h4M946 984h4M976 998h4M978 1004h4M1049 1019h4M999 991h4M970 994h4M1006 999h4M1038 985h4M951 993h4M991 987h4M995 1002h4M952 1005h4M966 1010h4M1025 1007h4M942 969h4M1002 999h4M973 978h4M1023 980h4M981 1002h4M960 1014h4M993 1004h4M992 990h4M950 1009h4M997 1000h4M1024 1008h4M977 975h4M975 995h4M1016 1014h4M1004 999h4M959 1010h4M1003 985h4M982 1005h4M977 991h4M988 1005h4M971 997h4M953 973h4M1024 993h4M973 997h4M995 1025h4M1000 1015h4M989 994h4M979 1001h4M994 1002h4M970 1002h4M970 1012h4M975 1000h4M972 980h4M1004 1022h4M1003 994h4M1000 1014h4M949 1014h4M956 984h4M968 997h4M972 999h4M1025 979h4M990 981h4M1026 990h4M1008 994h4M970 1022h4M967 985h4M993 999h4M994 974h4M1007 992h4M990 974h4M963 1003h4M943 987h4M990 972h4M961 978h4M974 1016h4M946 1003h4M969 977h4M961 993h4M967 975h4M954 1015h4M1020 1005h4M971 1001h4M1009 1005h4M1017 991h4M972 992h4M988 1023h4M995 977h4M1015 1000h4M996 1012h4M1002 957h4M995 991h4M979 1005h4M1006 974h4M989 991h4M1007 961h4M980 1004h4M949 993h4M989 965h4M1039 992h4M1002 985h4M971 1001h4M927 980h4M982 1009h4M1027 949h4M977 988h4M984 990h4M1017 983h4M1005 1003h4M982 1006h4M947 1021h4M974 1008h4M993 1009h4M987 992h4M946 968h4M988 996h4M1015 964h4M987 981h4M975 1008h4M1015 993h4M972 1003h4M957 998h4M996 992h4M989 988h4M995 996h4M994 1015h4M962 1003h4M1001 1010h4M1003 989h4M1023 999h4M978 1009h4M955 1006h4M985 970h4M979 1011h4M1029 1012h4M978 1011h4M983 1015h4M980 993h4M984 1020h4M950 983h4M991 985h4M981 969h4M1009 998h4M992 976h4M1002 1005h4M979 1008h4M965 959h4M974 1030h4M963 992h4M969 999h4M991 993h4M986 994h4M987 1011h4M976 1009h4M970 1021h4M967 993h4M997 1006h4M1022 973h4M987 1003h4M991 985h4M929 963h4M1037 1032h4M947 1000h4M975 1007h4M996 995h4M1002 976h4M969 1009h4M1024 965h4M985 991h4M987 1019h4M976 977h4M983 974h4M1010 980h4M971 991h4M994 1006h4M1001 997h4M971 996h4M1005 995h4M979 1000h4M999 986h4M984 1011h4M928 1012h4M1001 986h4M969 1000h4M972 1019h4M999 966h4M1019 992h4M997 968h4M1001 991h4M982 1001h4M980 973h4M963 1028h4M944 979h4M948 998h4M974 992h4M942 1033h4M1001 991h4M991 994h4M968 1021h4M999 986h4M986 994h4M980 978h4M988 983h4M1017 1019h4M1003 993h4M965 977h4M997 995h4M981 983h4M1007 966h4M988 982h4M985 966h4M1012 961h4M976 998h4M1002 1004h4M990 996h4M1023 967h4M1016 996h4M1005 987h4M1041 972h4M1006 980h4M999 1011h4M982 998h4M972 985h4M971 996h4M987 984h4M1011 995h4M990 999h4M982 988h4M990 999h4M972 1012h4M981 989h4M991 984h4M970 994h4M976 982h4M1023 981h4M975 1016h4M1008 1020h4M1002 977h4M962 1013h4M994 994h4M940 1000h4M980 998h4M982 996h4M997 996h4M983 983h4M997 977h4M1004 1016h4M988 989h4M1001 990h4M985 1006h4M973 1016h4M984 996h4M926 1008h4M945 998h4M973 992h4M933 993h4M992 989h4M974 1020h4M938 1012h4M962 991h4M1008 997h4M974 1040h4M1021 1005h4M994 983h4M980 1007h4M990 997h4M992 987h4M987 1028h4M937 982h4M974 1008h4M973 999h4M977 1023h4M973 987h4M989 988h4M979 966h4M965 997h4M957 997h4M972 1007h4M1051 1002h4M1007 998h4M987 993h4M964 982h4M991 980h4M985 1015h4M968 982h4M985 1004h4M909 964h4M980 981h4M981 1011h4M1028 990h4M977 992h4M1030 1021h4M949 979h4M945 988h4M933 1008h4M1002 1004h4M965 992h4M1004 996h4M963 995h4M954 994h4M1041 963h4M989 997h4M999 1001h4M970 993h4M983 972h4M969 959h4M969 984h4M958 996h4M997 988h4M1027 973h4M982 1027h4M973 997h4M1017 994h4M950 994h4M997 989h4M963 984h4M988 987h4M1020 984h4M985 1014h4M989 965h4M986 988h4M975 980h4M978 997h4M953 968h4M992 1005h4M1006 995h4M967 978h4M1004 1007h4M1027 986h4M972 1018h4M951 968h4M968 1009h4M1011 987h4M977 971h4M1028 1028h4M986 987h4M999 1008h4M967 975h4M959 1034h4M953 986h4M986 990h4M971 1002h4M986 1018h4M970 1000h4M999 998h4M974 995h4M930 1003h4M992 997h4M1019 962h4M985 983h4M992 965h4" stroke="#000" stroke-width="4"/>
<polyline transform="scale(0.5)" points="1169,910 1177,886 1185,901 1175,862 1160,915 1211,937 1187,882 1187,880 1201,905 1138,905 1170,845 1153,880 1176,878 1175,838 1170,888 1182,877 1155,915 1166,898 1161,882 1148,864 1160,898 1200,915 1175,883 1130,897 1173,890 1167,900 1194,882 1207,907 1192,891 1144,896 1179,910 1178,889 1147,887 1182,887 1198,876 1175,884 1174,867 1179,884 1184,908 1181,915 1162,906 1158,900 1172,877 1154,906 1191,864 1172,872 1174,924 1184,884 1166,880 1199,901 1189,897 1182,833 1174,861 1182,906 1158,860 1166,945 1157,903 1197,865 1170,827 1162,884 1164,894 1201,883 1168,884 1183,878 1184,892 1139,883 1145,861 1147,867 1172,870 1188,866 1150,853 1159,880 1193,876 1171,857 1187,903 1185,901 1182,903 1153,845 1161,895 1207,896 1189,861 1159,850 1178,897 1175,861 1172,900 1174,902 1169,882 1183,878 1184,885 1179,899 1167,865 1139,877 1160,892 1186,882 1198,878 1187,888 1177,884 1140,875 1175,841 1179,884 1184,883 1148,921 1171,892 1165,886 1195,919 1187,912 1160,881 1134,908 1173,867 1154,876 1202,891 1200,889 1169,879 1194,890 1177,925 1140,902 1185,943 1163,897 1178,889 1152,918 1185,900 1200,912 1158,887 1190,877 1191,867 1207,901 1182,878 1172,884 1177,889 1173,878 1168,888 1178,869 1171,862 1190,929 1172,932 1191,873 1176,894 1187,861 1183,915 1168,885 1158,854 1155,879 1201,922 1168,882 1178,887 1171,898 1173,908 1158,882 1203,884 1161,887 1184,899 1185,920 1167,905 1167,884 1194,887 1148,885 1188,867 1167,878 1183,882 1157,889 1157,917 1169,915 1201,881 1149,903 1189,877 1170,890 1174,890 1171,885 1172,909 1174,866 1133,875 1185,869 1168,880 1193,863 1148,862 1154,910 1155,901 1173,881 1177,852 1175,875 1167,860 1164,865 1172,899 1178,873 1167,905 1195,900 1153,877 1176,897 1191,863 1179,909 1170,907 1162,896 1162,854 1162,898 1144,831 1172,886 1169,945 1186,887 1150,872 1153,869 1176,880 1176,865 1194,863 1159,876 1176,928 1169,864 1177,850 1201,872 1162,861 1170,899 1183,875 1143,905 1184,893 1168,922 1173,883 1184,910 1191,865 1157,868 1170,919 1181,902 1157,940 1157,905 1188,855 1145,897 1151,883 1175,911 1184,884 1187,893 1184,898 1157,860 1184,882 1156,870 1183,845 1172,870 1153,892 1169,872 1158,893 1178,897 1164,899 1185,881 1153,844 1197,898 1186,886 1177,904 1185,909 1155,887 1165,911 1178,880 1178,871 1176,875 1149,883 1202,862 1153,910 1170,873 1170,870 1191,893 1172,943 1160,846 1193,881 1175,866 1167,900 1207,893 1180,859 1193,886 1171,891 1162,863 1140,898 1179,864 1187,867 1157,852 1183,906 1175,867 1159,871 1208,931 1179,878 1184,903 1194,855 1174,884 1146,887 1155,907 1178,896 1175,874 1141,851 1193,950 1177,898 1188,901 1188,900 1169,876 1186,900 1164,947 1152,889 1166,926 1167,894 1174,893 1181,903 1167,906 1167,886 1172,907 1166,871 1179,897 1183,885 1167,854 1193,884 1165,906 1169,888 1185,880 1161,887 1165,850 1179,901 1164,893 1182,896 1160,804 1181,905 1175,844 1197,912 1138,850 1166,894 1175,906 1187,912 1198,869 1182,866 1170,859 1191,884 1176,913 1170,871 1137,869 1196,856 1189,868 1196,889 1164,877 1177,876 1196,909 1136,900 1184,907 1173,902 1161,873 1161,870 1192,910 1201,885 1160,856 1196,896 1193,971 1180,891 1168,865 1202,891 1187,906 1146,880 1172,924 1163,860 1167,889 1172,912 1197,883 1157,909 1138,854 1182,911 1188,877 1180,853 1159,901 1159,864 1179,926 1192,921 1172,883 1181,841 1171,828 1170,894 1178,903 1173,852 1168,954 1150,880 1171,891 1178,841 1178,931 1199,891 1196,909 1158,898 1160,912 1211,886 1172,919 1153,882 1158,914 1188,949 1190,855 1169,877 1208,878 1153,876 1171,872 1169,851 1190,893 1189,921 1182,868 1177,899 1164,899 1181,891 1161,866 1180,855 1184,906 1160,898 1176,905 1156,874 1171,903 1155,869 1164,937 1159,869 1175,873 1169,892 1182,933 1188,882 1180,870 1173,922 1155,879 1168,903 1168,867 1150,873 1191,903 1173,876 1165,903 1145,909 1199,878 1199,853 1159,916 1182,891 1203,907 1194,912 1177,899 1140,868 1195,901 1161,900 1169,859 1157,881 1146,906 1190,888 1170,879 1147,871 1172,910 1170,918 1170,867 1176,869 1180,882 1201,911 1187,916 1167,850 1168,897 1180,875 1196,908 1171,875 1148,911 1165,873 1162,900 1166,889 1197,921 1171,823 1163,876 1178,860 1207,871 1165,881 1151,861 1174,911 1169,891 1166,912 1181,868 1174,899 1168,888 1175,848 1176,895 1167,919 1159,819 1176,906 1178,890 1173,842 1143,865 1171,905 1180,880 1202,876 1185,871 1167,898 1142,910 1190,899 1172,915 1175,902 1191,865 1165,872 1167,930 1175,858 1156,853 1168,869 1169,885 1188,925 1175,878 1188,886 1166,884 1177,860 1162,914 1170,879 1162,927 1172,880 1167,918 1163,916 1175,866 1181,886 1169,867 1165,868 1156,915 1151,892 1189,878 1170,879 1156,910 1157,893 1175,907 1175,901 1166,876 1187,892 1167,875 1188,900 1195,915 1202,897 1145,872 1151,916 1198,917 1183,871 1172,838 1169,916 1176,873 1159,895 1191,909 1176,881 1160,850 1166,858 1181,873 1166,915 1171,893 1158,879 1175,863 1187,905 1184,865 1186,858 1192,879 1184,890 1158,851 1156,926 1183,840 1180,879 1180,843 1159,852 1151,912 1169,911 1170,852 1176,891 1205,885 1210,933 1185,904 1170,879 1176,924 1174,852 1132,872 1168,882 1152,869 1158,912 1172,891 1171,870 1184,881 1170,889 1172,906 1165,904 1200,868 1156,878 1169,915 1182,913 1179,870 1180,913 1177,870 1158,881 1169,929 1153,904 1164,891 1166,902 1167,882 1188,865 1176,904 1149,889 1174,930 1189,877 1176,842 1152,895 1160,888 1155,902 1167,888 1196,863 1147,881 1204,872 1158,877 1164,870 1173,908 1175,886 1170,892 1159,905 1206,901 1174,906 1168,870 1172,887 1190,897 1187,883 1144,868 1176,868 1175,856 1180,855 1183,901 1177,913 1186,879 1188,885 1176,900 1165,834 1163,920 1204,913 1155,842 1182,915 1166,845 1182,885 1167,901 1158,908 1165,863 1196,882 1153,905 1178,907 1142,851 1165,879 1187,893 1194,888 1178,900 1193,901 1161,900 1177,890 1163,931 1181,865 1171,894 1171,871 1175,865 1157,885 1197,900 1163,922 1180,882 1146,843 1158,844 1171,911 1163,917 1190,901 1170,900 1192,887 1172,925 1176,910 1185,875 1160,820 1172,934 1163,878 1163,868 1170,865 1197,870 1177,927 1163,918 1177,854 1174,865 1163,868 1169,894 1139,883 1175,889 1159,853 1172,887 1188,922 1185,917 1175,909 1172,893 1168,879 1186,892 1167,889 1195,910 1165,887 1176,887 1185,887 1196,890 1162,882 1190,848 1184,928 1179,838 1172,926 1144,902 1191,859 1155,888 1186,888 1178,898 1183,869 1167,874 1184,908 1198,871 1167,844 1156,890 1197,905 1154,880 1204,895 1184,899 1175,900 1177,867 1150,891 1190,862 1176,895 1192,889 1160,902 1166,889 1196,896 1180,921 1173,859 1165,906 1174,839 1140,895 1165,837 1178,888 1146,879 1190,875 1158,883 1195,842 1178,901 1193,918 1154,923 1196,890 1162,859 1158,876 1165,900 1150,885 1190,873 1170,943 1187,849 1184,896 1173,883 1194,884 1172,867 1197,890 1177,893 1165,869 1172,942 1182,900 1181,871 1171,895 1173,886 1199,899 1190,889 1150,867 1198,831 1195,923 1207,919 1160,898 1154,896 1192,912 1156,866 1166,863 1196,903 1179,886 1160,914 1206,874 1167,897 1166,881 1181,879 1182,874 1178,856 1209,921 1173,894 1152,883 1201,871 1144,886 1181,870 1173,893 1171,864 1191,903 1177,896 1214,891 1172,908 1154,908 1154,870 1161,896 1184,880 1191,905 1179,923 1199,893 1196,905 1154,899 1150,904 1183,880 1187,857 1197,899 1170,894 1161,900 1181,932 1163,919 1172,855 1161,870 1125,868 1175,899 1185,841 1159,854 1162,900 1162,866 1168,872 1189,935 1178,887 1181,871 1179,874 1190,902 1164,909 1181,896 1167,886 1181,878 1171,902 1163,889 1177,861 1178,904 1184,857 1157,860 1164,860 1184,876 1175,921 1149,901 1193,911 1181,874 1198,875 1196,890 1189,867 1155,829 1186,917 1172,915 1190,895 1168,872 1182,894 1164,896 1164,866 1167,884 1167,906 1165,857 1136,863 1166,850 1156,899 1194,892 1213,833 1165,942 1159,884 1190,874 1162,878 1178,894 1164,889 1204,886 1165,903 1151,885 1181,915 1186,877 1182,911 1192,888 1171,898 1139,850 1147,899 1184,873 1183,880 1199,860 1170,880 1182,872 1174,893 1174,904 1215,872 1150,935 1172,879 1166,879 1159,936 1195,843 1171,869 1168,878 1177,891 1184,916 1158,846 1186,888 1181,867 1171,911 1162,890 1188,875 1171,936 1171,893 1169,873 1184,883 1166,911 1153,873 1178,928 1192,902 1189,895 1167,875 1142,862 1170,881 1184,872 1157,929 1161,841 1199,858 1180,843 1166,878 1164,840 1189,888 1165,878 1152,865 1173,895 1168,876 1183,836 1136,893 1167,861 1180,897 1186,877 1190,894 1171,886 1155,924 1179,863 1185,839 1195,890 1163,860 1188,906 1168,896 1194,847 1183,859 1190,910 1175,907 1204,842 1203,882 1165,880 1192,929 1183,898 1162,861 1188,878 1138,899 1163,868 1166,915 1163,902 1160,859 1199,898 1198,883 1194,934 1171,910 1180,901 1157,881 1146,898 1177,869 1200,895 1174,860 1178,910 1158,869 1170,883 1184,889 1159,906 1178,898 1154,879 1174,895 1170,853 1193,873 1177,918 1167,883 1185,895 1153,888 1211,971 1168,922 1190,896 1189,862 1169,872 1190,913 1174,897 1190,877 1155,824 1161,896 1162,868 1201,892 1195,912 1186,912 1164,918 1167,862 1146,926 1158,916 1163,897 1195,887 1160,887 1169,863 1167,864 1174,902 1190,865 1177,909 1198,899 1203,904 1154,875 1207,875 1175,865 1170,892 1176,947 1176,928 1157,867 1148,882 1169,855 1167,942 1181,889 1176,906 1156,872 1156,858 1171,919 1178,909" fill="none" stroke="none" marker-start="url(#gc)" marker-mid="url(#gc)" marker-end="url(#gc)"/>
<path transform="scale(0.5)" d="M1155 922h4M1173 896h4M1144 848h4M1166 875h4M1153 889h4M1161 937h4M1164 883h4M1175 912h4M1150 889h4M1166 914h4M1160 872h4M1173 894h4M1168 890h4M1142 889h4M1155 878h4M1159 871h4M1158 885h4M1181 902h4M1168 907h4M1181 903h4M1170 888h4M1146 894h4M1190 902h4M1162 873h4M1156 872h4M1171 888h4M1195 864h4M1158 923h4M1173 914h4M1166 895h4M1146 831h4M1155 831h4M1183 902h4M1186 930h4M1203 890h4M1166 893h4M1173 838h4M1158 889h4M1164 920h4M1174 903h4M1179 890h4M1166 914h4M1150 893h4M1137 880h4M1176 915h4M1148 904h4M1151 891h4M1165 925h4M1149 888h4M1153 907h4M1161 850h4M1159 861h4M1184 900h4M1154 882h4M1141 881h4M1175 857h4M1161 904h4M1190 905h4M1172 919h4M1167 936h4M1183 905h4M1179 896h4M1162 855h4M1157 871h4M1140 899h4M1151 882h4M1190 905h4M1165 891h4M1160 894h4M1169 871h4M1167 876h4M1161 903h4M1158 900h4M1181 936h4M1166 878h4M1162 887h4M1185 912h4M1143 861h4M1151 941h4M1172 883h4M1174 890h4M1141 845h4M1157 914h4M1176 887h4M1160 945h4M1170 904h4M1170 923h4M1192 873h4M1190 893h4M1161 880h4M1181 892h4M1154 862h4M1179 881h4M1165 909h4M1166 891h4M1178 887h4M1173 914h4M1178 900h4M1179 924h4M1177 876h4M1179 886h4M1147 870h4M1133 889h4M1147 920h4M1160 881h4M1157 881h4M1163 877h4M1167 890h4M1160 851h4M1159 915h4M1189 898h4M1150 880h4M1192 845h4M1175 921h4M1140 877h4M1164 856h4M1155 899h4M1156 913h4M1157 881h4M1140 896h4M1178 895h4M1147 897h4M1154 895h4M1169 879h4M1173 884h4M1167 899h4M1165 910h4M1156 917h4M1149 876h4M1168 921h4M1173 865h4M1140 866h4M1164 872h4M1186 904h4M1163 899h4M1158 885h4M1140 879h4M1169 952h4M1154 880h4M1195 873h4M1198 914h4M1139 887h4M1126 901h4M1155 870h4M1159 943h4M1192 906h4M1169 892h4M1162 897h4M1182 905h4M1161 873h4" stroke="#000" stroke-width="4"/>
<path transform="scale(0.5)" d="M1000 984h4M1040 973h4M1050 1009h4M1015 969h4M1035 998h4M1028 974h4M1012 979h4M1023 970h4M1047 967h4M1030 985h4M1015 969h4M1014 998h4M1026 953h4M1041 981h4M1029 985h4M1059 954h4M1011 958h4M1026 948h4M1030 951h4M1019 996h4M1041 985h4M1008 941h4M1032 964h4M1012 972h4M1023 966h4M1079 964h4M1040 938h4M1049 952h4M1028 954h4M1007 948h4M1054 994h4M1067 953h4M1010 981h4M1021 983h4M1041 974h4M1021 962h4M1056 953h4M1029 955h4M1011 993h4M1017 968h4M1045 979h4M1035 986h4M1047 965h4M1053 989h4M1055 969h4M1046 989h4M1028 968h4M1008 978h4M1033 953h4M1068 933h4M1015 947h4M1043 950h4M1012 966h4M1051 983h4M1034 975h4M1026 979h4M1049 987h4M1016 973h4M1010 961h4M1056 944h4M1044 976h4M1018 968h4M1027 939h4M1051 950h4M1044 977h4M1033 958h4M1015 958h4M1022 975h4M1035 938h4M1033 975h4M1037 955h4M1024 996h4M1048 979h4M1075 952h4M1047 977h4M1048 943h4M1017 965h4M1047 984h4M1063 974h4M1068 967h4M1043 975h4M1004 958h4M1042 952h4M1027 971h4M1033 978h4M1052 968h4M1034 995h4M1051 981h4M1024 981h4M1044 939h4M1026 992h4M1061 1003h4M1053 953h4M1033 977h4M1045 965h4M1025 963h4M1064 967h4M1086 973h4M1042 944h4M1007 968h4M1009 969h4M1039 986h4M1062 965h4M1004 962h4M1068 967h4M1016 954h4M1055 983h4M1032 1010h4M1056 968h4M1057 961h4M1043 952h4M1060 977h4M1039 947h4M1046 970h4M1031 961h4M1004 974h4M1003 965h4M1032 952h4M1078 934h4M1049 963h4M1006 964h4M1000 982h4M1048 984h4M1029 947h4M1055 995h4M1047 974h4M1009 965h4M1002 958h4M1027 981h4M1042 999h4M1039 977h4M1045 972h4M1033 986h4M1030 959h4M1025 1002h4M1050 973h4M1032 993h4M977 964h4M1035 955h4M1016 946h4M1051 975h4M1057 955h4M1018 948h4M1054 954h4M1055 981h4M1031 980h4M1041 971h4M1052 979h4M1035 979h4M1056 945h4M1037 960h4M1045 958h4M1012 960h4M1056 967h4M1018 933h4M1031 969h4M1048 995h4M1048 966h4M1031 940h4M1022 980h4M1073 979h4M1019 970h4M1010 962h4M1031 959h4M1044 945h4M1028 976h4M1007 1010h4M1025 964h4M1026 947h4M1045 952h4M1054 966h4M1011 986h4M1078 968h4M1022 985h4M1054 953h4M1029 999h4M1032 998h4M1037 951h4M1063 972h4M1071 959h4M1037 980h4M1052 979h4M1033 971h4M1012 948h4M1024 956h4M980 974h4M1028 943h4M1052 967h4M1026 986h4M1042 1001h4M1038 974h4M1060 954h4M1034 948h4M1069 986h4M991 967h4M1033 986h4M1020 992h4M1021 985h4M1021 965h4M1011 968h4M996 954h4M1055 987h4M1047 970h4M986 999h4M1021 980h4M1039 964h4M1006 988h4M1019 951h4M1027 970h4M1036 985h4M1017 957h4M1058 955h4M1015 961h4M1032 957h4M1077 980h4M1011 960h4M1047 957h4M1019 1014h4M1056 952h4M1012 958h4M1036 971h4M1021 942h4M1022 976h4M1034 934h4M1009 984h4M1047 972h4M1064 976h4M1048 975h4M1038 959h4M1037 970h4M1019 953h4M1022 962h4M1058 972h4M1039 979h4M1045 965h4M1020 982h4M1053 950h4M1049 966h4M1055 996h4M1046 990h4M1033 974h4M1036 989h4M1028 964h4M998 978h4M1017 964h4M1067 993h4M1077 945h4M1047 951h4M1019 986h4M1033 942h4M1026 1021h4M1019 962h4M1029 982h4M1025 944h4M1035 975h4M999 946h4M1041 965h4M1018 995h4M1061 979h4M1093 970h4M1030 997h4M1020 935h4M1024 956h4M1047 970h4M1040 972h4M1059 953h4M1015 961h4M1017 982h4M1015 992h4M1009 941h4M1029 998h4M1029 974h4M1022 976h4M1056 964h4M1019 997h4M1017 957h4M1039 956h4M1042 1000h4M1050 960h4M1054 931h4M1049 964h4M1049 948h4M1026 995h4M1039 961h4M1006 973h4M1029 991h4M1008 980h4M1068 984h4M997 937h4M1020 942h4M1022 976h4M1023 960h4M1017 1001h4M1030 965h4M1030 957h4M1061 960h4M1043 988h4M1017 968h4M1039 970h4M1020 939h4M1048 957h4M1024 952h4M1048 998h4M1041 954h4M1038 978h4M1069 974h4M1025 962h4M1038 961h4M1042 967h4M1034 959h4M1013 971h4M1008 974h4M1021 994h4M1049 960h4M1058 967h4M1056 970h4M1029 945h4M986 972h4M1058 970h4M984 980h4M1042 957h4M1037 973h4M1022 992h4M1010 1000h4M1046 964h4M1020 953h4M1040 966h4M1041 1001h4M1043 981h4M1044 967h4M1058 995h4M1018 992h4M1060 949h4M1047 951h4M1052 940h4M1046 982h4M1029 972h4M1056 997h4M1022 970h4M1021 968h4M1034 976h4M1047 949h4M1015 970h4M1030 980h4M1024 958h4M1016 962h4M1051 978h4M1034 973h4M1019 960h4M1005 977h4M1016 970h4M1059 936h4M1023 951h4M1036 935h4M1039 991h4M1005 969h4M1034 964h4M1036 993h4M1059 938h4M1034 951h4M1014 966h4M1018 993h4M1035 981h4M1026 977h4M1026 963h4M1037 966h4M1063 970h4M1007 962h4M1030 976h4M1035 993h4M1048 981h4M1040 952h4M1029 951h4M1019 943h4M998 974h4M1006 961h4M1024 999h4M1032 941h4M1020 965h4M1036 953h4M1017 950h4M1055 947h4M1049 976h4M1037 988h4M994 983h4M1045 1005h4M1050 979h4M1029 995h4M1052 945h4M1005 961h4M1059 939h4M1015 969h4M1034 995h4M1070 976h4M1027 975h4M1029 981h4M1007 986h4M1013 982h4M1026 983h4M1010 953h4" stroke="#000" stroke-width="4"/>
<path transform="scale(0.5)" d="M1105 967h4M1142 939h4M1088 958h4M1104 994h4M1071 976h4M1087 984h4M1054 923h4M1072 935h4M1124 947h4M1075 963h4M1109 952h4M1069 966h4M1100 960h4M1092 980h4M1159 981h4M1095 955h4M1057 926h4M1109 960h4M1103 955h4M1090 951h4M1065 943h4M1053 940h4M1099 929h4M1097 985h4M1042 1016h4M1093 965h4M1070 977h4M1071 982h4M1123 976h4M1105 998h4M1112 945h4M1075 1030h4M1084 958h4M1126 969h4M1083 979h4M1069 942h4M1084 961h4M1100 976h4M1102 936h4M1110 965h4M1108 975h4M1102 921h4M1064 948h4M1100 1025h4M1089 1033h4M1117 935h4M1096 963h4M1065 1015h4M1083 971h4M1068 1007h4M1091 998h4M1094 997h4M1092 962h4M1123 1000h4M1057 945h4M1103 979h4M1082 979h4M1124 932h4M1130 995h4M1130 950h4M1047 1001h4M1103 945h4M1113 985h4M1084 972h4M1102 955h4M1078 964h4M1131 920h4M1117 962h4M1097 938h4M1095 963h4M1089 943h4M1096 1003h4M1119 936h4M1085 946h4M1083 984h4M1085 983h4M1062 958h4M1083 988h4M1063 1000h4M1069 981h4M1092 983h4M1061 980h4M1080 965h4M1064 970h4M1073 955h4M1073 969h4M1100 958h4M1065 998h4M1107 956h4M1072 983h4M1060 976h4M1078 998h4M1101 966h4M1083 969h4M1072 967h4M1040 1000h4M1139 956h4M1088 956h4M1055 953h4M1077 961h4M1092 960h4M1097 969h4M1075 970h4M1056 990h4M1076 968h4M1105 935h4M1100 896h4M1073 917h4M1081 974h4M1064 945h4M1105 966h4M1073 977h4M1093 953h4M1106 961h4M1073 955h4M1087 963h4M1080 964h4M1090 953h4M1129 969h4M1094 949h4M1085 977h4M1073 981h4M1069 943h4M1079 993h4M1080 991h4M1095 981h4M1081 948h4M1105 964h4M1073 993h4M1051 984h4M1123 971h4M1072 966h4M1080 991h4M1124 957h4M1084 994h4M1071 993h4M1098 992h4M1059 965h4M1037 1011h4M1112 974h4M1103 958h4M1084 979h4M1063 968h4M1078 946h4M1071 944h4M1101 973h4M1084 937h4M1102 980h4M1085 1002h4M1099 968h4M1074 973h4M1070 955h4M1098 951h4M1090 950h4M1102 962h4M1098 982h4M1077 981h4M1112 951h4M1102 964h4M1117 943h4M1142 951h4M1076 972h4M1065 995h4M1105 985h4M1095 994h4M1106 946h4M1108 954h4M1082 991h4M1102 963h4M1094 1007h4M1067 986h4M1055 1010h4M1104 959h4M1081 986h4M1104 953h4M1081 991h4M1085 986h4M1106 943h4M1087 977h4M1113 934h4M1052 964h4M1103 956h4M1110 931h4M1146 971h4M1059 981h4M1106 969h4M1114 960h4M1074 986h4M1069 951h4M1072 962h4M1083 954h4M1082 1014h4M1116 952h4M1089 982h4M1074 926h4M1041 968h4M1100 956h4M1126 887h4M1052 940h4M1097 952h4M1096 967h4M1102 952h4M1094 965h4M1101 974h4M1092 957h4M1066 1003h4M1128 934h4M1113 945h4M1089 975h4M1120 956h4M1071 995h4M1074 968h4M1042 997h4M1072 1019h4M1104 997h4M1105 983h4M1097 959h4M1080 987h4M1086 1000h4M1080 961h4M1097 914h4M1083 976h4M1067 972h4M1094 950h4M1102 948h4M1138 993h4M1085 968h4M1084 964h4M1117 989h4M1096 933h4M1098 951h4M1091 996h4M1072 959h4M1092 941h4M1087 1007h4M1115 929h4M1048 961h4M1100 966h4M1090 953h4M1105 982h4M1121 1003h4M1115 977h4M1074 909h4M1090 1002h4M1055 953h4M1066 986h4M1103 946h4M1084 949h4M1091 992h4M1093 984h4M1067 988h4M1091 915h4M1092 981h4M1097 954h4M1076 972h4M1058 1038h4M1092 990h4M1104 951h4M1116 955h4M1112 1002h4M1080 995h4M1085 926h4M1104 987h4M1140 956h4M1100 975h4M1100 979h4M1062 1003h4M1079 932h4M1102 966h4M1119 956h4M1059 1025h4M1068 1015h4M1077 941h4M1110 941h4M1070 961h4M1063 963h4M1101 985h4M1055 983h4M1066 989h4M1097 955h4M1123 958h4M1097 919h4M1116 976h4M1064 983h4M1053 997h4M1084 1016h4M1074 996h4M1128 940h4M1115 994h4M1100 930h4M1096 956h4M1071 973h4M1074 959h4M1078 977h4M1121 968h4M1087 984h4M1105 941h4M1127 980h4M1079 996h4M1096 929h4M1121 962h4M1090 981h4M1098 989h4M1092 968h4M1100 978h4M1081 983h4M1108 953h4M1070 960h4M1099 964h4M1104 967h4M1106 968h4M1041 1018h4M1112 961h4M1070 963h4M1057 959h4M1078 984h4M1065 1004h4M1132 955h4M1127 907h4M1102 968h4M1077 969h4M1098 1003h4M1062 960h4M1060 941h4M1101 996h4M1078 964h4M1094 929h4M1123 960h4M1058 986h4M1129 960h4M1088 1023h4M1102 1022h4M1084 965h4M1091 974h4M1093 1019h4M1121 975h4M1091 1010h4M1113 995h4M1082 926h4M1096 989h4M1067 972h4M1128 1036h4M1080 946h4M1107 995h4M1114 974h4M1089 990h4M1087 955h4M1134 996h4M1073 963h4M1091 934h4M1128 982h4M1086 957h4M1083 923h4M1054 1003h4M1091 968h4M1043 970h4M1085 980h4M1068 977h4M1106 1014h4M1054 986h4M1103 970h4M1074 982h4M1098 943h4M1068 955h4M1076 956h4M1076 993h4M1095 975h4M1081 985h4M1096 964h4M1137 936h4M1092 969h4M1117 943h4M1090 999h4M1130 968h4M1072 948h4M1102 972h4M1060 974h4M1076 1001h4M1070 960h4M1085 1016h4M1119 998h4M1076 965h4M1114 1010h4M1094 997h4M1036 953h4M1131 951h4M1069 1021h4M1051 981h4M1112 944h4M1062 975h4M1079 964h4M1087 981h4M1095 980h4M1115 956h4M1100 996h4M1098 927h4M1087 946h4M1120 1007h4M1110 911h4M1107 998h4M1071 951h4M1097 963h4M1062 988h4M1072 990h4M1108 981h4M1080 980h4M1073 988h4M1116 989h4M1101 962h4M1091 958h4M1120 944h4M1081 989h4M1081 987h4M1080 991h4M1070 962h4M1081 980h4M1047 964h4M1075 962h4M1055 918h4M1055 1000h4M1059 991h4M1072 935h4M1064 985h4M1069 949h4M1100 960h4M1079 1047h4M1116 962h4M1077 947h4M1066 950h4M1111 958h4M1106 942h4M1079 989h4M1114 988h4M1063 961h4M1082 1003h4M1054 961h4M1047 983h4M1099 987h4M1082 988h4M1053 962h4M1077 953h4M1099 945h4M1077 936h4M1121 979h4M1115 944h4M1071 948h4M1078 964h4M1105 996h4M1110 975h4M1063 980h4M1089 958h4M1100 965h4M1123 916h4M1086 918h4M1076 1006h4M1093 1002h4M1076 964h4M1115 963h4M1045 972h4M1075 975h4M1104 982h4M1092 974h4M1085 922h4M1081 954h4M1081 941h4M1091 992h4M1109 991h4M1099 982h4M1095 951h4M1101 973h4M1110 971h4M1068 977h4M1111 945h4M1079 995h4M1120 927h4M1079 965h4M1112 969h4M1093 946h4M1064 967h4M1052 937h4M1087 954h4M1121 972h4M1033 1006h4M1128 1005h4M1129 998h4M1112 960h4M1097 979h4M1099 962h4M1067 951h4M1091 982h4M1069 958h4M1086 946h4M1095 966h4M1114 960h4M1040 1018h4M1083 971h4M1114 1006h4M1105 986h4M1106 966h4M1046 925h4M1089 959h4M1084 992h4M1075 983h4M1090 967h4M1093 976h4M1070 986h4M1076 992h4M1076 957h4M1050 975h4M1094 1019h4M1057 1018h4M1051 958h4M1099 939h4M1086 984h4M1061 957h4M1087 970h4M1115 977h4M1085 957h4M1109 977h4M1099 955h4M1067 966h4M1077 962h4M1081 966h4M1088 978h4M1108 985h4M1136 994h4M1062 992h4M1077 974h4M1113 962h4M1098 968h4M1081 979h4M1059 975h4M1105 977h4M1081 932h4M1104 988h4M1085 982h4M1095 979h4M1085 991h4M1087 899h4M1084 927h4M1106 989h4M1113 975h4M1138 934h4M1072 983h4M1073 995h4M1088 1024h4M1087 940h4M1082 982h4M1100 964h4M1105 979h4M1099 961h4M1079 998h4M1102 996h4M1042 992h4M1104 980h4M1072 949h4M1085 930h4M1083 949h4M1067 986h4M1091 932h4M1085 957h4M1077 940h4M1079 963h4M1096 956h4M1073 973h4M1106 976h4M1098 951h4M1087 950h4M1107 965h4M1078 952h4M1091 974h4M1066 969h4M1112 968h4M1110 981h4M1108 999h4M1078 979h4M1114 980h4M1096 968h4M1083 946h4M1051 970h4M1071 986h4M1101 1007h4M1084 990h4M1072 1046h4M1085 971h4M1110 965h4M1089 911h4M1072 960h4M1085 959h4M1041 968h4M1103 938h4M1063 993h4M1035 979h4M1053 982h4M1110 931h4M1055 976h4M1094 951h4M1074 990h4M1105 992h4M1107 925h4M1108 949h4M1071 1003h4M1087 1009h4M1084 954h4M1072 1003h4M1064 972h4M1126 951h4M1088 949h4M1127 1011h4M1120 992h4M1095 960h4M1064 967h4M1107 996h4M1080 942h4M1083 988h4M1073 942h4M1065 979h4M1111 947h4M1092 995h4M1021 1007h4M1061 969h4M1060 967h4M1082 1005h4M1114 995h4M1079 993h4M1134 932h4M1065 982h4M1072 955h4M1096 956h4M1081 962h4M1054 957h4M1116 916h4M1094 979h4M1123 915h4M1092 963h4M1107 949h4M1061 968h4M1087 970h4M1117 934h4M1093 948h4M1071 987h4M1080 948h4M1117 980h4M1096 957h4M1088 967h4M1117 961h4M1068 968h4M1116 959h4M1079 959h4M1082 922h4M1086 1015h4M1123 936h4M1113 945h4M1096 933h4M1081 970h4M1098 987h4M1069 956h4M1118 910h4M1074 980h4M1100 973h4M1080 937h4M1153 926h4M1085 1001h4M1073 951h4M1090 978h4M1111 924h4M1095 941h4M1138 977h4M1122 949h4M1100 960h4M1069 968h4M1102 958h4M1065 1004h4M1092 1009h4M1083 990h4M1165 948h4M1053 950h4M1103 976h4M1105 960h4M1079 956h4M1094 984h4M1092 949h4M1088 976h4M1086 946h4M1058 997h4M1118 990h4M1090 945h4M1081 914h4M1114 1003h4M1094 961h4M1065 986h4M1105 941h4M1102 990h4M1095 925h4M1103 952h4M1071 955h4M1073 957h4M1096 981h4M1092 973h4M1121 964h4M1105 962h4M1054 973h4M1078 946h4M1076 987h4M1108 981h4M1044 989h4M1057 1033h4M1082 960h4M1070 975h4M1042 987h4M1085 993h4M1095 946h4M1077 961h4M1105 959h4M1105 933h4M1077 990h4M1077 984h4M1103 939h4M1086 966h4M1134 964h4M1121 1007h4M1083 971h4M1074 956h4M1075 973h4M1081 947h4M1081 947h4M1080 977h4M1078 987h4M1107 998h4M1073 978h4M1087 939h4M1096 979h4M1054 958h4M1112 1002h4M1096 988h4M1089 963h4M1091 980h4M1101 985h4M1090 962h4M1101 974h4M1077 960h4M1059 981h4M1094 980h4M1123 946h4M1091 936h4M1089 1007h4M1084 934h4M1106 970h4M1074 916h4M1116 932h4M1096 976h4M1053 975h4M1094 973h4M1062 971h4M1102 929h4M1055 996h4M1078 992h4M1117 959h4M1089 978h4M1058 991h4M1070 927h4M1117 1005h4M1088 976h4M1088 969h4M1087 972h4M1119 931h4M1096 956h4M1073 1021h4M1082 993h4M1110 994h4M1072 967h4M1087 980h4M1058 957h4M1097 985h4M1106 922h4M1092 937h4M1078 991h4M1088 971h4M1070 1024h4M1095 956h4M1137 979h4M1100 960h4M1102 989h4M1110 994h4M1067 971h4M1124 993h4M1108 944h4M1090 993h4M1088 985h4M1097 971h4M1112 949h4M1091 962h4M1100 989h4M1087 974h4M1122 956h4M1122 941h4M1104 947h4M1089 990h4M1129 927h4M1107 926h4" stroke="#000" stroke-width="4"/>
<path transform="scale(0.5)" d="M1145 934h4M1123 882h4M1110 941h4M1117 953h4M1160 854h4M1124 949h4M1144 874h4M1150 880h4M1174 902h4M1119 917h4M1180 934h4M1120 966h4M1126 911h4M1151 901h4M1123 887h4M1141 886h4M1105 886h4M1152 867h4M1143 906h4M1106 915h4M1109 893h4M1123 907h4M1114 928h4M1135 961h4M1113 955h4M1155 884h4M1121 958h4M1134 881h4M1145 890h4M1104 977h4M1175 875h4M1115 905h4M1151 904h4M1172 906h4M1114 927h4M1125 902h4M1141 886h4M1122 957h4M1111 933h4M1117 932h4M1135 919h4M1135 906h4M1169 853h4M1123 939h4M1111 841h4M1119 891h4M1151 864h4M1157 863h4M1108 900h4M1096 956h4M1141 857h4M1130 849h4M1114 927h4M1130 878h4M1116 868h4M1154 905h4M1194 857h4M1126 881h4M1115 848h4M1141 892h4M1107 927h4M1119 934h4M1186 869h4M1140 863h4M1163 923h4M1140 846h4M1135 911h4M1077 981h4M1124 920h4M1131 898h4M1142 885h4M1159 864h4M1143 907h4M1134 931h4M1146 952h4M1165 909h4M1136 870h4M1134 901h4M1132 849h4M1168 890h4M1161 843h4M1110 894h4M1157 872h4M1075 985h4M1125 886h4M1144 879h4M1126 899h4M1163 867h4M1154 917h4M1114 888h4M1101 903h4M1146 891h4M1105 882h4M1084 913h4M1137 920h4M1133 908h4M1109 898h4M1108 917h4M1143 893h4M1101 932h4M1141 888h4M1148 925h4M1130 930h4M1148 908h4M1145 919h4M1096 870h4M1133 928h4M1141 928h4M1101 891h4M1144 893h4M1151 877h4M1151 881h4M1152 925h4M1105 882h4M1129 968h4M1146 888h4M1126 932h4M1102 885h4M1116 918h4M1078 968h4M1136 913h4M1120 905h4M1135 911h4M1128 924h4M1140 886h4M1138 870h4M1108 885h4M1166 938h4M1081 932h4M1130 909h4M1150 868h4M1116 885h4M1168 863h4M1141 864h4M1123 880h4M1135 922h4M1122 884h4M1140 922h4M1130 877h4M1105 889h4M1130 893h4M1134 896h4M1153 861h4M1138 908h4M1113 898h4M1086 895h4M1130 891h4M1116 883h4M1117 918h4M1089 919h4M1108 904h4M1142 859h4M1141 904h4M1135 939h4M1152 918h4M1158 888h4M1112 903h4M1116 891h4M1129 897h4M1118 905h4M1171 891h4M1100 935h4M1172 925h4M1154 934h4M1123 914h4M1109 899h4M1135 879h4M1130 950h4M1136 881h4M1151 875h4M1156 940h4M1128 899h4M1155 853h4M1138 920h4M1145 948h4M1117 965h4M1118 938h4M1111 919h4M1150 894h4M1141 900h4M1126 913h4M1125 858h4M1126 864h4M1127 906h4M1124 936h4M1151 909h4M1151 895h4M1171 900h4M1125 892h4M1107 935h4M1132 898h4M1152 840h4M1159 905h4M1158 872h4M1108 941h4M1150 923h4M1142 852h4M1161 880h4M1133 901h4M1149 870h4M1125 929h4M1129 895h4M1125 911h4M1107 927h4M1105 905h4M1105 929h4M1126 871h4M1133 847h4M1124 929h4M1138 891h4M1133 887h4M1134 892h4M1091 925h4M1106 935h4M1129 881h4M1148 846h4M1103 924h4M1139 916h4M1131 912h4M1099 915h4M1106 984h4M1141 920h4M1126 874h4M1131 888h4M1112 931h4M1148 907h4M1105 920h4M1146 935h4M1123 903h4M1114 920h4M1103 910h4M1158 904h4M1119 902h4M1136 886h4M1137 867h4M1152 836h4M1138 859h4M1135 906h4M1154 930h4M1122 966h4M1124 937h4M1131 918h4M1124 882h4M1099 884h4M1147 923h4M1165 866h4M1145 906h4M1121 930h4M1117 918h4M1140 934h4M1123 859h4M1144 896h4M1135 879h4M1144 902h4M1132 931h4M1120 939h4M1152 864h4M1117 889h4M1163 891h4M1142 863h4M1133 873h4M1114 883h4M1097 940h4M1121 899h4M1143 862h4M1154 871h4M1155 893h4M1130 885h4M1104 925h4M1140 921h4M1114 853h4M1123 928h4M1132 942h4M1119 913h4M1108 932h4M1103 866h4M1152 841h4M1132 924h4M1114 943h4M1149 903h4M1117 917h4M1123 892h4M1162 847h4M1129 905h4M1149 876h4M1156 889h4M1111 862h4M1106 1009h4M1137 872h4M1130 912h4M1136 948h4M1140 946h4M1115 902h4M1138 917h4M1135 904h4M1120 907h4M1096 875h4M1115 855h4M1113 915h4M1139 927h4M1113 923h4M1174 823h4M1120 926h4M1141 898h4M1108 922h4M1145 863h4M1135 927h4M1159 903h4M1163 934h4M1162 920h4M1098 912h4M1143 917h4M1138 869h4M1159 910h4M1102 884h4M1138 863h4M1115 915h4M1114 890h4M1114 945h4M1099 957h4M1133 884h4M1142 898h4M1147 977h4M1117 915h4M1147 884h4M1103 926h4M1115 932h4M1110 888h4M1155 942h4M1122 949h4M1108 932h4M1112 945h4M1152 872h4M1123 931h4M1113 949h4M1123 878h4M1128 890h4M1124 904h4M1150 959h4M1133 856h4M1128 926h4M1138 872h4M1119 953h4M1128 901h4M1145 858h4M1144 887h4M1129 879h4M1144 846h4M1156 897h4M1123 890h4M1142 861h4M1135 894h4M1132 905h4M1131 908h4M1162 927h4M1133 857h4M1144 935h4M1119 859h4M1146 860h4M1119 928h4M1148 887h4M1167 814h4M1155 916h4M1142 878h4M1110 890h4M1116 882h4M1138 895h4M1125 919h4M1130 883h4M1102 917h4M1152 909h4M1125 898h4M1101 914h4M1134 862h4M1118 915h4M1124 919h4M1125 912h4M1157 905h4M1147 930h4M1114 912h4M1153 858h4M1116 908h4M1099 903h4M1129 860h4M1131 869h4M1125 890h4M1112 951h4M1134 921h4M1165 920h4M1092 970h4M1096 920h4M1105 938h4M1170 879h4M1131 865h4M1150 880h4M1163 893h4M1130 916h4M1174 853h4M1148 929h4M1150 877h4M1116 917h4M1098 914h4M1150 856h4M1104 900h4M1137 944h4M1129 924h4M1125 951h4M1131 876h4M1142 942h4M1152 878h4M1131 909h4M1121 871h4M1108 903h4M1113 910h4M1151 892h4M1164 949h4M1142 901h4M1132 935h4M1116 915h4M1136 927h4M1151 866h4M1134 869h4M1117 932h4M1117 939h4M1157 893h4M1121 899h4M1115 966h4M1132 928h4M1126 875h4M1168 882h4M1136 897h4M1114 906h4M1127 951h4M1136 915h4M1130 862h4M1124 873h4M1142 905h4M1117 887h4M1143 895h4M1082 966h4M1070 924h4M1089 890h4M1066 997h4M1153 854h4M1153 905h4M1137 938h4M1110 915h4M1141 891h4M1124 902h4M1126 868h4M1163 865h4M1122 891h4M1136 889h4M1110 884h4M1174 908h4M1114 898h4M1183 866h4M1132 894h4M1163 922h4M1107 848h4M1157 852h4M1132 907h4M1138 886h4M1128 887h4M1122 910h4M1104 888h4M1115 869h4M1141 870h4M1111 886h4M1140 904h4M1077 904h4M1139 841h4M1135 879h4M1140 865h4M1138 891h4M1138 966h4M1134 951h4M1136 879h4M1119 913h4M1167 916h4M1132 879h4M1109 902h4M1141 857h4M1121 904h4M1131 895h4M1126 918h4M1144 868h4M1128 888h4M1134 900h4M1151 909h4M1117 929h4M1137 880h4M1155 924h4M1140 940h4M1135 916h4M1104 894h4M1109 890h4M1123 931h4M1125 932h4M1122 899h4M1146 881h4M1090 922h4M1154 933h4M1136 891h4M1128 893h4M1108 924h4M1109 930h4M1129 903h4M1122 869h4M1158 901h4M1167 917h4M1147 855h4M1170 869h4M1133 879h4M1131 886h4M1135 935h4M1082 874h4M1131 914h4M1141 911h4M1119 901h4M1130 943h4M1184 897h4M1119 946h4M1139 904h4M1143 857h4M1151 919h4M1125 861h4M1145 903h4M1147 909h4M1153 911h4M1087 916h4M1142 889h4M1121 941h4M1135 920h4M1141 925h4M1161 883h4M1126 907h4M1128 907h4M1154 890h4M1127 926h4M1138 868h4M1128 906h4M1110 933h4M1128 948h4M1126 862h4M1142 900h4M1137 873h4M1132 937h4M1128 906h4M1129 929h4M1152 898h4M1152 845h4M1137 908h4M1119 901h4M1152 865h4M1103 887h4M1164 895h4M1139 895h4M1138 918h4M1110 914h4M1112 916h4M1118 874h4M1162 904h4M1120 954h4M1135 869h4M1139 912h4M1134 871h4M1142 902h4M1117 949h4M1134 910h4M1140 912h4M1109 902h4M1166 878h4M1150 862h4M1136 902h4M1130 908h4M1135 939h4M1108 920h4M1099 873h4M1100 948h4M1128 937h4M1129 886h4M1143 862h4M1107 911h4M1128 830h4M1102 971h4M1152 944h4M1163 879h4M1121 861h4M1138 866h4M1166 911h4M1135 942h4M1155 883h4M1163 832h4M1138 902h4M1106 905h4M1142 927h4M1123 941h4M1118 942h4M1136 909h4M1147 875h4M1143 929h4M1145 903h4M1140 907h4M1101 944h4M1105 931h4M1128 929h4M1118 920h4M1152 921h4M1122 882h4M1141 889h4M1122 919h4M1124 923h4M1119 936h4M1153 851h4M1117 952h4M1119 909h4M1140 920h4M1104 886h4M1155 929h4M1106 864h4M1157 907h4M1146 916h4M1180 865h4M1153 870h4M1156 867h4M1119 944h4M1117 907h4M1137 897h4M1125 890h4M1140 889h4M1107 960h4M1160 907h4M1118 956h4M1111 907h4M1195 883h4M1146 922h4M1145 912h4M1129 887h4M1108 890h4M1122 876h4M1145 922h4M1106 961h4M1153 898h4M1114 897h4M1116 873h4M1124 895h4M1106 930h4M1115 920h4M1127 889h4M1130 916h4M1127 934h4M1109 963h4M1113 948h4M1123 873h4M1139 885h4M1114 865h4M1142 910h4M1117 972h4M1110 888h4M1142 928h4M1134 889h4M1147 878h4M1137 899h4M1098 860h4M1138 891h4M1159 853h4M1112 925h4M1135 906h4M1101 891h4M1110 898h4M1131 876h4M1106 903h4M1110 907h4M1127 915h4M1126 871h4M1143 948h4M1117 952h4M1135 925h4M1120 915h4M1144 872h4M1111 934h4M1149 911h4M1109 946h4M1153 919h4M1118 909h4M1133 893h4M1128 853h4M1164 842h4M1166 887h4M1088 961h4M1154 913h4M1123 905h4M1114 906h4M1139 934h4M1077 918h4M1140 936h4M1118 914h4M1123 881h4M1127 880h4M1115 879h4M1136 848h4M1112 857h4M1139 860h4M1111 940h4M1121 871h4M1118 856h4M1116 868h4M1136 888h4M1161 935h4M1086 931h4M1135 876h4M1141 865h4M1170 874h4M1135 894h4M1124 910h4M1160 907h4M1125 964h4M1121 893h4M1142 895h4M1143 894h4M1134 932h4M1148 947h4M1137 855h4M1132 888h4M1143 831h4M1115 907h4M1117 942h4M1146 885h4M1134 949h4M1145 890h4M1111 897h4M1115 941h4M1149 850h4M1168 859h4M1128 898h4M1125 913h4M1126 887h4M1157 877h4M1141 926h4M1131 890h4M1122 920h4M1136 844h4M1159 850h4M1142 923h4M1108 936h4M1142 890h4M1159 958h4M1137 892h4M1134 896h4M1111 908h4M1109 955h4M1125 892h4M1098 919h4M1116 911h4M1156 889h4M1121 915h4M1130 899h4M1108 938h4M1125 897h4M1102 944h4M1124 906h4M1124 930h4M1162 908h4M1142 932h4M1092 934h4M1129 876h4M1118 877h4M1111 866h4M1184 857h4M1158 861h4M1144 914h4M1125 880h4M1115 944h4M1129 883h4M1106 934h4M1166 922h4M1137 905h4M1122 956h4M1131 898h4M1115 906h4M1122 887h4M1133 899h4M1166 875h4M1105 974h4M1134 883h4M1192 886h4M1116 902h4M1131 856h4M1136 920h4M1107 894h4M1116 921h4M1166 836h4M1130 858h4M1146 869h4M1155 876h4M1152 899h4M1156 907h4M1128 884h4M1152 914h4" stroke="#000" stroke-width="4"/>
<polyline transform="scale(0.5)" points="944,969 932,966 937,962 928,977 913,971 929,952 923,986 938,959 928,1002 963,995 922,1009 950,988 938,999 927,952 943,976 922,958 957,985 928,945 931,944 924,974 929,973 911,988 932,980 933,903 947,1011 927,977 950,965 932,979 935,956 943,963 908,961 924,991 957,982 948,938 924,980 938,946 915,976 944,985 938,969 943,984 918,954 938,956 932,990 922,949 928,995 930,979 947,981 922,972 927,950 932,979 937,947 943,965 915,971 943,989 951,996 927,965 931,943 923,952 927,996 918,941 953,938 928,959 949,969 951,991 925,984 908,992 892,960 933,973 892,963 919,985 913,964 944,965 922,1005 933,973 959,956 931,987 929,991 933,970 915,978 921,1021 943,979 931,955 936,993 922,976 939,944 933,967 910,963 925,956 928,981 962,969 923,987 921,990 933,938 935,982 943,981 935,993 919,972 923,1002 944,980 935,964 932,999 924,974 930,974 936,967 928,995 918,979 933,988 950,938 909,978 948,978 910,987 961,984 933,969 926,972 932,974 940,982 942,971 950,974 937,993 945,983 937,980 940,994 948,994 928,939 946,972 918,1001 925,968 908,978 933,991 935,980 943,962 929,995 937,957 925,997 937,998 951,960 935,969 937,987 936,969 907,949 934,979 934,984 931,992 936,961 916,974 939,965 928,1000 932,961 956,984 939,945 932,999 946,959 938,954 934,979 934,992 948,990 939,990 912,969 936,984 935,975 930,1001 915,983 943,986 932,971 909,980 940,986 926,958 909,978 948,962 934,972 931,1000 938,987 924,971 925,964 953,988 936,971 932,973 935,989 942,1010 942,966 949,976 948,991 941,973 905,952 946,953 927,976 924,999 947,988 920,981 933,979 944,999 929,970 945,997 937,973 951,970 916,991 922,973 941,958 933,948 922,971 924,957 939,998 928,977 918,972 939,956 927,984 937,987 909,982 926,994 941,999 928,986 912,988 923,982 946,956 935,965 911,961 938,993 945,957 945,972 954,976 922,1010 928,945 930,982 942,984 926,991 926,974 920,959 929,957 920,987 911,948 937,1003 931,997 921,983 928,966 954,985 950,974 948,950 940,926 940,980 932,960 951,973 924,988 944,944 936,951 940,966 940,1001 926,951 914,981 952,991 934,957" fill="none" stroke="none" marker-start="url(#gc)" marker-mid="url(#gc)" marker-end="url(#gc)"/>
<path transform="scale(0.5)" d="M987 987h4M1003 987h4M978 1000h4M1001 990h4M945 986h4M982 1007h4M968 977h4M997 998h4M991 981h4M984 998h4M975 997h4M960 996h4M973 997h4M1004 1003h4M984 1009h4M940 981h4M999 1000h4M977 990h4M1011 1023h4M980 1001h4M973 1018h4M996 1005h4M971 1023h4M974 974h4M1004 992h4M995 1009h4M955 967h4M964 1006h4M957 981h4M1014 1023h4M982 974h4M1009 1008h4M985 982h4M1000 1028h4M966 1005h4M1015 1032h4M982 1020h4M998 1002h4M984 986h4M970 974h4M977 1015h4M946 995h4M959 1028h4M950 1000h4M982 1000h4M957 996h4M992 1019h4M966 981h4M946 994h4M985 996h4M990 1011h4M950 994h4M961 954h4M966 991h4M980 1027h4M961 985h4M955 1021h4M952 981h4M984 981h4M1006 1005h4M921 966h4M932 1012h4M992 972h4M962 1018h4M990 969h4M976 1007h4M957 1000h4M956 992h4M979 1008h4M993 1001h4M966 990h4M981 985h4M977 1011h4M986 1000h4M976 988h4M999 1013h4M943 1012h4M960 980h4M986 1027h4M975 981h4M947 989h4M974 1013h4M974 984h4M980 961h4M995 1000h4M980 1016h4M987 992h4M963 997h4M985 980h4M970 1021h4M976 990h4M962 1002h4M962 1018h4M980 982h4M959 1012h4M969 981h4M964 976h4M989 1021h4M974 986h4M946 974h4M980 1008h4M1013 998h4M991 1017h4M956 1015h4M972 1013h4M954 972h4M993 993h4M989 1022h4M969 1004h4M969 1016h4M989 1010h4M994 1011h4M950 997h4M953 1000h4M982 962h4M949 1032h4M989 980h4M979 996h4M987 1026h4M945 998h4M957 955h4M969 1003h4M957 979h4M943 976h4M997 998h4M1010 1023h4M975 1010h4M962 970h4M965 989h4M996 1006h4M967 1019h4M983 1009h4M984 991h4M951 1002h4M978 1012h4M968 957h4M959 1005h4M978 978h4M983 994h4M959 945h4M973 1006h4M969 997h4M985 1003h4M944 994h4M976 974h4M968 991h4M932 1028h4M985 1017h4M995 983h4M957 997h4M964 1007h4M991 994h4M990 999h4M1015 977h4M1004 995h4M965 997h4M983 969h4M964 1000h4M953 1026h4M1006 1004h4M986 996h4M959 1015h4M992 977h4M986 996h4M955 1021h4M975 1011h4M1003 1001h4M919 987h4M986 1006h4M917 1002h4M981 1007h4M1018 1018h4M985 1037h4M1007 1002h4M926 991h4M979 1003h4M974 981h4M994 1016h4M960 1002h4M966 976h4M998 1008h4M966 986h4M979 997h4M978 1003h4M961 1002h4M964 993h4M968 977h4M922 987h4M979 1005h4M968 998h4M954 1010h4M982 978h4M964 1007h4M976 982h4M951 1014h4M960 998h4M985 981h4M996 962h4M968 983h4M965 971h4M955 986h4M981 1022h4M981 993h4M958 1035h4M932 1013h4M973 1005h4M976 998h4M953 958h4M961 981h4M1006 979h4M980 988h4M972 1005h4M986 1012h4M968 1015h4M1019 999h4M960 1007h4M1004 971h4M1003 998h4M954 979h4M1002 970h4M987 988h4M956 1007h4M997 1004h4M961 987h4M952 991h4M967 994h4M966 998h4M967 1000h4M979 1008h4M951 973h4M984 972h4M963 1009h4M974 976h4M968 991h4M974 978h4M981 1030h4M992 961h4M957 993h4M997 1008h4M957 994h4M968 988h4M972 975h4M962 1022h4M951 996h4M959 1012h4M979 990h4M953 1011h4M989 963h4M942 995h4M988 1033h4M987 975h4M1013 995h4M976 995h4M963 1002h4M955 1026h4M958 1016h4M979 1016h4M988 1012h4M974 1046h4M993 1015h4M950 1002h4M943 991h4M971 993h4M960 984h4M986 1010h4M941 969h4M960 1003h4M986 1042h4M977 996h4M972 987h4M963 1007h4M979 971h4M980 1006h4M927 1014h4M988 1013h4M941 1045h4M976 977h4M980 994h4M965 972h4M987 970h4M1006 1014h4M944 1002h4M953 999h4M960 1036h4M1010 1022h4M965 976h4M979 987h4M914 1011h4M941 986h4M966 995h4M946 1022h4M962 1007h4M961 1002h4M969 1002h4M1016 1001h4M971 988h4M995 987h4M970 1015h4M978 1014h4M952 1003h4M1017 974h4M994 986h4M986 1031h4M1003 973h4M959 986h4M1004 1000h4M973 987h4M979 997h4M974 961h4M966 980h4M957 1023h4M997 990h4M976 1009h4M999 993h4M950 1001h4M961 973h4M941 982h4M957 1020h4M943 982h4M991 948h4M985 1012h4M995 986h4M969 1026h4M979 986h4M974 989h4M1003 995h4M979 1008h4M928 995h4M948 1019h4M1005 990h4M958 986h4M1009 992h4M996 1005h4M955 1019h4M994 986h4M987 1005h4M978 982h4M1004 950h4M957 996h4M1008 979h4M966 997h4M960 997h4M978 1017h4M978 1002h4M986 979h4M996 991h4M972 1001h4M978 988h4M961 1016h4M988 953h4M969 996h4M981 1003h4M1007 998h4M997 984h4M950 1009h4M955 999h4M932 966h4M1011 987h4M962 988h4M968 999h4M998 987h4M999 1015h4M961 975h4M977 997h4M991 1010h4M974 985h4M981 988h4M970 1003h4M968 997h4M969 988h4M976 1006h4M951 991h4M1008 1023h4M974 1007h4M986 980h4M954 1034h4M977 1022h4M976 1029h4M1007 988h4M1033 1011h4M945 1008h4M963 1002h4M988 985h4M995 971h4M997 1023h4M981 1010h4M986 1029h4M958 993h4M1001 1020h4M946 987h4M986 992h4M936 967h4M973 993h4M964 991h4M995 994h4M1011 982h4M987 1003h4M961 1006h4M982 990h4M963 977h4M1003 1002h4M983 1014h4M963 971h4M957 991h4M984 1025h4M1008 1008h4M984 974h4M982 999h4M954 1000h4M923 1009h4M970 1035h4M987 1005h4M996 994h4M965 972h4M945 999h4M1016 1023h4M995 990h4M960 996h4M969 1005h4M956 1012h4M1016 998h4M976 996h4M980 1011h4M977 999h4M982 998h4M972 984h4M955 957h4M985 971h4M963 984h4M962 986h4M959 1018h4M978 1000h4M990 991h4M977 979h4M959 1012h4M962 998h4M971 1003h4M994 997h4M968 1000h4M950 973h4M990 1008h4M933 984h4M993 1011h4M977 989h4M998 1008h4M987 1008h4M988 990h4M954 991h4M948 1003h4M980 979h4M987 1003h4M971 1022h4M988 975h4M988 1021h4M963 992h4M977 1001h4M981 975h4M978 1007h4M992 1002h4M986 993h4M965 1002h4M979 978h4M987 1002h4M935 962h4M980 989h4M1000 998h4M987 1026h4M970 989h4M1016 993h4M967 979h4M975 1001h4M959 984h4M949 1028h4M983 1016h4M980 1008h4M984 989h4M984 1003h4M964 1013h4M982 999h4M990 983h4M994 1004h4M959 1019h4M994 976h4M988 1005h4M988 1001h4M1009 1021h4M939 991h4M984 977h4M973 1010h4M974 961h4M968 999h4M965 1015h4M1000 979h4M948 990h4M991 1005h4M986 995h4M950 992h4M985 1012h4M972 995h4M971 1016h4M973 996h4M952 1032h4M984 994h4M953 959h4M961 1004h4M995 1008h4M983 999h4M982 984h4M1007 997h4M945 963h4M965 1001h4M965 1007h4M963 983h4M969 1006h4M1000 999h4M981 984h4M990 979h4M989 983h4M956 970h4M977 1009h4M948 1001h4M980 996h4M986 1005h4M962 980h4M949 993h4M981 1010h4M982 1004h4M971 997h4M980 983h4M987 996h4M955 1014h4M951 986h4M957 1023h4M976 999h4M957 1029h4M974 966h4M965 997h4M977 984h4M980 1003h4M978 997h4M950 1034h4M960 1031h4M983 1009h4M986 1006h4M981 959h4M972 985h4M988 991h4M970 984h4M983 997h4M961 1000h4M1004 983h4M978 971h4M998 1017h4M962 998h4M955 997h4M992 1027h4M959 994h4M950 1003h4M994 1021h4M978 1016h4M974 995h4M996 981h4M936 986h4M954 1001h4M971 1007h4M947 1012h4M973 1016h4M988 984h4M951 997h4M1003 1010h4M974 993h4M971 1028h4M946 966h4M981 990h4M940 995h4M956 1005h4M955 983h4M961 991h4M977 1013h4M969 982h4M997 1039h4M1015 1016h4M971 1000h4M996 1006h4M983 990h4M962 1006h4M963 948h4M980 1006h4M1010 1005h4M927 1009h4M993 968h4M976 991h4M949 1014h4M1006 1018h4M989 1008h4M947 990h4M963 976h4M944 997h4M983 1013h4M952 993h4M965 1003h4M949 997h4M987 986h4M968 997h4M956 1000h4M970 1027h4M964 972h4M972 999h4M1021 998h4M974 989h4M994 998h4M993 991h4M1010 996h4M1002 1001h4M954 985h4M979 937h4M986 1002h4M992 952h4M970 1003h4M950 971h4M948 1007h4M980 1016h4M995 1010h4M951 1017h4M1013 956h4M998 1001h4M995 993h4M979 999h4M938 994h4M941 974h4M962 991h4M985 980h4M993 1025h4M1006 980h4M983 981h4M939 1020h4M975 996h4M964 993h4M1011 1011h4M1004 993h4M973 991h4M975 999h4M971 981h4M979 988h4M947 1000h4M955 1015h4M996 986h4M969 1013h4M979 972h4M971 1011h4M976 967h4M979 1013h4M941 996h4M981 982h4M1005 966h4M977 1019h4M916 972h4M993 973h4M945 1009h4M981 1002h4M1015 1006h4M1011 1008h4M1000 1007h4M981 998h4M1009 998h4M977 974h4M939 1000h4M983 985h4M956 993h4M991 980h4M998 1005h4M987 982h4M964 969h4M980 1037h4M975 1014h4M998 962h4M927 1011h4M927 1000h4M1004 1005h4M988 997h4M969 1009h4M984 996h4M999 1000h4M1008 1017h4M988 986h4M960 982h4M1008 1023h4M970 1026h4M1003 992h4M960 1005h4M1005 969h4M975 984h4M977 1038h4M982 988h4M969 978h4M982 978h4M987 996h4M985 1010h4M994 977h4M970 998h4M964 988h4M971 959h4M959 996h4M984 992h4M987 1034h4M989 1000h4M959 1013h4M945 993h4M982 986h4M965 993h4M981 1012h4M983 984h4M973 1003h4M982 995h4M968 1007h4M1004 985h4M980 998h4M943 1002h4M964 1018h4M982 989h4M1003 1018h4M1011 985h4M962 987h4M977 964h4M953 980h4M990 998h4M982 1015h4M974 1011h4M986 999h4M942 997h4M974 999h4M951 979h4M950 993h4M962 999h4M979 983h4M972 977h4M995 1019h4M987 976h4M949 1006h4M944 1012h4M988 1017h4M984 1010h4M993 994h4M991 1017h4M968 979h4M993 973h4M971 993h4M973 983h4M998 1005h4M985 999h4M980 985h4M974 1006h4M957 1024h4M997 1032h4M1041 1017h4M969 969h4M954 1007h4M966 993h4M1031 1021h4M965 1016h4M962 993h4M970 1004h4M967 978h4M989 1000h4M976 998h4M995 1000h4M973 1000h4M948 1003h4M990 956h4M989 990h4M997 980h4M950 986h4M960 1029h4M998 990h4M1022 1000h4M976 977h4M1006 1009h4M1005 997h4M993 956h4M994 976h4M980 1014h4M1002 984h4M976 1010h4M989 1006h4M947 997h4M1014 1009h4M984 1003h4M943 1026h4M1016 1005h4M989 1011h4M964 1004h4M948 1014h4M933 993h4M934 1014h4M996 999h4M988 1003h4M1009 1005h4M981 1001h4M1000 996h4M927 969h4M947 1010h4M993 1016h4M977 960h4M980 978h4M974 996h4M996 1043h4M971 1018h4M957 975h4M986 994h4M993 1024h4M1000 990h4M973 1004h4M961 999h4M941 962h4M974 1015h4M977 1025h4M979 981h4M1001 995h4M998 1004h4M975 987h4M968 993h4M950 1003h4M947 999h4M988 1014h4M970 980h4M979 986h4M996 999h4M948 991h4M943 980h4M970 993h4M972 988h4M945 1009h4M972 991h4M951 991h4M951 1007h4M964 995h4M972 1008h4M1011 1001h4M939 1019h4M954 1023h4M950 1001h4M971 997h4M973 1010h4M990 988h4M968 1003h4M978 975h4M986 1007h4M971 1006h4M995 967h4M999 995h4M982 994h4M950 1010h4M957 988h4M1015 983h4M954 1006h4M954 1016h4M949 1020h4M987 1004h4M973 991h4M989 1025h4M969 1005h4M964 1019h4M963 979h4M958 1006h4M961 998h4M957 992h4M974 1002h4M970 985h4M942 1010h4M943 993h4M992 966h4M982 993h4M995 1004h4M979 1004h4M992 1012h4M956 1020h4M992 993h4M958 1018h4M968 997h4M966 1007h4M961 1000h4M962 1003h4M969 1007h4M999 988h4M988 998h4M1025 985h4M936 977h4M951 1013h4M965 1027h4M974 991h4M962 1003h4M997 959h4M940 992h4M967 1009h4M990 994h4M968 972h4M958 995h4M981 1001h4M996 990h4M992 989h4M999 968h4M1011 1001h4M971 1013h4M936 1011h4M982 998h4M1023 997h4M991 1000h4M961 1017h4M984 982h4M973 1007h4M1008 993h4M950 987h4M973 987h4M993 997h4M975 977h4M989 997h4M961 1000h4M979 973h4M995 1004h4M969 994h4M962 1008h4M998 977h4M979 979h4M956 1003h4M969 966h4M979 956h4M953 988h4M971 996h4M987 985h4M965 997h4M971 985h4M977 981h4M987 1017h4M1004 989h4M956 978h4M928 976h4M960 1019h4M984 1006h4M948 983h4M970 991h4M956 1027h4M1003 1005h4M940 994h4M942 987h4M933 994h4M972 1009h4M970 984h4M976 974h4M983 1012h4M948 1007h4M985 971h4M968 1008h4M949 1001h4M970 972h4M998 1007h4M957 1025h4M957 992h4M935 1017h4M965 1027h4M966 982h4M977 974h4M954 993h4M1016 984h4M969 981h4M975 1007h4M982 1035h4M939 980h4M985 972h4M994 993h4M939 1004h4M945 989h4M944 1012h4M975 987h4M998 1006h4M981 1008h4M975 1048h4M945 1003h4M981 1010h4M1020 996h4M970 1002h4M971 995h4M954 991h4M958 994h4M986 968h4M968 994h4M961 963h4M1001 1004h4M998 999h4M924 992h4M971 1000h4M984 1008h4M976 992h4M965 1013h4M1007 985h4M981 976h4M980 1011h4M1013 1015h4M965 1005h4M995 990h4M954 1009h4M967 997h4M962 991h4M977 983h4M1011 993h4M971 1004h4M982 975h4M968 1007h4M958 981h4M949 997h4M1008 990h4M951 1004h4M977 1023h4M964 993h4M965 965h4M944 968h4M937 1002h4M964 978h4M995 982h4M977 1028h4M967 1023h4M938 1005h4M964 1001h4M994 1008h4M983 995h4M968 1001h4M1015 988h4M1027 1011h4M972 995h4M975 987h4M977 972h4M930 1010h4M979 1000h4M971 988h4M935 1015h4M954 1006h4M949 999h4M949 981h4M999 993h4M977 1004h4M991 1001h4M965 991h4M965 1005h4M938 998h4M1002 985h4M972 989h4M938 1024h4M986 990h4M990 966h4M982 1020h4M987 988h4M973 1004h4M929 1001h4M933 971h4M966 1022h4M959 1006h4M991 1015h4M967 990h4M981 1006h4M964 1013h4M960 1027h4M984 988h4M993 975h4M975 1010h4M976 989h4M983 986h4M968 987h4M962 1021h4M972 994h4M952 1003h4M953 983h4M990 983h4M978 988h4M996 978h4M1012 992h4M939 1006h4M971 1005h4M980 999h4M962 977h4M955 1016h4M967 1003h4M1007 1011h4M1001 992h4M960 980h4M1013 1011h4M987 1008h4M958 986h4M990 1007h4M949 975h4M979 1006h4M988 989h4M966 974h4M991 1003h4M966 965h4M971 984h4M985 1007h4M949 995h4M965 1025h4M1013 997h4M1005 1005h4M972 1008h4M986 1001h4M976 1008h4M976 992h4M956 1013h4M976 999h4M1001 1006h4M953 998h4M990 1001h4M967 1004h4M982 1010h4M968 1025h4M966 1022h4M1004 977h4M957 991h4M973 1002h4M951 1020h4M990 992h4M993 990h4M962 1035h4M972 1012h4M944 1010h4M981 1038h4M998 1016h4M948 988h4M981 1050h4M957 979h4M961 998h4M999 997h4M977 997h4M1000 984h4M966 994h4M978 1001h4M984 1003h4M943 998h4M986 999h4M937 977h4M984 992h4M945 1013h4M975 993h4M960 991h4M975 1015h4M976 995h4M969 989h4M983 980h4M1000 1000h4M951 1006h4M959 990h4M1021 989h4M975 1008h4M947 983h4M1015 1012h4M973 1014h4M1008 1001h4M981 972h4M963 994h4M986 1011h4M973 1004h4M954 980h4M984 969h4M984 965h4M947 986h4M1013 1011h4M972 1020h4M987 999h4M983 997h4M965 995h4M969 1000h4M965 984h4M996 975h4M971 1020h4M972 999h4M995 990h4M1002 1028h4M988 1009h4M966 990h4M962 1019h4M998 1034h4M950 976h4M949 986h4M997 998h4M945 1020h4M950 986h4M985 1016h4M921 1022h4M992 1013h4M980 1000h4M935 998h4M965 1007h4M952 990h4M1006 988h4M992 987h4M983 982h4M955 1005h4M953 989h4M999 1002h4M961 968h4M947 1004h4M972 989h4M961 999h4M991 1040h4" stroke="#000" stroke-width="4"/>
<polyline transform="scale(0.5)" points="1073,1016 1071,1012 1092,1017 1071,995 1068,1022 1085,1040 1060,1028 1093,1029 1070,1058 1078,1014 1073,1018 1067,1004 1109,1010 1087,994 1073,1007 1041,1035 1069,1051 1097,1015 1073,1043 1050,1036 1085,1039 1070,1010 1051,1007 1084,1019 1054,1006 1081,1014 1055,1030 1122,1040 1078,1040 1054,1039 1060,1013 1056,1007 1075,1012 1064,1025 1045,1023 1071,1003 1008,1001 1091,994 1097,1008 1038,993 1091,1019 1060,1042 1084,1033 1104,1023 1095,1049 1097,1010 1086,1017 1056,1026 1092,1057 1085,1015 1103,1005 1086,1024 1058,1033 1079,997 1052,1001 1110,1029 1061,1005 1057,1019 1071,1011 1059,1010 1071,1026 1084,1029 1067,1013 1079,1026 1070,1027 1123,1026 1090,1037 1096,1029 1076,1037 1084,1002 1039,1059 1078,1030 1137,1041 980,1008 1103,990 1060,1010 1058,1034 1073,1011 1091,1032 1090,980 1098,1005 1092,1017 1096,1014 1071,1032 1102,1041 1067,1025 1032,995 1103,1021 1065,1019 1031,1027 1053,1040 1109,1001 1086,1046 1075,1022 1118,1028 1074,1016 1041,1008 1071,1017 1044,1021 1118,1049 1059,1019 1048,994 1064,1046 1047,990 1066,985 1064,1025 1071,1012 1094,1015 1091,1031 1080,1033 1069,1009 1082,1003 1072,990 1063,1053 1131,1019 1107,1006 1067,1042 1076,1045 1085,1018 1065,992 1057,1000 1061,1024 1094,1018 1084,1041 1078,1015 1070,1023 1111,1026 1070,1052 1013,1045 1082,1019 1096,1021 1034,1037 1067,1034 1100,1006 1151,1052 1084,1029 1058,1042 1077,1003 1108,971 1050,1024 1067,1010 1067,1017 1070,1017 1078,1032 1024,1026 1072,1042 1110,1027 1075,1029 1079,1029 1100,1018 1050,1041 1067,1042 1059,1013 1108,989 1043,1032 1078,989 1057,1023 1055,1027 1077,1017 1076,1023 1096,1020 1065,1020 1048,988 1083,1006 1067,1011 1052,1011 1108,987 1056,1031 1068,1043 1039,1002 1099,1007 1081,1034 1060,1003 1029,991 1083,1040 1064,1030 1070,1019 1088,1035 1126,1040 1040,1040 1072,1012 1080,1045 1087,1022 1094,1003 1086,1023 1063,1026 1035,998 1069,1002 1057,1055 1092,1017 1066,1000 1111,1036 1069,1060 1039,1033 1075,1022 1041,1033 1072,1018 1102,1009 1080,1015 1097,999 1092,1033 1099,995 1123,1014 1082,1017 1062,994 1074,1038 1068,974 1086,1030 1066,1020 1096,1017 1086,1041 1124,1010 1086,1018 1084,1009 1095,1010 1064,1028 1089,1016 1061,1028 1056,1019 1068,1015 1098,1031 1092,1044 1069,1019 1088,1012 1069,1013 1078,1029 1091,1030 1092,1030 1087,987 1058,1016 1107,990 1076,1038 1088,1047 1076,1045 1034,1028 1052,1024 1098,1015 1061,1048 1078,1012 1027,986 1097,1021 1064,1010 1063,1013 1062,1022 1109,1009 1096,1001 1085,1012 1047,1020 1069,1057 1090,1010 1095,1004 1081,1030 1085,997 1033,1028 1119,1034 1087,1027 1068,1036 1037,1022 1036,999 1079,1039 1065,1026 1093,1045 1107,1016 1063,1018 1071,1010 1082,1010 1081,1043 1082,1014 1058,1014 1090,1021 1072,1011 997,983 1057,983 1069,1045 1052,996 1061,1011 1085,1014 1087,1033 1116,993 1063,985 1066,1011 1100,1010 1086,1007 1023,1007 1070,1032 1075,1051 1087,1034 1112,1041 1055,1036 1017,1041 1046,1016 1057,1006 1049,1019 1066,1015 1096,1029 1093,1012 1062,1036 1069,1039 1002,1034 1082,1023 1111,980 1081,999 1028,1021 1060,1037 1048,1008 1087,992 1055,1019 1079,1023 1046,1020 1081,1017 1056,1019 1078,1021 1100,1020 1071,996 1094,1036 1086,1008 1037,988 1072,1036 1086,1010 1052,1013 1122,1014 1112,1030 1050,1020 1055,1009 1054,1021 1127,1001 1067,995 1081,1026 1055,1025 1070,1022 1087,999 1048,1029 1077,1013 1124,1034 1031,1026 1056,990 1086,1022 1103,998 1062,1023 1046,1012 1089,1000 1111,960 1080,1020 1118,1035 1035,1038 1057,1027 1043,1036 1070,1021 1097,1014 1093,1008 1044,1030 1080,1020 1049,1036 1087,1032 1092,1038 1078,1020 1040,1024 1064,1005 1046,1022 1092,1050 1090,1045 1057,1025 1035,1013 1094,1042 1104,1046 1093,1019 1121,994 1111,1012 1041,1027 1080,1037 1044,1019 1099,1010 1046,1006 1104,1026 1079,1049 1118,1023 1096,1029 1053,1028 1040,1022 1065,1000 1102,1048 1073,1013 1094,1000 1116,1030 1107,1020 1040,1004 1045,1012 1082,990 1108,1015 1085,998 1058,1019 1046,1013 1067,1020 1061,982 1042,999 1069,1005 1064,1039 1076,1023 1052,1053 1087,1040 1068,1052 1069,1010 1054,1015 1052,1028 1068,1003 1092,1025 1069,1007 1075,1035 1111,1021 1046,1041 1083,1007 1105,1036 1034,1025 1065,1019 1050,1034 1033,1027 1068,1038 1041,1022 1095,1036 1086,1008 1069,1035 1067,1012 1076,1006 1049,1030 1106,1042 1077,1030 1065,1045 1080,1033 1071,1005 1089,1003 1056,1018 1037,1014 1065,990 1043,1006 1087,1006 1084,1028 1028,1045 1139,1014 1098,1032 1031,1006 1063,1031 1027,1035 1070,1012 1074,1029 1072,1008 1088,998 1025,1022 1042,1019 1066,1002 1091,1055 1087,1006 1068,993 1096,998 1095,1026 1070,1027 1095,1056 1112,1045 1066,993 1058,1023 1072,1043 1076,1019 1068,1026 1081,984 1125,1017 1092,1010 1102,984 1073,1014 1055,1013 1077,1029 1055,998 1063,1040 1037,1045 1074,992 1084,1022 1106,1024 1088,1011 1095,976 1079,1011 1035,1037 1067,1021 1093,1034 1094,1012 1067,996 1058,1009 1082,1034 1072,998 1068,1034 1079,1013 1085,997 1089,1009 1055,1034 1084,1000 1062,1025 1102,1032 1061,1010 1111,1018 1043,1021 1077,1013 1046,994 1108,1003 1110,1024 1093,1009 1100,987 1092,1016 1059,1035 1031,989 1091,1026 1083,991 1087,1007 1053,1047 1079,1010 1111,1012 1054,1031 1123,1011 1063,1026 1081,1036 1084,1019 1094,1018 1075,984 1068,1026 1057,994 1077,1031 1045,1008 1056,1011 1080,1005 1075,1047 1073,1024 1065,1002 1060,1026 1040,1040 1087,1040 1101,1022 1106,1018 1046,1052 1090,1006 1073,1036 1127,1001 1032,1049 1090,1041 1114,1027 1052,1007 1054,1008 1069,1009 1047,990 1024,1044 1099,1024 1084,1001 1060,1007 1077,1015 1105,1033 1079,1024 1025,1040 1046,1021 1050,1049 1077,1038 1054,1020 1087,1006 1063,1038 1066,1022 1067,1011 1098,1022 1012,1026 1095,1007 1055,1015 1043,1027 1056,992 1055,1041 1039,1011 1075,1062 1074,1007 1036,1018 1068,1023 1057,1011 1047,1013 1082,1018 1076,1014 1064,1010 1051,1024 1058,1025 1030,1010 1081,1053 1029,1038 1145,1003 1029,1036 1081,1029 1088,1012 1051,1018 1062,990 1063,1020 1072,1033 1084,1005 1047,1010 1091,1005 1049,1010 1094,1007 1076,1047 1073,1033 1105,1025 1081,1021 1071,1005 1072,1038 1088,1023 1070,1025 1075,1030 1069,997 1075,1024 1072,1030 1082,1060 1052,998 1093,1016 1067,988 1098,1004 1028,1028 1062,987 1081,1017 1016,1013 1079,1031 1093,1010 1066,1005 1032,1035 1065,1022 1078,1037 1043,1049 1057,1031 1085,1025 1042,1009 1089,1024 1067,1031 1058,1015 1096,1001 1093,1027 1082,1024 1067,1008 1095,1017 1067,993 1104,1003 1062,991 1053,1066 1052,1031 1047,1005 1093,1019 1037,1022 1048,1030 1105,1047 1076,1039 1077,1019 1043,1001 1042,992 1076,1019 1091,1050 1091,1005 1128,1056 1049,981 1079,1047 1088,1028 1104,1038 1060,1007 1128,1028 1107,987 1064,988 1059,1021 1054,1032 1082,1015 1101,981 1087,1030 1088,994 1113,1024 1092,1013 1084,1028 1062,1025 1071,1008 1047,1014 1058,1010 1067,1013 1097,1024 1089,1017 1051,1006 1064,1029 1100,1017 1083,1015 1052,992 1049,1010 1083,998 1078,1039 1059,1003 1061,1021 1079,1037 1072,996 1111,1013 1002,999 1091,1005 1083,999 1052,1008 1064,1005 1083,989 1079,1023 1088,1001 1069,1019 1049,1004 1029,1018 1048,1036 1086,1036 1087,1021 1085,1023 1045,1039 1067,998 1039,1025 1092,1018 1063,1013 1049,1008 1064,1006 1072,994 1069,1015 1070,1030 1051,999 1052,1037 1022,1015 1114,1028 1094,1037 1084,998 1104,1046 1092,1015 1056,1009 1088,1024 1077,972 1057,1035 1122,1032 1061,1024 1102,1035 1075,1048 1087,1021 1076,965 1098,1027 1047,1020 1044,1027 1089,1035 1092,1036 1056,1003 1077,1024 1051,1000 1082,1012 1078,1023 1030,1030 1056,1022 1079,1007 1054,1041 1088,1013 1011,1050 1105,1005 1097,1005 1099,1038 1074,1025 1081,1018 1126,1021 1095,1009 1083,1028 1073,975 1095,1041 1092,1006 1088,1000 1060,1008 1099,1012 1072,1044 1054,1022 1053,1014 1083,1036 1065,1030 1084,1004 1112,1005 1075,1012 1077,1003 1102,1032 1082,1017 1055,1000 1090,1026 1137,1046 1041,1026 1074,1046 1134,996 1075,968 1090,1012 1083,1035 1078,1012 1029,1027 1044,1031 1063,1038 1074,1038 1073,1025 1083,1015 1064,999 1089,1038 1044,991 1087,979 1081,1018 1040,1024 1073,1016 1080,1024 1073,990 1070,1016 1054,1033 1066,1008 1071,1030 1087,1017 1036,1048 1075,1008 1058,1009 1086,1023 1087,1020 1033,1009 1077,1015 1088,1035 1038,1033 1062,1029 1073,1014 1059,1026 1022,1029 1092,984 1075,994 1094,1004 1064,1045 1068,1010 1049,1005 1105,1030 1094,1030 1073,1038 1059,1023 1050,990 1043,998 1068,1023 1076,997 1078,995 1073,1028 1083,1012 1036,1024 1102,1037 1072,1023 1119,1039 1113,1046 1060,1023 1081,1012 1094,1039 1064,1027 1108,1005 1057,1002 1075,1037 1065,1008 1069,989 1068,1055 1089,1014 1105,1013 1107,1015 1081,1031 1066,1032 1056,1024 1090,1009 1020,1005 1106,1017 1097,998 1053,1024 1088,995 1033,1032 1108,1018 1107,1008 1071,1033 1070,1048 1101,1050 1055,1014 1047,1016 1044,1019 1073,1015 1050,1049 1071,1009 1051,1020 1045,1036 1078,1015 1095,978 1098,1039 1093,1041 1069,1056 1058,1013 1102,1037 1057,1028 1063,1015 1081,1024 1092,1023 1106,997 1092,981 1110,1012 1050,1047 1139,999 1080,1022 1084,1026 1079,1015 1075,1013 1076,1010 1076,1041 1073,1039 1053,1039 1080,1008 1072,1031 1065,1034 1033,992 1018,1038 1050,1036 1065,1024 1051,1022 1079,1041 1096,1004 1085,1010 1030,1026 1049,1016 1094,1019 1077,1002 1062,1008 1067,1025 1053,1038 1059,1021 1037,1016 1107,1033 1076,1034 1079,1000 1077,1013 1026,1022 1107,1036 1077,1038 1078,1010 1076,1014 1084,1018 1108,1018 1096,1002 1085,1029 1112,1013 1125,976 1056,1015 1074,997 1085,1045 1050,1015 1047,1003 1078,1020 1079,1040 1040,1005 1088,1035 1091,1007 1091,1012 1094,1011 1084,1037 1083,1018 1075,1042 1084,1004 1071,1010 1082,1006 1065,1015 1046,1013 1106,1035 1086,1047 1127,1022 1112,1017 1063,1038 1109,1021 1101,1046 1071,1015 1065,1051 1118,1015 1062,1002 1077,1021 1132,1016 1087,1014 1032,1003 1050,1039 1053,1020 1071,999 1105,1019 1102,1021 1044,993 1055,1005 1079,1035 1100,1028 1071,988 1058,1017 1028,1021 1074,988 1105,1024 1058,968 1070,1034 1060,1017 1109,1001 1070,1028 1038,998 1055,1019 1044,1046 1083,992 1100,1019 1075,1028 1050,1013 1073,1042 1070,1021 1057,1006 1101,1044" fill="none" stroke="none" marker-start="url(#gc)" marker-mid="url(#gc)" marker-end="url(#gc)"/>
<path transform="scale(0.5)" d="M1080 1018h4M1073 1013h4M1085 1027h4M1089 1022h4M1054 1019h4M999 1023h4M1088 1037h4M1063 1029h4M1098 1013h4M1083 1034h4M1058 1005h4M1109 1013h4M1130 1004h4M1080 991h4M1090 1018h4M1055 1014h4M1092 1026h4M1093 1033h4M1079 997h4M1038 1022h4M1060 1007h4M1045 1037h4M1064 1010h4M1096 966h4M1065 1039h4M1062 1012h4M1085 1032h4M1039 1004h4M1070 1025h4M1087 1006h4M1008 1025h4M1056 1041h4M1064 1023h4M1045 1031h4M1090 1042h4M1115 1039h4M1106 1020h4M1047 1013h4M1066 1025h4M1089 1017h4M1053 999h4M1061 1020h4M1043 1028h4M1112 1028h4M1041 1009h4M1054 1016h4M1059 1022h4M1100 994h4M1072 1015h4M1066 1007h4M1045 1005h4M1090 1030h4M1069 1047h4M1072 1017h4M1050 1018h4M1057 1019h4M1107 1002h4M1089 1037h4M1061 1030h4M1066 1045h4M1047 1016h4M1099 1019h4M1048 1030h4M1074 981h4M1035 1003h4M1110 1005h4M1023 1016h4M1089 1064h4M1040 997h4M1083 1015h4M1065 1056h4M1062 1000h4M1068 1043h4M1039 1023h4M1060 1010h4M1101 997h4M1086 1038h4M1044 1030h4M1058 1019h4M1047 1013h4M1102 1020h4M1052 1021h4M1045 1001h4M1093 989h4M1056 989h4M1050 1027h4M1059 994h4M1070 993h4M1088 1041h4M1079 1020h4M1028 1009h4M1053 1005h4M1056 1010h4M1100 1020h4M1082 992h4M1072 999h4M1067 1004h4M1065 1019h4M1098 1005h4M1105 1030h4M1069 1048h4M1083 998h4M1067 1039h4M1040 1052h4M1056 1019h4M1066 1026h4M1084 1019h4M1070 1015h4M1084 1038h4M1056 1042h4M1073 1007h4M1101 1015h4M1101 1008h4M1071 1040h4M1066 1037h4M1077 1020h4M1078 1025h4M1111 1018h4M1044 991h4M1086 1020h4" stroke="#000" stroke-width="4"/>
<path transform="scale(0.5)" d="M1082 843h4M976 965h4M1072 948h4M994 964h4M1064 855h4M1052 959h4M1085 964h4M1171 925h4" stroke="#000" stroke-width="4"/>
<polyline transform="scale(0.5)" points="987,953 979,978 1089,913 1136,1029 999,1050 1122,942 980,992 1038,967 973,824 959,907" fill="none" stroke="none" marker-start="url(#gc)" marker-mid="url(#gc)" marker-end="url(#gc)"/>
<polyline transform="scale(0.5)" points="976,848" fill="none" stroke="none" marker-start="url(#gc)" marker-mid="url(#gc)" marker-end="url(#gc)"/>
<polyline transform="scale(0.5)" points="1017,866" fill="none" stroke="none" marker-start="url(#gc)" marker-mid="url(#gc)" marker-end="url(#gc)"/>
<path transform="scale(0.5)" d="M1115 818h4" stroke="#000" stroke-width="4"/>
<polyline transform="scale(0.5)" points="1180,1020" fill="none" stroke="none" marker-start="url(#gc)" marker-mid="url(#gc)" marker-end="url(#gc)"/>
<polyline transform="scale(0.5)" points="240,997 358,986 247,942 244,960 343,1033 287,1022 282,1004 595,909 389,1009 274,1019 640,847 427,938 296,1022 172,939 413,1032 321,1034 268,972 224,945 318,1045 273,951 553,938 421,992 364,1016 292,998 611,882 616,894 174,937 283,978 206,888 535,923 469,940 237,987 406,1004 541,974 435,1029 327,1027 387,1034 204,967 313,987 350,983 291,1029 376,995 290,1018 381,989 606,902 337,1024 510,960 505,984 304,1010 463,959 565,907 273,1014 240,983 612,888 268,1015 379,1036 259,999 450,979 269,1018 415,1042 351,1032 205,978 266,1012 294,961 308,979 208,976 533,964 223,922 577,940 295,1001 579,916 632,831 269,1004 413,1019 265,1010 258,1013 384,1031 329,1005 265,1016 331,975 167,934 231,948 487,956 456,1013 281,1021 397,1018 525,972 287,1019 226,992 475,993 583,929 278,1012 416,1034 503,986 335,991 521,972 523,966 276,1022 227,935 185,932 330,1016 393,1034 319,986 316,1029 371,1024 544,980 528,912 205,961 483,1004 515,983 398,1026 407,1031 352,990 294,989 353,1028 324,1013 314,980 622,868 296,982 271,972 225,989 200,971 546,946 291,971 200,939 553,951 230,989 606,876 336,1012 182,944 428,1021 546,944 277,1006 346,980 190,972 611,868 348,1018 290,977 336,983 288,1035 463,1019 310,1006 605,861 205,974 429,1020 345,1033 208,983 272,1010 486,971 202,961 640,845 173,948 223,973 568,911 227,964 276,1013 502,997 383,988 206,968 344,1033 616,873 437,1019 242,947 227,943 177,923 371,1007 520,977 280,1033 302,989 642,822 545,880 195,955 398,1033 390,1015 379,984 608,883 226,978 336,1006 641,845 482,989 400,990 370,1002 540,930 475,1030 574,922 376,1008 436,1019 525,933 402,1003 400,1038 530,944 374,1027 169,934 368,1029 233,1003 575,914 279,969 418,1013 453,1016 363,1028 321,1028 274,1023 222,972 370,1005 223,991 600,901 409,1004 292,904 283,1010 328,999 581,898 411,1020 604,921 600,899 396,974 166,936 199,968 343,1017 273,974 382,1037 597,912 434,1001 252,1013 166,920 451,999 483,1005 257,958 574,867 367,1027 276,1014 371,1031 351,1037 392,1001 207,971 168,942 227,963 559,922 614,876 227,995 413,1021 504,954 303,1007 483,964 577,940 248,1009 432,1004 296,1023 250,1005 605,893 240,993 276,1017 400,1032 388,1036 425,1016 538,976 512,998 448,1019 185,960 477,1015 364,1020 533,972 494,947 255,974 234,961 186,965 226,942 465,1006 403,1018 230,985 224,948 577,903 499,985 165,944 243,982 609,894 408,1017 583,932 489,986 324,1013 374,989 200,960 252,1010 230,981 199,979 225,990 427,987 207,964 420,1032 459,975 281,972 553,949 612,895 517,987 363,1030 302,1045 274,1013 423,1004 568,935 461,1008 619,844 213,943 416,964 215,985 248,1009 286,946 218,974 365,1007 512,987 272,966 221,992 250,1003 202,914 363,1015 172,936 629,869 243,902 423,1015 419,1038 207,883 443,1011 538,896 241,976 381,1035 387,996 459,1003 498,992 391,969 309,975 189,939 168,942 411,1010 199,955 179,941 206,984 456,1004 300,1020 312,990 353,974 356,1003 357,1019 334,1005 276,1022 579,932 440,1013 259,1006 349,991 623,870 385,991 624,851 449,1026 608,900 477,967 585,920 436,1013 216,944 252,1012 500,983 240,994 598,895 375,1005 441,1023 385,1040 350,1038 266,1003 444,1021 222,963 330,1031 318,978 346,1017 609,893 426,1024 307,968 390,1048 332,971 245,968 212,948 401,1029 272,994 614,886 553,930 207,985 543,955 421,1008 226,985 635,859 599,872 428,1014 631,861 217,970 603,897 393,1015 429,1015 421,964 179,946 475,1015 383,1001 243,970 530,975 307,1034 210,984 580,916 500,991 323,952 455,964 238,988 541,914 270,975 391,1039 466,1023 192,942 232,1003 380,1027 552,956 281,1003 356,1005 206,985 621,877 342,1011 317,1013 335,991 550,956 484,989 530,950 210,973 168,949 486,1005 568,922 369,951 367,1036 386,1045 185,946 414,1022 187,959 585,925 371,1009 479,1009 409,1034 190,960 510,975 393,1029 389,1025 406,1021 244,979 197,976 500,1002 252,991 366,1034 448,1027 556,891 408,999 199,932 409,992 197,931 169,926 321,1029 358,1034 532,984 367,1024 399,922 320,1027 477,1006 506,990 343,999 602,899 619,864 416,1031 551,951 377,1040 243,994 185,946 322,995 260,1015 402,1010 276,1018 263,992 330,1007 259,962 496,998 458,996 632,855 550,941 601,903 179,952 241,1000 184,962 209,979 502,987 419,1047 634,838 419,1013 277,981 215,927 466,879 196,947 644,830 418,1017 313,986 367,1022 454,1002 496,962 183,908 341,1007 425,1033 394,953 333,1015 372,1008 434,968 266,1013 242,1005 208,983 289,1013 308,1013 296,1015 450,947 267,1016 553,888 447,1014 421,994 311,1010 398,1014 239,895 429,992 329,1037 628,865 365,1031 168,947 239,989 389,1028 270,995 252,978 585,914 258,977 398,1031 375,1028 289,1024 255,1000 203,982 210,986 284,995 358,1016 329,964 625,873 205,974 365,1041 429,1009 272,1007 562,940 377,1028 251,1008 542,960 445,986 374,1054 585,925 476,1005 421,1004 200,949 628,851 552,929 408,1023 562,932 410,1022 384,1016 310,982 168,916 249,957 226,952 488,945 321,1035 366,1018 250,952 430,1032 186,947 633,834 260,917 325,1012 425,984 592,919 378,1008 547,960 251,986 564,945 273,981 522,985 579,908 630,833 179,932 187,907 368,1036 637,854 399,1030 234,940 232,996 256,966 234,970 519,971 603,895 277,997 359,1006 456,1001 424,998 591,923 531,927 622,866 575,927 322,1025 331,1034 344,1028 506,992 410,1034 190,965 469,978 255,964 460,984 209,985 469,1029 243,1004 169,885 532,989 466,1014 190,966 245,1005 191,948 481,935 485,969 411,997 200,925 365,1016 519,987 422,1010 361,1019 547,932 398,1045 600,903 261,968 405,1029 453,983 370,1034 585,912 527,955 551,956 614,892 252,982 290,992 346,1027 233,998 274,1020 576,893 616,880 350,1032 614,884 360,1011 627,853 210,946 439,963 317,1021 484,931 408,1026 443,1019 388,964 441,1020 563,955 410,1013 268,1019 187,960 519,953 492,993 414,1031 525,937 242,947 634,848 467,958 436,982 529,975 300,987 227,987 413,1005 297,994 180,961 531,983 566,949 436,1022 283,941 184,925 340,1027 503,977 329,1014 185,940 230,987 213,939 537,978 220,984 269,1006 265,1018 539,933 463,990 245,959 356,1020 260,987 404,1012 286,1008 401,992 642,832 238,988 554,960 476,990 188,956 335,1009 326,1003 632,836 190,951 501,1002 406,1011 257,987 192,957 241,995 472,992 549,946 165,944 196,967 640,843 642,844 458,990 274,1009 253,1014 303,1012 379,1012 365,979 278,1011 373,1020 411,984 402,1017 602,892 613,879 340,1037 290,1024 531,957 250,1004 352,1028 266,957 345,1004 270,996 364,1008 231,965 393,959 206,979 535,969 407,1018 257,1015 235,964 296,973 517,977 384,1019 564,923 453,1023 189,953 288,1004 177,942 262,1005 595,913 248,987 382,1024 552,962 471,1012 599,906 305,1027 247,975 638,852 521,974 373,1028 211,921 245,988 416,988 444,1027 491,979 365,1023 366,1034 222,974 212,962 390,1000 324,952 641,844 487,1000 431,1026 243,983 230,997 632,864 257,994 333,1031 198,894 404,1031 448,999 383,1030 178,961 350,1037 261,974 198,969 517,976 427,1028 429,978 488,976 455,1009 382,1014 272,964 230,986 252,989 238,931 513,977 578,923 269,1006 381,1045 512,943 302,981 238,1001 391,987 555,949 401,988 432,1001 587,910 314,916 407,976 461,963 522,945 277,957 359,1029 226,992 247,928 624,844 372,1014 315,992 273,970 485,996 567,946 438,1019 486,960 567,947 436,987 218,983 245,967 342,1041 371,1031 233,1003 364,1041 474,1006 632,843 483,989 501,974 234,969 247,996 204,960 183,939 270,990 310,1011 387,1024 384,1027 566,937 292,973 243,993 467,1011 206,975 457,1019 240,1002 395,1024 491,977 496,986 588,921 548,968 519,966 279,983 294,1015 434,971 294,943 252,904 234,987 470,1021 469,991 378,1032 258,993 318,992 550,945 226,945 643,844 372,976 465,1015 196,868 527,942 344,1022 308,1031 583,920 408,1013 268,1018 399,1010 399,1003 621,873 274,978 477,999 262,1009 511,963 263,998 235,958 529,981 439,968 314,1028 417,1036 430,1005 260,1017 344,1017 400,1038 261,981 379,1029 450,984 191,908 256,933 418,1000 618,882 234,988 280,1005 433,1031 308,984 205,975 210,954 257,991 527,976 453,1007 204,933 420,976 556,968 498,933 481,937 202,958 210,965 449,1010 169,944 239,962 391,1031 176,938 195,961 617,866 408,1039 404,1023 596,903 485,1006 484,994 432,1019 490,952 200,944 309,979 185,964 212,985 170,934 437,1028 216,988 280,972 201,959 253,967 646,835 292,995 293,1030 505,933 264,1017 408,1036 385,1023 517,969 569,931 381,1037 226,977 245,976 202,959 283,929 257,995 186,950 624,849 265,985 519,986 375,1003 559,953 307,957 595,920 416,1004 455,1004 487,970 434,984 285,1027 276,961 431,1029 327,980 446,985 234,906 567,913 278,1018 201,952 382,1021 180,943 630,846 552,966 253,947 193,930 254,957 598,904 385,995 284,1015 168,946 228,987 458,1008 621,861 279,1022 615,846 478,1009 337,1030 264,959 375,977 401,1036 261,1004 261,875 619,848 343,1000 431,983 386,984 393,1011 332,1016 341,1028 422,1010 347,1023 254,966 631,834 291,999 315,1023 227,987 350,1016 357,1010 534,914 467,1007 342,995 258,999 283,1005 358,1001 242,986 232,980 535,989 179,949 364,1035 215,981 247,971 238,996 545,939 394,1019 380,1021 417,1016 509,968 218,899 270,989 354,1040 236,979 522,974 206,982 285,1022 233,988 453,1016 243,988 523,980 185,957 545,961 575,923 233,923 290,998 218,976 551,955 265,993 424,991 553,948 560,969 270,1022 254,957 519,967 545,964 486,986 333,999 353,1019 415,950 444,1029 549,933 617,884 534,953 466,999 432,995 390,981 596,896 172,947 545,963 576,935 296,1002 192,951 234,974 476,988 577,929 305,956 598,890 314,1026 350,1022 465,1003 381,1022 203,918 416,1026 195,948 444,1027 473,973 413,1017 321,1020 554,957 373,1003 336,1039 170,945 478,1010 178,942 384,1037 261,998 398,1016 333,994 355,1027 242,980 634,847 215,954 382,1033 474,994 538,971 204,970 566,929 308,1025 457,971 598,826 290,1007 245,977 382,986 466,1008 467,1006 450,1027 544,865 546,938 317,1033 638,852 376,1034 584,930 587,910 452,1020 427,1001 195,944 430,1030 426,1022 563,949 417,1036 404,1031 348,1040 307,1018 273,976 226,988 425,1034 323,967 610,888 400,1002 279,1011 409,1028 333,1038 179,913 353,1003 316,1035 504,979 454,970 257,995 479,1003 489,978 223,991 282,1025 514,961 398,972 398,1034 189,967 506,995 561,935 357,1020 425,990 535,965 200,911 375,1027 367,1030 456,986 230,974 195,955 569,925 185,958 391,1014 404,1014 392,1014 531,976 387,1028 208,970 547,912 498,983 169,938 431,1022 414,976 236,992 281,1010 416,1035 291,1016 238,1005 518,971 313,1009 308,1017 478,983 170,911 487,986 315,1026 253,993 633,851 636,855 202,876 450,978 317,1018 296,1007 492,987 377,1029 550,959 352,1037 317,985 214,981 491,992 180,847 534,974 203,978 445,1038 363,1041 185,941 193,962 512,978 400,1028 333,1025 445,1016 276,973 645,834 368,1010 605,876 491,981 562,955 428,984 385,1025 235,983 479,1005 218,952 226,981 381,1031 507,963 217,974 571,947 339,984 240,1006 495,1000 331,1024 385,1042 386,1035 357,1016 512,999 415,1033 251,1009 646,830 479,1000 220,959 580,898 551,966 623,861 364,1031 338,958 242,977 554,941 360,1010 548,957 423,1017 437,990 352,1005 595,917 276,1010 467,960 230,968 605,852 274,973 406,1011 233,966 424,1028 357,1011 212,958 327,982 348,1036 247,963 597,895 333,1017 206,921 537,960 549,958 341,1022 497,985 317,980 554,953 292,1004 646,838 439,1007 353,1017 312,986 282,1012 456,1012 507,992 463,1018 553,958 557,924 303,992 356,1032 508,893 489,994 286,1002 400,1023 358,1039 241,987 172,914 422,1031 390,1025 209,948 268,1022 635,858 335,994 194,941 204,971" fill="none" stroke="none" marker-start="url(#oc)" marker-mid="url(#oc)" marker-end="url(#oc)"/>
<path transform="scale(0.5)" d="M601 915h5M592 899h5M412 1036h5M584 905h5M465 977h5M449 964h5M321 1027h5M442 987h5M590 865h5M638 833h5M512 966h5M328 973h5M301 1000h5M585 890h5M459 1006h5M509 907h5M534 948h5M537 939h5M282 957h5M546 897h5M545 942h5M428 1005h5M464 980h5M606 888h5M525 917h5M337 986h5M232 937h5M367 978h5M478 930h5M436 970h5M351 973h5M572 939h5M313 958h5M194 959h5M400 1023h5M616 872h5M586 893h5M601 890h5M569 910h5M546 957h5M380 1043h5M634 848h5M542 928h5M270 1021h5M515 884h5M378 1034h5M349 1009h5M206 982h5M275 988h5M605 899h5M579 886h5M326 1011h5M311 1033h5M626 851h5M506 976h5M457 958h5M506 944h5M543 911h5M495 967h5M310 976h5M639 840h5M417 991h5M425 992h5M555 941h5M593 871h5M580 931h5M512 969h5M317 1027h5M361 984h5M398 1023h5M368 1025h5M233 973h5M383 1052h5M562 932h5M298 958h5M521 989h5M581 876h5M455 1005h5M552 955h5M361 1035h5M444 1009h5M642 823h5M406 1007h5M618 870h5M484 972h5M346 979h5M476 1011h5M279 973h5M515 968h5M599 900h5M451 1016h5M570 945h5M596 892h5M618 871h5M450 1024h5M484 988h5M189 926h5M620 880h5M549 933h5M184 960h5M584 875h5M323 987h5M583 902h5M643 838h5M541 900h5M486 1000h5M325 1030h5M327 1005h5M364 1051h5M613 881h5M473 970h5M591 880h5M621 871h5M361 1027h5M500 990h5M453 1025h5M443 972h5M317 1030h5M365 1001h5M516 982h5M444 944h5M178 931h5M466 996h5M541 954h5M561 901h5M410 1027h5M534 944h5M458 983h5M569 933h5M376 1033h5M319 1045h5M507 979h5M569 934h5M237 991h5M221 944h5M543 941h5M334 1047h5M591 863h5M609 864h5M606 871h5M351 1002h5M552 934h5M606 877h5M626 869h5M639 846h5M521 929h5M508 953h5M609 864h5M457 958h5M322 982h5M209 957h5M605 878h5M587 907h5M179 962h5M401 1010h5M197 896h5M529 952h5M610 879h5M494 982h5M460 943h5M370 1018h5M523 861h5M325 1037h5M332 1034h5M274 964h5M210 966h5M205 922h5M452 988h5M404 991h5M603 866h5M582 919h5M238 944h5M285 1017h5M565 944h5M502 969h5M513 954h5M366 993h5M594 913h5M458 987h5M567 924h5M387 1018h5M365 1018h5M496 994h5M311 1034h5M292 1003h5M543 911h5M474 1006h5M474 976h5M623 883h5M463 997h5M294 1032h5M355 1043h5M533 937h5M491 976h5M541 923h5M570 874h5M496 964h5M594 862h5M498 988h5M445 963h5M544 937h5M295 1005h5M320 1030h5M542 938h5M482 960h5M391 1006h5M486 949h5M238 981h5M482 951h5M357 1013h5M592 873h5M336 964h5M612 893h5M610 869h5M339 1011h5M544 945h5M519 939h5M261 989h5M367 1038h5M301 999h5M639 842h5M422 1002h5M565 905h5M517 953h5M371 1011h5M571 929h5M614 853h5M408 917h5M402 982h5M214 937h5M499 973h5M261 1002h5M630 851h5M260 990h5M468 1011h5M355 1030h5M605 878h5M494 1005h5M398 1030h5M344 1000h5M418 1003h5M559 916h5M418 1020h5M641 833h5M425 1029h5M376 1045h5M480 991h5M268 915h5M312 987h5M423 1006h5M557 914h5M289 1025h5M368 997h5M484 1010h5M610 870h5M442 971h5M336 1037h5M203 929h5M448 1011h5M306 986h5M631 832h5M604 839h5M438 995h5M240 970h5M422 1038h5M493 998h5M369 1050h5M458 955h5M311 1006h5M468 1008h5M581 880h5M327 1030h5M612 860h5M304 1045h5M271 894h5M361 1004h5M480 993h5M563 923h5M560 916h5M581 893h5M298 1002h5M309 1000h5M422 973h5M363 1034h5M428 1027h5M556 954h5M545 924h5M556 905h5M293 972h5M562 933h5M323 1004h5M209 918h5M516 986h5M418 1005h5M618 838h5M419 1001h5M577 893h5M407 993h5M283 969h5M206 959h5M265 996h5M475 970h5M309 1021h5M293 1015h5M338 1009h5M636 836h5M562 952h5M343 1006h5M349 1016h5M626 831h5M480 1009h5M501 983h5M612 848h5M438 977h5M195 975h5M450 996h5M388 996h5M629 861h5M613 814h5M307 1003h5M409 985h5M624 841h5M467 969h5M583 897h5M287 1001h5M358 1034h5M191 941h5M506 995h5M528 911h5M352 977h5M587 908h5M382 1003h5M424 1005h5M318 1017h5M333 1019h5M203 961h5M562 933h5M387 1054h5M642 833h5M498 973h5M618 881h5M316 973h5M532 971h5M570 936h5M257 975h5M229 978h5M643 828h5M328 985h5M640 833h5M412 1018h5M387 973h5M500 938h5M409 970h5M507 977h5M522 928h5M600 887h5M416 988h5M247 943h5M459 966h5M360 1036h5M540 939h5M421 984h5M502 965h5M598 884h5M526 983h5M548 930h5M257 961h5M257 983h5M385 996h5M346 970h5M472 1005h5M367 1013h5M547 930h5M560 953h5M579 869h5M555 906h5M601 896h5M404 1017h5M571 894h5M534 961h5M460 960h5M535 951h5M360 1035h5M322 1017h5M362 1027h5M310 995h5M540 971h5M396 1012h5M505 965h5M218 964h5M602 889h5M423 995h5M545 942h5M503 979h5M477 967h5M599 905h5M292 913h5M506 1003h5M341 1036h5M358 1033h5M305 1009h5M551 899h5M305 1004h5M295 999h5M226 978h5M309 1000h5M502 1007h5M527 978h5M599 909h5M505 962h5M452 1002h5M379 1002h5M561 900h5M389 997h5M421 1043h5M283 1025h5M380 968h5M347 1015h5M507 974h5M426 1006h5M397 1002h5M597 887h5M559 927h5M487 1010h5M305 1009h5M344 1028h5M634 848h5M330 1023h5M373 975h5M401 1007h5M296 989h5M448 1027h5M615 864h5M402 1029h5M268 969h5M591 870h5M476 1005h5M403 990h5M263 972h5M409 1018h5M470 995h5M508 952h5M366 1017h5M528 928h5M328 1030h5M513 974h5M546 944h5M407 1003h5M515 965h5M460 1013h5M456 1022h5M269 982h5M472 938h5M516 973h5M356 1016h5M487 975h5M395 1036h5M452 957h5M386 936h5M606 870h5M411 1001h5M503 946h5M613 858h5M523 922h5M204 975h5M533 918h5M616 868h5M584 894h5M244 985h5M456 986h5M471 995h5M342 1011h5M453 909h5M300 994h5M269 975h5M277 994h5M354 1005h5M629 860h5M416 1044h5M256 985h5M515 972h5M449 984h5M564 934h5M520 988h5M594 874h5M583 916h5M308 1013h5M398 1011h5M333 965h5M481 972h5M219 961h5M288 1029h5M466 973h5M416 968h5M394 1011h5M357 1009h5M505 947h5M253 981h5M568 929h5M527 962h5M445 972h5M635 856h5M528 982h5M614 822h5M550 946h5M624 849h5M425 1023h5M593 890h5M619 866h5M583 893h5M565 914h5M520 938h5M368 1013h5M267 1007h5M205 922h5M394 1026h5M545 920h5M201 981h5M436 977h5M268 988h5M627 827h5M592 868h5M437 964h5M333 958h5M406 1047h5M600 908h5M502 963h5M395 1035h5M266 986h5M293 1036h5M581 893h5M487 960h5M566 952h5M418 997h5M262 984h5M436 997h5M553 908h5M548 960h5M507 976h5M630 835h5M396 1014h5M525 946h5M410 982h5M491 978h5M622 875h5M256 952h5M597 878h5M599 897h5M514 996h5M391 1006h5M279 970h5M547 939h5M363 1032h5M250 954h5M272 981h5M639 835h5M527 935h5M565 941h5M216 969h5M306 1027h5M434 936h5M490 971h5M554 943h5M213 966h5M551 955h5M462 997h5M481 971h5M357 988h5M216 989h5M575 906h5M587 881h5M316 977h5M364 1013h5M512 993h5M526 951h5M378 1049h5M268 1018h5M403 961h5M528 912h5M256 1009h5M278 1026h5M560 916h5M505 973h5M592 894h5M321 1006h5M557 903h5M459 1010h5M222 961h5M457 1017h5M594 880h5M274 991h5M584 920h5M609 898h5M467 961h5M571 846h5M584 899h5M630 856h5M449 980h5M390 996h5M307 1018h5M335 1019h5M336 997h5M504 998h5M282 1035h5M531 954h5M446 974h5M524 982h5M447 997h5M441 934h5M544 911h5M619 847h5M337 995h5M273 997h5M373 969h5M516 947h5M483 979h5M437 1009h5M282 1017h5M556 962h5M295 983h5M315 1019h5M506 946h5M360 1015h5M466 1010h5M478 1015h5M505 966h5M481 912h5M353 1000h5M402 931h5M478 1013h5M327 1010h5M580 901h5M529 975h5M433 1026h5M404 1001h5M573 896h5M315 1017h5M337 1028h5M258 983h5M324 1035h5M615 868h5M540 881h5M607 898h5M542 926h5M478 963h5M530 955h5M378 986h5M399 966h5M441 1008h5M390 1008h5M384 999h5M623 855h5M626 856h5M480 1024h5M405 1037h5M487 931h5M442 984h5M560 928h5M536 942h5M227 987h5M496 995h5M370 944h5M573 892h5M314 1008h5M408 991h5M482 977h5M570 915h5M270 1007h5M553 920h5M469 992h5M207 963h5M381 988h5M639 846h5M495 957h5M562 896h5M573 949h5M434 970h5M601 904h5M390 1011h5M352 1001h5M323 994h5M627 838h5M220 991h5M491 969h5M323 1004h5M441 1009h5M262 993h5M572 867h5M197 944h5M329 1003h5M355 1042h5M390 1028h5M290 1004h5M554 934h5M581 904h5M382 987h5M427 1031h5M617 852h5M591 849h5M618 860h5M511 947h5M564 932h5M548 958h5M349 980h5M541 931h5M376 1036h5M520 971h5M292 1023h5M565 918h5M438 1016h5M634 842h5M198 978h5M488 961h5M563 905h5M411 999h5M618 882h5M256 996h5M208 988h5M476 966h5M592 868h5M255 964h5M549 922h5M487 941h5M413 1000h5M511 951h5M352 1033h5M447 1001h5M535 947h5M608 892h5M514 950h5M476 946h5M192 961h5M207 969h5M549 933h5M558 923h5M500 992h5M457 915h5M400 1028h5M434 1011h5M180 918h5M283 1010h5M477 992h5M427 1029h5M334 1037h5M438 1022h5M476 994h5M579 903h5M466 950h5M358 1015h5M477 951h5M346 997h5M514 945h5M528 970h5M550 940h5M339 970h5M552 936h5M530 960h5M473 1014h5M309 1001h5M610 873h5M267 979h5M486 988h5M629 833h5M538 931h5M231 994h5M205 963h5M417 1031h5M171 930h5M242 1010h5M426 1004h5M495 1004h5M637 828h5M406 1011h5M625 850h5M253 999h5M396 1002h5M335 961h5M612 865h5M576 941h5M365 1034h5M316 1039h5M640 843h5M626 840h5M327 962h5M259 991h5M327 1001h5M436 981h5M362 1050h5M232 961h5M429 998h5M496 987h5M325 984h5M517 958h5M331 967h5M535 926h5M530 960h5M498 1005h5M626 842h5M333 979h5M515 979h5M593 862h5M589 899h5M236 990h5M180 936h5M635 846h5M475 995h5M241 981h5M358 1023h5M488 981h5M514 990h5M565 893h5M361 1004h5M587 924h5M598 883h5M569 916h5M284 1024h5M370 1038h5M473 962h5M278 1014h5M270 909h5M343 1028h5M495 991h5M395 1009h5M635 839h5M477 1014h5M388 1022h5M543 928h5M362 1004h5M479 935h5M519 990h5M342 1013h5M434 1028h5M285 1009h5M452 990h5M321 994h5M523 969h5M552 905h5M412 1030h5M350 1004h5M307 1004h5M362 1039h5M230 968h5M471 990h5M602 887h5M549 953h5M413 1018h5M210 937h5M412 937h5M589 888h5M365 1030h5M315 1002h5M500 940h5M252 975h5M290 972h5M531 937h5M559 953h5M245 981h5M591 886h5M582 923h5M620 879h5M494 997h5M369 1037h5M204 975h5M543 956h5M412 916h5M446 1022h5M510 961h5M520 949h5M386 1016h5M541 901h5M613 883h5M548 948h5M384 1010h5M627 836h5M471 967h5M471 935h5M620 860h5M432 989h5M359 1025h5M642 840h5M640 843h5M614 859h5M396 994h5M400 962h5M380 1022h5M323 1049h5M434 1029h5M261 1006h5M279 995h5M322 1023h5M534 941h5M480 987h5M448 987h5M517 968h5M445 959h5M175 911h5M353 996h5M505 955h5M621 867h5M410 989h5M177 938h5M320 994h5M323 977h5M574 938h5M640 843h5M322 978h5M454 980h5M470 1005h5M486 992h5M368 994h5M506 987h5M593 911h5M433 1032h5M614 857h5M406 1024h5M585 908h5M507 989h5M315 982h5M321 989h5M202 976h5M447 989h5M641 840h5M283 1023h5M589 890h5M608 816h5M537 916h5M564 945h5M274 1023h5M365 1027h5M534 964h5M379 1031h5M452 1023h5M338 1028h5M491 957h5M559 936h5M598 884h5M514 987h5M367 1026h5M562 929h5M375 1023h5M398 1017h5M436 1012h5M197 957h5M298 984h5M325 970h5M324 1034h5M542 947h5M290 1028h5M265 989h5M248 996h5M380 998h5M349 1002h5M200 925h5M455 1005h5M524 890h5M446 984h5M437 1028h5M179 889h5M521 954h5M279 940h5M605 899h5M234 953h5M385 1028h5M363 1041h5M447 980h5M433 1025h5M565 916h5M300 999h5M632 834h5M591 891h5M476 976h5M253 992h5M599 872h5M556 951h5M467 1006h5M358 1003h5M407 1014h5M298 976h5M359 1014h5M535 964h5M478 989h5M537 975h5M469 965h5M525 951h5M404 1017h5M435 998h5M446 980h5M527 959h5M621 860h5M549 929h5M627 862h5M562 951h5M446 1015h5M460 944h5M271 1029h5M472 975h5M418 1025h5M536 942h5M632 870h5M441 997h5M603 894h5M413 1027h5M565 911h5M479 995h5M253 973h5M437 1017h5M337 997h5M604 857h5M310 1021h5M637 832h5M618 882h5M626 847h5M205 943h5M623 850h5M437 1013h5M460 1019h5M397 1026h5M536 972h5M334 977h5M448 971h5M556 943h5M476 975h5M507 969h5M572 921h5M334 1030h5M319 1004h5M333 970h5M354 1000h5M315 983h5M337 975h5M585 879h5M612 858h5M265 1018h5M443 996h5M485 955h5M204 940h5M547 935h5M466 1006h5M442 980h5M490 966h5M620 859h5M416 1031h5M550 907h5M510 989h5M592 889h5M465 989h5M523 986h5M479 976h5M437 1036h5M423 1016h5M639 824h5M477 989h5M486 955h5M574 938h5M416 1032h5M524 953h5M470 1013h5M506 942h5M446 1007h5M575 925h5M405 1003h5M522 935h5M602 875h5M467 993h5M266 967h5M594 905h5M607 857h5M389 1000h5M543 923h5M451 1013h5M285 975h5M551 959h5M321 1009h5M382 1039h5M367 1017h5M224 931h5M360 1018h5M278 1028h5M515 965h5M390 1008h5M449 993h5M305 1003h5M265 1010h5M576 909h5M404 1027h5M448 974h5M424 1020h5M307 990h5M306 1001h5M417 994h5M520 921h5M623 867h5M269 955h5M335 1028h5M281 962h5M533 942h5M348 971h5M335 1016h5M428 990h5M347 1012h5M410 1004h5M455 965h5M441 1019h5M609 860h5M308 1012h5M469 976h5M532 979h5M390 1006h5M400 996h5M368 991h5M223 973h5M594 858h5M363 1020h5M424 988h5M581 918h5M632 847h5M548 966h5M540 962h5M489 954h5M409 1003h5M519 953h5M359 990h5M619 863h5M455 1010h5M485 1010h5M409 1028h5M492 991h5M331 1027h5M616 841h5M588 909h5M227 986h5M628 849h5M355 1020h5M565 926h5M569 945h5M614 850h5M625 871h5M580 904h5M300 975h5M417 984h5M176 960h5M477 972h5M590 870h5M374 1004h5M359 985h5M585 844h5M563 928h5M439 944h5M526 954h5M628 822h5M520 953h5M312 1007h5M283 954h5M417 989h5M355 1049h5M424 1006h5M473 939h5M531 921h5M575 868h5M611 869h5M225 919h5M591 913h5M481 1005h5M324 1008h5M384 978h5M338 1015h5M623 851h5M407 967h5M378 1027h5M411 997h5M394 1036h5M592 903h5M501 922h5M328 984h5M447 1019h5M263 921h5M429 1014h5M283 980h5M594 894h5M533 927h5M377 1010h5M556 911h5M578 916h5M620 861h5M609 880h5M502 991h5M557 881h5M334 1008h5M456 971h5M407 999h5M612 863h5M552 917h5M281 942h5M400 1017h5M380 998h5M562 924h5M305 992h5M239 997h5M177 951h5M386 980h5M291 999h5M328 1037h5M537 965h5M516 934h5M627 862h5M485 980h5M568 897h5M390 1041h5M410 970h5M443 1005h5M218 977h5M318 1013h5M296 995h5M529 935h5M531 927h5M245 989h5M556 944h5M493 995h5M261 972h5M478 899h5M421 1038h5M515 967h5M390 1002h5M397 1010h5M208 984h5M301 1021h5M513 959h5M360 1025h5M463 995h5M630 863h5M487 985h5M570 899h5M366 993h5M287 1026h5M567 908h5M309 963h5M487 950h5M633 837h5M338 1004h5M551 950h5M512 957h5M619 851h5M216 981h5M611 882h5M291 1024h5M512 926h5M312 957h5M625 866h5M410 1023h5M557 897h5M328 980h5M489 983h5M569 930h5M215 969h5M381 1022h5M505 972h5M414 1031h5M630 844h5M443 981h5M539 976h5M608 874h5M545 965h5M575 937h5M449 972h5M491 964h5M246 982h5M643 828h5M539 969h5M452 995h5M643 839h5M341 1008h5M588 872h5M634 846h5M377 1007h5M633 857h5M495 972h5M420 1015h5M571 905h5M233 986h5M530 916h5M328 993h5M500 939h5M544 949h5M613 893h5M305 1020h5M529 974h5M464 1016h5M511 972h5M446 1003h5M534 904h5M179 921h5M371 983h5M452 1010h5M438 989h5M553 923h5M476 1009h5M408 1017h5M452 950h5M497 978h5M547 891h5M360 1002h5M340 1027h5M551 940h5M412 1044h5M234 977h5M474 1010h5M312 1001h5M336 972h5M636 845h5M589 894h5M511 987h5M519 987h5M481 978h5M579 921h5M438 1028h5M512 933h5M549 951h5M572 924h5M394 1020h5M463 980h5M353 994h5M473 1015h5M501 1001h5M350 1002h5M601 865h5M568 945h5M311 984h5M364 1010h5M291 993h5M301 1005h5M521 967h5M591 910h5M420 1007h5M273 1022h5M399 1016h5M420 978h5M250 966h5M365 1013h5M478 977h5M352 1016h5M431 992h5M599 890h5M274 956h5M564 901h5M457 993h5M501 966h5M608 877h5M448 990h5M607 855h5M276 1022h5M322 1032h5M612 856h5M582 890h5M358 1028h5M510 987h5M624 871h5M268 980h5M217 936h5M285 965h5M307 985h5M301 1004h5M429 977h5M532 979h5M591 860h5M505 956h5M383 1018h5M581 915h5M505 961h5M535 976h5M517 957h5M338 1040h5M587 917h5M516 987h5M582 913h5M326 1023h5M457 980h5M354 1041h5M476 944h5M545 900h5M598 914h5M606 881h5M350 973h5M487 984h5M345 1012h5M418 1023h5M603 891h5M331 1011h5M335 1004h5M513 972h5M549 930h5M616 880h5M579 894h5M482 972h5M347 1030h5M189 937h5M537 939h5M322 959h5M526 951h5M392 1036h5M547 881h5M368 1007h5M389 1035h5M557 955h5M356 1030h5M507 979h5M349 1037h5M469 1001h5M592 894h5M446 999h5M628 847h5M621 874h5M622 858h5M421 1051h5M528 947h5M363 981h5M600 866h5M335 1013h5M622 865h5M638 849h5M573 924h5M475 892h5M514 993h5M510 956h5M399 1027h5M482 983h5M315 1003h5M589 873h5M554 924h5M519 975h5M550 937h5M480 1001h5M295 1009h5M491 999h5M293 1030h5M582 888h5M373 962h5M456 1026h5M537 960h5M323 1044h5M431 993h5M605 899h5M341 1032h5M494 957h5M605 884h5M358 985h5M357 1038h5M508 993h5M556 900h5M314 1035h5M256 963h5M174 917h5M322 1033h5M459 965h5M568 929h5M203 952h5M388 1007h5M269 1015h5M502 944h5M376 1039h5M324 977h5M275 985h5M271 1026h5M186 929h5M384 1008h5M407 999h5M486 1019h5M358 1033h5M417 982h5M222 964h5M612 843h5M474 1007h5M474 1012h5M513 985h5M186 919h5M482 951h5M599 882h5M292 1030h5M441 982h5M411 981h5M426 1000h5M559 907h5M548 951h5M578 915h5M618 875h5M484 968h5M504 992h5M291 999h5M232 928h5M246 986h5M491 990h5M432 982h5M363 1045h5M390 1001h5M531 903h5M304 1026h5M182 949h5M301 1023h5M513 959h5M532 937h5M197 961h5M610 885h5M528 966h5M203 946h5M585 928h5M498 976h5M559 942h5M637 843h5M411 1012h5M580 926h5M570 939h5M260 980h5M562 924h5M451 963h5M297 991h5M212 940h5M322 1025h5M500 973h5M601 902h5M539 968h5M630 864h5M458 963h5M477 994h5M548 952h5M292 942h5M273 1018h5M476 981h5M464 1001h5M582 906h5M593 864h5M350 977h5M544 948h5M353 1025h5M523 949h5M561 953h5M441 956h5M415 980h5M426 1009h5M635 849h5M601 902h5M477 1000h5M420 974h5M245 996h5M558 925h5M547 922h5M372 996h5M451 991h5M574 908h5M468 984h5M552 958h5M623 854h5M276 971h5M406 988h5M578 894h5M227 964h5M387 1027h5M483 1008h5M413 1017h5M600 862h5M591 881h5M542 957h5M228 972h5M530 941h5M238 958h5M310 1003h5M302 964h5M592 914h5M597 906h5M531 949h5M409 1001h5M586 913h5M404 987h5M568 942h5M400 1033h5M636 849h5M493 986h5M368 1033h5M374 972h5M572 943h5M464 997h5M424 1000h5M174 919h5M509 988h5M334 985h5M390 1017h5M333 966h5M348 1028h5M326 986h5M602 882h5M459 975h5M484 947h5M582 860h5M565 944h5M550 952h5M427 966h5M317 995h5M399 1028h5M500 943h5M464 984h5M630 832h5M517 951h5M271 1003h5M276 990h5M454 991h5M547 933h5M381 994h5M475 948h5M549 905h5M411 1003h5M520 921h5M564 906h5M274 991h5M349 1030h5M638 830h5M515 938h5M376 989h5M490 958h5M318 1013h5M590 920h5M557 925h5M481 956h5M202 979h5M417 991h5M458 1001h5M515 966h5M530 915h5M414 997h5M617 880h5M576 905h5M614 867h5M473 992h5M380 1021h5M447 987h5M333 1010h5M386 1057h5M566 936h5M535 973h5M584 911h5M444 1020h5M392 995h5M461 920h5M446 989h5M582 876h5M252 1000h5M420 1024h5M438 1023h5M547 950h5M287 981h5M514 966h5M564 901h5M590 888h5M613 864h5M324 989h5M564 952h5M481 993h5M346 981h5M492 967h5M569 902h5M295 1034h5M623 847h5M434 990h5M472 977h5M371 936h5M535 955h5M577 931h5M538 948h5M169 931h5M467 983h5M354 1005h5M264 1008h5M202 970h5M460 1002h5M487 997h5M505 971h5M431 1018h5M276 1005h5M393 1013h5M594 884h5M256 996h5M516 959h5M607 873h5M351 954h5M469 1007h5M614 859h5M427 969h5M555 937h5M499 996h5M521 971h5M214 951h5M333 1016h5M520 1001h5M623 860h5M481 1000h5M290 1017h5M459 997h5M459 949h5M440 1020h5M385 992h5M425 972h5M592 881h5M372 1036h5M489 1006h5M524 960h5M486 960h5M349 1021h5M226 990h5M221 986h5M346 1023h5M366 1038h5M350 1023h5M434 1052h5M543 935h5M370 999h5M567 914h5M470 999h5M212 986h5M444 955h5M337 963h5M498 1002h5M405 1010h5M488 987h5M267 961h5M632 848h5M429 1044h5M402 987h5M449 1023h5M572 928h5M536 964h5M462 1005h5M401 999h5M353 1001h5M484 979h5M569 916h5M421 1046h5M422 975h5M503 940h5M281 1017h5M578 899h5M266 1017h5M374 1007h5M304 1005h5M375 997h5M625 844h5M559 935h5M296 993h5M410 981h5M486 1005h5M328 1009h5M622 854h5M439 988h5M592 911h5M273 1001h5M554 909h5M463 994h5M415 999h5M512 934h5M375 969h5M515 971h5M446 1012h5M312 1015h5M548 914h5M443 1013h5M454 979h5M576 906h5M406 999h5M496 966h5M428 967h5M590 900h5M599 873h5M469 968h5M299 986h5M542 915h5M480 975h5M606 886h5M392 1032h5M538 951h5M363 1024h5M491 978h5M480 962h5M477 945h5M445 1028h5M245 902h5M598 881h5M319 976h5M305 1018h5M515 898h5M270 1009h5M460 983h5M381 1030h5M535 946h5M308 1002h5M481 976h5M333 982h5M517 978h5M578 878h5M561 941h5M204 916h5M517 989h5M620 880h5M615 844h5M513 958h5M313 1024h5M627 830h5M449 1025h5M336 1000h5M348 1039h5M370 1046h5M609 873h5M630 827h5M362 1001h5M442 1019h5M181 948h5M372 963h5M412 1027h5M280 1011h5M519 962h5M600 883h5M570 940h5M387 997h5M280 1013h5M598 874h5M396 1044h5M367 937h5M413 1030h5M219 955h5M260 1019h5M409 1013h5M344 1000h5M550 958h5M169 879h5M610 890h5M319 1016h5M375 1033h5M486 976h5M378 1014h5M433 940h5M510 960h5M317 1017h5M297 936h5M577 879h5M464 1004h5M499 991h5M506 980h5M543 943h5M565 951h5M521 983h5M643 828h5M259 993h5M533 980h5M262 1015h5M394 1040h5M385 1040h5M490 931h5M575 894h5M442 1002h5M307 971h5M497 958h5M584 926h5M500 944h5M270 1022h5M506 960h5M517 935h5M258 997h5M414 1002h5M623 842h5M252 921h5M397 1023h5M444 984h5M614 869h5M546 928h5M404 992h5M164 935h5M575 914h5M210 891h5M463 980h5M484 1006h5M497 985h5M504 999h5M516 946h5M540 953h5M535 977h5M473 979h5M257 978h5M555 913h5M412 1020h5M639 835h5M540 952h5M510 965h5M401 964h5M555 949h5M208 987h5M486 956h5M562 929h5M434 987h5M544 950h5M581 879h5M438 1030h5M635 837h5M503 952h5M302 1025h5M405 1036h5M485 941h5M601 905h5M478 960h5M233 985h5M484 1005h5M496 974h5M419 994h5M466 987h5M447 978h5M342 1012h5M493 916h5M343 983h5M567 906h5M369 1008h5M254 969h5M328 1024h5M491 992h5M349 1003h5M390 1032h5M534 926h5M462 1021h5M497 982h5M330 1033h5M427 1016h5M450 989h5M409 984h5M541 951h5M380 1011h5M396 1014h5M448 980h5M503 972h5M587 880h5M438 969h5M466 1015h5M490 946h5M502 949h5M430 1002h5M560 884h5M640 841h5M629 838h5M242 968h5M331 969h5M594 911h5M529 932h5M181 945h5M641 837h5M415 958h5M432 1036h5M561 917h5M417 1036h5M372 1021h5M616 873h5M515 990h5M374 998h5M255 996h5M573 921h5M558 964h5M417 985h5M634 849h5M556 903h5M528 969h5M442 957h5M629 857h5M282 962h5M588 902h5M523 975h5M603 908h5M596 889h5M531 947h5M444 971h5M434 1006h5M308 994h5M487 981h5M438 988h5M330 963h5M434 994h5M359 1040h5M332 1026h5M576 926h5M294 982h5M311 984h5M442 964h5M585 924h5M620 849h5M495 954h5M634 853h5M294 974h5M380 988h5M358 1011h5M283 1007h5M510 964h5M596 883h5M592 876h5M411 962h5M592 891h5M395 968h5M258 974h5M232 999h5M214 967h5M496 978h5M546 962h5M466 1029h5M542 941h5M449 966h5M489 960h5M551 935h5M418 1011h5M531 940h5M543 905h5M601 840h5M578 896h5M293 1004h5M282 1001h5M572 946h5M503 972h5M490 1005h5M366 1031h5M288 1038h5M535 964h5M377 975h5M302 965h5M606 891h5M406 1045h5M561 919h5M606 884h5M529 921h5M618 847h5M623 865h5M473 982h5M182 943h5M500 961h5M252 948h5M473 1002h5M584 893h5M594 884h5M306 1025h5M420 1008h5M243 969h5M562 931h5M498 971h5M607 867h5M224 979h5M403 999h5M526 918h5M337 994h5M516 992h5M341 1036h5M291 983h5M626 857h5M435 1037h5M591 925h5M269 970h5M609 879h5M349 995h5M279 916h5M531 919h5M586 866h5M332 994h5M564 906h5M537 955h5M411 990h5M470 987h5M444 973h5M545 943h5M385 1011h5M290 1013h5M500 994h5M460 1005h5M586 918h5M354 986h5M591 921h5M436 1019h5M586 924h5M388 1010h5M427 988h5M593 913h5M399 1033h5M560 894h5M560 950h5M411 1001h5M599 907h5M553 945h5M452 965h5M431 1028h5M333 970h5M372 998h5M641 843h5M298 1021h5M486 990h5M420 996h5M358 1006h5M459 988h5M318 1005h5M223 956h5M445 1001h5M608 851h5M511 1002h5M326 977h5M273 1002h5M409 978h5M478 1013h5M638 842h5M367 993h5M365 1005h5M319 1035h5M624 808h5M301 954h5M561 915h5M273 1019h5M313 1034h5M591 900h5M253 966h5M478 995h5M532 927h5M415 1030h5M364 1019h5M293 998h5M315 1014h5M341 1039h5M388 1013h5M516 949h5M389 966h5M340 971h5M410 1015h5M361 1041h5M340 974h5M329 1037h5M501 961h5M451 990h5M606 892h5M479 948h5M237 977h5M397 1011h5M570 919h5M452 977h5M362 1008h5M570 919h5M220 990h5M461 983h5M590 911h5M547 926h5M362 989h5M581 884h5M413 1010h5M281 970h5M399 1028h5M292 973h5M225 962h5M472 1006h5M618 866h5M471 997h5M559 918h5M398 1028h5M490 957h5M519 985h5M317 1014h5M469 1016h5M328 1016h5M428 981h5M497 1016h5M584 898h5M347 993h5M433 1000h5M278 1027h5M638 823h5M479 1011h5M480 1003h5M273 1001h5M224 973h5M347 1034h5M528 943h5" stroke="#000" stroke-width="5"/>
<polyline transform="scale(0.5)" points="588,899 266,1022 343,1043 228,976 201,969 432,1024 609,859 334,978 197,923 293,1022 399,1016 177,903 291,1005 520,947 525,977 344,994 332,1023 406,1020 222,957 246,986 331,972 294,970 608,892 427,963 298,1026 307,1026 175,942 306,1010 425,997 492,1003 414,999 330,1014 427,1018 527,979 480,1003 193,961 186,959 542,971 392,1023 241,982 322,994 454,979 425,1010 285,1010 307,1008 369,1037 367,965 512,983 217,959 510,976 209,975 239,992 562,899 511,977 327,1028 507,978 210,968 620,866 176,959 587,916 334,1045 342,1031 322,1010 180,925 422,1015 583,884 508,996 300,1008 338,1035 303,970 587,924 318,1042 216,965 427,1010 471,1018 300,1029 229,945 340,1013 478,1010 315,932 297,1030 353,1025 312,959 511,933 342,1038 215,975 391,1014 335,982 308,1045 590,916 395,998 219,975 239,995 165,934 470,1006 223,969 510,975 381,1006 334,1016 571,945 201,976 382,995 496,978 248,1008 256,1010 376,1044 283,985 185,965 180,938 240,981 255,990 225,909 596,886 359,1020 514,947 307,1025 284,1006 246,977 567,940 608,868 300,1016 345,1023 591,877 235,1000 565,953 362,1033 208,944 405,978 166,882 201,978 352,1052 524,969 261,995 212,941 200,898 391,1021 507,912 455,1016 335,946 503,989 267,1001 521,957 171,898 219,986 226,980 283,992 559,916 211,970 356,1038 168,943 412,1031 286,948 407,1003 345,1044 309,1030 568,927 529,971 367,1028 313,1014 244,953 597,904 625,868 300,969 190,930 399,1029 458,1010 338,1002 222,990 240,985 349,1010 543,965 490,994 317,1009 299,1009 212,941 248,950 401,1040 238,1005 537,958 542,972 221,989 521,978 185,965 294,1003 347,1014 239,986 381,983 248,1006 300,1013 531,911 495,993 417,992 200,956 560,937 329,938 474,1008 357,1034 274,1019 238,999 415,994 521,982 550,938 224,964 347,993 360,1040 401,987 442,1004 272,1010 254,988 429,1014 628,848 306,1031 458,1025 412,926 480,1012 371,1025 614,879 248,962 190,966 471,959 202,960 409,1022 620,869 615,869 254,970 342,1036 450,1014 354,1034 247,969 415,1023 377,985 255,1007 638,836 629,864 248,979 389,992 313,1023 355,1009 214,945 317,1030 195,967 416,979 224,940 310,1035 220,963 344,1046 183,944 354,1039 428,1005 248,965 252,967 455,985 219,992 240,966 559,953 585,920 361,1030 622,870 407,1014 485,1008 258,957 216,985 203,973 400,994 330,1024 210,955 471,1000 306,994 397,1014 397,1034 413,977 565,946 430,1025 427,982 573,908 429,1027 359,1038 235,1004 214,939 477,1015 268,1001 584,922 288,971 556,952 642,839 266,992 394,1037 203,965 168,931 422,995 297,1031 219,979 232,1000 483,1005 434,1018 431,1010 485,935 239,992 471,916 292,1016 599,899 292,984 224,958 275,991 364,978 437,966 530,967 463,996 186,933 400,991 489,957 192,926 251,999 191,944 165,904 272,987 402,922 228,996 207,971 277,1022 251,1003 238,947 431,1023 224,990 175,940 582,911 514,990 262,986 533,974 392,1027 605,896 583,922 413,1025 581,912 428,1005 363,1044 444,1028 212,963 453,1014 456,999 346,1035 236,978 339,968 613,860 218,981 238,974 213,944 441,1021 409,974 442,1018 293,1013 292,919 599,908 448,1009 357,1043 389,974 278,1008 280,1001 488,985 207,927 263,975 527,963 264,1009 574,903 478,1008 317,985 633,855 284,1001 456,1021 338,984 428,1041 307,1025 335,1030 356,991 453,914 231,991 279,1018 206,975 304,1028 626,872 535,972 271,1006 339,1027 558,959 467,914 628,851 375,1033 202,953 425,1025 368,1041 480,1006 180,939 332,1029 393,1023 498,998 273,1023 414,1033 285,1010 314,1004 407,1022 472,1003 412,1009 420,974 302,996 258,937 532,960 432,1017 517,977 283,1009 281,1014 375,1036 265,1018 325,978 330,913 350,1020 232,987 465,1014 351,1035 168,908 197,951 372,1035 367,1035 372,1016 581,920 401,1009 388,1004 414,1026 376,1022 378,1020 597,905 472,995 239,1003 287,990 360,989 458,980 419,1014 335,960 379,1013 410,1030 461,985 531,966 345,1024 171,940 402,1018 386,1023 327,989 223,992 413,1016 516,991 323,971 627,838 508,971 525,962 525,973 356,1040 405,983 284,1026 335,1010 606,899 345,1054 406,1007 544,948 221,987 545,948 190,965 178,960 383,977 395,1024 422,1006 252,1001 238,996 521,986 379,924 379,1041 414,975 220,973 447,979 239,973 474,1008 363,986 201,971 364,1004 401,1032 551,946 294,965 233,986 228,927 289,1016 639,837 201,966 292,933 177,950 298,1026 174,910 198,978 550,966 472,1001 195,935 361,1011 542,957 400,1037 570,922 211,989 333,1031 346,1031 249,1001 397,1004 414,1030 421,1017 578,928 255,957 422,1006 321,1034 372,1015 561,932 241,984 526,965 218,979 544,975 185,946 272,1019 217,974 184,958 618,868 301,905 577,917 325,967 328,1031 381,1033 297,1021 319,1026 212,987 609,891 233,990 388,1027 427,951 307,995 545,935 412,974 259,968 359,1024 393,1025 432,1016 440,1026 373,1017 243,971 339,988 304,1014 322,1036 372,1010 493,983 330,989 189,969 637,851 248,961 246,995 192,929 226,954 238,1004 401,1037 516,973 265,1003 426,1015 551,954 468,976 237,999 571,929 262,964 395,1031 232,948 584,932 474,1014 302,963 506,952 241,947 597,904 448,1015 509,972 180,950 381,1039 522,944 643,844 523,935 190,961 344,963 431,1005 621,858 377,1039 525,930 429,981 385,1024 601,859 273,1012 266,1009 567,927 497,995 392,1019 466,1000 407,1035 187,965 203,903 349,1033 613,888 450,967 481,1012 305,1022 308,1008 554,947 244,982 365,981 210,972 214,965 469,1008 260,974 466,990 375,1040 267,966 306,1019 167,940 234,983 496,985 371,1009 316,1009 368,1031 491,1013 468,1011 341,1024 200,974 261,1009 197,965 469,1018 583,917 203,969 515,981 298,1037 294,1026 215,938 370,1024 506,959 386,968 240,991 586,919 287,965 367,1030 230,997 194,953 227,973 232,1002 407,1019 210,974 431,961 627,868 607,902 224,963 412,957 340,954 388,1004 212,936 167,932 191,965 579,917 406,1035 359,1028 614,880 535,961 385,965 522,972 597,881 384,973 253,908 468,990 400,993 238,948 364,1005 182,888 227,991 167,934 596,895 613,883 275,1004 482,991 354,1044 644,836 217,950 263,1019 408,993 165,911 214,968 246,941 365,995 600,857 415,975 404,990 323,1035 548,963 271,1020 236,955 418,1036 347,1030 463,1001 270,1018 345,1040 344,1008 361,1024 371,1036 237,1006 380,1017 422,1035 499,994 352,1029 180,823 215,980 242,984 582,924 270,968 205,977 250,986 242,984 390,993 477,977 257,986 425,986 470,1010 368,984 414,980 535,963 255,1010 358,1032 368,983 438,1016 254,971 345,996 523,970 308,1010 180,941 255,979 288,1005 280,1013 223,984 167,900 218,978 465,954 377,1024 236,981 220,986 314,1030 422,1027 369,1019 591,877 442,997 542,909 576,872 267,1003 262,913 241,996 404,1033 243,933 324,997 337,1019 212,972 545,935 542,861 310,1011 189,967 182,957 384,1038 328,1023 250,993 267,1010 377,1015 236,1000 228,987 382,962 276,995 355,1015 350,993 285,1017 515,971 597,916 368,1049 232,958 186,962 209,894 497,973 232,986 190,956 425,1034 411,993 387,989 611,897 197,963 561,950 311,959 270,1019 617,898 211,935 404,944 320,1023 485,1010 323,1032 240,997 550,935 545,970 241,958 375,1017 412,1034 592,899 364,1023 405,1028 360,965 597,912 442,957 430,1030 290,1027 296,998 493,1015 575,935 419,1028 239,989 248,955 407,1012 421,1027 642,846 355,1018 241,988 431,1030 227,988 309,1035 489,995 465,1013 300,1009 349,1008 418,1029 407,1036 418,1013 398,1029 457,1024 453,1015 517,982 438,1008 416,977 206,943 494,964 367,977 245,961 425,995 309,1029 643,837 490,984 234,984 226,988 329,1050 384,1006 316,1036 194,928 385,969 253,1011 242,970 174,952 177,947 215,965 434,1012 218,989 259,995 391,1025 459,1006 223,972 359,1010 302,979 574,927 237,1003 349,1029 628,866 466,987 324,1027 613,882 389,891 298,1018 405,1000 229,983 378,1012 376,1021 590,908 246,990 263,1004 236,998 189,969 277,975 370,1030 331,1027 262,980 414,938 284,1022 589,876 308,1021 211,922 181,954 394,1027 460,991 235,970 356,996 443,988 463,1008 298,933 344,1030 301,997 257,1000 187,949 582,914 229,998 319,989 261,985 187,959 262,948 541,964 259,1004 473,978 620,871 176,918 546,955 236,991 643,840 484,1011 171,937 192,958 325,1020 421,1009 408,975 311,1024 287,1036 432,1007 401,967 485,998 317,971 292,971 278,1029 415,1024 396,991 234,993 460,992 370,988 194,941 301,1011 345,1043 269,1008 304,991 384,1019 304,1033 428,984 395,981 479,910 292,1006 627,867 385,1025 529,980 474,995 554,943 278,1010 394,1000 247,1011 220,968 204,983 544,948 303,1014 561,941 437,977 454,1013 511,955 360,1010 298,1013 216,976 563,905 400,1031 334,1037 509,997 208,967 250,1011 605,898 461,1013 486,902 398,1023 417,990 331,1036 254,1006 394,1029 215,944 535,940 425,987 419,1011 274,1031 226,874 466,1021 286,1011 392,1032 309,986 456,1022 462,995 400,1028 285,1011 225,974 504,955 293,1015 280,1010 278,933 617,886 319,1012 625,861 513,975 566,911 469,1021 494,988 256,1009 442,1018 343,1025 614,889 423,1011 447,988 502,998 389,1024 402,1022 426,1013 417,1015 360,1015 392,968 358,1025 209,973 334,1001 336,1029 326,962 504,960 288,1002 638,837 275,946 347,1034 514,929 309,970 498,995 300,970 208,950 257,984 392,984 532,981 227,992 245,959 593,915 373,987 630,856 287,1019 543,953 401,1025 321,1028 423,1013 170,908 446,1017 230,966 552,942 568,931 356,996 523,986 229,981 192,969 419,1028 571,941 244,913 615,837 537,961 243,990 255,1008 328,996 241,997 554,913 289,965 207,913 339,1024 373,1000 391,1009 341,1022 216,957 312,1024 407,1026 631,859 274,1016 562,964 321,992 333,983 598,913 486,974 471,997 227,998 293,1014 452,1019 217,965 249,1000 510,995 507,981 372,1044 323,1014 427,975 345,1037 363,1006 218,953 578,905 523,961 203,954 332,990 387,1009 256,950 376,1019 231,977 440,1025 358,1020 171,890 248,1004 165,896 213,944 508,965 347,1014 199,955 479,1006 217,984 550,943 453,1006 610,872 378,969 328,1012 563,946 384,1010 548,949 375,1038 243,967 558,943 547,954 257,1008 258,1004 222,978 328,1012 433,987 326,987 442,1015 225,973 218,983 324,1037 525,949 495,990 434,1023 490,963 267,1021 401,1024 382,1041 313,1027 482,1006 459,1011 367,1036 500,982 638,844 278,1007 391,997 303,1011 513,999 645,834 412,1021 611,883 258,975 516,953 212,949 303,1034 381,1022 171,945 494,993 347,1017 193,923 499,949 470,1001 315,999 217,960 256,1015 312,1024 331,1028 275,1020 510,942 210,968 592,923 510,942 247,1010 491,1005 421,1022 455,1018 354,1041 439,1005 238,988 358,1040 519,990 298,978 462,1005 245,962 248,974 479,990 423,1005 269,1016 491,1005 335,1022 184,963 456,1011 414,989 301,1011 258,1008 196,949 323,1010 262,1016 359,1027 176,923 207,973 375,1026 302,1036 517,977 353,1007 374,1012 355,1025 167,934 577,919 529,961 591,867 203,978 231,949 501,1000 218,952 292,1019 168,933 201,977 295,1025 531,918 406,1033 412,1017 502,986 333,1022 561,956 387,983 226,943 336,1023 310,1014 248,947 611,880 268,1011 364,1030 358,1016 544,902 507,962 599,904 605,918 358,951 639,833 371,1029 383,1025 219,993 403,1024 601,898 506,973 197,975 430,1010 400,1028 306,1009 193,942 444,1015 470,955 437,1024 292,1028 221,922 411,1006 248,984 412,1021 469,1002 286,1013 576,941 437,996 362,1029 199,944 208,875 213,950 337,1019 331,1026 244,975 618,888 544,970 452,1019 217,991 426,1027 189,919 537,962 370,1010 189,920 493,996 166,905 433,966 174,954 299,1025 547,947 387,1034 418,1018 310,975 507,943 276,971 491,988 399,984 519,989 210,984 505,984 251,982 246,1005 586,893 237,991 621,872 252,913 522,964 573,922 249,995 309,961 519,942 224,963 384,1013 292,1019 384,1030 607,888 393,968 468,905 426,1011 307,1018 371,1010 385,995 466,1011 299,840 343,859 391,879 474,854 416,890 444,897 334,895 288,898 220,892" fill="none" stroke="none" marker-start="url(#oc)" marker-mid="url(#oc)" marker-end="url(#oc)"/>
<path transform="scale(0.5)" d="M540 959h5M540 968h5M433 993h5M561 931h5M175 932h5M625 839h5M310 1011h5M519 980h5M543 954h5M498 1000h5M381 972h5M573 881h5M444 1033h5M467 1003h5M339 991h5M374 1036h5M548 932h5M505 955h5M362 1034h5M400 1025h5M509 988h5M256 977h5M343 979h5M458 1019h5M348 1042h5M508 931h5M471 971h5M603 861h5M594 909h5M241 983h5M429 1015h5M541 955h5M305 986h5M568 943h5M572 935h5M602 889h5M217 951h5M233 995h5M496 1005h5M420 1004h5M437 982h5M502 980h5M607 867h5M375 1009h5M507 947h5M536 967h5M517 975h5M271 1017h5M567 944h5M414 985h5M393 974h5M548 957h5M376 1016h5M494 979h5M327 1015h5M325 996h5M381 1022h5M607 872h5M546 964h5M401 1010h5M494 976h5M491 1010h5M527 967h5M472 963h5M466 961h5M356 988h5M181 959h5M493 997h5M545 961h5M512 945h5M406 998h5M577 898h5M311 978h5M578 881h5M528 980h5M569 946h5M595 908h5M586 922h5M396 961h5M274 1005h5M206 951h5M427 928h5M262 960h5M394 992h5M612 889h5M288 1021h5M389 1042h5M336 993h5M293 981h5M512 980h5M548 915h5M180 929h5M544 947h5M597 907h5M562 910h5M574 926h5M409 1026h5M294 1022h5M420 1025h5M388 1014h5M511 950h5M470 1005h5M617 884h5M471 980h5M309 1007h5M498 950h5M556 910h5M506 987h5M270 1014h5M264 969h5M531 986h5M571 929h5M534 978h5M618 874h5M541 898h5M362 1008h5M352 1041h5M556 921h5M475 1013h5M286 969h5M350 972h5M330 1001h5M502 977h5M321 996h5M472 1008h5M400 1003h5M464 1019h5M308 1016h5M513 979h5M433 997h5M387 1005h5M396 1024h5M459 1014h5M531 959h5M446 958h5M614 862h5M382 1010h5M501 973h5M519 937h5M440 1000h5M615 847h5M357 984h5M300 1021h5M606 842h5M433 1026h5M522 934h5M609 876h5M296 998h5M358 995h5M482 965h5M509 954h5M570 905h5M348 1005h5M410 992h5M238 950h5M587 887h5M504 970h5M588 921h5M257 919h5M635 843h5M557 905h5M350 1020h5M319 1026h5M469 949h5M335 1009h5M363 982h5M450 954h5M411 1009h5M182 960h5M325 1004h5M505 968h5M535 902h5M496 997h5M413 1043h5M223 963h5M186 941h5M440 1004h5M583 901h5M493 960h5M528 924h5M564 922h5M455 975h5M424 1017h5M450 1022h5M312 1019h5M523 969h5M281 1015h5M521 986h5M487 961h5M449 998h5M324 993h5M212 974h5M403 1017h5M268 950h5M464 983h5M385 967h5M576 912h5M551 958h5M464 948h5M575 922h5M299 1003h5M326 1045h5M324 1006h5M552 937h5M516 979h5M557 911h5M478 985h5M468 1022h5M309 1009h5M420 962h5M606 893h5M588 822h5M383 970h5M301 1025h5M524 976h5M607 879h5M321 1028h5M468 1003h5M489 931h5M540 981h5M621 856h5M521 975h5M504 929h5M447 999h5M417 982h5M528 966h5M612 876h5M493 967h5M564 954h5M306 990h5M562 938h5M212 942h5M600 868h5M628 850h5M510 938h5M511 981h5M249 975h5M436 986h5M273 982h5M496 956h5M526 949h5M577 932h5M484 894h5M571 886h5M298 974h5M510 927h5M284 985h5M592 882h5M438 978h5M453 1006h5M348 987h5M620 865h5M384 1038h5M439 1023h5M620 871h5M538 939h5M563 952h5M429 1013h5M396 1032h5M393 1009h5M324 986h5M589 922h5M449 994h5M461 1016h5M170 908h5M572 882h5M276 1002h5M352 1010h5M575 908h5M290 967h5M612 855h5M496 990h5M566 890h5M379 1010h5M629 811h5M182 962h5M606 878h5M289 977h5M546 923h5M301 999h5M483 1004h5M353 1012h5M290 953h5M316 979h5M552 943h5M483 939h5M538 922h5M576 915h5M483 984h5M570 897h5M465 998h5M460 968h5M340 984h5M235 974h5M428 967h5M244 979h5M494 1005h5M337 1036h5M268 1024h5M599 824h5M216 986h5M277 982h5M414 982h5M605 892h5M634 853h5M452 982h5M585 838h5M475 948h5M505 942h5M566 931h5M166 938h5M440 1033h5M329 1006h5M348 1010h5M445 1005h5M378 992h5M568 899h5M546 948h5M424 995h5M581 932h5M239 1001h5M443 1014h5M410 1023h5M641 836h5M641 833h5M442 1011h5M291 976h5M628 866h5M375 1030h5M391 991h5M511 990h5M477 995h5M287 1004h5M555 933h5M637 825h5M470 986h5M539 921h5M464 965h5M629 867h5M197 964h5M600 874h5M272 1011h5M493 1001h5M585 893h5M431 982h5M639 841h5M358 998h5M238 987h5M551 955h5M191 945h5M508 969h5M575 889h5M398 957h5M201 951h5M576 933h5M515 980h5M289 1002h5M605 869h5M476 1006h5M352 1028h5M629 851h5M312 1005h5M587 909h5M522 988h5M296 1015h5M306 1001h5M584 899h5M184 948h5M324 1031h5M330 1014h5M563 914h5M514 991h5M556 949h5M421 980h5M335 1033h5M464 975h5M594 831h5M538 922h5M208 945h5M466 969h5M470 934h5M326 999h5M569 938h5M452 1017h5M527 976h5M455 1008h5M473 1014h5M310 1024h5M613 841h5M625 789h5M465 973h5M541 947h5M551 896h5M336 978h5M500 983h5M487 973h5M536 948h5M407 993h5M590 926h5M597 903h5M583 918h5M531 951h5M347 960h5M450 985h5M483 937h5M485 1002h5M475 1004h5M479 985h5M622 851h5M437 988h5M389 1022h5M521 962h5M432 1019h5M492 942h5M314 1030h5M547 967h5M617 860h5M420 1026h5M619 868h5M250 985h5M305 1045h5M310 1026h5M577 868h5M549 914h5M480 1001h5M624 848h5M470 996h5M419 972h5M343 1025h5M589 907h5M469 1001h5M552 960h5M380 1039h5M280 1010h5M353 1034h5M474 1009h5M565 913h5M602 885h5M371 979h5M506 972h5M505 997h5M585 913h5M397 1020h5M516 947h5M556 930h5M417 1012h5M455 969h5M630 879h5M257 979h5M286 1028h5M456 971h5M351 1037h5M414 1039h5M575 900h5M390 980h5M379 1029h5M262 1015h5M640 839h5M399 1003h5M444 981h5M332 996h5M624 870h5M620 845h5M404 1025h5M268 964h5M513 949h5M435 1016h5M364 995h5M363 1041h5M471 923h5M456 1015h5M218 983h5M485 986h5M435 1031h5M440 973h5M397 1045h5M590 906h5M277 1022h5M438 1019h5M598 913h5M520 904h5M545 928h5M593 919h5M508 991h5M185 930h5M412 1011h5M551 930h5M414 1031h5M435 1042h5M315 1047h5M515 951h5M296 1003h5M589 867h5M246 1009h5M580 927h5M280 1020h5M363 986h5M543 918h5M375 999h5M530 945h5M192 972h5M515 953h5M561 925h5M303 1033h5M564 944h5M618 871h5M458 985h5M536 920h5M566 935h5M606 904h5M534 953h5M580 910h5M588 888h5M358 994h5M559 865h5M460 1016h5M367 1038h5M491 981h5M620 874h5M469 964h5M348 976h5M339 1008h5M491 1000h5M333 990h5M593 875h5M436 1034h5M406 1015h5M325 992h5M474 990h5M205 981h5M637 837h5M512 985h5M284 1010h5M292 982h5M606 882h5M365 980h5M399 1030h5M429 1023h5M440 1029h5M438 1027h5M597 887h5M537 933h5M472 990h5M286 1007h5M613 815h5M301 910h5M232 909h5M626 860h5M474 1019h5M276 992h5M183 943h5M365 1015h5M517 993h5M610 844h5M460 973h5M553 905h5M485 982h5M316 1012h5M537 906h5M187 951h5M520 968h5M499 976h5M438 1009h5M320 1028h5M348 1016h5M580 918h5M579 893h5M518 968h5M520 926h5M376 1011h5M478 982h5M334 1035h5M486 926h5M356 1022h5M253 968h5M407 977h5M566 935h5M601 885h5M444 1014h5M498 926h5M476 1000h5M546 926h5M169 931h5M216 931h5M418 1028h5M600 899h5M405 992h5M374 981h5M279 983h5M512 975h5M317 985h5M579 905h5M636 844h5M539 926h5M539 910h5M440 986h5M618 870h5M561 937h5M454 1015h5M260 997h5M308 983h5M487 937h5M298 989h5M536 981h5M295 992h5M604 847h5M264 971h5M488 964h5M642 841h5M261 943h5M614 885h5M336 982h5M326 964h5M288 941h5M171 931h5M595 876h5M419 1020h5M255 1016h5M436 1027h5M622 875h5M350 1011h5M582 900h5M599 867h5M381 1037h5M322 1028h5M423 992h5M513 969h5M309 1041h5M494 932h5M458 961h5M632 843h5M482 985h5M542 958h5M629 848h5M308 1018h5M363 997h5M300 945h5M444 993h5M602 905h5M360 995h5M492 956h5M502 1000h5M476 957h5M598 903h5M475 935h5M413 1000h5M345 981h5M495 955h5M398 1012h5M614 864h5M639 831h5M329 999h5M423 1033h5M528 961h5M566 933h5M446 1014h5M342 971h5M388 987h5M582 944h5M207 943h5M287 926h5M353 967h5M394 1022h5M313 1027h5M299 1011h5M607 843h5M325 997h5M516 990h5M463 1009h5M560 955h5M471 1004h5M589 914h5M446 977h5M440 1012h5M552 942h5M311 1011h5M548 912h5M167 944h5M247 991h5M498 1000h5M527 977h5M569 932h5M323 983h5M570 943h5M508 972h5M338 1025h5M444 983h5M616 869h5M506 949h5M378 982h5M343 1015h5M418 963h5M565 950h5M537 946h5M324 1038h5M489 934h5M446 1020h5M479 961h5M196 968h5M292 956h5M345 981h5M550 932h5M593 875h5M433 974h5M375 1001h5M274 1043h5M446 983h5M387 1013h5M398 973h5M630 845h5M387 962h5M435 977h5M513 960h5M604 895h5M318 998h5M623 855h5M466 966h5M579 909h5M375 1047h5M307 995h5M536 854h5M588 905h5M439 993h5M524 924h5M446 988h5M457 1007h5M599 903h5M481 975h5M630 861h5M289 1015h5M601 893h5M308 1020h5M313 965h5M543 923h5M461 972h5M527 936h5M607 870h5M505 958h5M557 917h5M306 998h5M416 983h5M378 1010h5M589 889h5M553 908h5M311 995h5M573 895h5M368 1042h5M471 1014h5M483 988h5M506 987h5M475 933h5M549 959h5M557 936h5M369 999h5M515 918h5M560 953h5M279 1017h5M330 1019h5M591 908h5M542 911h5M640 834h5M515 970h5M433 1021h5M307 1023h5M612 871h5M372 966h5M401 1006h5M266 949h5M419 1026h5M485 965h5M438 987h5M557 920h5M605 853h5M624 884h5M552 929h5M634 847h5M340 982h5M462 985h5M581 927h5M415 978h5M474 974h5M270 994h5M475 1005h5M527 949h5M394 1036h5M622 894h5M292 994h5M557 935h5M522 984h5M570 939h5M383 1002h5M302 1005h5M573 903h5M405 971h5M587 936h5M500 952h5M626 868h5M590 879h5M541 925h5M439 1030h5M432 1010h5M562 926h5M530 939h5M502 904h5M640 835h5M454 884h5M542 920h5M424 966h5M409 1016h5M289 957h5M481 998h5M456 988h5M521 960h5M369 1009h5M306 1029h5M235 987h5M518 969h5M441 1034h5M489 929h5M504 960h5M300 1013h5M242 990h5M637 832h5M417 956h5M437 985h5M472 982h5M566 941h5M461 1012h5M574 923h5M458 979h5M554 974h5M485 946h5M578 907h5M276 1011h5M577 910h5M432 974h5M381 1022h5M497 987h5M473 990h5M445 999h5M450 1013h5M569 933h5M289 937h5M305 1018h5M415 987h5M594 892h5M325 1012h5M350 991h5M432 1000h5M594 887h5M639 827h5M438 1014h5M473 973h5M201 946h5M584 920h5M608 885h5M426 992h5M350 1016h5M570 893h5M496 951h5M418 1031h5M637 833h5M375 1008h5M264 965h5M313 1038h5M569 932h5M350 947h5M431 974h5M517 974h5M581 871h5M564 932h5M503 934h5M608 843h5M638 848h5M433 992h5M482 993h5M591 909h5M468 974h5M478 934h5M378 980h5M176 954h5M241 990h5M604 901h5M543 936h5M322 1025h5M266 965h5M586 899h5M176 907h5M295 1006h5M414 994h5M457 969h5M285 958h5M465 991h5M268 1017h5M583 885h5M373 1043h5M367 1011h5M637 840h5M340 1030h5M368 1003h5M181 945h5M527 946h5M487 960h5M449 987h5M168 928h5M350 994h5M576 870h5M418 975h5M197 946h5M575 899h5M559 916h5M379 990h5M347 1004h5M242 972h5M626 857h5M499 943h5M368 1025h5M278 956h5M597 913h5M360 1032h5M523 942h5M468 978h5M305 992h5M524 940h5M563 948h5M362 1020h5M615 846h5M471 1011h5M368 1038h5M394 975h5M577 860h5M626 848h5M546 965h5M631 851h5M553 954h5M341 988h5M223 955h5M467 956h5M403 1031h5M442 938h5M466 993h5M352 991h5M182 944h5M369 1023h5M213 951h5M609 881h5M405 943h5M453 978h5M429 1013h5M338 996h5M486 1015h5M443 975h5M418 1019h5M417 1030h5M418 988h5M274 1021h5M597 908h5M183 927h5M472 959h5M375 977h5M528 957h5M410 976h5M574 937h5M514 976h5M601 901h5M384 991h5M365 977h5M588 906h5M184 968h5M497 963h5M464 953h5M363 1006h5M291 1027h5M638 844h5M638 782h5M584 913h5M404 979h5M266 989h5M372 990h5M623 852h5M204 945h5M316 1005h5M235 916h5M494 949h5M412 1020h5M599 886h5M387 1043h5M593 910h5M512 932h5M422 988h5M407 1045h5M318 998h5M423 938h5M505 952h5M391 1027h5M547 961h5M340 996h5M276 989h5M631 788h5M635 828h5M545 957h5M299 1039h5M439 963h5M521 963h5M325 1018h5M414 1004h5M572 929h5M546 948h5M583 891h5M374 998h5M331 998h5M572 924h5M361 1024h5M436 1031h5M450 981h5M540 956h5M268 974h5M612 880h5M221 991h5M280 1010h5M365 1033h5M452 984h5M314 986h5M598 876h5M484 974h5M377 1003h5M504 1002h5M571 917h5M446 1002h5M343 997h5M444 959h5M211 982h5M217 985h5M519 931h5M455 960h5M359 1020h5M615 885h5M461 1007h5M472 961h5M472 1012h5M469 1004h5M575 939h5M596 892h5M372 983h5M487 976h5M604 867h5M540 912h5M519 942h5M307 993h5M423 1004h5M547 945h5M263 985h5M544 958h5M553 954h5M349 1022h5M335 942h5M221 983h5M473 957h5M427 1001h5M503 942h5M496 968h5M639 849h5M544 941h5M602 866h5M392 1016h5M594 854h5M593 919h5M473 992h5M465 968h5M408 1004h5M616 859h5M319 1033h5M555 941h5M549 942h5M479 988h5M429 982h5M451 1016h5M326 1031h5M545 956h5M389 976h5M233 958h5M227 967h5M473 949h5M172 912h5M497 996h5M503 999h5M491 978h5M415 973h5M636 808h5M563 951h5M273 975h5M273 1020h5M475 977h5M453 987h5M574 907h5M270 1015h5M444 1022h5M405 1006h5M504 955h5M439 963h5M223 920h5M441 992h5M393 1002h5M607 884h5M289 987h5M368 1018h5M545 907h5M495 995h5M497 1006h5M338 1007h5M570 922h5M295 1029h5M498 964h5M464 1008h5M443 1003h5M420 994h5M436 1014h5M469 1024h5M425 972h5M574 902h5M505 983h5M402 1020h5M636 847h5M532 970h5M466 1019h5M590 878h5M476 1010h5M171 921h5M399 1023h5M339 1020h5M533 982h5M191 973h5M628 858h5M335 995h5M266 1004h5M323 1030h5M390 1020h5M189 951h5M533 907h5M267 1008h5M395 1000h5M315 969h5M393 991h5M575 918h5M640 838h5M274 1021h5M442 1000h5M335 1028h5M576 929h5M445 1033h5M572 909h5M237 974h5M434 1027h5M314 1020h5M463 962h5M428 1020h5M436 967h5M623 860h5M518 986h5M411 1006h5M467 971h5M334 998h5M347 980h5M364 1041h5M269 979h5M540 903h5M470 984h5M306 985h5M170 913h5M386 1005h5M620 863h5M183 931h5M356 1001h5M535 937h5M600 873h5M436 1046h5M443 967h5M307 981h5M571 896h5M199 974h5M471 977h5M169 924h5M367 1008h5M548 910h5M478 947h5M531 930h5M484 1009h5M509 992h5M263 991h5M590 886h5M427 1017h5M264 993h5M331 1042h5M387 1010h5M390 1030h5M398 1040h5M506 955h5M518 985h5M247 987h5M596 893h5M344 1043h5M346 1034h5M272 1000h5M569 936h5M553 957h5M295 1015h5M211 972h5M428 1024h5M584 907h5M312 963h5M531 976h5M417 1022h5M471 996h5M600 860h5M318 977h5M512 927h5M345 995h5M432 1014h5M591 921h5M276 983h5M590 867h5M603 906h5M581 915h5M521 914h5M525 953h5M500 998h5M526 951h5M633 835h5M468 1013h5M618 881h5M237 993h5M261 992h5M479 964h5M419 1046h5M293 994h5M456 955h5M310 1042h5M392 1005h5M499 993h5M264 979h5M539 954h5M297 1004h5M444 923h5M630 831h5M289 1017h5M437 986h5M585 860h5M620 878h5M308 1021h5M596 876h5M462 953h5M167 951h5M613 884h5M470 1000h5M623 873h5M354 1035h5M337 971h5M620 862h5M563 886h5M473 979h5M493 976h5M569 895h5M617 884h5M542 904h5M414 1013h5M529 976h5M437 1026h5M530 979h5M575 934h5M596 871h5M551 836h5M556 924h5M340 1004h5M306 995h5M533 917h5M603 899h5M498 1002h5M467 979h5M405 1035h5M354 1038h5M441 1020h5M614 853h5M477 1001h5M637 843h5M192 925h5M264 1005h5M170 897h5M431 1025h5M626 857h5M475 981h5M610 852h5M456 1002h5M450 1014h5M607 899h5M521 980h5M269 977h5M317 983h5M181 932h5M393 984h5M262 984h5M478 970h5M422 1028h5M631 844h5M302 984h5M624 871h5M626 854h5M332 1027h5M216 978h5M475 986h5M451 1000h5M524 953h5M536 931h5M547 960h5M633 852h5M613 872h5M532 959h5M519 965h5M445 974h5M226 985h5M493 949h5M566 913h5M568 876h5M601 866h5M566 948h5M479 1013h5M432 1026h5M186 949h5M628 871h5M433 983h5M455 978h5M485 917h5M453 957h5M287 1018h5M504 960h5M573 831h5M353 1022h5M207 975h5M557 937h5M434 1006h5M325 1022h5M532 950h5M574 940h5M216 991h5M417 965h5M449 968h5M529 982h5M275 1004h5M435 985h5M446 958h5M509 1000h5M570 921h5M471 1020h5M458 952h5M636 834h5M619 864h5M388 1011h5M438 1025h5M635 829h5M273 989h5M526 968h5M537 926h5M374 1010h5M408 982h5M550 923h5M423 966h5M421 979h5M445 985h5M456 1024h5M276 1024h5M604 845h5M509 940h5M577 948h5M416 1022h5M639 843h5M462 974h5M630 845h5M405 990h5M343 1036h5M606 887h5M255 959h5M303 982h5M271 976h5M469 982h5M389 1018h5M404 1000h5M529 920h5M483 962h5M419 982h5M353 1029h5M529 932h5M271 976h5M303 987h5M420 1004h5M472 994h5M431 1028h5M300 971h5M488 986h5M602 868h5M348 979h5M283 1002h5M289 1021h5M340 978h5M364 1010h5M503 968h5M278 999h5M241 996h5M469 996h5M387 1031h5M514 981h5M353 1023h5M344 1056h5M241 939h5M335 982h5M590 917h5M513 992h5M405 980h5M288 1028h5M234 997h5M545 955h5M513 1001h5M591 898h5M369 992h5M319 976h5M499 931h5M401 1022h5M474 1001h5M630 853h5M435 1009h5M441 1000h5M444 1018h5M532 926h5M507 958h5M617 856h5M445 960h5M555 924h5M500 906h5M344 990h5M399 1009h5M464 1019h5M321 997h5M305 1026h5M523 979h5M588 858h5M476 966h5M354 1018h5M573 933h5M604 889h5M380 1023h5M554 951h5M512 954h5M324 995h5M623 833h5M281 1017h5M348 1015h5M294 1016h5M316 951h5M523 865h5M626 868h5M476 950h5M386 1010h5M261 982h5M509 1007h5M598 905h5M533 941h5M537 940h5M449 962h5M446 1005h5M387 1041h5M389 1011h5M306 939h5M318 968h5M640 838h5M184 921h5M423 994h5M274 1020h5M571 869h5M580 928h5M488 954h5M388 1027h5M616 854h5M494 996h5M291 967h5M468 952h5M585 920h5M314 992h5M612 869h5M451 992h5M597 876h5M297 988h5M380 1057h5M528 940h5M459 1012h5M533 959h5M568 948h5M191 971h5M556 950h5M515 967h5M437 1007h5M507 969h5M482 941h5M606 881h5M286 955h5M505 954h5M337 1036h5M584 906h5M522 945h5M628 855h5M564 933h5M446 1009h5M525 970h5M570 946h5M314 988h5M419 1023h5M628 851h5M558 972h5M306 996h5M388 1034h5M238 955h5M427 992h5M406 1047h5M538 948h5M360 966h5M291 999h5M319 996h5M590 882h5M621 871h5M369 978h5M457 986h5M368 957h5M597 852h5M527 922h5M444 995h5M625 873h5M279 1020h5M473 979h5M325 1000h5M455 998h5M607 853h5M301 967h5M434 1005h5M324 1028h5M367 1022h5M474 971h5M326 966h5M625 850h5M344 979h5M570 948h5M255 998h5M585 912h5M571 924h5M453 995h5M397 1018h5M582 868h5M643 820h5M446 991h5M612 863h5M261 967h5M553 911h5M620 869h5M335 1008h5M405 1029h5M242 984h5M577 881h5M643 836h5M349 1007h5M312 959h5M380 1032h5M580 865h5M316 1004h5M301 1034h5M355 1025h5M365 1037h5M407 996h5M583 889h5M616 885h5M180 933h5M257 1015h5M331 1018h5M563 941h5M401 1021h5M614 845h5M369 1010h5M571 918h5M454 988h5M413 1031h5M400 1022h5M432 1014h5M521 932h5M319 968h5M272 985h5M246 1001h5M374 1044h5M450 1010h5M316 994h5M518 979h5M597 888h5M321 1030h5M459 986h5M594 875h5M369 1013h5M309 1023h5M461 981h5M486 1006h5M383 1015h5M331 968h5M540 906h5M623 863h5M438 1001h5M489 988h5M170 922h5M257 985h5M538 975h5M346 1018h5M568 892h5M388 1012h5M530 942h5M379 1029h5M556 927h5M471 979h5M550 946h5M458 1020h5M589 887h5M197 956h5M444 1012h5M572 910h5M391 1034h5M453 1032h5M325 1006h5M453 973h5M263 964h5M476 979h5M267 992h5M497 998h5M263 983h5M470 1002h5M463 1005h5M495 987h5M415 1022h5M452 965h5M578 886h5M438 1020h5M612 890h5M326 1003h5M470 964h5M390 1026h5M551 963h5M548 903h5M577 896h5M409 990h5M478 951h5M546 947h5M600 902h5M576 924h5M522 968h5M608 835h5M385 976h5M576 905h5M348 1014h5M312 948h5M438 1018h5M580 880h5M465 957h5M628 863h5M313 996h5M485 997h5M591 910h5M538 938h5M524 949h5M258 998h5M534 911h5M452 1002h5M585 907h5M587 900h5M558 938h5M444 987h5M403 983h5M338 984h5M298 999h5M482 982h5M637 849h5M539 906h5M304 959h5M426 1015h5M410 1018h5M169 896h5M270 982h5M319 968h5M280 960h5M469 977h5M521 959h5M214 938h5M347 961h5M361 1002h5M516 978h5M468 997h5M383 1031h5M525 957h5M472 972h5M260 1002h5M431 1017h5M393 1013h5M610 880h5M362 1051h5M563 928h5M626 853h5M278 979h5M528 964h5M448 923h5M421 948h5M329 1008h5M236 976h5M319 975h5M559 889h5M497 988h5M513 957h5M537 947h5M631 855h5M554 905h5M460 1016h5M344 1025h5M267 956h5M534 924h5M492 955h5M485 984h5M279 1020h5M572 909h5M398 989h5M596 884h5M219 978h5M443 973h5M551 932h5M225 976h5M557 904h5M568 890h5M387 1009h5M430 958h5M405 977h5M598 881h5M238 987h5M273 993h5M462 957h5M216 964h5M395 979h5M359 1003h5M463 957h5M470 969h5M637 835h5M619 867h5M624 854h5M602 869h5M549 926h5M325 973h5M459 964h5M624 830h5M509 953h5M338 984h5M496 932h5M578 944h5M536 917h5M193 938h5M300 1000h5M576 912h5M424 1020h5M366 990h5M518 961h5M597 882h5M219 970h5M636 842h5M605 883h5M229 990h5M286 988h5M363 1041h5M396 1033h5M420 1023h5M417 1005h5M470 959h5M523 953h5M627 866h5M626 846h5M513 955h5M550 942h5M484 946h5M524 970h5M316 959h5M592 853h5M340 1012h5M550 936h5M368 977h5M417 977h5M629 866h5M283 981h5M517 878h5M392 1035h5M427 962h5M411 1029h5M597 816h5M564 949h5M498 953h5M516 987h5M552 938h5M327 1037h5M401 1011h5M335 1022h5M196 938h5M405 1007h5M365 994h5M512 993h5M394 1033h5M617 853h5M592 902h5M611 885h5M561 941h5M413 984h5M441 1023h5M515 990h5M617 865h5M306 1000h5M408 1017h5M493 990h5M216 985h5M604 868h5M460 955h5M366 1018h5M260 1010h5M576 895h5M455 993h5M614 852h5M570 873h5M458 1022h5M474 977h5M319 1002h5M413 1033h5M465 995h5M259 996h5M404 1009h5M505 960h5M568 893h5M320 1035h5M362 1009h5M286 1017h5M455 1005h5M612 844h5M540 944h5M592 884h5M404 1037h5M446 1023h5M384 1017h5M579 897h5M609 876h5M458 987h5M492 1005h5M438 1022h5M475 958h5M338 973h5M432 983h5M356 1010h5M631 876h5M276 983h5M346 998h5M320 1000h5M355 1041h5M204 949h5M503 973h5M321 987h5M469 989h5M224 994h5M398 961h5M593 902h5M344 1027h5M539 928h5M265 990h5M325 990h5M243 930h5M182 921h5M631 856h5M589 921h5M440 1023h5M418 1008h5M450 1024h5M172 914h5M352 1024h5M238 953h5M184 935h5M580 900h5M552 954h5M440 1023h5M583 942h5M593 913h5M391 981h5M282 1022h5M492 983h5M380 1038h5M586 909h5M644 830h5M520 962h5M463 960h5M240 964h5M551 925h5M487 967h5M493 953h5M599 909h5M333 1010h5M485 979h5M328 981h5M382 1010h5M389 1021h5M361 1003h5M270 932h5M197 961h5M319 1006h5M403 1002h5M522 989h5M333 1004h5M326 963h5M613 885h5M186 919h5M601 810h5M537 947h5M417 1021h5M548 929h5M584 901h5M493 975h5M366 972h5M498 926h5M386 989h5M609 882h5M393 1027h5M281 997h5M502 998h5M423 1033h5M580 892h5M508 968h5M433 936h5M466 990h5M530 976h5M498 981h5M219 963h5M447 978h5M263 1005h5M380 1010h5M535 914h5M597 882h5M349 1038h5M226 932h5M303 1006h5M466 981h5M508 974h5M421 1052h5M387 1006h5M601 897h5M369 1030h5M274 996h5M239 985h5M366 1002h5M619 852h5M371 987h5M392 961h5M312 967h5M598 885h5M402 970h5M433 984h5M241 961h5M345 1052h5M352 1034h5M438 1012h5M516 986h5M584 913h5M272 983h5M449 958h5M286 1004h5M440 898h5M503 982h5M454 931h5M458 1002h5M488 963h5M465 988h5M350 1037h5M459 1009h5M502 975h5M496 999h5M327 1001h5M254 1003h5M510 900h5M572 892h5M489 1008h5M241 986h5M514 974h5M225 959h5M416 991h5M585 884h5M275 978h5M489 961h5M479 1020h5M264 1014h5M587 906h5M476 982h5M447 977h5M433 963h5M380 1002h5M643 828h5M386 937h5M514 990h5M193 937h5M600 883h5M328 956h5M376 987h5M273 1011h5M620 841h5M607 891h5M562 944h5M217 956h5M284 999h5M445 1026h5M463 1000h5M605 866h5M450 998h5M450 1016h5M422 1025h5M238 976h5M342 1008h5M223 950h5M364 990h5M372 1019h5M556 912h5M271 1009h5M214 968h5M546 963h5M396 999h5M632 841h5M527 937h5M547 880h5M248 975h5M434 983h5M606 876h5M342 980h5M209 963h5M508 936h5M502 949h5M580 935h5M609 891h5M491 994h5M484 990h5M612 869h5M287 981h5M542 921h5M452 973h5M575 928h5M240 979h5M615 880h5M477 981h5M536 925h5M641 835h5M233 953h5M315 988h5M491 1004h5M492 941h5M487 1000h5M463 1021h5M592 875h5M397 1034h5M595 857h5M175 912h5M365 1026h5M230 993h5M337 1029h5M633 841h5M355 1048h5M620 878h5M374 992h5M588 941h5M547 933h5M306 998h5M476 966h5M315 1037h5M385 963h5M578 889h5M308 987h5M274 1010h5M371 983h5M298 1028h5M407 996h5M287 998h5M526 977h5M543 905h5M608 871h5M458 979h5M298 996h5M204 939h5M443 977h5M563 931h5M478 995h5M470 951h5M625 868h5M437 1001h5M416 990h5M560 945h5M562 940h5M578 928h5M428 998h5M371 1014h5M636 846h5M539 903h5M544 945h5M587 873h5M538 956h5M212 928h5M617 855h5M523 965h5M550 884h5M517 965h5M313 1018h5M572 927h5M458 955h5M316 985h5M422 999h5M478 1013h5M516 970h5M425 1024h5M277 1015h5M317 999h5M318 1031h5M373 980h5M436 1026h5M419 980h5M511 994h5M474 985h5M615 864h5M481 1008h5M583 876h5M392 1013h5M569 919h5M409 982h5M549 837h5M541 964h5M587 907h5M547 962h5M443 998h5M464 985h5M607 870h5M441 991h5M263 953h5M427 1030h5M353 1013h5M542 959h5M270 1019h5M499 961h5M348 986h5M506 964h5M369 1014h5M588 894h5M467 1010h5M333 1010h5M305 1002h5M289 1004h5M472 995h5M165 929h5M329 998h5M411 999h5M461 992h5M198 955h5M293 1003h5M269 967h5M513 970h5M568 925h5M605 856h5M620 833h5M424 997h5M440 964h5M518 970h5M276 945h5M530 952h5M304 1010h5" stroke="#000" stroke-width="5"/>
<path d="M41.4,432.6 42.9,437.2 44.3,440.8 45.8,444 47.2,447 48.7,449.7 50.2,452.4 51.6,454.9 53.1,457.3 54.5,459.5 56,461.7 57.5,463.9 58.9,465.9 60.4,467.9 61.8,469.9 63.3,471.7 64.8,473.6 66.2,475.3 67.7,477 69.1,478.7 70.6,480.4 72.1,482 73.5,483.5 75,485 76.4,486.5 77.9,488 79.4,489.4 80.8,490.8 82.3,492.1 83.7,493.4 85.2,494.7 86.7,496 88.1,497.2 89.6,498.4 91,499.6 92.5,500.8 94,501.9 95.4,503 96.9,504.1 98.3,505.1 99.8,506.2 101.3,507.2 102.7,508.1 104.2,509.1 105.6,510 107.1,511 108.6,511.9 110,512.7 111.5,513.6 112.9,514.4 114.4,515.3 115.9,516.1 117.3,516.8 118.8,517.6 120.2,518.3 121.7,519.1 123.2,519.8 124.6,520.4 126.1,521.1 127.5,521.8 129,522.4 130.5,523 131.9,523.6 133.4,524.2 134.8,524.8 136.3,525.3 137.8,525.8 139.2,526.3 140.7,526.8 142.1,527.3 143.6,527.8 145.1,528.2 146.5,528.7 148,529.1 149.4,529.5 150.9,529.9 152.4,530.2 153.8,530.6 155.3,530.9 156.7,531.2 158.2,531.5 159.7,531.8 161.1,532.1 162.6,532.4 164,532.6 165.5,532.8 167,533.1 168.4,533.3 169.9,533.4 171.3,533.6 172.8,533.8 174.3,533.9 175.7,534 177.2,534.1 178.6,534.2 180.1,534.3 181.6,534.4 183,534.4 184.5,534.5 185.9,534.5 187.4,534.5 188.9,534.5 190.3,534.5 191.8,534.4 193.2,534.4 194.7,534.3 196.2,534.2 197.6,534.1 199.1,534 200.5,533.9 202,533.8 203.5,533.6 204.9,533.4 206.4,533.3 207.8,533.1 209.3,532.8 210.8,532.6 212.2,532.4 213.7,532.1 215.1,531.8 216.6,531.5 218.1,531.2 219.5,530.9 221,530.6 222.4,530.2 223.9,529.9 225.4,529.5 226.8,529.1 228.3,528.7 229.7,528.2 231.2,527.8 232.7,527.3 234.1,526.8 235.6,526.3 237,525.8 238.5,525.3 240,524.8 241.4,524.2 242.9,523.6 244.3,523 245.8,522.4 247.3,521.8 248.7,521.1 250.2,520.4 251.6,519.8 253.1,519.1 254.6,518.3 256,517.6 257.5,516.8 258.9,516.1 260.4,515.3 261.9,514.4 263.3,513.6 264.8,512.7 266.2,511.9 267.7,511 269.2,510 270.6,509.1 272.1,508.1 273.5,507.2 275,506.2 276.5,505.1 277.9,504.1 279.4,503 280.8,501.9 282.3,500.8 283.8,499.6 285.2,498.4 286.7,497.2 288.1,496 289.6,494.7 291.1,493.4 292.5,492.1 294,490.8 295.4,489.4 296.9,488 298.4,486.5 299.8,485 301.3,483.5 302.7,482 304.2,480.4 305.7,478.7 307.1,477 308.6,475.3 310,473.6 311.5,471.7 313,469.9 314.4,467.9 315.9,465.9 317.3,463.9 318.8,461.7 320.3,459.5 321.7,457.3 323.2,454.9 324.6,452.4 326.1,449.7 327.6,447 329,444 330.5,440.8 331.9,437.2 333.4,432.6" fill="none" stroke="#e00000" stroke-width="3.1" clip-path="url(#clc)"/>
<path d="M41.4,401.9 42.9,407.9 44.3,412.4 45.8,416.5 47.2,420.2 48.7,423.6 50.2,426.9 51.6,429.9 53.1,432.9 54.5,435.7 56,438.4 57.5,441 58.9,443.5 60.4,445.9 61.8,448.2 63.3,450.5 64.8,452.7 66.2,454.8 67.7,456.9 69.1,458.9 70.6,460.9 72.1,462.8 73.5,464.6 75,466.4 76.4,468.2 77.9,469.9 79.4,471.6 80.8,473.2 82.3,474.8 83.7,476.4 85.2,477.9 86.7,479.3 88.1,480.8 89.6,482.2 91,483.6 92.5,484.9 94,486.2 95.4,487.5 96.9,488.7 98.3,490 99.8,491.2 101.3,492.3 102.7,493.5 104.2,494.6 105.6,495.6 107.1,496.7 108.6,497.7 110,498.7 111.5,499.7 112.9,500.6 114.4,501.6 115.9,502.5 117.3,503.4 118.8,504.2 120.2,505 121.7,505.8 123.2,506.6 124.6,507.4 126.1,508.1 127.5,508.9 129,509.6 130.5,510.2 131.9,510.9 133.4,511.5 134.8,512.2 136.3,512.8 137.8,513.3 139.2,513.9 140.7,514.4 142.1,514.9 143.6,515.4 145.1,515.9 146.5,516.4 148,516.8 149.4,517.2 150.9,517.6 152.4,518 153.8,518.4 155.3,518.7 156.7,519.1 158.2,519.4 159.7,519.7 161.1,519.9 162.6,520.2 164,520.4 165.5,520.6 167,520.8 168.4,521 169.9,521.2 171.3,521.3 172.8,521.5 174.3,521.6 175.7,521.7 177.2,521.7 178.6,521.8 180.1,521.8 181.6,521.9 183,521.9 184.5,521.9 185.9,521.8 187.4,521.8 188.9,521.7 190.3,521.6 191.8,521.5 193.2,521.4 194.7,521.3 196.2,521.1 197.6,521 199.1,520.8 200.5,520.6 202,520.4 203.5,520.1 204.9,519.9 206.4,519.6 207.8,519.3 209.3,519 210.8,518.7 212.2,518.3 213.7,518 215.1,517.6 216.6,517.2 218.1,516.8 219.5,516.3 221,515.9 222.4,515.4 223.9,514.9 225.4,514.4 226.8,513.9 228.3,513.3 229.7,512.8 231.2,512.2 232.7,511.6 234.1,510.9 235.6,510.3 237,509.6 238.5,508.9 240,508.2 241.4,507.5 242.9,506.8 244.3,506 245.8,505.2 247.3,504.4 248.7,503.6 250.2,502.7 251.6,501.9 253.1,501 254.6,500 256,499.1 257.5,498.1 258.9,497.1 260.4,496.1 261.9,495.1 263.3,494 264.8,493 266.2,491.8 267.7,490.7 269.2,489.6 270.6,488.4 272.1,487.1 273.5,485.9 275,484.6 276.5,483.3 277.9,482 279.4,480.7 280.8,479.3 282.3,477.8 283.8,476.4 285.2,474.9 286.7,473.4 288.1,471.8 289.6,470.3 291.1,468.6 292.5,467 294,465.3 295.4,463.5 296.9,461.8 298.4,459.9 299.8,458.1 301.3,456.1 302.7,454.2 304.2,452.2 305.7,450.1 307.1,448 308.6,445.8 310,443.6 311.5,441.3 313,438.9 314.4,436.4 315.9,433.9 317.3,431.3 318.8,428.6 320.3,425.8 321.7,422.9 323.2,419.8 324.6,416.6 326.1,413.3 327.6,409.7 329,405.9 330.5,401.8 331.9,397.1 333.4,391.1" fill="none" stroke="#1fe51f" stroke-width="2.7" clip-path="url(#clc)"/>
<path d="M41.4,330.6 42.9,339.9 44.3,347.1 45.8,353.5 47.2,359.4 48.7,365 50.2,370.2 51.6,375.2 53.1,380 54.5,384.6 56,389 57.5,393.3 58.9,397.4 60.4,401.3 61.8,405.2 63.3,409 64.8,412.6 66.2,416.1 67.7,419.6 69.1,423 70.6,426.2 72.1,429.4 73.5,432.5 75,435.6 76.4,438.5 77.9,441.4 79.4,444.3 80.8,447 82.3,449.7 83.7,452.4 85.2,454.9 86.7,457.5 88.1,459.9 89.6,462.3 91,464.7 92.5,467 94,469.3 95.4,471.5 96.9,473.6 98.3,475.7 99.8,477.8 101.3,479.8 102.7,481.8 104.2,483.7 105.6,485.6 107.1,487.4 108.6,489.2 110,491 111.5,492.7 112.9,494.4 114.4,496 115.9,497.6 117.3,499.2 118.8,500.7 120.2,502.2 121.7,503.6 123.2,505 124.6,506.4 126.1,507.7 127.5,509 129,510.3 130.5,511.5 131.9,512.7 133.4,513.9 134.8,515 136.3,516.1 137.8,517.2 139.2,518.2 140.7,519.2 142.1,520.1 143.6,521.1 145.1,522 146.5,522.8 148,523.6 149.4,524.4 150.9,525.2 152.4,525.9 153.8,526.6 155.3,527.3 156.7,528 158.2,528.6 159.7,529.2 161.1,529.7 162.6,530.2 164,530.7 165.5,531.2 167,531.6 168.4,532 169.9,532.4 171.3,532.7 172.8,533 174.3,533.3 175.7,533.6 177.2,533.8 178.6,534 180.1,534.1 181.6,534.3 183,534.4 184.5,534.4 185.9,534.5 187.4,534.5 188.9,534.5 190.3,534.4 191.8,534.4 193.2,534.3 194.7,534.1 196.2,534 197.6,533.8 199.1,533.6 200.5,533.3 202,533 203.5,532.7 204.9,532.4 206.4,532 207.8,531.6 209.3,531.2 210.8,530.7 212.2,530.2 213.7,529.7 215.1,529.2 216.6,528.6 218.1,528 219.5,527.3 221,526.6 222.4,525.9 223.9,525.2 225.4,524.4 226.8,523.6 228.3,522.8 229.7,522 231.2,521.1 232.7,520.1 234.1,519.2 235.6,518.2 237,517.2 238.5,516.1 240,515 241.4,513.9 242.9,512.7 244.3,511.5 245.8,510.3 247.3,509 248.7,507.7 250.2,506.4 251.6,505 253.1,503.6 254.6,502.2 256,500.7 257.5,499.2 258.9,497.6 260.4,496 261.9,494.4 263.3,492.7 264.8,491 266.2,489.2 267.7,487.4 269.2,485.6 270.6,483.7 272.1,481.8 273.5,479.8 275,477.8 276.5,475.7 277.9,473.6 279.4,471.5 280.8,469.3 282.3,467 283.8,464.7 285.2,462.3 286.7,459.9 288.1,457.5 289.6,454.9 291.1,452.4 292.5,449.7 294,447 295.4,444.3 296.9,441.4 298.4,438.5 299.8,435.6 301.3,432.5 302.7,429.4 304.2,426.2 305.7,423 307.1,419.6 308.6,416.1 310,412.6 311.5,409 313,405.2 314.4,401.3 315.9,397.4 317.3,393.3 318.8,389 320.3,384.6 321.7,380 323.2,375.2 324.6,370.2 326.1,365 327.6,359.4 329,353.5 330.5,347.1 331.9,339.9 333.4,330.6" fill="none" stroke="#0000e6" stroke-width="3.0" clip-path="url(#clc)"/>
<path d="M41.4,420.5 42.9,422.9 44.3,425 45.8,427 47.2,428.9 48.7,430.8 50.2,432.6 51.6,434.4 53.1,436.1 54.5,437.8 56,439.5 57.5,441.1 58.9,442.8 60.4,444.3 61.8,445.9 63.3,447.4 64.8,448.9 66.2,450.4 67.7,451.8 69.1,453.3 70.6,454.7 72.1,456 73.5,457.4 75,458.7 76.4,460.1 77.9,461.3 79.4,462.6 80.8,463.9 82.3,465.1 83.7,466.3 85.2,467.5 86.7,468.7 88.1,469.8 89.6,470.9 91,472 92.5,473.1 94,474.2 95.4,475.2 96.9,476.3 98.3,477.3 99.8,478.3 101.3,479.3 102.7,480.2 104.2,481.1 105.6,482.1 107.1,483 108.6,483.8 110,484.7 111.5,485.6 112.9,486.4 114.4,487.2 115.9,488 117.3,488.7 118.8,489.5 120.2,490.2 121.7,491 123.2,491.7 124.6,492.3 126.1,493 127.5,493.7 129,494.3 130.5,494.9 131.9,495.5 133.4,496.1 134.8,496.6 136.3,497.2 137.8,497.7 139.2,498.2 140.7,498.7 142.1,499.2 143.6,499.6 145.1,500.1 146.5,500.5 148,500.9 149.4,501.3 150.9,501.6 152.4,502 153.8,502.3 155.3,502.6 156.7,502.9 158.2,503.2 159.7,503.5 161.1,503.7 162.6,504 164,504.2 165.5,504.4 167,504.6 168.4,504.7 169.9,504.9 171.3,505 172.8,505.1 174.3,505.2 175.7,505.3 177.2,505.4 178.6,505.4 180.1,505.4 181.6,505.5 183,505.4 184.5,505.4 185.9,505.4 187.4,505.3 188.9,505.3 190.3,505.2 191.8,505.1 193.2,504.9 194.7,504.8 196.2,504.6 197.6,504.5 199.1,504.3 200.5,504.1 202,503.8 203.5,503.6 204.9,503.3 206.4,503.1 207.8,502.8 209.3,502.5 210.8,502.1 212.2,501.8 213.7,501.4 215.1,501 216.6,500.7 218.1,500.2 219.5,499.8 221,499.4 222.4,498.9 223.9,498.4 225.4,497.9 226.8,497.4 228.3,496.9 229.7,496.3 231.2,495.8 232.7,495.2 234.1,494.6 235.6,494 237,493.3 238.5,492.7 240,492 241.4,491.3 242.9,490.6 244.3,489.9 245.8,489.1 247.3,488.4 248.7,487.6 250.2,486.8 251.6,486 253.1,485.2 254.6,484.3 256,483.5 257.5,482.6 258.9,481.7 260.4,480.8 261.9,479.8 263.3,478.9 264.8,477.9 266.2,476.9 267.7,475.9 269.2,474.9 270.6,473.8 272.1,472.7 273.5,471.7 275,470.6 276.5,469.4 277.9,468.3 279.4,467.1 280.8,466 282.3,464.8 283.8,463.5 285.2,462.3 286.7,461.1 288.1,459.8 289.6,458.5 291.1,457.2 292.5,455.8 294,454.5 295.4,453.1 296.9,451.7 298.4,450.3 299.8,448.8 301.3,447.4 302.7,445.9 304.2,444.4 305.7,442.8 307.1,441.3 308.6,439.7 310,438.1 311.5,436.5 313,434.8 314.4,433.1 315.9,431.4 317.3,429.7 318.8,427.9 320.3,426.1 321.7,424.3 323.2,422.4 324.6,420.5 326.1,418.6 327.6,416.6 329,414.5 330.5,412.4 331.9,410.2 333.4,407.7" fill="none" stroke="#6a0000" stroke-width="3.3" clip-path="url(#clc)"/>
<text x="182.8" y="309" text-anchor="middle" font-family="Liberation Serif" font-size="21.6" fill="#111">(a)</text>
<text x="516.5" y="309" text-anchor="middle" font-family="Liberation Serif" font-size="21.6" fill="#111">(b)</text>
<text x="188.4" y="589" text-anchor="middle" font-family="Liberation Serif" font-size="21.6" fill="#111">(c)</text>
<text x="528.3" y="589" text-anchor="middle" font-family="Liberation Serif" font-size="21.6" fill="#111">(d)</text>
</svg></body></html>
